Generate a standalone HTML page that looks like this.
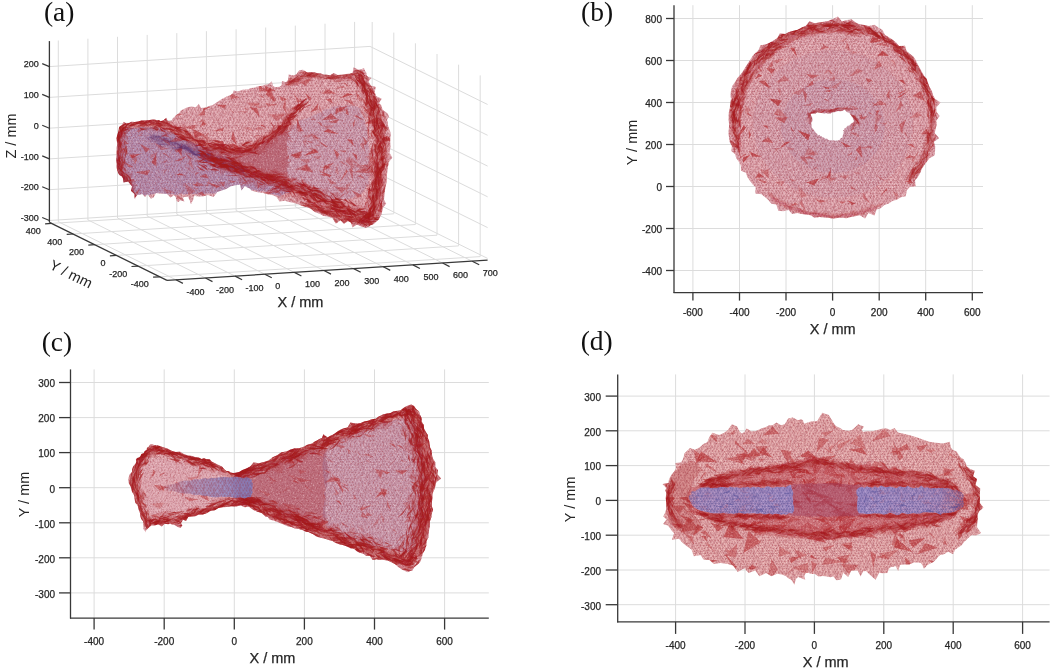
<!DOCTYPE html>
<html><head><meta charset="utf-8"><style>
html,body{margin:0;padding:0;background:#fff;width:1051px;height:670px;overflow:hidden}
svg{display:block}
</style></head><body>
<svg width="1051" height="670" viewBox="0 0 1051 670" font-family="Liberation Sans, Arial, sans-serif">
<defs>
<pattern id="mesh" patternUnits="userSpaceOnUse" width="36" height="31.32"><path d="M-1.3,-2.6L2.0,-3.2M-1.3,-2.6L-3.1,-0.3M-1.3,-2.6L0.2,0.4M2.0,-3.2L4.2,-2.5M2.0,-3.2L0.2,0.4M2.0,-3.2L3.2,-0.6M4.2,-2.5L7.0,-2.2M4.2,-2.5L3.2,-0.6M4.2,-2.5L5.2,0.3M7.0,-2.2L9.8,-3.1M7.0,-2.2L5.2,0.3M7.0,-2.2L9.7,0.7M9.8,-3.1L12.8,-2.7M9.8,-3.1L9.7,0.7M9.8,-3.1L12.3,0.7M12.8,-2.7L17.0,-2.1M12.8,-2.7L12.3,0.7M12.8,-2.7L14.4,0.5M17.0,-2.1L19.8,-2.2M17.0,-2.1L14.4,0.5M17.0,-2.1L17.8,0.4M19.8,-2.2L22.8,-2.7M19.8,-2.2L17.8,0.4M19.8,-2.2L20.7,0.2M22.8,-2.7L25.7,-2.5M22.8,-2.7L20.7,0.2M22.8,-2.7L24.2,0.4M25.7,-2.5L28.7,-2.5M25.7,-2.5L24.2,0.4M25.7,-2.5L26.6,0.6M28.7,-2.5L32.3,-2.6M28.7,-2.5L26.6,0.6M28.7,-2.5L30.8,0.7M32.3,-2.6L34.7,-2.6M32.3,-2.6L30.8,0.7M32.3,-2.6L32.9,-0.3M34.7,-2.6L38.0,-3.2M34.7,-2.6L32.9,-0.3M34.7,-2.6L36.2,0.4M38.0,-3.2L40.2,-2.5M38.0,-3.2L36.2,0.4M38.0,-3.2L39.2,-0.6M-3.1,-0.3L0.2,0.4M-3.1,-0.3L-0.7,2.6M-3.1,-0.3L-4.3,2.4M0.2,0.4L3.2,-0.6M0.2,0.4L2.0,3.3M0.2,0.4L-0.7,2.6M3.2,-0.6L5.2,0.3M3.2,-0.6L3.7,3.2M3.2,-0.6L2.0,3.3M5.2,0.3L9.7,0.7M5.2,0.3L7.2,2.3M5.2,0.3L3.7,3.2M9.7,0.7L12.3,0.7M9.7,0.7L10.2,2.4M9.7,0.7L7.2,2.3M12.3,0.7L14.4,0.5M12.3,0.7L12.9,1.9M12.3,0.7L10.2,2.4M14.4,0.5L17.8,0.4M14.4,0.5L16.2,2.5M14.4,0.5L12.9,1.9M17.8,0.4L20.7,0.2M17.8,0.4L20.0,2.9M17.8,0.4L16.2,2.5M20.7,0.2L24.2,0.4M20.7,0.2L22.9,3.1M20.7,0.2L20.0,2.9M24.2,0.4L26.6,0.6M24.2,0.4L25.7,2.9M24.2,0.4L22.9,3.1M26.6,0.6L30.8,0.7M26.6,0.6L27.7,2.5M26.6,0.6L25.7,2.9M30.8,0.7L32.9,-0.3M30.8,0.7L31.7,2.4M30.8,0.7L27.7,2.5M32.9,-0.3L36.2,0.4M32.9,-0.3L35.3,2.6M32.9,-0.3L31.7,2.4M36.2,0.4L39.2,-0.6M36.2,0.4L38.0,3.3M36.2,0.4L35.3,2.6M-0.7,2.6L2.0,3.3M-0.7,2.6L-3.4,5.2M-0.7,2.6L0.4,5.9M2.0,3.3L3.7,3.2M2.0,3.3L0.4,5.9M2.0,3.3L2.5,4.8M3.7,3.2L7.2,2.3M3.7,3.2L2.5,4.8M3.7,3.2L6.5,5.2M7.2,2.3L10.2,2.4M7.2,2.3L6.5,5.2M7.2,2.3L9.0,5.6M10.2,2.4L12.9,1.9M10.2,2.4L9.0,5.6M10.2,2.4L12.8,5.3M12.9,1.9L16.2,2.5M12.9,1.9L12.8,5.3M12.9,1.9L15.8,5.7M16.2,2.5L20.0,2.9M16.2,2.5L15.8,5.7M16.2,2.5L18.3,5.6M20.0,2.9L22.9,3.1M20.0,2.9L18.3,5.6M20.0,2.9L20.7,5.7M22.9,3.1L25.7,2.9M22.9,3.1L20.7,5.7M22.9,3.1L23.2,4.7M25.7,2.9L27.7,2.5M25.7,2.9L23.2,4.7M25.7,2.9L26.6,5.1M27.7,2.5L31.7,2.4M27.7,2.5L26.6,5.1M27.7,2.5L30.7,4.5M31.7,2.4L35.3,2.6M31.7,2.4L30.7,4.5M31.7,2.4L32.6,5.2M35.3,2.6L38.0,3.3M35.3,2.6L32.6,5.2M35.3,2.6L36.4,5.9M38.0,3.3L39.7,3.2M38.0,3.3L36.4,5.9M38.0,3.3L38.5,4.8M-3.4,5.2L0.4,5.9M-3.4,5.2L-2.1,8.0M-3.4,5.2L-5.2,7.9M0.4,5.9L2.5,4.8M0.4,5.9L0.7,7.8M0.4,5.9L-2.1,8.0M2.5,4.8L6.5,5.2M2.5,4.8L5.3,8.4M2.5,4.8L0.7,7.8M6.5,5.2L9.0,5.6M6.5,5.2L7.2,7.8M6.5,5.2L5.3,8.4M9.0,5.6L12.8,5.3M9.0,5.6L9.8,8.2M9.0,5.6L7.2,7.8M12.8,5.3L15.8,5.7M12.8,5.3L13.3,7.4M12.8,5.3L9.8,8.2M15.8,5.7L18.3,5.6M15.8,5.7L17.3,7.8M15.8,5.7L13.3,7.4M18.3,5.6L20.7,5.7M18.3,5.6L19.3,8.1M18.3,5.6L17.3,7.8M20.7,5.7L23.2,4.7M20.7,5.7L23.1,8.1M20.7,5.7L19.3,8.1M23.2,4.7L26.6,5.1M23.2,4.7L25.4,8.1M23.2,4.7L23.1,8.1M26.6,5.1L30.7,4.5M26.6,5.1L27.8,8.3M26.6,5.1L25.4,8.1M30.7,4.5L32.6,5.2M30.7,4.5L30.8,7.9M30.7,4.5L27.8,8.3M32.6,5.2L36.4,5.9M32.6,5.2L33.9,8.0M32.6,5.2L30.8,7.9M36.4,5.9L38.5,4.8M36.4,5.9L36.7,7.8M36.4,5.9L33.9,8.0M-2.1,8.0L0.7,7.8M-2.1,8.0L-3.1,10.1M-2.1,8.0L0.8,10.7M0.7,7.8L5.3,8.4M0.7,7.8L0.8,10.7M0.7,7.8L2.6,11.1M5.3,8.4L7.2,7.8M5.3,8.4L2.6,11.1M5.3,8.4L6.3,9.8M7.2,7.8L9.8,8.2M7.2,7.8L6.3,9.8M7.2,7.8L9.5,11.0M9.8,8.2L13.3,7.4M9.8,8.2L9.5,11.0M9.8,8.2L12.2,10.9M13.3,7.4L17.3,7.8M13.3,7.4L12.2,10.9M13.3,7.4L15.0,10.8M17.3,7.8L19.3,8.1M17.3,7.8L15.0,10.8M17.3,7.8L17.6,10.4M19.3,8.1L23.1,8.1M19.3,8.1L17.6,10.4M19.3,8.1L21.8,11.1M23.1,8.1L25.4,8.1M23.1,8.1L21.8,11.1M23.1,8.1L23.5,10.7M25.4,8.1L27.8,8.3M25.4,8.1L23.5,10.7M25.4,8.1L26.8,9.7M27.8,8.3L30.8,7.9M27.8,8.3L26.8,9.7M27.8,8.3L30.2,9.9M30.8,7.9L33.9,8.0M30.8,7.9L30.2,9.9M30.8,7.9L32.9,10.1M33.9,8.0L36.7,7.8M33.9,8.0L32.9,10.1M33.9,8.0L36.8,10.7M36.7,7.8L41.3,8.4M36.7,7.8L36.8,10.7M36.7,7.8L38.6,11.1M-3.1,10.1L0.8,10.7M-3.1,10.1L-1.0,13.5M-3.1,10.1L-4.3,13.6M0.8,10.7L2.6,11.1M0.8,10.7L2.2,12.5M0.8,10.7L-1.0,13.5M2.6,11.1L6.3,9.8M2.6,11.1L4.6,13.3M2.6,11.1L2.2,12.5M6.3,9.8L9.5,11.0M6.3,9.8L8.3,12.3M6.3,9.8L4.6,13.3M9.5,11.0L12.2,10.9M9.5,11.0L9.7,13.7M9.5,11.0L8.3,12.3M12.2,10.9L15.0,10.8M12.2,10.9L13.4,12.9M12.2,10.9L9.7,13.7M15.0,10.8L17.6,10.4M15.0,10.8L16.5,12.7M15.0,10.8L13.4,12.9M17.6,10.4L21.8,11.1M17.6,10.4L20.0,13.3M17.6,10.4L16.5,12.7M21.8,11.1L23.5,10.7M21.8,11.1L22.5,13.1M21.8,11.1L20.0,13.3M23.5,10.7L26.8,9.7M23.5,10.7L25.7,12.4M23.5,10.7L22.5,13.1M26.8,9.7L30.2,9.9M26.8,9.7L28.7,12.4M26.8,9.7L25.7,12.4M30.2,9.9L32.9,10.1M30.2,9.9L31.7,13.6M30.2,9.9L28.7,12.4M32.9,10.1L36.8,10.7M32.9,10.1L35.0,13.5M32.9,10.1L31.7,13.6M36.8,10.7L38.6,11.1M36.8,10.7L38.2,12.5M36.8,10.7L35.0,13.5M-1.0,13.5L2.2,12.5M-1.0,13.5L-3.8,15.7M-1.0,13.5L-0.1,15.3M2.2,12.5L4.6,13.3M2.2,12.5L-0.1,15.3M2.2,12.5L2.5,16.3M4.6,13.3L8.3,12.3M4.6,13.3L2.5,16.3M4.6,13.3L6.4,16.2M8.3,12.3L9.7,13.7M8.3,12.3L6.4,16.2M8.3,12.3L8.3,15.4M9.7,13.7L13.4,12.9M9.7,13.7L8.3,15.4M9.7,13.7L11.2,16.3M13.4,12.9L16.5,12.7M13.4,12.9L11.2,16.3M13.4,12.9L14.8,15.1M16.5,12.7L20.0,13.3M16.5,12.7L14.8,15.1M16.5,12.7L17.6,16.3M20.0,13.3L22.5,13.1M20.0,13.3L17.6,16.3M20.0,13.3L20.4,16.2M22.5,13.1L25.7,12.4M22.5,13.1L20.4,16.2M22.5,13.1L24.0,15.2M25.7,12.4L28.7,12.4M25.7,12.4L24.0,15.2M25.7,12.4L27.1,15.4M28.7,12.4L31.7,13.6M28.7,12.4L27.1,15.4M28.7,12.4L29.8,15.6M31.7,13.6L35.0,13.5M31.7,13.6L29.8,15.6M31.7,13.6L32.2,15.7M35.0,13.5L38.2,12.5M35.0,13.5L32.2,15.7M35.0,13.5L35.9,15.3M38.2,12.5L40.6,13.3M38.2,12.5L35.9,15.3M38.2,12.5L38.5,16.3M-3.8,15.7L-0.1,15.3M-3.8,15.7L-1.9,18.9M-3.8,15.7L-5.0,18.0M-0.1,15.3L2.5,16.3M-0.1,15.3L1.6,18.4M-0.1,15.3L-1.9,18.9M2.5,16.3L6.4,16.2M2.5,16.3L4.8,19.0M2.5,16.3L1.6,18.4M6.4,16.2L8.3,15.4M6.4,16.2L6.7,18.7M6.4,16.2L4.8,19.0M8.3,15.4L11.2,16.3M8.3,15.4L10.7,18.9M8.3,15.4L6.7,18.7M11.2,16.3L14.8,15.1M11.2,16.3L12.7,18.3M11.2,16.3L10.7,18.9M14.8,15.1L17.6,16.3M14.8,15.1L16.3,19.0M14.8,15.1L12.7,18.3M17.6,16.3L20.4,16.2M17.6,16.3L19.8,18.4M17.6,16.3L16.3,19.0M20.4,16.2L24.0,15.2M20.4,16.2L23.2,18.2M20.4,16.2L19.8,18.4M24.0,15.2L27.1,15.4M24.0,15.2L24.7,17.7M24.0,15.2L23.2,18.2M27.1,15.4L29.8,15.6M27.1,15.4L28.6,19.0M27.1,15.4L24.7,17.7M29.8,15.6L32.2,15.7M29.8,15.6L31.0,18.0M29.8,15.6L28.6,19.0M32.2,15.7L35.9,15.3M32.2,15.7L34.1,18.9M32.2,15.7L31.0,18.0M35.9,15.3L38.5,16.3M35.9,15.3L37.6,18.4M35.9,15.3L34.1,18.9M-1.9,18.9L1.6,18.4M-1.9,18.9L-2.5,20.5M-1.9,18.9L-0.8,20.5M1.6,18.4L4.8,19.0M1.6,18.4L-0.8,20.5M1.6,18.4L3.7,20.6M4.8,19.0L6.7,18.7M4.8,19.0L3.7,20.6M4.8,19.0L5.8,21.0M6.7,18.7L10.7,18.9M6.7,18.7L5.8,21.0M6.7,18.7L8.7,21.5M10.7,18.9L12.7,18.3M10.7,18.9L8.7,21.5M10.7,18.9L12.6,20.3M12.7,18.3L16.3,19.0M12.7,18.3L12.6,20.3M12.7,18.3L15.8,21.1M16.3,19.0L19.8,18.4M16.3,19.0L15.8,21.1M16.3,19.0L17.2,21.0M19.8,18.4L23.2,18.2M19.8,18.4L17.2,21.0M19.8,18.4L21.3,21.2M23.2,18.2L24.7,17.7M23.2,18.2L21.3,21.2M23.2,18.2L23.7,20.4M24.7,17.7L28.6,19.0M24.7,17.7L23.7,20.4M24.7,17.7L27.5,20.8M28.6,19.0L31.0,18.0M28.6,19.0L27.5,20.8M28.6,19.0L30.8,20.7M31.0,18.0L34.1,18.9M31.0,18.0L30.8,20.7M31.0,18.0L33.5,20.5M34.1,18.9L37.6,18.4M34.1,18.9L33.5,20.5M34.1,18.9L35.2,20.5M37.6,18.4L40.8,19.0M37.6,18.4L35.2,20.5M37.6,18.4L39.7,20.6M-2.5,20.5L-0.8,20.5M-2.5,20.5L-1.9,23.0M-2.5,20.5L-3.7,24.1M-0.8,20.5L3.7,20.6M-0.8,20.5L1.1,24.1M-0.8,20.5L-1.9,23.0M3.7,20.6L5.8,21.0M3.7,20.6L4.3,23.0M3.7,20.6L1.1,24.1M5.8,21.0L8.7,21.5M5.8,21.0L6.7,22.8M5.8,21.0L4.3,23.0M8.7,21.5L12.6,20.3M8.7,21.5L10.6,23.2M8.7,21.5L6.7,22.8M12.6,20.3L15.8,21.1M12.6,20.3L13.9,24.2M12.6,20.3L10.6,23.2M15.8,21.1L17.2,21.0M15.8,21.1L16.5,23.2M15.8,21.1L13.9,24.2M17.2,21.0L21.3,21.2M17.2,21.0L19.1,23.7M17.2,21.0L16.5,23.2M21.3,21.2L23.7,20.4M21.3,21.2L22.9,23.0M21.3,21.2L19.1,23.7M23.7,20.4L27.5,20.8M23.7,20.4L25.0,22.8M23.7,20.4L22.9,23.0M27.5,20.8L30.8,20.7M27.5,20.8L29.0,23.7M27.5,20.8L25.0,22.8M30.8,20.7L33.5,20.5M30.8,20.7L32.3,24.1M30.8,20.7L29.0,23.7M33.5,20.5L35.2,20.5M33.5,20.5L34.1,23.0M33.5,20.5L32.3,24.1M35.2,20.5L39.7,20.6M35.2,20.5L37.1,24.1M35.2,20.5L34.1,23.0M-1.9,23.0L1.1,24.1M-1.9,23.0L-2.2,25.8M-1.9,23.0L0.5,25.6M1.1,24.1L4.3,23.0M1.1,24.1L0.5,25.6M1.1,24.1L2.4,25.4M4.3,23.0L6.7,22.8M4.3,23.0L2.4,25.4M4.3,23.0L5.5,26.8M6.7,22.8L10.6,23.2M6.7,22.8L5.5,26.8M6.7,22.8L8.7,25.6M10.6,23.2L13.9,24.2M10.6,23.2L8.7,25.6M10.6,23.2L12.2,26.5M13.9,24.2L16.5,23.2M13.9,24.2L12.2,26.5M13.9,24.2L14.3,25.8M16.5,23.2L19.1,23.7M16.5,23.2L14.3,25.8M16.5,23.2L17.9,26.6M19.1,23.7L22.9,23.0M19.1,23.7L17.9,26.6M19.1,23.7L21.5,26.2M22.9,23.0L25.0,22.8M22.9,23.0L21.5,26.2M22.9,23.0L23.9,25.9M25.0,22.8L29.0,23.7M25.0,22.8L23.9,25.9M25.0,22.8L26.8,25.6M29.0,23.7L32.3,24.1M29.0,23.7L26.8,25.6M29.0,23.7L30.2,25.7M32.3,24.1L34.1,23.0M32.3,24.1L30.2,25.7M32.3,24.1L33.8,25.8M34.1,23.0L37.1,24.1M34.1,23.0L33.8,25.8M34.1,23.0L36.5,25.6M37.1,24.1L40.3,23.0M37.1,24.1L36.5,25.6M37.1,24.1L38.4,25.4M-2.2,25.8L0.5,25.6M-2.2,25.8L-1.3,28.7M-2.2,25.8L-3.7,28.7M0.5,25.6L2.4,25.4M0.5,25.6L2.0,28.2M0.5,25.6L-1.3,28.7M2.4,25.4L5.5,26.8M2.4,25.4L4.2,28.9M2.4,25.4L2.0,28.2M5.5,26.8L8.7,25.6M5.5,26.8L7.0,29.1M5.5,26.8L4.2,28.9M8.7,25.6L12.2,26.5M8.7,25.6L9.8,28.2M8.7,25.6L7.0,29.1M12.2,26.5L14.3,25.8M12.2,26.5L12.8,28.6M12.2,26.5L9.8,28.2M14.3,25.8L17.9,26.6M14.3,25.8L17.0,29.3M14.3,25.8L12.8,28.6M17.9,26.6L21.5,26.2M17.9,26.6L19.8,29.2M17.9,26.6L17.0,29.3M21.5,26.2L23.9,25.9M21.5,26.2L22.8,28.6M21.5,26.2L19.8,29.2M23.9,25.9L26.8,25.6M23.9,25.9L25.7,28.8M23.9,25.9L22.8,28.6M26.8,25.6L30.2,25.7M26.8,25.6L28.7,28.8M26.8,25.6L25.7,28.8M30.2,25.7L33.8,25.8M30.2,25.7L32.3,28.7M30.2,25.7L28.7,28.8M33.8,25.8L36.5,25.6M33.8,25.8L34.7,28.7M33.8,25.8L32.3,28.7M36.5,25.6L38.4,25.4M36.5,25.6L38.0,28.2M36.5,25.6L34.7,28.7M-1.3,28.7L2.0,28.2M-1.3,28.7L-3.1,31.0M-1.3,28.7L0.2,31.7M2.0,28.2L4.2,28.9M2.0,28.2L0.2,31.7M2.0,28.2L3.2,30.8M4.2,28.9L7.0,29.1M4.2,28.9L3.2,30.8M4.2,28.9L5.2,31.6M7.0,29.1L9.8,28.2M7.0,29.1L5.2,31.6M7.0,29.1L9.7,32.0M9.8,28.2L12.8,28.6M9.8,28.2L9.7,32.0M9.8,28.2L12.3,32.1M12.8,28.6L17.0,29.3M12.8,28.6L12.3,32.1M12.8,28.6L14.4,31.8M17.0,29.3L19.8,29.2M17.0,29.3L14.4,31.8M17.0,29.3L17.8,31.7M19.8,29.2L22.8,28.6M19.8,29.2L17.8,31.7M19.8,29.2L20.7,31.5M22.8,28.6L25.7,28.8M22.8,28.6L20.7,31.5M22.8,28.6L24.2,31.7M25.7,28.8L28.7,28.8M25.7,28.8L24.2,31.7M25.7,28.8L26.6,31.9M28.7,28.8L32.3,28.7M28.7,28.8L26.6,31.9M28.7,28.8L30.8,32.0M32.3,28.7L34.7,28.7M32.3,28.7L30.8,32.0M32.3,28.7L32.9,31.0M34.7,28.7L38.0,28.2M34.7,28.7L32.9,31.0M34.7,28.7L36.2,31.7M38.0,28.2L40.2,28.9M38.0,28.2L36.2,31.7M38.0,28.2L39.2,30.8M-3.1,31.0L0.2,31.7M-3.1,31.0L-0.7,33.9M-3.1,31.0L-4.3,33.7M0.2,31.7L3.2,30.8M0.2,31.7L2.0,34.6M0.2,31.7L-0.7,33.9M3.2,30.8L5.2,31.6M3.2,30.8L3.7,34.5M3.2,30.8L2.0,34.6M5.2,31.6L9.7,32.0M5.2,31.6L7.2,33.6M5.2,31.6L3.7,34.5M9.7,32.0L12.3,32.1M9.7,32.0L10.2,33.7M9.7,32.0L7.2,33.6M12.3,32.1L14.4,31.8M12.3,32.1L12.9,33.3M12.3,32.1L10.2,33.7M14.4,31.8L17.8,31.7M14.4,31.8L16.2,33.9M14.4,31.8L12.9,33.3M17.8,31.7L20.7,31.5M17.8,31.7L20.0,34.2M17.8,31.7L16.2,33.9M20.7,31.5L24.2,31.7M20.7,31.5L22.9,34.4M20.7,31.5L20.0,34.2M24.2,31.7L26.6,31.9M24.2,31.7L25.7,34.3M24.2,31.7L22.9,34.4M26.6,31.9L30.8,32.0M26.6,31.9L27.7,33.8M26.6,31.9L25.7,34.3M30.8,32.0L32.9,31.0M30.8,32.0L31.7,33.7M30.8,32.0L27.7,33.8M32.9,31.0L36.2,31.7M32.9,31.0L35.3,33.9M32.9,31.0L31.7,33.7M36.2,31.7L39.2,30.8M36.2,31.7L38.0,34.6M36.2,31.7L35.3,33.9" stroke="rgb(150,50,70)" stroke-width="0.55" stroke-opacity="0.42" fill="none"/></pattern>
<pattern id="meshb" patternUnits="userSpaceOnUse" width="36" height="31.32"><path d="M-1.3,-2.6L2.0,-3.2M-1.3,-2.6L-3.1,-0.3M-1.3,-2.6L0.2,0.4M2.0,-3.2L4.2,-2.5M2.0,-3.2L0.2,0.4M2.0,-3.2L3.2,-0.6M4.2,-2.5L7.0,-2.2M4.2,-2.5L3.2,-0.6M4.2,-2.5L5.2,0.3M7.0,-2.2L9.8,-3.1M7.0,-2.2L5.2,0.3M7.0,-2.2L9.7,0.7M9.8,-3.1L12.8,-2.7M9.8,-3.1L9.7,0.7M9.8,-3.1L12.3,0.7M12.8,-2.7L17.0,-2.1M12.8,-2.7L12.3,0.7M12.8,-2.7L14.4,0.5M17.0,-2.1L19.8,-2.2M17.0,-2.1L14.4,0.5M17.0,-2.1L17.8,0.4M19.8,-2.2L22.8,-2.7M19.8,-2.2L17.8,0.4M19.8,-2.2L20.7,0.2M22.8,-2.7L25.7,-2.5M22.8,-2.7L20.7,0.2M22.8,-2.7L24.2,0.4M25.7,-2.5L28.7,-2.5M25.7,-2.5L24.2,0.4M25.7,-2.5L26.6,0.6M28.7,-2.5L32.3,-2.6M28.7,-2.5L26.6,0.6M28.7,-2.5L30.8,0.7M32.3,-2.6L34.7,-2.6M32.3,-2.6L30.8,0.7M32.3,-2.6L32.9,-0.3M34.7,-2.6L38.0,-3.2M34.7,-2.6L32.9,-0.3M34.7,-2.6L36.2,0.4M38.0,-3.2L40.2,-2.5M38.0,-3.2L36.2,0.4M38.0,-3.2L39.2,-0.6M-3.1,-0.3L0.2,0.4M-3.1,-0.3L-0.7,2.6M-3.1,-0.3L-4.3,2.4M0.2,0.4L3.2,-0.6M0.2,0.4L2.0,3.3M0.2,0.4L-0.7,2.6M3.2,-0.6L5.2,0.3M3.2,-0.6L3.7,3.2M3.2,-0.6L2.0,3.3M5.2,0.3L9.7,0.7M5.2,0.3L7.2,2.3M5.2,0.3L3.7,3.2M9.7,0.7L12.3,0.7M9.7,0.7L10.2,2.4M9.7,0.7L7.2,2.3M12.3,0.7L14.4,0.5M12.3,0.7L12.9,1.9M12.3,0.7L10.2,2.4M14.4,0.5L17.8,0.4M14.4,0.5L16.2,2.5M14.4,0.5L12.9,1.9M17.8,0.4L20.7,0.2M17.8,0.4L20.0,2.9M17.8,0.4L16.2,2.5M20.7,0.2L24.2,0.4M20.7,0.2L22.9,3.1M20.7,0.2L20.0,2.9M24.2,0.4L26.6,0.6M24.2,0.4L25.7,2.9M24.2,0.4L22.9,3.1M26.6,0.6L30.8,0.7M26.6,0.6L27.7,2.5M26.6,0.6L25.7,2.9M30.8,0.7L32.9,-0.3M30.8,0.7L31.7,2.4M30.8,0.7L27.7,2.5M32.9,-0.3L36.2,0.4M32.9,-0.3L35.3,2.6M32.9,-0.3L31.7,2.4M36.2,0.4L39.2,-0.6M36.2,0.4L38.0,3.3M36.2,0.4L35.3,2.6M-0.7,2.6L2.0,3.3M-0.7,2.6L-3.4,5.2M-0.7,2.6L0.4,5.9M2.0,3.3L3.7,3.2M2.0,3.3L0.4,5.9M2.0,3.3L2.5,4.8M3.7,3.2L7.2,2.3M3.7,3.2L2.5,4.8M3.7,3.2L6.5,5.2M7.2,2.3L10.2,2.4M7.2,2.3L6.5,5.2M7.2,2.3L9.0,5.6M10.2,2.4L12.9,1.9M10.2,2.4L9.0,5.6M10.2,2.4L12.8,5.3M12.9,1.9L16.2,2.5M12.9,1.9L12.8,5.3M12.9,1.9L15.8,5.7M16.2,2.5L20.0,2.9M16.2,2.5L15.8,5.7M16.2,2.5L18.3,5.6M20.0,2.9L22.9,3.1M20.0,2.9L18.3,5.6M20.0,2.9L20.7,5.7M22.9,3.1L25.7,2.9M22.9,3.1L20.7,5.7M22.9,3.1L23.2,4.7M25.7,2.9L27.7,2.5M25.7,2.9L23.2,4.7M25.7,2.9L26.6,5.1M27.7,2.5L31.7,2.4M27.7,2.5L26.6,5.1M27.7,2.5L30.7,4.5M31.7,2.4L35.3,2.6M31.7,2.4L30.7,4.5M31.7,2.4L32.6,5.2M35.3,2.6L38.0,3.3M35.3,2.6L32.6,5.2M35.3,2.6L36.4,5.9M38.0,3.3L39.7,3.2M38.0,3.3L36.4,5.9M38.0,3.3L38.5,4.8M-3.4,5.2L0.4,5.9M-3.4,5.2L-2.1,8.0M-3.4,5.2L-5.2,7.9M0.4,5.9L2.5,4.8M0.4,5.9L0.7,7.8M0.4,5.9L-2.1,8.0M2.5,4.8L6.5,5.2M2.5,4.8L5.3,8.4M2.5,4.8L0.7,7.8M6.5,5.2L9.0,5.6M6.5,5.2L7.2,7.8M6.5,5.2L5.3,8.4M9.0,5.6L12.8,5.3M9.0,5.6L9.8,8.2M9.0,5.6L7.2,7.8M12.8,5.3L15.8,5.7M12.8,5.3L13.3,7.4M12.8,5.3L9.8,8.2M15.8,5.7L18.3,5.6M15.8,5.7L17.3,7.8M15.8,5.7L13.3,7.4M18.3,5.6L20.7,5.7M18.3,5.6L19.3,8.1M18.3,5.6L17.3,7.8M20.7,5.7L23.2,4.7M20.7,5.7L23.1,8.1M20.7,5.7L19.3,8.1M23.2,4.7L26.6,5.1M23.2,4.7L25.4,8.1M23.2,4.7L23.1,8.1M26.6,5.1L30.7,4.5M26.6,5.1L27.8,8.3M26.6,5.1L25.4,8.1M30.7,4.5L32.6,5.2M30.7,4.5L30.8,7.9M30.7,4.5L27.8,8.3M32.6,5.2L36.4,5.9M32.6,5.2L33.9,8.0M32.6,5.2L30.8,7.9M36.4,5.9L38.5,4.8M36.4,5.9L36.7,7.8M36.4,5.9L33.9,8.0M-2.1,8.0L0.7,7.8M-2.1,8.0L-3.1,10.1M-2.1,8.0L0.8,10.7M0.7,7.8L5.3,8.4M0.7,7.8L0.8,10.7M0.7,7.8L2.6,11.1M5.3,8.4L7.2,7.8M5.3,8.4L2.6,11.1M5.3,8.4L6.3,9.8M7.2,7.8L9.8,8.2M7.2,7.8L6.3,9.8M7.2,7.8L9.5,11.0M9.8,8.2L13.3,7.4M9.8,8.2L9.5,11.0M9.8,8.2L12.2,10.9M13.3,7.4L17.3,7.8M13.3,7.4L12.2,10.9M13.3,7.4L15.0,10.8M17.3,7.8L19.3,8.1M17.3,7.8L15.0,10.8M17.3,7.8L17.6,10.4M19.3,8.1L23.1,8.1M19.3,8.1L17.6,10.4M19.3,8.1L21.8,11.1M23.1,8.1L25.4,8.1M23.1,8.1L21.8,11.1M23.1,8.1L23.5,10.7M25.4,8.1L27.8,8.3M25.4,8.1L23.5,10.7M25.4,8.1L26.8,9.7M27.8,8.3L30.8,7.9M27.8,8.3L26.8,9.7M27.8,8.3L30.2,9.9M30.8,7.9L33.9,8.0M30.8,7.9L30.2,9.9M30.8,7.9L32.9,10.1M33.9,8.0L36.7,7.8M33.9,8.0L32.9,10.1M33.9,8.0L36.8,10.7M36.7,7.8L41.3,8.4M36.7,7.8L36.8,10.7M36.7,7.8L38.6,11.1M-3.1,10.1L0.8,10.7M-3.1,10.1L-1.0,13.5M-3.1,10.1L-4.3,13.6M0.8,10.7L2.6,11.1M0.8,10.7L2.2,12.5M0.8,10.7L-1.0,13.5M2.6,11.1L6.3,9.8M2.6,11.1L4.6,13.3M2.6,11.1L2.2,12.5M6.3,9.8L9.5,11.0M6.3,9.8L8.3,12.3M6.3,9.8L4.6,13.3M9.5,11.0L12.2,10.9M9.5,11.0L9.7,13.7M9.5,11.0L8.3,12.3M12.2,10.9L15.0,10.8M12.2,10.9L13.4,12.9M12.2,10.9L9.7,13.7M15.0,10.8L17.6,10.4M15.0,10.8L16.5,12.7M15.0,10.8L13.4,12.9M17.6,10.4L21.8,11.1M17.6,10.4L20.0,13.3M17.6,10.4L16.5,12.7M21.8,11.1L23.5,10.7M21.8,11.1L22.5,13.1M21.8,11.1L20.0,13.3M23.5,10.7L26.8,9.7M23.5,10.7L25.7,12.4M23.5,10.7L22.5,13.1M26.8,9.7L30.2,9.9M26.8,9.7L28.7,12.4M26.8,9.7L25.7,12.4M30.2,9.9L32.9,10.1M30.2,9.9L31.7,13.6M30.2,9.9L28.7,12.4M32.9,10.1L36.8,10.7M32.9,10.1L35.0,13.5M32.9,10.1L31.7,13.6M36.8,10.7L38.6,11.1M36.8,10.7L38.2,12.5M36.8,10.7L35.0,13.5M-1.0,13.5L2.2,12.5M-1.0,13.5L-3.8,15.7M-1.0,13.5L-0.1,15.3M2.2,12.5L4.6,13.3M2.2,12.5L-0.1,15.3M2.2,12.5L2.5,16.3M4.6,13.3L8.3,12.3M4.6,13.3L2.5,16.3M4.6,13.3L6.4,16.2M8.3,12.3L9.7,13.7M8.3,12.3L6.4,16.2M8.3,12.3L8.3,15.4M9.7,13.7L13.4,12.9M9.7,13.7L8.3,15.4M9.7,13.7L11.2,16.3M13.4,12.9L16.5,12.7M13.4,12.9L11.2,16.3M13.4,12.9L14.8,15.1M16.5,12.7L20.0,13.3M16.5,12.7L14.8,15.1M16.5,12.7L17.6,16.3M20.0,13.3L22.5,13.1M20.0,13.3L17.6,16.3M20.0,13.3L20.4,16.2M22.5,13.1L25.7,12.4M22.5,13.1L20.4,16.2M22.5,13.1L24.0,15.2M25.7,12.4L28.7,12.4M25.7,12.4L24.0,15.2M25.7,12.4L27.1,15.4M28.7,12.4L31.7,13.6M28.7,12.4L27.1,15.4M28.7,12.4L29.8,15.6M31.7,13.6L35.0,13.5M31.7,13.6L29.8,15.6M31.7,13.6L32.2,15.7M35.0,13.5L38.2,12.5M35.0,13.5L32.2,15.7M35.0,13.5L35.9,15.3M38.2,12.5L40.6,13.3M38.2,12.5L35.9,15.3M38.2,12.5L38.5,16.3M-3.8,15.7L-0.1,15.3M-3.8,15.7L-1.9,18.9M-3.8,15.7L-5.0,18.0M-0.1,15.3L2.5,16.3M-0.1,15.3L1.6,18.4M-0.1,15.3L-1.9,18.9M2.5,16.3L6.4,16.2M2.5,16.3L4.8,19.0M2.5,16.3L1.6,18.4M6.4,16.2L8.3,15.4M6.4,16.2L6.7,18.7M6.4,16.2L4.8,19.0M8.3,15.4L11.2,16.3M8.3,15.4L10.7,18.9M8.3,15.4L6.7,18.7M11.2,16.3L14.8,15.1M11.2,16.3L12.7,18.3M11.2,16.3L10.7,18.9M14.8,15.1L17.6,16.3M14.8,15.1L16.3,19.0M14.8,15.1L12.7,18.3M17.6,16.3L20.4,16.2M17.6,16.3L19.8,18.4M17.6,16.3L16.3,19.0M20.4,16.2L24.0,15.2M20.4,16.2L23.2,18.2M20.4,16.2L19.8,18.4M24.0,15.2L27.1,15.4M24.0,15.2L24.7,17.7M24.0,15.2L23.2,18.2M27.1,15.4L29.8,15.6M27.1,15.4L28.6,19.0M27.1,15.4L24.7,17.7M29.8,15.6L32.2,15.7M29.8,15.6L31.0,18.0M29.8,15.6L28.6,19.0M32.2,15.7L35.9,15.3M32.2,15.7L34.1,18.9M32.2,15.7L31.0,18.0M35.9,15.3L38.5,16.3M35.9,15.3L37.6,18.4M35.9,15.3L34.1,18.9M-1.9,18.9L1.6,18.4M-1.9,18.9L-2.5,20.5M-1.9,18.9L-0.8,20.5M1.6,18.4L4.8,19.0M1.6,18.4L-0.8,20.5M1.6,18.4L3.7,20.6M4.8,19.0L6.7,18.7M4.8,19.0L3.7,20.6M4.8,19.0L5.8,21.0M6.7,18.7L10.7,18.9M6.7,18.7L5.8,21.0M6.7,18.7L8.7,21.5M10.7,18.9L12.7,18.3M10.7,18.9L8.7,21.5M10.7,18.9L12.6,20.3M12.7,18.3L16.3,19.0M12.7,18.3L12.6,20.3M12.7,18.3L15.8,21.1M16.3,19.0L19.8,18.4M16.3,19.0L15.8,21.1M16.3,19.0L17.2,21.0M19.8,18.4L23.2,18.2M19.8,18.4L17.2,21.0M19.8,18.4L21.3,21.2M23.2,18.2L24.7,17.7M23.2,18.2L21.3,21.2M23.2,18.2L23.7,20.4M24.7,17.7L28.6,19.0M24.7,17.7L23.7,20.4M24.7,17.7L27.5,20.8M28.6,19.0L31.0,18.0M28.6,19.0L27.5,20.8M28.6,19.0L30.8,20.7M31.0,18.0L34.1,18.9M31.0,18.0L30.8,20.7M31.0,18.0L33.5,20.5M34.1,18.9L37.6,18.4M34.1,18.9L33.5,20.5M34.1,18.9L35.2,20.5M37.6,18.4L40.8,19.0M37.6,18.4L35.2,20.5M37.6,18.4L39.7,20.6M-2.5,20.5L-0.8,20.5M-2.5,20.5L-1.9,23.0M-2.5,20.5L-3.7,24.1M-0.8,20.5L3.7,20.6M-0.8,20.5L1.1,24.1M-0.8,20.5L-1.9,23.0M3.7,20.6L5.8,21.0M3.7,20.6L4.3,23.0M3.7,20.6L1.1,24.1M5.8,21.0L8.7,21.5M5.8,21.0L6.7,22.8M5.8,21.0L4.3,23.0M8.7,21.5L12.6,20.3M8.7,21.5L10.6,23.2M8.7,21.5L6.7,22.8M12.6,20.3L15.8,21.1M12.6,20.3L13.9,24.2M12.6,20.3L10.6,23.2M15.8,21.1L17.2,21.0M15.8,21.1L16.5,23.2M15.8,21.1L13.9,24.2M17.2,21.0L21.3,21.2M17.2,21.0L19.1,23.7M17.2,21.0L16.5,23.2M21.3,21.2L23.7,20.4M21.3,21.2L22.9,23.0M21.3,21.2L19.1,23.7M23.7,20.4L27.5,20.8M23.7,20.4L25.0,22.8M23.7,20.4L22.9,23.0M27.5,20.8L30.8,20.7M27.5,20.8L29.0,23.7M27.5,20.8L25.0,22.8M30.8,20.7L33.5,20.5M30.8,20.7L32.3,24.1M30.8,20.7L29.0,23.7M33.5,20.5L35.2,20.5M33.5,20.5L34.1,23.0M33.5,20.5L32.3,24.1M35.2,20.5L39.7,20.6M35.2,20.5L37.1,24.1M35.2,20.5L34.1,23.0M-1.9,23.0L1.1,24.1M-1.9,23.0L-2.2,25.8M-1.9,23.0L0.5,25.6M1.1,24.1L4.3,23.0M1.1,24.1L0.5,25.6M1.1,24.1L2.4,25.4M4.3,23.0L6.7,22.8M4.3,23.0L2.4,25.4M4.3,23.0L5.5,26.8M6.7,22.8L10.6,23.2M6.7,22.8L5.5,26.8M6.7,22.8L8.7,25.6M10.6,23.2L13.9,24.2M10.6,23.2L8.7,25.6M10.6,23.2L12.2,26.5M13.9,24.2L16.5,23.2M13.9,24.2L12.2,26.5M13.9,24.2L14.3,25.8M16.5,23.2L19.1,23.7M16.5,23.2L14.3,25.8M16.5,23.2L17.9,26.6M19.1,23.7L22.9,23.0M19.1,23.7L17.9,26.6M19.1,23.7L21.5,26.2M22.9,23.0L25.0,22.8M22.9,23.0L21.5,26.2M22.9,23.0L23.9,25.9M25.0,22.8L29.0,23.7M25.0,22.8L23.9,25.9M25.0,22.8L26.8,25.6M29.0,23.7L32.3,24.1M29.0,23.7L26.8,25.6M29.0,23.7L30.2,25.7M32.3,24.1L34.1,23.0M32.3,24.1L30.2,25.7M32.3,24.1L33.8,25.8M34.1,23.0L37.1,24.1M34.1,23.0L33.8,25.8M34.1,23.0L36.5,25.6M37.1,24.1L40.3,23.0M37.1,24.1L36.5,25.6M37.1,24.1L38.4,25.4M-2.2,25.8L0.5,25.6M-2.2,25.8L-1.3,28.7M-2.2,25.8L-3.7,28.7M0.5,25.6L2.4,25.4M0.5,25.6L2.0,28.2M0.5,25.6L-1.3,28.7M2.4,25.4L5.5,26.8M2.4,25.4L4.2,28.9M2.4,25.4L2.0,28.2M5.5,26.8L8.7,25.6M5.5,26.8L7.0,29.1M5.5,26.8L4.2,28.9M8.7,25.6L12.2,26.5M8.7,25.6L9.8,28.2M8.7,25.6L7.0,29.1M12.2,26.5L14.3,25.8M12.2,26.5L12.8,28.6M12.2,26.5L9.8,28.2M14.3,25.8L17.9,26.6M14.3,25.8L17.0,29.3M14.3,25.8L12.8,28.6M17.9,26.6L21.5,26.2M17.9,26.6L19.8,29.2M17.9,26.6L17.0,29.3M21.5,26.2L23.9,25.9M21.5,26.2L22.8,28.6M21.5,26.2L19.8,29.2M23.9,25.9L26.8,25.6M23.9,25.9L25.7,28.8M23.9,25.9L22.8,28.6M26.8,25.6L30.2,25.7M26.8,25.6L28.7,28.8M26.8,25.6L25.7,28.8M30.2,25.7L33.8,25.8M30.2,25.7L32.3,28.7M30.2,25.7L28.7,28.8M33.8,25.8L36.5,25.6M33.8,25.8L34.7,28.7M33.8,25.8L32.3,28.7M36.5,25.6L38.4,25.4M36.5,25.6L38.0,28.2M36.5,25.6L34.7,28.7M-1.3,28.7L2.0,28.2M-1.3,28.7L-3.1,31.0M-1.3,28.7L0.2,31.7M2.0,28.2L4.2,28.9M2.0,28.2L0.2,31.7M2.0,28.2L3.2,30.8M4.2,28.9L7.0,29.1M4.2,28.9L3.2,30.8M4.2,28.9L5.2,31.6M7.0,29.1L9.8,28.2M7.0,29.1L5.2,31.6M7.0,29.1L9.7,32.0M9.8,28.2L12.8,28.6M9.8,28.2L9.7,32.0M9.8,28.2L12.3,32.1M12.8,28.6L17.0,29.3M12.8,28.6L12.3,32.1M12.8,28.6L14.4,31.8M17.0,29.3L19.8,29.2M17.0,29.3L14.4,31.8M17.0,29.3L17.8,31.7M19.8,29.2L22.8,28.6M19.8,29.2L17.8,31.7M19.8,29.2L20.7,31.5M22.8,28.6L25.7,28.8M22.8,28.6L20.7,31.5M22.8,28.6L24.2,31.7M25.7,28.8L28.7,28.8M25.7,28.8L24.2,31.7M25.7,28.8L26.6,31.9M28.7,28.8L32.3,28.7M28.7,28.8L26.6,31.9M28.7,28.8L30.8,32.0M32.3,28.7L34.7,28.7M32.3,28.7L30.8,32.0M32.3,28.7L32.9,31.0M34.7,28.7L38.0,28.2M34.7,28.7L32.9,31.0M34.7,28.7L36.2,31.7M38.0,28.2L40.2,28.9M38.0,28.2L36.2,31.7M38.0,28.2L39.2,30.8M-3.1,31.0L0.2,31.7M-3.1,31.0L-0.7,33.9M-3.1,31.0L-4.3,33.7M0.2,31.7L3.2,30.8M0.2,31.7L2.0,34.6M0.2,31.7L-0.7,33.9M3.2,30.8L5.2,31.6M3.2,30.8L3.7,34.5M3.2,30.8L2.0,34.6M5.2,31.6L9.7,32.0M5.2,31.6L7.2,33.6M5.2,31.6L3.7,34.5M9.7,32.0L12.3,32.1M9.7,32.0L10.2,33.7M9.7,32.0L7.2,33.6M12.3,32.1L14.4,31.8M12.3,32.1L12.9,33.3M12.3,32.1L10.2,33.7M14.4,31.8L17.8,31.7M14.4,31.8L16.2,33.9M14.4,31.8L12.9,33.3M17.8,31.7L20.7,31.5M17.8,31.7L20.0,34.2M17.8,31.7L16.2,33.9M20.7,31.5L24.2,31.7M20.7,31.5L22.9,34.4M20.7,31.5L20.0,34.2M24.2,31.7L26.6,31.9M24.2,31.7L25.7,34.3M24.2,31.7L22.9,34.4M26.6,31.9L30.8,32.0M26.6,31.9L27.7,33.8M26.6,31.9L25.7,34.3M30.8,32.0L32.9,31.0M30.8,32.0L31.7,33.7M30.8,32.0L27.7,33.8M32.9,31.0L36.2,31.7M32.9,31.0L35.3,33.9M32.9,31.0L31.7,33.7M36.2,31.7L39.2,30.8M36.2,31.7L38.0,34.6M36.2,31.7L35.3,33.9" stroke="rgb(75,70,140)" stroke-width="0.55" stroke-opacity="0.6" fill="none"/></pattern>
<filter id="soft" x="-5%" y="-5%" width="110%" height="110%"><feGaussianBlur stdDeviation="0.55"/></filter>
<filter id="tex" x="0" y="0" width="1" height="1" filterUnits="objectBoundingBox" color-interpolation-filters="sRGB">
<feTurbulence type="fractalNoise" baseFrequency="0.6" numOctaves="2" seed="4" result="n0"/>
<feGaussianBlur in="n0" stdDeviation="0.3" result="n"/>
<feColorMatrix in="n" type="matrix" values="0 0 0 0 0.62  0 0 0 0 0.18  0 0 0 0 0.22  0 0 0 1.2 -0.62" result="d"/>
<feColorMatrix in="n" type="matrix" values="0 0 0 0 1  0 0 0 0 0.9  0 0 0 0 0.9  1.2 0 0 0 -0.62" result="l"/>
<feComposite in="d" in2="SourceGraphic" operator="in" result="dm"/>
<feComposite in="l" in2="SourceGraphic" operator="in" result="lm"/>
<feMerge><feMergeNode in="SourceGraphic"/><feMergeNode in="lm"/><feMergeNode in="dm"/></feMerge>
</filter>
</defs>
<rect width="1051" height="670" fill="#ffffff"/>
<line x1="58.3" y1="221.7" x2="58.3" y2="40.5" stroke="#dcdcdc" stroke-width="1.0"/>
<line x1="87.9" y1="219.9" x2="87.9" y2="38.7" stroke="#dcdcdc" stroke-width="1.0"/>
<line x1="117.5" y1="218.0" x2="117.5" y2="36.8" stroke="#dcdcdc" stroke-width="1.0"/>
<line x1="147.2" y1="216.1" x2="147.2" y2="34.9" stroke="#dcdcdc" stroke-width="1.0"/>
<line x1="176.8" y1="214.3" x2="176.8" y2="33.1" stroke="#dcdcdc" stroke-width="1.0"/>
<line x1="206.4" y1="212.4" x2="206.4" y2="31.2" stroke="#dcdcdc" stroke-width="1.0"/>
<line x1="236.1" y1="210.5" x2="236.1" y2="29.3" stroke="#dcdcdc" stroke-width="1.0"/>
<line x1="265.7" y1="208.7" x2="265.7" y2="27.5" stroke="#dcdcdc" stroke-width="1.0"/>
<line x1="295.3" y1="206.8" x2="295.3" y2="25.6" stroke="#dcdcdc" stroke-width="1.0"/>
<line x1="325.0" y1="204.9" x2="325.0" y2="23.7" stroke="#dcdcdc" stroke-width="1.0"/>
<line x1="354.6" y1="203.1" x2="354.6" y2="21.9" stroke="#dcdcdc" stroke-width="1.0"/>
<line x1="49.4" y1="220.5" x2="370.0" y2="200.3" stroke="#dcdcdc" stroke-width="1.0"/>
<line x1="49.4" y1="189.7" x2="370.0" y2="169.5" stroke="#dcdcdc" stroke-width="1.0"/>
<line x1="49.4" y1="158.9" x2="370.0" y2="138.7" stroke="#dcdcdc" stroke-width="1.0"/>
<line x1="49.4" y1="128.2" x2="370.0" y2="108.0" stroke="#dcdcdc" stroke-width="1.0"/>
<line x1="49.4" y1="97.4" x2="370.0" y2="77.2" stroke="#dcdcdc" stroke-width="1.0"/>
<line x1="49.4" y1="66.6" x2="370.0" y2="46.4" stroke="#dcdcdc" stroke-width="1.0"/>
<line x1="372.2" y1="203.2" x2="372.2" y2="22.0" stroke="#dcdcdc" stroke-width="1.0"/>
<line x1="393.8" y1="213.8" x2="393.8" y2="32.6" stroke="#dcdcdc" stroke-width="1.0"/>
<line x1="415.4" y1="224.5" x2="415.4" y2="43.3" stroke="#dcdcdc" stroke-width="1.0"/>
<line x1="437.0" y1="235.2" x2="437.0" y2="54.0" stroke="#dcdcdc" stroke-width="1.0"/>
<line x1="458.6" y1="245.9" x2="458.6" y2="64.7" stroke="#dcdcdc" stroke-width="1.0"/>
<line x1="480.2" y1="256.6" x2="480.2" y2="75.4" stroke="#dcdcdc" stroke-width="1.0"/>
<line x1="370.0" y1="200.3" x2="487.6" y2="258.4" stroke="#dcdcdc" stroke-width="1.0"/>
<line x1="370.0" y1="169.5" x2="487.6" y2="227.6" stroke="#dcdcdc" stroke-width="1.0"/>
<line x1="370.0" y1="138.7" x2="487.6" y2="196.8" stroke="#dcdcdc" stroke-width="1.0"/>
<line x1="370.0" y1="108.0" x2="487.6" y2="166.1" stroke="#dcdcdc" stroke-width="1.0"/>
<line x1="370.0" y1="77.2" x2="487.6" y2="135.3" stroke="#dcdcdc" stroke-width="1.0"/>
<line x1="370.0" y1="46.4" x2="487.6" y2="104.5" stroke="#dcdcdc" stroke-width="1.0"/>
<line x1="58.3" y1="221.7" x2="175.9" y2="279.8" stroke="#dcdcdc" stroke-width="1.0"/>
<line x1="87.9" y1="219.9" x2="205.5" y2="278.0" stroke="#dcdcdc" stroke-width="1.0"/>
<line x1="117.5" y1="218.0" x2="235.1" y2="276.1" stroke="#dcdcdc" stroke-width="1.0"/>
<line x1="147.2" y1="216.1" x2="264.8" y2="274.2" stroke="#dcdcdc" stroke-width="1.0"/>
<line x1="176.8" y1="214.3" x2="294.4" y2="272.4" stroke="#dcdcdc" stroke-width="1.0"/>
<line x1="206.4" y1="212.4" x2="324.0" y2="270.5" stroke="#dcdcdc" stroke-width="1.0"/>
<line x1="236.1" y1="210.5" x2="353.7" y2="268.6" stroke="#dcdcdc" stroke-width="1.0"/>
<line x1="265.7" y1="208.7" x2="383.3" y2="266.8" stroke="#dcdcdc" stroke-width="1.0"/>
<line x1="295.3" y1="206.8" x2="412.9" y2="264.9" stroke="#dcdcdc" stroke-width="1.0"/>
<line x1="325.0" y1="204.9" x2="442.6" y2="263.0" stroke="#dcdcdc" stroke-width="1.0"/>
<line x1="354.6" y1="203.1" x2="472.2" y2="261.2" stroke="#dcdcdc" stroke-width="1.0"/>
<line x1="51.6" y1="223.4" x2="372.2" y2="203.2" stroke="#dcdcdc" stroke-width="1.0"/>
<line x1="73.2" y1="234.0" x2="393.8" y2="213.8" stroke="#dcdcdc" stroke-width="1.0"/>
<line x1="94.8" y1="244.7" x2="415.4" y2="224.5" stroke="#dcdcdc" stroke-width="1.0"/>
<line x1="116.4" y1="255.4" x2="437.0" y2="235.2" stroke="#dcdcdc" stroke-width="1.0"/>
<line x1="138.0" y1="266.1" x2="458.6" y2="245.9" stroke="#dcdcdc" stroke-width="1.0"/>
<line x1="159.6" y1="276.8" x2="480.2" y2="256.6" stroke="#dcdcdc" stroke-width="1.0"/>
<line x1="692.9" y1="5.2" x2="692.9" y2="292.6" stroke="#dcdcdc" stroke-width="1.0"/>
<line x1="739.5" y1="5.2" x2="739.5" y2="292.6" stroke="#dcdcdc" stroke-width="1.0"/>
<line x1="786.0" y1="5.2" x2="786.0" y2="292.6" stroke="#dcdcdc" stroke-width="1.0"/>
<line x1="832.6" y1="5.2" x2="832.6" y2="292.6" stroke="#dcdcdc" stroke-width="1.0"/>
<line x1="879.2" y1="5.2" x2="879.2" y2="292.6" stroke="#dcdcdc" stroke-width="1.0"/>
<line x1="925.7" y1="5.2" x2="925.7" y2="292.6" stroke="#dcdcdc" stroke-width="1.0"/>
<line x1="972.3" y1="5.2" x2="972.3" y2="292.6" stroke="#dcdcdc" stroke-width="1.0"/>
<line x1="674.0" y1="18.5" x2="983.0" y2="18.5" stroke="#dcdcdc" stroke-width="1.0"/>
<line x1="674.0" y1="60.5" x2="983.0" y2="60.5" stroke="#dcdcdc" stroke-width="1.0"/>
<line x1="674.0" y1="102.5" x2="983.0" y2="102.5" stroke="#dcdcdc" stroke-width="1.0"/>
<line x1="674.0" y1="144.5" x2="983.0" y2="144.5" stroke="#dcdcdc" stroke-width="1.0"/>
<line x1="674.0" y1="186.5" x2="983.0" y2="186.5" stroke="#dcdcdc" stroke-width="1.0"/>
<line x1="674.0" y1="228.5" x2="983.0" y2="228.5" stroke="#dcdcdc" stroke-width="1.0"/>
<line x1="674.0" y1="270.5" x2="983.0" y2="270.5" stroke="#dcdcdc" stroke-width="1.0"/>
<line x1="94.1" y1="369.4" x2="94.1" y2="618.1" stroke="#dcdcdc" stroke-width="1.0"/>
<line x1="164.2" y1="369.4" x2="164.2" y2="618.1" stroke="#dcdcdc" stroke-width="1.0"/>
<line x1="234.3" y1="369.4" x2="234.3" y2="618.1" stroke="#dcdcdc" stroke-width="1.0"/>
<line x1="304.4" y1="369.4" x2="304.4" y2="618.1" stroke="#dcdcdc" stroke-width="1.0"/>
<line x1="374.5" y1="369.4" x2="374.5" y2="618.1" stroke="#dcdcdc" stroke-width="1.0"/>
<line x1="444.6" y1="369.4" x2="444.6" y2="618.1" stroke="#dcdcdc" stroke-width="1.0"/>
<line x1="70.5" y1="382.5" x2="488.8" y2="382.5" stroke="#dcdcdc" stroke-width="1.0"/>
<line x1="70.5" y1="417.6" x2="488.8" y2="417.6" stroke="#dcdcdc" stroke-width="1.0"/>
<line x1="70.5" y1="452.6" x2="488.8" y2="452.6" stroke="#dcdcdc" stroke-width="1.0"/>
<line x1="70.5" y1="487.7" x2="488.8" y2="487.7" stroke="#dcdcdc" stroke-width="1.0"/>
<line x1="70.5" y1="522.8" x2="488.8" y2="522.8" stroke="#dcdcdc" stroke-width="1.0"/>
<line x1="70.5" y1="557.8" x2="488.8" y2="557.8" stroke="#dcdcdc" stroke-width="1.0"/>
<line x1="70.5" y1="592.9" x2="488.8" y2="592.9" stroke="#dcdcdc" stroke-width="1.0"/>
<line x1="675.6" y1="374.4" x2="675.6" y2="621.9" stroke="#dcdcdc" stroke-width="1.0"/>
<line x1="745.0" y1="374.4" x2="745.0" y2="621.9" stroke="#dcdcdc" stroke-width="1.0"/>
<line x1="814.4" y1="374.4" x2="814.4" y2="621.9" stroke="#dcdcdc" stroke-width="1.0"/>
<line x1="883.8" y1="374.4" x2="883.8" y2="621.9" stroke="#dcdcdc" stroke-width="1.0"/>
<line x1="953.2" y1="374.4" x2="953.2" y2="621.9" stroke="#dcdcdc" stroke-width="1.0"/>
<line x1="1022.6" y1="374.4" x2="1022.6" y2="621.9" stroke="#dcdcdc" stroke-width="1.0"/>
<line x1="617.7" y1="396.1" x2="1049.6" y2="396.1" stroke="#dcdcdc" stroke-width="1.0"/>
<line x1="617.7" y1="430.8" x2="1049.6" y2="430.8" stroke="#dcdcdc" stroke-width="1.0"/>
<line x1="617.7" y1="465.6" x2="1049.6" y2="465.6" stroke="#dcdcdc" stroke-width="1.0"/>
<line x1="617.7" y1="500.4" x2="1049.6" y2="500.4" stroke="#dcdcdc" stroke-width="1.0"/>
<line x1="617.7" y1="535.2" x2="1049.6" y2="535.2" stroke="#dcdcdc" stroke-width="1.0"/>
<line x1="617.7" y1="570.0" x2="1049.6" y2="570.0" stroke="#dcdcdc" stroke-width="1.0"/>
<line x1="617.7" y1="604.7" x2="1049.6" y2="604.7" stroke="#dcdcdc" stroke-width="1.0"/>
<defs><clipPath id="ca"><polygon points="116.6,156.6 116.4,153.5 116.8,150.6 116.7,147.8 117.1,145 117,142 116.5,138.6 117.1,135.5 117.9,132.9 118.4,130.9 118.8,129.2 119,127.6 119.8,126.3 121.3,125.6 122.4,124.3 123.5,121.8 126.5,123.6 129,123.1 131.5,121.7 134.8,122.1 137.9,121.4 141.5,120.6 145.5,120.5 149.4,119.9 152.6,119.4 155,119.4 156.8,120.5 158.9,119.9 160.6,121.2 163.2,120.6 166.2,117.7 167.9,121.2 169.8,120.9 171.6,120.4 172.6,118.5 174.4,117.1 176.1,115 178.7,113.5 180.6,110.7 183.8,109.1 186.9,107.4 191.1,106.5 196,107.3 198.8,103.7 201,108.1 205.5,107.6 209.1,106 212.8,105.1 215.8,103 219,100.7 222.7,98.6 226.7,96.4 230.8,94.9 233.3,92.6 233.8,90.2 235.9,91.2 237,91.3 238.3,91.5 240.2,90.5 242.6,89.7 245.3,89.4 248.2,89.2 251,87.9 254.2,87.7 257.2,86.5 260.1,86.1 262.8,85.7 265.3,84.5 267.7,84.6 269.4,83.5 270.3,82.4 271.6,81.4 271.5,80.5 271.4,79.9 271.6,81.2 272.4,83.2 272.9,85.7 274.7,86.9 276.8,87 279.2,86.8 281.5,85.4 282,81 286.2,82.2 288.2,79.5 288.6,74.5 293.4,75.5 296.5,74.2 299.3,70.3 303,69.7 306.8,72.3 310.2,72.1 313.7,72.2 317,73.1 320.4,73.2 323.6,74.5 326.9,74.8 330.2,75.2 333.7,72.9 337.6,75.1 341.9,74.7 346,74.1 349.7,73.8 352.7,72.7 353.6,67.2 357.8,69.4 360.5,69.5 364,68.1 365.2,71.3 366.6,73.2 366.8,75.7 368.4,77 371.5,77.9 368.6,80.9 369.3,83.3 371.2,85.7 375.7,87.1 374.8,91.9 375.9,96 381.7,98.7 379,102.9 381,105 381.9,107.6 382.9,110.1 387.5,113.2 389.1,116.4 387,120.1 387.9,122.5 388.1,125.4 389,128.4 390.2,131.4 390.7,134.9 390.3,138.6 390.2,142.9 390.6,147.6 389.5,152.5 392.3,157.7 388.9,162 387.9,166.7 387.3,171.4 386.9,176.1 386.8,181 385.8,185.9 384.9,190.6 384.4,195.1 384,199.4 386.2,203.7 383.1,207.5 382.2,211 381.5,214.4 380,217.1 378.5,219.7 376.3,221.5 374.3,223.8 371.4,225.1 368.7,226.5 365.9,227.7 363,226.8 359.9,225.9 356.9,224.5 352.5,227.4 350.9,222.6 347.9,220.9 343.8,224.1 340.6,220.3 335.8,223.8 332.4,217.9 328.1,216.5 323.5,216 319.4,213.8 314.8,212.1 310.9,208.8 306.5,207.1 302.1,205.9 298,204 293.7,203 289.3,202 284.8,200.8 279.5,201.4 276.4,196.8 272.2,194.9 267.6,194.2 263.1,192.9 258.8,192.4 255.1,191.5 251.9,190.7 249.7,188.6 247.2,187.6 244.9,185.9 241.4,190.4 240,184.6 237.3,185 234.1,185.4 230.2,186.6 226.2,188.9 221.6,190.4 217.2,192.1 213.5,197.1 208,195 203.6,196.2 200.1,196.6 197.8,196.4 196.7,195.3 196.4,196.8 194.9,194.9 193.8,197 193.2,200.1 191.6,202.5 191.2,203.9 190.3,203.1 189.9,200.5 188.5,198.1 188.1,196.6 187.2,196.7 185.8,196.7 184.2,197.1 182.9,197.9 184.4,201.4 179.9,200.2 178.8,202.1 177.3,201.7 176.7,201 176.1,199 175.6,196.8 173.9,195.3 170.5,197.4 167.1,193.9 162.9,193.6 159.2,193.4 156,193 153.5,197.6 150.9,198.8 147.7,194.2 145,196.9 142.2,194.1 139.8,194.7 137.6,194.8 136.2,196.3 135.1,198.2 135.4,200.1 135.3,199.5 134.2,197.8 134.5,194.1 130.9,190.7 132.1,186.6 130.2,184 128.1,181.6 123.5,182.4 123.1,178.7 122,176.5 119.7,175.3 118.2,173.4 117.3,170.8 116.6,167.6 116.7,163.8 116.2,160.1" fill="#000" fill-opacity="1.0" /></clipPath></defs>
<g clip-path="url(#ca)"><g filter="url(#tex)">
<rect x="105" y="60" width="295" height="175" fill="rgb(238,192,198)"/>
<rect x="105" y="60" width="295" height="175" fill="url(#mesh)"/>
<polygon points="121.8,129.7 125.4,128.1 129.3,127.7 132.7,127.9 136.1,128 139.3,127.2 142.9,126.9 146.5,127.6 150.1,127.2 153.4,127.2 156.8,127.2 160,128.2 164.5,128.5 168.2,131.4 171.7,130.9 173.9,133.4 176.3,135.1 180.3,137.1 185,137.6 187.9,141.1 192.1,141.8 195.2,143.7 199,144 202,145.4 205,146.8 207.8,148.6 211.1,149.3 214.9,149.9 217.9,152.2 221.6,154.2 225.6,155.6 228,157.5 231,158.2 233.3,160.3 235.7,162.4 238.3,164.4 241.2,165.6 244.5,166.4 246.9,168.9 249.8,170.4 253.3,172 257.4,172.1 260.7,173.9 263.7,175.1 266.5,176.8 269.9,176.7 272.9,177.8 276.1,180.1 279.6,181.6 283.6,182 286.4,184.8 289.8,186.2 291.7,189.1 289.8,192.4 284.9,193.5 280.1,196 274.2,194.4 270.6,193.5 267,192.3 262.9,191.1 258.5,191.7 254.4,189.8 250,190.8 247,190.9 244,191 240.9,190.4 237.6,190 234.6,192.2 231.3,191.7 227.8,191.9 224.5,193.3 221,193.9 217.3,193.4 213.6,193.4 210,193.4 206.9,193.6 203.8,194 200.7,195.1 197.6,193.9 194.2,194.1 190.8,193.7 187.5,194 184.1,194.6 180.8,193.3 177.5,195 174.2,194.6 171,193.7 167.3,194.7 163.7,195 160,193.1 155.8,193.4 151.7,194.3 148.6,195.3 145.2,195.2 140,195.6 134.8,195.4 129.8,192.1 128.9,188.5 125.3,187.2 124.4,183.7 121.9,181.2 121.2,178 119.5,175.2 118.4,172.2 117.8,169.1 116.8,165.9 116.6,162.6 116.3,159.3 116.6,156 117.5,153 117.5,150 117.3,144.2 117.4,138.6 117.9,133.4" fill="rgb(110,105,180)" fill-opacity="0.38" />
<polygon points="290.5,128.4 291.9,125.4 295.1,124.4 297.5,121.4 300.9,119.9 304.8,119 308.4,117.5 311.9,116.3 315.1,114.3 318.6,113.2 321.9,111.6 325,109.2 328.9,109.1 332,107 335.6,106.6 338.7,105.6 342,106.3 347.8,105.3 353.2,105.4 358.1,107.3 360.7,109.1 361.6,112.2 362.4,115.2 364.2,117.8 364.7,120.9 365.3,123.9 366.2,126.8 367.9,129.6 367.1,132.9 367.6,136.1 367.4,139.4 369,142.4 368.4,145.8 369.4,149.5 369.7,153.2 369.5,157 370.1,160.2 369.3,163.4 370.4,166.6 369.3,169.6 369.6,172.7 370.5,175.8 368.2,179.5 369.2,183.9 366.7,186.8 364.3,189.4 362.2,192.3 359.8,195.2 355.4,195.6 352.1,198.2 347.8,199.2 343.5,199.4 339.3,200.4 335,199.4 330.5,200.1 326.1,199.4 322.9,198.3 319.7,197.6 316.4,197.1 313.4,196 310.2,195.8 307,195.4 303.4,194 299.9,192.4 295.3,190 292,188.8 290,186.7 287.2,183.3 288.1,179.5 287.4,176.1 286.4,171.8 285.8,167.3 287,164.2 285.7,161.1 286.2,158 287.5,154 287.2,150 286.2,146.8 286.9,143.5 285.9,137.8 288.2,132.9" fill="rgb(132,130,190)" fill-opacity="0.2" />
<path d="M174,163.6 171.6,165.9 168.6,168.2ZM312.7,77.2 305.9,86.1 300.1,82.6ZM144.9,128.1 139.2,132.1 135.8,131.3ZM197.3,124.8 193.6,129.9 183.2,126.9ZM183.6,148.3 176.8,152.8 174.2,149.6ZM362.8,195.4 357.8,197.9 351.5,190ZM298.8,124.9 301.8,130.1 300.6,132.1ZM231.3,148.5 236.5,146 240.8,150.1ZM271.9,92.4 260.8,91.1 259.2,85.7ZM360.8,165.7 365.6,164.4 369.5,166.7ZM357.4,176.3 360.8,174.9 365.4,179.2ZM383,137.7 387.7,135.9 395.7,142.8ZM366.9,172.4 371.7,169.3 373.6,172.5ZM286.3,133.6 282.6,129.9 291,119ZM322.9,92.1 327.4,89.2 329.7,90.3ZM278.1,163.1 288.6,155 289.4,158.4ZM296,178.9 291.7,182.2 280.5,177.2ZM286.9,114 282.6,107.2 285.1,98.3ZM354.7,172 364.7,167.4 369.3,173.4ZM252.3,146.7 245.9,147.7 240,143.4ZM239.5,97.5 230.4,99.2 229.7,92.5ZM251.5,160.8 254.6,158 262.8,164.5ZM302.2,154.6 299.5,158.5 291.7,154.2ZM257.4,180.2 259.6,186.1 257.8,189.8ZM161.7,152.7 164.5,152.9 172.8,159.4ZM348.6,189.7 348.3,192.3 344.8,196.8ZM242.8,107.4 246.8,108.2 248.3,110.5ZM125.4,181.1 133,179.1 136.1,181.8ZM295.2,101.2 298.8,99.5 305,102.9ZM193.5,159.7 188.1,157.9 185.4,152.7ZM204.4,109.6 205.2,115.3 197.6,115.8Z" fill="rgb(182,42,44)" fill-opacity="0.50"/>
<path d="M344.4,99.9 351.2,100 355.3,106.5ZM158.1,139.2 163.1,134.7 170.1,132.7ZM217.9,182.3 224.9,181.8 224.4,186.2ZM314.2,142 310,143 305.8,140.4ZM310.5,133.8 315.6,134.9 319,140.4ZM226.5,123.2 225,124.8 219.5,130.5ZM198,122.2 202.6,119.4 206.5,121.3ZM299.2,72.1 306.7,70.7 312,77.9ZM167.6,160.3 165.2,162.7 161.3,162.3ZM336,88.6 341.7,86 345.5,87.5ZM255.1,163 256.7,153.8 261.5,152.6ZM346.9,187.9 341.6,192.9 333.7,185.9ZM337,183.6 330.8,184.3 327.2,178ZM185.2,200.1 177.6,198.8 176.2,195ZM273.9,191.4 266.9,195.4 263.5,192.8ZM174.3,117 177.5,113.5 183.8,114.1ZM321.1,167.4 327.5,165.5 332.5,169.6ZM278.8,104.5 268.2,106.5 265,103.1ZM303.6,131 297.9,131.8 297.7,122.4ZM340,161.9 341.3,160.9 350,167.4ZM363.4,110.8 372.3,106.8 376.2,120.3ZM264.7,98.3 260.8,97.3 258.3,93.2ZM353.3,181.4 349.1,170.3 352.3,165.7ZM375.7,179.4 378,189 374.2,194.9Z" fill="rgb(182,42,44)" fill-opacity="0.45"/>
<path d="M280.2,136.7 289.4,137.9 294.1,142.9ZM370.2,158.4 371,169 363.4,172ZM289.7,112.7 293,114.5 296.4,117.7ZM253,147.3 249.8,150.9 243.9,152.5ZM281.1,152.5 276.8,156.5 266.9,154.5ZM283,163.4 285.8,165.2 280.3,170.9ZM377,165.9 367.7,153.8 369.6,152.3ZM257.4,108.6 260.5,105.6 266.9,106.3ZM271.5,147.4 280.1,144.5 286.8,149.6ZM325.3,75.2 329.1,78.8 329.8,80.2ZM113,152.7 121.7,149.4 127.4,153.3ZM378.4,108 372.2,102.4 371.8,96.3ZM306.1,147.5 302.5,141.8 306.7,136.3Z" fill="rgb(182,42,44)" fill-opacity="0.25"/>
<path d="M277,153.6 270.9,147.6 267.7,141.6ZM164.1,173.9 164.3,170 167.6,168.8ZM350.8,161.5 351.7,157.9 361.7,166.3ZM360,91.7 356.3,93.1 354,90.2ZM321.5,155.6 318.9,159.5 312.3,156.7ZM270.8,182.4 272.2,174.4 275.8,174.2ZM369.4,122.1 358.9,110.8 361.4,110.1ZM223.3,112.4 225.9,114 229.1,117.2ZM313.5,133.3 309,138.1 302.3,136ZM325.1,212.3 328.4,209 335.6,206.8ZM183.9,166.6 187,167.3 196.9,175.7ZM206,136.2 204.6,138.1 192.8,128.9ZM209.6,178.6 208.9,185.1 205.1,187.5ZM288.2,198.6 293.8,200.1 297.6,204.1ZM340.8,201.9 344,204.4 339.6,208.4ZM129.7,154.4 137.4,157.4 135,164.3ZM255.8,168.9 252.7,169.8 247.7,166.6ZM290.4,161.9 286.1,166 275,160.5ZM272,173.8 273.8,171.8 280.6,174.2ZM334.5,124.8 327.3,129 322.9,126.2ZM367.3,166.1 363.5,171 352.1,164.1ZM358.7,80.1 349.4,79.5 346.1,74.2ZM252.4,102.6 259.4,102.9 258.8,108.8ZM316.9,207.1 314.9,203.6 327.3,215.4ZM208.6,144.2 204.2,136 207.6,133.1ZM358.2,107.6 360.1,105.9 365.5,107ZM308.1,148.2 311.8,147.4 321.4,155.2ZM175.4,192.5 167.2,193.7 161.5,187.4ZM247.8,111.4 244.7,113.1 239,111.1ZM345.4,193.9 345.9,185.3 351.5,181.6Z" fill="rgb(182,42,44)" fill-opacity="0.30"/>
<path d="M191.5,153.4 189.7,154.4 185.3,152ZM321,138.2 314.5,139.9 311,135.1ZM254.9,129.4 258.6,126.4 265.3,130.3ZM381.7,114.3 381.3,119.9 377.5,123.3ZM158.7,151.3 151.2,158.2 150.3,155.2ZM201.6,152.6 208.2,154.8 209.5,160.5ZM327,90.6 322.8,93.9 320.6,92.9ZM347.7,110 340.2,112.6 337.7,105.7ZM223.8,187.3 218.3,185 213.5,180.3ZM243.5,128.2 249.2,127.1 253.6,131.1ZM338.8,175.1 335.2,172 337.1,164.5ZM367,101.2 359,101.3 357,94.5ZM320.7,144.5 319.2,146.3 313.6,145.1ZM289.3,149.1 283.5,150.4 279.9,147.7ZM341.1,179.2 338.3,176.4 335.5,172.8ZM349,169.5 350.3,169.1 358,174.9ZM365.5,155.7 375.5,157.6 373.3,165.2ZM217.5,150.5 222.9,152.6 224.3,161.9ZM246.8,131.8 246.2,131.9 241.6,127.4ZM323.7,116.3 318.6,108.4 319.6,105.2ZM259.4,104.8 250.5,106.8 247.1,101.8ZM355.1,169.2 345.2,161.6 349.8,156.3ZM193.9,169.8 188.2,163.9 190.4,157.6ZM283,80.6 291.1,77.8 297.8,83.1ZM293.7,170 305.5,164.4 309.7,169.5ZM311.2,159.2 306.4,163.8 299.7,159.2ZM252.8,137.7 257.1,134.8 259,135.2ZM190.8,154.2 193.1,150.2 198.7,144.4ZM172.6,145.2 171.7,143.4 179.1,150.4Z" fill="rgb(182,42,44)" fill-opacity="0.35"/>
<path d="M365.1,152.3 359.9,144.4 363.4,141.7ZM249.4,157.6 257.2,149.5 264.1,154.4ZM264.8,193.1 273,187 280.3,192.6ZM128.6,130 120.8,131.7 114.3,125.3ZM194,186.4 196.6,181.8 205.1,185.6ZM249.2,179.6 244.8,183.8 237.6,186ZM284.5,114.4 277.2,121.5 268.9,114.2ZM216.6,183.6 213,187 210.8,188.2ZM167.9,148.9 161.2,150 153.8,142.6ZM195.7,191.2 188.9,195.3 183.8,182.6ZM283.9,198.2 278.7,193.3 279.5,191.5ZM306.3,186.4 302.2,182.4 300.5,175ZM275.3,177.8 283.5,178.5 289.8,184.1ZM234.7,150.6 229.2,152.1 223.6,145.4ZM322.8,126.6 329.7,133.5 329.1,133.1ZM199.7,189.3 195.7,189.5 192.7,187ZM246.7,167.8 250.6,165.6 257,167.4ZM276.5,123.2 281.1,128.3 281.9,136.6ZM271.3,177.8 268.9,184.8 257.4,176.3ZM293.2,93.1 298.6,99.1 298.8,104.4ZM195,175.8 195.3,172.6 199.9,172.2ZM382.7,140.2 377.7,136.3 378.9,133.7ZM341.5,211.1 338.5,213 334.1,209.9ZM154.1,136.5 147.3,128.8 148,128.7ZM376.2,159.1 381.5,158.1 384.7,160.9ZM257.7,150.8 255.3,153.5 246.2,151.1ZM272.4,94.3 276.4,100.1 272.7,103.3ZM310,120 313.5,117.8 316.1,120.1Z" fill="rgb(182,42,44)" fill-opacity="0.40"/>
<path d="M128.9,143.9 126.1,143.7 123.5,139.3ZM288.2,98.9 281.5,101.1 279.6,96.2ZM323.1,111.5 320.9,113.8 313.8,120.9ZM382.6,152.2 383.7,152.1 388.7,157.2ZM260.6,93.3 258.5,88.1 262.1,81.8ZM186.3,155.8 181.4,160.5 174.4,161.2ZM306.5,187.9 302.6,187.7 299.5,182.6ZM355.7,93 359.3,95.1 357.8,99.2ZM236.4,181.5 231.9,182.7 228.6,180.2ZM150.2,169.9 147.4,175.2 134.9,172.3ZM339.6,118.9 336.3,123.2 327.2,121.9ZM285.4,146 287.8,146.4 291,149ZM268.3,158.4 263,152.4 265.5,146.4ZM369.2,140 365.3,144.3 362.1,145ZM224.2,127.4 222.5,131.1 212.2,131.2ZM346.9,150.8 344.6,152.5 339.4,150.4ZM226.4,158.9 220.9,159.3 219.5,156.7ZM300.8,170 306.6,163.9 313.4,172.5ZM261.8,138.5 250.4,149.3 250.1,148.9ZM322.5,172.2 324.4,165.4 334.5,162.4ZM269.2,177.6 278.3,186.7 279.5,188.6ZM134,167.2 128.3,167 124.5,161.8ZM150.2,149.1 146,152.5 140.5,144.3ZM300.9,185.1 305.6,183 316.1,190.1ZM199.6,176.3 206.1,173.8 209.1,178.7ZM362.7,136.5 367.5,141.4 365.4,145.6ZM316.9,121.7 321.3,123.1 323.1,127.3ZM303.3,102.2 300,100.5 299.4,97.6ZM381.7,164.2 387.6,162.9 390.9,166.8ZM239.9,93.4 239.8,93.7 235.5,98.1Z" fill="rgb(182,42,44)" fill-opacity="0.55"/>
<path d="M331.3,175.3 329.6,177.4 317.7,170.1ZM181.5,156.8 177.3,150.1 182.4,144ZM274.9,141.2 276.8,142.1 269,151ZM220.4,186.3 216.5,188 206,181.7ZM333.5,148.8 339.6,153.9 337,158.4ZM202.9,110.9 203.7,108 210.8,106.5ZM276.4,90.8 265.8,90.9 264.7,85.8ZM324.4,80.9 322,79 314.3,71.5ZM333.5,208.2 340.1,215.6 339.1,217.1ZM186.8,164.1 192,169.5 195.2,173.2ZM226.7,105 224.1,108.6 216.4,104.7ZM325.6,99.5 330.9,98.5 333,103.4ZM245.9,166.6 248.8,168.5 254.7,174.2ZM225.9,189.3 221.8,184.5 221.8,183.3ZM376,188.7 372.6,192.4 366.5,188.7ZM335.1,114.8 336.1,108.6 348.1,105.8ZM304.6,92.6 310.8,97.7 310.4,101.6ZM337.6,220 348.3,218 353,223.9ZM231.8,166.9 237.7,162.7 241.6,165.2ZM249.5,107.1 256.9,108 259.7,116.5ZM364.1,123.4 374.6,118.1 379.6,123.7ZM135.7,158.4 136.7,160.4 134.8,164.7ZM381.4,139.9 386.6,135.9 393.6,141.5ZM156.5,166.3 151.4,162.6 156.1,153.2ZM237,145 231.3,139.1 232.9,130.9ZM260.4,125.6 262.4,124.4 266.7,128.2ZM204.8,134.7 195,137.6 193.1,129.3ZM352.8,214.2 347.6,210.2 348.4,203.7ZM352,152.5 356.7,155.1 357.6,161.2ZM273.1,147.7 265.9,148.5 265.4,143.3Z" fill="rgb(182,42,44)" fill-opacity="0.65"/>
<path d="M167.7,142.5 175.6,137.5 183.2,140.8ZM275,193.8 279.8,189.3 282.1,189.5ZM376.4,130.7 377.8,125.3 385.4,124.2ZM121.2,148.8 123.6,148.1 129,153.8ZM372.6,113.4 374.7,105.4 380.2,103.6ZM322.7,93.6 329,89.8 336.4,93.8ZM374.9,209.4 380.1,209.6 386.1,214.3ZM348.9,115.2 345.5,113.8 346.8,107ZM353.8,127.5 352.5,123.8 355.6,118.7ZM302.5,151.1 297.4,158.9 290.2,155ZM328,146.7 325.1,146.7 315.3,138.9ZM179.9,197.9 176.1,201.4 174.9,201.8ZM191.3,183.7 196.3,184.1 198.9,186.6ZM318.2,103.6 317.5,109.4 310.2,112.4ZM159.2,138.1 168,139.9 170.7,145.9ZM197.5,193.7 201.9,191.5 205.8,196ZM223.2,162.3 219.6,161.2 215.3,157.5ZM297.3,118.1 299.6,124.9 296.4,130.5ZM322.1,119.9 331.1,113.5 337.3,118.9ZM354.3,116.3 355.8,114.6 364.1,120.4ZM274.9,101.7 265.6,94.2 270.3,87ZM161.8,135.9 166.2,134.3 169,136.9ZM140,136.2 138.9,136.1 143.3,130.5ZM365.9,99.3 369.8,102.1 365.3,106.9ZM285.2,134.5 287.9,133.5 290.7,138.1ZM336.7,199.7 344,193.5 344.4,194.6ZM346.5,169.6 347.9,171.5 339,183.5ZM137.1,194.7 135,193.2 140.3,188Z" fill="rgb(182,42,44)" fill-opacity="0.60"/>
<path d="M328.2,174.7 324.5,176.3 320.2,173.9ZM339.9,98.5 347.1,93 353.4,94.2ZM211.2,139.7 222.9,141.2 224.7,145.6ZM200.2,127.1 203,121.5 206.8,124ZM176.1,175.1 179.5,173.2 186.1,175.6ZM342.7,82.2 345.6,83.4 351.2,89.2ZM303.2,156 315,148.4 318.4,152.3ZM347,139.2 351.9,139.4 354.2,146.3ZM233.5,112.3 233.9,113.3 227.1,106.8ZM323.4,131.8 327.9,128.7 338.8,134.2ZM140.5,154 132.1,158.4 129,154.7ZM372,205.8 372.1,207.9 367.7,211.9ZM310.6,204.7 314.3,202.6 321.8,208.9ZM274.1,127.4 270.9,123.7 270,120.1ZM227.8,145 233.2,143.2 242.6,149.2ZM223,149.9 221.4,153.3 216.5,149.9ZM331,159.3 329.5,158.1 325.1,153.8Z" fill="rgb(182,42,44)" fill-opacity="0.70"/>
<polygon points="205,147 210.8,146.4 213.9,148.5 217.2,149.1 220.5,149 224.2,149.1 227.6,151.1 231.2,151.6 235.6,152.3 240,152.4 245.8,150.6 250.7,150.4 254.4,148.4 257.7,146.4 261,145.5 262.3,142.8 263.8,140.6 266.1,139.1 268.7,138.2 270.6,135.9 273.1,134.6 276.1,134.1 279.3,132.3 282,129.2 283.8,125.9 286.7,126.5 287.5,130.3 288.1,135.9 287.7,139.3 286.5,142.7 287,146.4 286.7,150 287.6,154.4 287.4,158.8 287.9,162.3 288.1,165.7 286.9,169.2 287.4,172.4 287.5,175.5 287.4,178.7 286.9,181.8 286.6,184.8 285.2,186.5 282.3,186.4 279.9,182.5 275.4,180.1 272.3,179.2 269.2,179 265.8,177.5 262.2,176.3 258.1,176 254.7,173.6 250.8,173 247,172.1 243.1,171.3 239.5,169.5 235.8,167.7 231.6,167.3 227.7,166.6 224.2,164.6 221.4,162.8 217.7,162.5 215.7,159.4 212,158.8 210.5,155.3 207.4,153.7 205.2,149.2" fill="rgb(180,96,112)" fill-opacity="0.8" />
</g>
<g filter="url(#soft)">
<polygon points="149.7,138.3 152,140.5 155.6,142.3 159,146.7 162.8,148.3 167.5,146.1 170.7,148.8 173.5,152.5 178.4,150.4 181.3,153.7 185.9,153 188.1,158.1 193.4,156 196.8,158.3 200.3,160 203.3,163.3 208.8,161.1 212.1,165.3 216.4,167.9 221.2,169.2 226.9,168 230.6,172.7 236.2,172.5 241.2,172.1 244.4,172.7 245.3,170.1 243,167 239.2,164.1 235.1,160 229.9,159.8 226,156.8 220.9,156.3 215.7,156.2 212.4,151.9 208.7,149.8 205,148.2 200.3,149.4 196.5,148.3 192.8,146.6 190.9,140.6 186.7,139.9 182.5,139.2 177.9,139.9 174.9,136.1 170,138.3 167.5,132.6 162.3,134.8 157.6,134.7 153.8,133.5 150.3,135.8" fill="rgb(80,40,105)" fill-opacity="0.1125" />
<polygon points="149.8,137.6 152.3,139.1 155.9,141.2 160.1,142.9 164.2,143.8 167.7,145.6 171.6,146.1 175.7,146.1 178.9,148.9 183.1,149.1 186.4,151.7 190.3,152.8 193.7,155.2 197.5,156.4 201,158.2 205.2,158.6 208.6,161.5 213.6,161.5 218.2,163.3 222.6,165.8 226.9,167.9 232,168.7 236.7,171.1 241.4,171.7 244.9,171.4 245.2,170.4 242.4,168.6 238.5,165.8 234.1,162.9 228.7,163 224,162 220,158.7 215,158 211.2,155 206.6,155.1 202.9,153.5 200.1,149.8 196.2,149 192.5,147.4 188.2,147.3 184.8,144.7 181.1,143.1 177.5,141.2 173.5,140.5 170,138.3 165.7,138.5 161.8,136.4 157.3,135.8 153.1,136.3 150.2,136.3" fill="rgb(80,40,105)" fill-opacity="0.17639999999999997" />
<path d="M202.5,152.2 211.9,154.2 215.6,156.9ZM244.7,169.9 241.9,171 235.3,167.1ZM170.5,148.5 178,147.9 181.4,150.3ZM181,148.1 186.2,146.9 191.7,150.2ZM152.8,140.6 147.8,139.6 146.1,137.6ZM245.8,166 241.7,167.4 236.6,164.4ZM210.3,154.2 206.6,155.4 198.7,150.1ZM241,168.8 235,169.7 232.2,167.4ZM184.1,147.9 188.2,149.5 190,152.2ZM169.5,147.9 175.3,146.7 183.6,147.7ZM146.9,134.5 154.5,134.7 156.7,136.6ZM193.7,149.1 184.8,146.9 181.2,143.6ZM245.6,172 241.7,172 240.3,168.8ZM200.3,154.5 197.5,155.8 193.6,153.8ZM191.3,141.6 197.7,146.4 200.2,153.3Z" fill="rgb(80,40,105)" fill-opacity="0.35"/>
<path d="M212.4,159.8 215.6,160.6 216.8,164.9ZM199.6,158.1 203.7,159.1 210.8,164.6ZM165.4,140.8 170.2,141 177.3,144.7ZM169.1,144.8 160,145.1 154.9,142.7ZM145.6,136.8 151.4,137.2 156.5,140.2ZM198.1,155.2 194.8,155.8 187.6,148.6ZM171,142.4 175.7,142.3 182,145.5ZM201.5,155.5 207.8,157.4 209.8,159.1ZM231.9,170.9 227.6,170.3 222.6,163.3ZM161.6,137.4 157.3,138.3 146.9,136.3ZM149.7,137.3 158.6,135.4 161.5,136.9ZM220.6,165.1 222.9,163.4 227.8,164.6ZM225.8,166.8 218.2,164.7 213.4,159.3ZM219.2,156.7 216.4,158.2 208.4,158.9ZM186.9,143.9 181.3,148 177.5,147.9ZM175.7,143 181.2,145.5 183.9,150.1ZM205.4,160.8 209.2,161.1 213.8,163.6ZM214.7,161 222.1,163.5 228.2,169.3ZM214.1,158.3 208.6,158.8 202.6,154.5ZM212.3,153 207.6,155.6 199.8,154.4ZM223,164.5 231.6,167.3 237.2,171.5Z" fill="rgb(80,40,105)" fill-opacity="0.40"/>
<path d="M245,171.6 238.7,172.8 230.4,171.9ZM236.4,171.8 244.7,168.3 249.1,170.1ZM169.3,139.9 163.7,138.8 162.6,135.6ZM195.4,152.7 185.2,149.7 183.4,146.6ZM209.7,160.8 206,161.4 199.8,158.6ZM191.6,154.7 198.7,154.3 201.3,156.2ZM191.6,148.9 185.1,147.6 179.1,143.4ZM184.4,144.5 188.6,144.6 192.7,148.3ZM193.2,152.7 184.1,149.5 181.3,146.4ZM248.8,176.7 243.3,174.8 238.1,167.6ZM225.6,161.8 231.9,160.7 239,162.4ZM206.8,156.4 212,156.2 215.7,159.6ZM237.7,166.9 232.9,167.1 228.5,164.4Z" fill="rgb(80,40,105)" fill-opacity="0.30"/>
<path d="M195.2,149.7 204.6,155.5 206.6,160.3ZM196.6,154.7 192.6,154.7 187.5,147.9ZM195.7,153.4 200,153 207.7,159.5ZM187.5,152 191.4,151.6 194.8,154.9Z" fill="rgb(80,40,105)" fill-opacity="0.45"/>
<path d="M202.9,149.6 196.7,153.8 193.5,152.7ZM229.2,165.1 237.3,166.5 242.4,169.8ZM239,166.4 242.1,167.2 251.3,174.7ZM248.3,171 244.8,170.6 238.8,166.3ZM154.3,138.8 163,139.7 169.4,141.9ZM212.8,160.7 219,160.9 222.1,162.8ZM176.8,144.8 172.8,145.4 165.8,140.8ZM159.5,138.2 165.6,138.7 169,141.4ZM189.5,148.4 179.9,149.1 178,146.3ZM197,151.5 193.6,152.5 186.5,146.8ZM205.6,155.1 209.8,155.1 213.2,158.1ZM186.6,148.8 182.3,148.2 173.9,141.8ZM155.7,140.5 159.1,142.8 161.7,147.1ZM195,153.1 199.9,154.3 203.8,157.3Z" fill="rgb(80,40,105)" fill-opacity="0.25"/>
<path d="M238.3,165.7 246,167.5 247.1,169.9ZM195.7,152.4 192.3,151.9 185.8,145.7ZM159.9,142.5 151.9,141.9 146.4,140ZM212.6,156.2 222.2,159.1 224.1,162.9ZM165.3,139.8 160.8,141.9 154.2,139.6ZM191.4,149.6 183.7,147.9 178.5,144.7ZM219.5,163.5 222.8,162.8 226.3,166.1Z" fill="rgb(80,40,105)" fill-opacity="0.20"/>
<polygon points="119.4,140.1 120.7,138.1 120,135.2 121.6,132.8 125.4,133.4 125.8,129.5 129.8,128.3 134.2,127.5 139,130.1 143.5,128.1 145.9,131.5 148.9,128.9 151.7,129.8 154.2,131.8 159.3,131.8 163.3,131.4 165.1,135.5 169.1,134.9 174.2,133.5 176.1,139.2 180.7,140.3 185.6,141.4 187.8,146.8 191.4,148.7 194.6,151.1 199.1,150.4 202.6,152.9 207.4,149.4 210,154.1 213,155.3 217.1,151.7 222.1,152.1 227.3,156.4 230.3,157.3 234.3,154 240.1,157.2 245.7,156.2 250.4,154 254.8,152.6 259.9,153 264.7,151.9 265.1,146.1 266,142.6 271.4,146.2 272.5,144.5 273.1,139.9 278.1,143.2 277.9,136 280.8,134.8 286.3,136.5 284.8,130.4 288.9,130.1 293.6,129.4 295,126.8 292.1,122.7 292.4,120.4 297.7,121.6 296.2,117.3 298.5,116.2 297.5,111.7 301.1,112.2 302.5,108.9 304.9,107.6 305.8,105.3 304.4,103 302.1,103.1 300.1,105.1 295.6,104.3 293.4,107 290,107.9 287,109.4 287.6,113.6 281.3,112.5 279.5,115.1 281.4,119.2 282.2,122 278.2,121.2 276.9,122.5 277.5,126.4 272.8,124.3 273.4,128.9 269.8,126.7 269.2,131.2 266.2,131.9 263.7,134.6 259.3,134.9 255.5,135.6 255.9,140.1 253.9,142.3 248.8,139.3 246.5,142.8 242.9,142.2 239.9,144.9 235.4,144.6 232.5,146.4 229.7,145.6 223.8,144.6 219,141.3 215,139.3 211.7,140 209.7,136.9 206.9,138.8 205.5,134.9 200.9,137.9 197.5,136.9 195.8,131.9 191.2,131.6 186.2,131 184.6,123.8 177.9,126.3 174.7,123.5 171.2,121.3 167.5,118.3 163.1,114.5 156.9,115.5 153.2,118.3 150.2,116.3 147.1,114.2 143.5,112.3 137.1,114.4 130.8,115.1 126.5,120.5 121.8,122.8 117.3,125.3 115.2,130 115.3,134.4 115.7,137.7 116.4,139.8" fill="rgb(165,22,24)" fill-opacity="0.1575" />
<polygon points="118.5,140.1 119.7,138.1 119.5,135.1 120.8,132.4 122.7,130.7 125.1,128.5 129.5,127.7 133.8,125.8 138.2,123.8 143.5,124.1 146.3,125.3 149.5,123.8 152.2,126 155,127.1 160.2,127.5 163.9,129.5 167.9,129 170.9,131.3 174.5,133 177.8,136 181.8,138.6 186.2,140.3 189.8,143.1 193.4,144.9 197.9,144 201.1,145.6 204.5,146.7 207.6,147.9 210.7,147.7 213.6,150.4 217.6,148.9 222.4,150.8 228.3,151.7 231.1,153.6 234.2,155.2 240,153.5 245,152.7 249.7,152 253.7,150.3 257.7,149.1 259.9,145.5 262.9,143.7 264.7,141.1 266.9,139.3 270.5,140.5 272,137.5 274.7,136.4 277.8,135.9 279.8,133.5 283.1,132.8 283.7,129.4 286.2,127.9 287.7,125.5 289.2,123.6 289.8,121.3 292,120.1 292.8,117.7 293.6,115 295.8,113.5 297.4,111.6 298.9,109 301.4,107.2 304,106.2 305.2,104.3 304.7,103.6 302.9,104.3 300.5,105.8 297.6,107.1 294.8,108.6 293.1,111 290.7,112.6 287.7,113.7 286.2,116 284,117.8 283.1,120.1 282.1,121.9 282.1,124.4 280.7,126.3 278.6,127.7 276.9,129.7 274.5,130.7 271.6,130.3 269.5,131.7 267.8,135.1 264.2,135.3 261.4,137.2 259.6,140 256.5,140.9 254.7,143.7 251.6,145.5 247.9,146.9 243.9,147.2 239.9,147.3 234.9,148.9 232.2,147.9 229.4,146.8 223.5,145.8 218.4,144.6 214.7,142.1 211.3,142.8 208.6,142.9 206.3,140.7 203.3,140.3 200.1,139.5 197.5,136.8 193.5,136.3 190,133.8 186.2,130.9 180.9,130.4 177.1,127.8 173.7,125.4 169.8,124.6 166,123 162,119.5 156.1,120.4 153.1,119 149.9,119.7 146.7,120.2 143.5,119.6 137.6,118.3 131.9,119.1 126.9,121.5 123.2,125.2 120.1,128.1 117.9,131.2 117.3,134.8 117.1,137.8 117.5,139.9" fill="rgb(165,22,24)" fill-opacity="0.315" />
<path d="M153.7,118 150,121.4 141.6,125.3ZM193.3,146.2 200.1,143.7 206,145.5ZM124,122.9 127.7,119.5 138.1,118.2ZM226.2,144.7 222.9,146.8 217.2,144.2ZM131.8,126.3 136.1,123.3 141,122.5ZM227.2,152.9 222.2,153 219.5,150.8ZM235,148.4 241.2,147.2 246.7,148.6ZM184.4,135.6 175.1,135.1 173.5,132.4ZM253.1,149.5 249.4,151.4 245.1,151.1ZM205.3,144.1 209.6,143 214.1,144.3ZM274.4,134.3 273.7,136.7 268.7,138.5ZM215.3,147.6 210.1,147.1 206.7,143.5ZM221.5,147.8 225.9,146.8 229.1,149.8ZM232.2,149.1 241.9,147.6 247.7,148.6ZM227.6,150.2 233.1,149.1 235.9,150ZM248.5,154.9 253.6,151.8 260.8,149.6ZM128.4,126.4 132.2,123.7 138.8,124.1ZM290,111.6 297.5,105.5 302.6,104.4ZM147.5,128.9 141.7,130.4 139.4,127.8ZM218.3,146.6 225.4,149 227.2,151.8ZM119.1,126.5 122.5,131.2 122.4,140ZM255.5,143.7 251.8,146 245.2,146.2ZM154.4,121.5 156.8,120.5 166.3,121.7ZM230.7,153.1 221.4,149.3 217.3,145.2ZM243.8,151.8 254.9,151.5 259.1,154.5ZM128.6,122.9 125.4,129.2 120,131.3ZM260.4,144.8 263.5,137.4 267.3,135.3ZM265.9,140.4 262.9,144.1 259.5,143.4ZM167,118.5 162.8,121.3 152.3,120ZM139.9,124 146.6,120.9 149,122.7ZM295.1,110.7 297.6,104.8 300.4,104.1ZM194.9,140.1 200.5,139.7 206,142.5ZM298.4,106.4 302.5,100.4 308.9,97.2Z" fill="rgb(165,22,24)" fill-opacity="0.75"/>
<path d="M136.4,122.6 141.2,121.3 146.2,121.9ZM274.4,131.6 268.5,136.4 261.8,139.8ZM145,120.6 136.4,122.8 133.2,121.5ZM297,114.3 294.1,117.6 289.2,118.3ZM191.5,141.6 182.2,139.6 177.7,135ZM122.5,131.5 125.5,128.8 133.9,128.1ZM197.8,148.1 203.2,147.3 207.4,148.5ZM200.7,139.7 204.2,140.8 206,146.2ZM242.9,150.3 236.8,152.4 232.9,150.8ZM260.6,141.9 260.2,144.8 254.3,146.1ZM119.4,136.1 116.2,127.1 117.6,123.8ZM114.1,128.7 117.2,125.2 122.5,123.9ZM116.6,137 117.5,132.9 120.1,130.5ZM305.1,104.3 302.8,109.3 301,110.3ZM284.5,128.9 285,125.9 292.1,123ZM132.7,123.7 134.6,121.9 141.8,123.1ZM125.8,125.7 128.6,122.9 132.4,122.5ZM196.9,143.3 200.5,143.5 208.2,147ZM274.8,131.6 278.1,126.7 283.3,124.9ZM251.5,148.2 245.6,151.3 241.7,150.9ZM119.6,129.1 122.5,126.7 130.3,127ZM208.3,145.8 216.3,143.3 223,144.3ZM183.4,127 177.8,129.1 174.3,126.9Z" fill="rgb(165,22,24)" fill-opacity="0.70"/>
<path d="M167.3,126.8 158.7,123.7 156.9,121.7ZM139.8,123.3 135.7,121.9 131.6,118.6ZM184,133.9 189.9,133.4 191.8,136.3ZM185.7,139.5 188.6,142.2 189.7,145.1ZM304.5,99.1 299,106.7 294.6,109.6ZM125.1,125.9 120.9,133.8 118.4,135.7ZM285.1,124.1 288.7,117.5 292.3,117.1ZM122.7,128.4 121.4,134.7 117.5,137.7ZM133.1,122.8 139.5,122.5 147.6,126.2ZM301.2,105.7 296.2,113.1 291.2,114.9ZM237.8,152.4 230.5,149.5 226.4,143.8ZM151.5,122.6 159.9,120.8 164.7,121.3ZM113.4,141.4 113.2,136.7 115.6,133.8ZM297.4,113.3 296,116 291.8,118.4ZM273.6,137.9 268.4,142 266.2,140.5ZM271.1,133.2 274.2,130.2 276.6,130.7ZM188.2,139.8 183.2,137.5 182.4,134.5ZM277.2,131.7 278.1,127.4 284.1,124.5ZM287.5,119.8 289.2,121.9 285.1,126.7ZM218,144.3 214.4,146.5 210.5,146.2ZM130.5,119.7 124.2,125.3 119.3,126.6ZM205.3,142.9 199.1,142.4 191.5,137.7ZM246.7,151 242.3,153.6 235.8,152.5ZM307.5,95.5 302.3,104.8 299.3,107.3ZM224.3,147.6 232.5,148 237.6,150.3ZM256.4,146.3 260.9,141.9 268.1,139.7ZM138.1,126.3 140.5,125.1 147.2,127.2ZM157.2,118.6 160.3,116.7 167.1,119.2ZM154.8,126.4 150.2,125.6 142.1,121.3ZM296.5,115.6 292.9,120.3 289.3,120.1ZM254.3,151 254,147.3 257,145.5ZM114.1,136 114.8,140.6 113.1,143.1ZM115.5,138.7 114.4,132.3 117.5,128ZM144.4,121.8 150.1,121.2 152.8,123.3ZM127.8,120.9 133,117.6 136.3,118.2ZM123.7,125.9 122.2,136.7 119.2,139.5ZM302.4,108.7 308.6,104.7 311.1,104.9Z" fill="rgb(165,22,24)" fill-opacity="0.55"/>
<path d="M298.9,101.9 299.6,104.5 294.5,110ZM129,127.9 124.8,131.9 122.4,130.8ZM185.2,137.5 191,137.1 198.3,141.5ZM252.1,144.1 255.7,142.5 264.4,142.4ZM146.5,124.2 142.3,124.4 138.4,121.3ZM212.9,142.1 217.7,140.1 219.2,142.3ZM292.1,111.2 300,106.3 304.9,105.6ZM124.9,121.2 131.6,119.3 137.3,119.9ZM297.4,114.1 289.1,119.1 282.7,120.2ZM292.4,129.7 288.7,132.3 280.1,134.1ZM254.4,150.1 255.4,146 259.2,144.6ZM206.2,144.4 212.2,142 218.5,141.3ZM151.8,122.6 159.4,122.5 161.5,124.9ZM253.3,148.6 243,153.1 238.1,152.4ZM288.6,124.2 289.1,118 292.5,114ZM163.8,123.4 159.7,125.7 154.1,123.3ZM141,126.5 137.5,126.9 126.3,124.3ZM225.8,145.6 217.5,149.5 212.3,148.5ZM284.1,126.1 283.6,121.7 287.5,114.5ZM286.9,128 279.9,133.2 272.7,134.3ZM185,137.4 178.1,137.7 175.4,135.6ZM134.5,122.3 138.8,118.8 145.8,119.1ZM131.9,119.9 129.6,122.3 124,121.7ZM269.4,136.9 268.1,143.8 262.3,150.5ZM148.6,121.2 151.8,120.8 154.9,122.5ZM279.2,129.1 280.4,126.3 287.4,125.2ZM225.7,149 219.3,148.4 214.9,143.3ZM170.6,123.2 166.9,123.8 156.6,122.3Z" fill="rgb(165,22,24)" fill-opacity="0.45"/>
<path d="M227.7,150.7 224.4,150.6 221,144.4ZM271.5,134 273.2,126.3 275.7,124.5ZM135.9,126.1 144,124.7 149.3,125.8ZM134.2,124 129.7,128 127.6,128.2ZM236.6,151.3 232.4,151.5 230.8,149.9ZM189.4,142.8 185.8,140.1 178.7,131.1ZM121.3,135 119.2,140.3 111.3,144.7ZM274.8,135 276.1,131.8 284.2,126.6ZM163.4,125.5 160.3,126.9 155.9,124.9ZM296.7,111.8 292.8,116.8 286.6,118.4ZM148.8,124.9 153.7,123.2 164.2,124.1ZM192.7,139 184.1,137.6 181.1,134.6ZM293,112.7 289.6,116.4 287.6,115.3ZM127.1,124.7 124.3,128.2 119.3,130.7ZM183.5,133.5 178.6,131.8 175.8,127.2ZM193,140.9 196.5,140.2 204.9,142.9ZM215.5,149.8 212.6,150.8 207.7,150.2ZM248.6,147.7 244.1,151.1 235.8,153ZM186.2,137.7 181.3,136.9 180.3,134.2ZM300.2,105.6 301.1,110.6 298.5,113.7ZM128.8,126.4 131.6,122.9 134.6,124.4ZM138.7,121.2 145.5,119 150.5,120.7ZM198,135.9 205.6,141.6 208,145.9ZM222.3,151.3 224.5,147.5 231.8,141.6Z" fill="rgb(165,22,24)" fill-opacity="0.50"/>
<path d="M205.8,149.7 211.2,147.1 220,146.2ZM169.2,127 163,123.5 162.1,121.3ZM161.8,125.3 164.3,123.3 171.1,126.3ZM115.4,141.4 114.2,137.8 115.2,132ZM168.4,124.1 171.6,124.7 172.4,128.7ZM172.5,126.6 169.8,127.2 165.7,125.8ZM172.3,116 165.5,120.2 163,119.9ZM282.5,135.5 283.6,125.8 287.4,121.8ZM190.5,138.2 187.8,137.2 183.8,129.8ZM243.8,149.4 253.4,143.9 258,143.4ZM162.8,125.3 159.2,125.9 154.5,124.2ZM170.4,123.3 166.3,124.2 157.4,120.5ZM218.2,145.1 223.8,148.9 229,156ZM219.3,145.7 215.8,146.3 209.3,144ZM264.1,139.2 257.1,148.5 253.6,148.9ZM234.5,153.2 228.8,154.5 224,152ZM274.4,134.4 272.1,136.6 267.6,135.9ZM147.1,123.8 140.6,125.4 137.9,123.2ZM172.5,127.4 180.6,128.9 184.2,133.4Z" fill="rgb(165,22,24)" fill-opacity="0.35"/>
<path d="M181.2,134.7 174.7,134.8 166,130.4ZM224.7,150.7 221.4,150.4 216.9,146.4ZM144.8,116.9 150.8,119.5 154.7,124.9ZM249.5,153.8 243.8,155.3 241.1,154.6ZM260.6,137.1 258.7,140.7 252.9,143ZM305.7,105.1 302.6,110.2 298.9,112.2ZM291.3,113.1 290.5,117.4 281.7,125.5ZM252.2,143.7 256.8,142.7 258.1,145.2ZM200.9,144.2 202.7,142.7 207.1,144.7ZM141,118.4 147.3,119.4 154.2,124.4ZM131.5,122.1 136,118.6 137.6,118.6ZM181.6,127.4 185.6,127.8 192.3,136.6ZM154.9,123.1 157.6,122 164.5,126.9ZM277.8,131.4 277.2,134.3 271.4,135.2ZM253,148.4 246.4,150.6 242.2,150.2ZM133.6,127.3 126,134.1 121.2,134.1ZM189.7,141.2 193.8,139.2 198.4,140ZM278.4,124.2 277.8,126.9 272.3,131ZM230.3,146.1 226.4,146 224.4,144.6ZM233.3,154.4 235.5,152.9 244,154.5ZM133.1,119.4 141.3,119.6 145.1,122.9ZM162.1,129.7 164.5,128.5 170.8,129Z" fill="rgb(165,22,24)" fill-opacity="0.40"/>
<path d="M172.9,125.4 167.8,125.2 166.8,123.3ZM152.5,123.8 158,125.5 166.2,130.3ZM278.2,128.2 276.7,131.4 269.8,136.2ZM286,114.4 291.5,122.9 290.1,126.1ZM162.4,123 158.5,124.2 155.6,122.5ZM239.3,155 245.3,150.3 248,150.1ZM238.5,152 230.2,152.9 226.4,151.3ZM288.8,116.7 291.4,113 297.1,112.3ZM229.2,149.1 235,149.1 244.4,153.1ZM309.5,100.6 306.9,104.6 300.1,106.9ZM131.3,119.1 135.1,117.8 141.4,118.7ZM149.5,121.3 154.7,119.5 158.3,120.6ZM236.2,150.6 233.4,151.1 225.6,147.7ZM255.1,152.3 247.8,150.8 243.1,148.3ZM303.2,102.1 299.6,105.9 293.5,106.8ZM265.2,140.1 272.6,137.2 276.9,137.3ZM195,139.7 199.5,142 199.8,144.9ZM270.5,141 268.9,142.8 262,142.2ZM222.2,149 218.5,148.5 211.2,144.7ZM270.9,133.5 278.3,129.1 281.7,128.7ZM204.5,148.2 198.7,145.5 198.3,141.7ZM186.1,139.9 183,139.9 178.7,135.1ZM297,105.5 295.1,108.2 290.4,109.2ZM133,120.9 127.3,125.6 124.3,124.6ZM281.8,126.7 278.5,131.4 270.2,134.7ZM228.5,145.9 223,147 214.6,144.3ZM183.7,130.3 179.9,130.2 173.5,124.8ZM167.6,128.5 173.8,130.3 175.2,131.9ZM227.8,143.9 223.5,145.2 215.8,144.1ZM208.2,146.7 206.6,148.8 200.3,148.3ZM146.1,116.4 144.3,119 138.4,119.7ZM181.3,128.1 175.2,128.9 167.4,124.8ZM188.7,136.1 192.9,136.8 193.8,140.1ZM241.8,145.3 250.5,148 252.9,151.3ZM277.2,133.4 275.8,136.9 269.6,140.9ZM288.9,125.4 282.2,134 277.4,136.2ZM209.5,149.4 219.3,147.2 223.2,149.5Z" fill="rgb(165,22,24)" fill-opacity="0.65"/>
<path d="M182.3,131.9 176.1,129.7 175.2,127.4ZM289.9,119.9 286.7,123.2 281.1,125.6ZM256.2,144.6 253.4,146.8 249.8,146.7ZM246.1,153.6 247.2,150.5 252.2,147.1ZM209.9,151.1 206,150.9 202.4,147.2ZM169.3,121.7 166.9,121.5 162,117.3ZM223.6,145.7 215.4,149.4 212.4,148ZM139,121.7 146.3,123.5 149.7,127.3ZM232.5,152.3 226.8,151.9 224.6,148.8ZM225.1,147.5 215.5,147.8 212.9,146.7ZM232.8,147 229.8,147.2 224.3,143.9ZM213.2,150.9 207.2,150.2 199.6,145.1ZM135.3,119.9 138.9,119.7 147.3,122.2ZM244.5,150.1 239.5,151.1 229.6,145.5ZM280.2,130.8 285,127.9 287.2,127.8ZM171.8,128.7 177.3,130.3 181.2,134.2ZM197.9,142.6 201.4,143.5 204,149.4ZM275.2,133.6 284,126.2 288.5,125.2ZM152.3,127.5 155.4,125.8 159.2,129.1ZM220.1,145.7 217.6,146 211.5,141.7ZM167.3,129.8 164.4,129.8 157.5,125ZM226,150.2 221.6,153.7 218.4,153.1ZM299.9,107.7 297.9,110.5 294.1,110.1ZM183,129.2 188.7,132.7 191.9,137.9ZM255.4,146.3 251.8,149.3 249.3,148.1ZM159,119.3 149.9,125.2 146.3,125.7ZM242.1,154.1 249.6,149.2 252.3,149.4ZM156.3,121.3 166.6,121.2 170.9,124.5ZM116.6,139.7 118.4,128.4 120,125.6ZM283,126.9 281.5,124.7 283.9,118.7Z" fill="rgb(165,22,24)" fill-opacity="0.60"/>
<path d="M251.3,148.9 248.6,149.8 243.8,149.1ZM231.3,150.4 238.8,150.2 244.5,151.6ZM188.4,131.4 185.8,132.7 181.9,129.3ZM176.1,132.8 171.5,132.1 169.7,130.5ZM118.8,141.7 117.1,137.3 118.9,130.3ZM190.5,141.2 181.3,139.8 175.6,136.1ZM277,130.2 278.5,125.7 282.6,124.2ZM116.3,131.3 120,126 128.9,122.3ZM252.4,150.1 253.7,145.9 259.7,137.7ZM162.8,128.4 170.7,128.2 175,130.9ZM296.8,110.3 301.1,105 305,102.5ZM304.8,104.2 300,109.4 295.7,110.4ZM167.3,133.2 160.7,130.4 159.8,127.8ZM239.9,147.2 245.8,141.9 252.5,141.2ZM159.1,129 157,130.7 150.5,127.6Z" fill="rgb(165,22,24)" fill-opacity="0.80"/>
<polygon points="199.2,158.3 201.7,161 205.7,162.8 211,163.9 212.2,169.9 214.3,172.8 219.2,169 220.5,175.7 225.9,172.2 229.4,174 233.6,174.4 237.3,175.9 239.1,183 243.3,183.2 246.5,185.4 251.1,183 254.5,184.3 257,187.8 260.7,188 263.8,190 269.6,184.7 273.1,186.5 275.3,193.5 280.3,192.4 284.4,190.5 285,198.1 289,196.4 292.5,196 295.1,198.4 297,202.1 301.3,199.5 304.8,199 306,203.8 311.6,201.3 314.8,204.9 319.3,204.9 322,209.2 324.5,213.5 329.4,212.5 332.6,214.7 336.3,215.7 338.6,219.4 343.5,216.7 346.2,218.5 348.6,221.4 356.3,218.4 360.6,224.3 367.1,222.2 372.3,222.6 376.9,220.3 379.8,220.7 380.3,216.8 377.6,214.4 373.4,215 369.4,210.8 364.4,211.2 361.3,204.8 355.4,204.4 352.6,203 351.5,197.4 346.2,201.2 342.2,201.9 340.4,196.6 338.3,192.2 333.8,192.5 327.8,196.1 327.2,186.9 320.2,192.2 317.5,187.3 313,186.6 310.8,183.6 307,184.7 305.6,179.9 302.2,179.6 298.1,181.2 296.3,176.7 291,181.8 289.3,177.1 287.6,172.1 282.7,172.6 278.4,171.2 275.1,168.2 269.7,171.8 265.9,171.8 263.3,167.7 259.5,168.1 255.5,169.2 253.4,163.8 250.3,162.2 246,162.8 241.6,163.7 239.3,157.7 236,155.1 230.6,158.5 227.5,155.7 223.3,157.2 221.5,151.6 217.4,154.5 213.7,155.9 208.6,154.1 204.5,152.3 201,153" fill="rgb(165,22,24)" fill-opacity="0.1575" />
<polygon points="199.5,157.5 202.4,158.7 206.8,159.7 211.7,161.8 214.5,163.1 216.7,165.8 219.7,167.7 222.4,170.2 226.3,170.9 230,172.1 233.5,174.5 238.4,172.9 242.3,173.8 245,178.1 249.5,176 253.1,176.8 255.4,181.3 259.9,178.5 263.1,180.4 266.4,182 269.2,185.9 273.5,185.2 277.4,187.5 281.6,188.8 284.2,191 287.2,192.1 290.6,191.9 294.1,191.8 297,193.4 299,196.9 302.7,195.7 305.6,196.7 307.6,200 312.6,199 315.9,202.3 320.7,201.7 324.8,203 327.2,207.4 330.4,210.2 335.6,207.8 338.6,210.2 341.6,212.2 344.6,213.9 348.5,213 350.4,216.9 357.2,216.1 362,219.3 367.6,219.5 372.7,219.9 376.8,220.9 379.8,220.6 380.1,218.1 377.3,216.8 373.1,217 368.9,213.3 363.9,212.9 359.8,208.9 354,208 350.3,208.7 347.7,206.4 344.6,204.9 342.5,201 338.1,202 334.4,201.1 330.5,200 326.7,198.5 323.9,194.4 319.9,193 316.6,189.5 311.1,191.4 309.5,186.8 305.1,189.6 303.2,186 299.3,187.2 297.7,182.2 294,183 291.5,180.5 287.5,181.9 285.1,179.1 280.8,178 277.1,174.9 273.4,173.5 269.4,172.9 265.3,173.6 262.1,171.7 258.3,171.9 254.7,171.7 252.4,167 247.8,169.6 245.1,165.3 240.7,166.1 236.7,165.3 234,160.7 229.9,160.6 226.2,159.3 222.5,159.5 218.8,159.8 215.7,159.4 212.8,158.5 207.8,156.6 203.4,155.6 200.4,154.9" fill="rgb(165,22,24)" fill-opacity="0.3276" />
<path d="M331.8,207.4 321.2,206.4 317.2,204.6ZM332.8,205.6 340.4,211 341.7,215.7ZM225.5,168.1 227.6,166.5 232.1,169.7ZM329.8,193.3 333.7,193.8 339.5,197.8ZM260.9,168.4 253.7,169 251.1,167ZM383.4,214.8 373.8,216.1 367.5,215.6ZM250.3,173 247,173.1 240.6,166.1ZM234.8,162.4 238.7,162.9 239.3,166.5ZM315.4,193.2 318.6,194.2 320.2,196.9ZM323.6,203.2 315.7,200.1 314.1,198.1ZM291.3,186.2 287.2,188.1 284.7,187.4ZM235.2,170.1 229.8,170.6 220.5,166.2ZM358.4,211.7 363.1,214 367.6,220.3ZM302.5,186.8 308.7,188 316.3,192.8ZM293.8,192.1 284.7,188 280.9,185ZM229.8,160 238.1,167.2 239.3,170.6ZM244,170.4 240.3,171.2 232.9,168.9ZM266.2,168.4 276.8,171.9 280.5,175.3ZM316.5,196.3 324.6,199.8 326.2,204.2ZM274.9,184 267.1,183.8 264.4,181.6ZM311.7,196.3 318.1,191.7 325.4,190.1ZM328.5,205.2 334.1,204.4 340.3,207.8ZM337.5,209.3 334,206.7 331.6,203ZM313.7,195.7 308.7,196.3 302.9,195.2ZM300.5,186.5 297,186.4 294.8,184.3ZM210.3,160.5 214.7,157.1 221.2,158.2ZM340.1,207.6 335.7,206.8 328.4,200.5ZM349.4,208.7 347.2,211.2 340.9,210.5ZM290.9,186.2 287.8,187.5 281.7,184.5ZM270.1,181.6 273.6,181.6 276.5,183.6ZM215.8,155.3 211.3,157.7 209.3,156.5ZM255,178.4 250.1,177 248.9,175.4ZM276.6,188.1 278.9,187.6 286.2,190.7ZM355.3,216.6 361,218.1 368.2,224ZM239,174.1 242.6,173 252.1,178.8ZM363.6,221.1 369.1,219.4 373.6,222ZM279.3,178.9 275,179.1 266.2,175.3ZM312.7,201.5 307.2,200.5 305,197.6ZM297.5,197 301.4,197 308.2,199.5ZM290.3,184 284.3,179.9 281.6,175.9ZM300.3,181.6 294,180.1 290.6,176.3ZM311.9,202.6 307.6,200.1 301.2,191.8ZM217.5,154.2 210.2,154.8 204.9,152.1ZM297.2,192 303.8,192.1 312.4,194.4ZM248.4,173.3 254.1,175.6 255.8,179.6ZM328.1,206.5 335.8,207.5 336.7,210.3Z" fill="rgb(165,22,24)" fill-opacity="0.40"/>
<path d="M250.6,166.8 245.9,168.1 235.7,164.9ZM339.2,210.2 336.4,210.5 332.5,206.8ZM311.1,202.5 307.9,202 305.8,198.5ZM263.2,176.2 269.2,178.9 269.3,182ZM345.7,212.1 340,211.7 338.8,209.1ZM249.4,164.9 255.9,168.6 261.2,174.8ZM252.2,171.2 258.3,170.1 263.4,172.5ZM384.7,222.6 375.2,219.8 372.3,216.2ZM314.5,190.7 312,191.9 307,188ZM228.9,168.3 221.1,166.5 214.6,162ZM312.7,193.1 316.3,193.2 318.2,197ZM268.4,178.5 265.6,178.9 261.4,174.4ZM203.9,158.8 198.3,157.6 197.4,155.9ZM196.6,149.4 206,153.1 207.5,156.7ZM319.9,189.7 316.3,191.2 307.8,191ZM280.4,183.4 286.8,183.7 291.7,188.6ZM212,160.6 208.5,160.8 205.9,159.3ZM349.8,209 354.7,210.9 355.8,212.9ZM342.7,215.6 348.6,216 355.6,218.4ZM305.5,198.9 308.1,199.3 315.2,204.3ZM196.8,153.4 201.4,153.1 208.8,155.1ZM310.1,188.6 304.2,186.3 302.6,184.4ZM345.3,203.6 335.8,199.6 333.8,196.3ZM278.4,181.6 276.5,182.5 271.9,179.4ZM239.4,169.9 236.5,171.1 230,166ZM322.8,200.7 315.9,197.6 313.9,192.6ZM210.7,161.2 215.3,159.7 224.1,160.1ZM209.9,165.7 215,166.1 222.3,169.2ZM353.9,212.4 359.1,208.6 366.6,208.4ZM330.4,204.3 325.3,201.8 322.5,198.9ZM338.8,206.8 332.4,202.7 329.7,196.1ZM215.4,161.5 213.6,162.4 208.6,160.5ZM342.5,208.7 333.8,207.1 329,203.2ZM235.1,165.3 245.4,166.5 250.6,168.4ZM290.7,179.7 287.9,181.4 278.3,181.9ZM288,186.8 291.4,185.3 294.6,187.4ZM223.2,164.5 226.9,163.5 229.5,166.9ZM209.8,163.5 215.5,164.5 215.5,167.2ZM297.2,185.3 290.6,188.1 285.7,188ZM319.3,197.2 313.5,196.1 311.3,193.5ZM339.5,204.3 335.6,204.2 329.9,201.8ZM275.8,181.3 269.8,180.6 267.8,178.5Z" fill="rgb(165,22,24)" fill-opacity="0.80"/>
<path d="M370,227.1 366.6,226.5 362.9,223.2ZM269.7,177.3 273.5,176.4 284.3,180.1ZM357.9,211.6 367.3,212.7 369.3,216ZM278.8,182.1 272.2,178.6 268.6,173.3ZM298.7,188.7 290.6,190 285.6,187.1ZM330,209.3 334.2,208.4 342.8,210.6ZM271.8,180.5 278.2,181.1 282.3,183.1ZM233.5,163.5 239.9,161.2 245.5,163.5ZM346.4,201.7 352,202.2 357.6,207.3ZM284.7,185.9 289.8,186.1 291.5,187.3ZM365.8,219.4 371.7,215 375.5,214.2ZM312.6,186.8 318,187.9 318.7,191.1ZM227.4,167 221.6,166.5 214.6,160.8ZM293.4,192.2 283.8,191.7 279.7,189.3ZM302.1,189.5 294.6,188.3 291.8,185.1ZM252.3,174.5 247.5,174.6 242.8,172.9ZM322.7,198.5 328.6,199.3 329.9,200.6ZM281.2,184 288,186.2 290.5,188.9ZM259,177.6 267.7,182.8 269.6,185.9ZM341.2,213.4 348.7,211.6 355,214.4ZM267.9,174.6 275.2,176 278.1,178.3ZM271.6,176.5 279.9,173.2 284.6,174.7ZM356.3,214.7 352.4,214.9 346.3,208.8ZM230.5,170.6 235.8,170.3 244.3,174.7ZM355.1,209.4 360.4,210.7 368.6,215.7ZM233.7,158.4 240.3,155.5 243,156.7ZM327.6,212.1 336.9,210.6 343,212.7ZM255.1,167 250,168.4 249.1,165.8ZM205.7,159.2 213.8,158.3 221,161ZM216,162.2 211.1,160.9 204.5,156.6ZM313.5,189.9 309.1,193.1 302.2,192.4ZM204.7,152 212.5,153.9 216.9,156.8Z" fill="rgb(165,22,24)" fill-opacity="0.45"/>
<path d="M219.6,164.4 224.5,163.7 232.6,168.5ZM341.5,211.9 338.2,211.8 336.2,207.6ZM278.7,174.2 274,175.6 266.2,174.5ZM349.4,213.2 346.8,212.8 342.1,209.4ZM232.6,171 239.4,167.4 244.5,167.6ZM353.7,215.5 355.2,214.7 360.9,216.1ZM216,162.2 212.7,160.2 209.8,154.3ZM309.1,194.2 305.7,195.9 298.6,191.7ZM334.1,210.5 337.3,212.2 338.4,215.4ZM206.3,171.6 200.6,170 196.6,165.6ZM214.9,166 222.1,165.2 227.3,168.3ZM340.6,210.6 344.2,209.8 349.6,214.9ZM362.6,220.9 370,220.6 371.6,223ZM203.7,159.8 200.4,161.9 193.3,161ZM305.4,189.8 311.5,191.7 317,197.9ZM208.9,147.7 203.9,150 197.9,150.2ZM346.7,210.9 351.2,211 355.2,214.4ZM235.9,168.1 245,171.1 249.3,173.9ZM348.9,210.5 355.4,213.8 356.5,218.4ZM232.4,170.7 235.2,168.9 241.8,170ZM206.9,160.5 215.9,157.2 220,159ZM230.4,171.4 236.5,170.2 242.5,173ZM340.6,204.6 343.2,204 349.6,209ZM343.2,202.6 338.8,203.1 328.2,198.7ZM252.8,174.3 248.4,172.9 242.1,166.9ZM317.6,189.6 309.4,190 306.3,188.8ZM321.7,193.7 327.2,194.7 331.7,198.2ZM346.1,206.1 349.4,206.5 354.9,210ZM248.3,170.7 239.4,172.9 234.7,170.7ZM275.9,183.7 281.1,183.6 287.4,187.2ZM340.8,208.1 334.1,207.2 332.6,204.9ZM278,182 287.1,181.8 289.4,184.3Z" fill="rgb(165,22,24)" fill-opacity="0.65"/>
<path d="M235.4,160.7 242.3,164.8 245.9,172ZM277.4,177.7 274.9,180.5 268.3,182.8ZM361.4,217.4 368.5,217.4 371.9,219.9ZM197.1,163.2 205.1,166.3 209,171.5ZM230.2,162.5 234.6,161.8 238,164.6ZM201.9,163.8 206.3,165.2 207.6,167.4ZM231.3,166 227.6,167.1 221.6,165.1ZM273.7,176.8 269.2,177.4 265.8,174.1ZM230.6,160.8 221.3,160 219.6,157.4ZM312.9,192.9 321.1,195.1 324.1,199.5ZM249.7,173.6 254.5,171.5 264.7,173.8ZM314.9,197.2 320.4,198.1 324.1,201.3ZM258.9,179.7 264.6,178.6 266.2,181.4ZM275,183.5 279.2,180.6 286.9,178.4ZM295.4,191.4 300.7,190.8 305.6,194.8ZM307.7,191.4 314.7,196.6 317.3,201.5ZM352.1,210.6 344,211.9 337.5,210.4ZM306.6,199.7 304.3,200.4 301.6,195.9ZM343.3,200 345.4,198.5 348.9,202.7ZM372.5,216.4 368.5,217.7 364.3,215.1ZM307.6,186.2 300.2,185.8 295.8,181.6ZM354.8,218.3 351.3,218.3 346.4,214.7ZM197.9,149 203.2,151.7 208.2,157.9ZM225.9,157.3 229.6,157.1 237.4,163.9ZM211.5,161.6 206.7,163.1 195.8,162.5ZM332.9,205.4 337.3,205.2 342.3,208.9ZM226.5,160.4 235.9,162.3 238.1,164.2ZM270.8,175.3 261.1,176 258,174ZM243,177.2 250.1,175 254.1,177.4ZM250.6,170.9 244.5,171.3 240.5,167.7ZM260.3,170.3 257.2,172.3 251.7,171.6ZM258.9,174.3 266.3,173.8 269.8,175.3ZM319.4,202.3 313.1,200.3 308.7,194.4ZM281.5,187.6 277.3,183.2 274.5,177.4ZM258.5,172.9 265.7,174 271.6,179.2ZM299.3,187.3 305,189.6 308.2,193.3ZM311.3,190.2 303,184.2 301.9,181.6ZM208.5,169.9 214.3,168.3 219.8,170.8ZM231.8,171.3 227.9,169.7 221.9,164.1ZM337.9,205.2 342.8,207.2 344.1,209.8ZM259.6,175.2 256.5,176.8 247.1,176.7ZM321.2,199.3 323.9,198.1 330,202.9ZM366.1,223 373.8,220.8 380.7,221.9ZM222.1,163.9 214.2,163.2 211.7,160.3ZM374.5,214.6 367.5,217.9 364.6,217.4ZM227.5,166.1 232.8,166.6 241.5,171ZM230.1,161.8 225.3,161.7 221.4,159.5ZM223,160.2 212.8,159.8 208.8,157.3Z" fill="rgb(165,22,24)" fill-opacity="0.70"/>
<path d="M331.2,208.5 326.1,207.9 325.5,205.9ZM228.4,159.6 235.9,156.7 238.2,158.9ZM386.6,216.3 381.2,219 374,217.2ZM245,173.4 241.4,173.5 234.6,171ZM300.6,183.3 306.2,186 311.3,191.7ZM346.3,206.2 343.3,206.9 340,204.7ZM361.4,213.9 363.5,213.9 366.9,217.6ZM253.7,170 250.5,169.9 240.8,165.7ZM270.2,176.5 272.4,175.2 277.7,177.8Z" fill="rgb(165,22,24)" fill-opacity="0.35"/>
<path d="M327.3,189.5 332.2,193 338.1,200.6ZM344.1,208.4 335.7,204.5 331.4,199.7ZM284.1,179 288.2,178.5 290.1,181.1ZM224.1,168.8 230.1,170.3 234.3,173.5ZM284,185.5 290.3,192.1 293,197.7ZM276.1,179.7 270.3,178.2 265.5,172ZM355,212.7 361.8,212.5 368,214.3ZM198.5,151.1 206.6,151.8 212.6,154.3ZM236.3,166.7 233,168.1 225.8,164.9ZM245.8,168 242.1,169.1 236.9,167.5ZM264.9,178.5 270,175.7 272.8,177.7ZM287.3,189.5 280.6,188.8 278.7,186.7ZM257.3,168.1 251.1,168.7 243.8,167.3ZM272.9,175.3 261.8,178.5 257.2,176.7ZM275.4,180.3 273.2,182.2 268.5,178.7ZM246.8,181.1 250.4,180.6 254.1,182.1ZM303.8,189.1 309.5,186.5 311.8,187.6ZM307.6,195.3 300.6,193.4 298.5,189.1ZM264.6,174 257.3,175.3 249.6,174.5ZM197.7,150.4 207.5,150.8 209.7,152.5ZM307.9,195.8 299.9,190.8 298.2,188.4ZM199.5,153.8 207,155.9 213.4,160.4ZM322.2,202.7 318.7,203.6 314.3,201.5ZM244.5,166.8 239.7,166.2 229.6,161.7ZM359.6,216.7 363.8,216.1 368,217.7ZM260,177.4 255.9,175.9 253.4,173.1ZM281.1,187.4 287.2,188.7 290.8,191.2ZM216.2,168.1 223.4,165.1 228.2,166.8ZM213.3,163 219.3,163.5 223,167ZM317.3,190.8 322.3,192.4 329.4,200.7ZM264.4,176.4 261.4,177.1 257.1,175.3ZM280.8,181.6 285.9,182.7 291.9,188.8ZM243.4,170.7 250.7,171.2 257,173.7ZM246.3,168.1 249.3,169.1 252.6,174.2ZM236.8,166 231.2,167.7 227.4,166.3ZM337.9,203.9 334.9,204.1 332.2,200.5ZM229.2,159.7 237.3,162.2 241.1,167.6ZM318,190.3 315.4,190.9 310.2,189.3ZM224.6,176 235.9,174.8 239.1,176.3Z" fill="rgb(165,22,24)" fill-opacity="0.50"/>
<path d="M251.2,174.3 261.4,176.8 263.7,178.5ZM206.3,159.9 200.4,155.7 200.3,152.1ZM219.7,160.1 217,160.6 214,158.2ZM305.8,186.8 298.5,186.6 291.8,184.3ZM357.2,206.3 353.5,205.8 348.3,199.3ZM350.4,216 341.5,212.5 339.7,209.7ZM338.9,212.5 331.1,208.9 330.2,205.1ZM255.2,174.3 248.8,171.5 244.1,166.8ZM257.4,174.9 254.1,175.3 250.3,173.8ZM268.8,178.2 272.5,175.8 276.5,176.8ZM224.9,157.2 233.7,158.1 237,161.2ZM209.2,159.7 212.8,158.2 217.8,159.7ZM224.7,164.7 222.2,165.6 215.3,162ZM207.1,163.9 209.9,162.6 216.1,166.7ZM220.9,152.9 226.5,154.2 234.1,158.3ZM318.5,194.1 325.1,201 327,205.3ZM301.5,192.7 291.6,189.8 288.6,185.8ZM291,189.8 294.9,194 295.8,197.5ZM200.7,160.4 204.1,157.6 215.4,157.8ZM343.7,214.6 350.8,213.1 358.7,215.2ZM230.5,159.7 236,160.9 240.5,165.2ZM308.1,197.9 299.4,194.5 298.4,191.2ZM305.7,186.5 302.8,185.7 299.6,182.2ZM285.1,187.4 286.9,187 292.1,188.9ZM215.4,159.9 211.5,160.7 208.2,156.7ZM276.2,176.4 272.5,177.7 265.9,173.8ZM217.5,158.6 209.2,157.5 203.1,152.9ZM202,154 205.9,153.8 216,158.7ZM332.2,199.9 337.4,198.1 344.5,200ZM361.2,217.5 365.3,215.2 370.8,216.4ZM261.5,176.7 254.4,172.4 253.3,169.8ZM309.2,188.4 314.9,187.6 324.5,189.4ZM253.9,178.6 262.2,181 268,185.9ZM230.1,161.2 222.1,161.4 214.7,158.3ZM235.8,164.3 241,163 242.6,164.5ZM258.6,181.1 251.3,176.9 247.4,173Z" fill="rgb(165,22,24)" fill-opacity="0.60"/>
<path d="M217.2,157.7 212.8,158.1 209.9,155ZM298.7,185.8 291.4,185.7 287.7,184.3ZM287.9,188.3 293.6,190.3 294.1,193.6ZM310.9,194 315,192.6 317.8,195.8ZM252.3,173.5 245.6,171.9 242.3,168.7ZM340.8,204 334.4,206.3 332.5,204.1ZM305.7,194.3 298.3,191.3 296.4,189ZM264.6,184.7 260.6,185.5 256.6,182.1ZM346,209.8 354.2,211.4 358.8,214ZM275.7,180.5 270.8,179.7 262.9,173.2ZM217.7,162.8 215.5,164.9 208.2,166.2ZM263.5,175.3 257.8,177.5 253.8,176.2ZM375.1,214.3 370.7,215.2 367.2,213.6ZM248.2,183.4 243.7,180.1 239.3,172.8ZM230.4,164.4 235.3,164.6 242.6,167.5ZM226.6,163.7 235,161.3 239.5,163.4ZM246.5,173.3 249.3,174.2 253.7,178.8ZM245.6,176.2 236.5,173.5 235.7,170.4ZM227.7,161.5 221.9,160.1 219.6,157.9ZM278.3,184.9 285.4,182 288.4,183.2ZM197.4,153.4 202.4,153.3 203.7,155.1ZM382.5,220.5 373.5,219.4 371.5,218.1ZM217.3,164.9 215,166.9 208.9,163.3ZM257.6,178.2 266.1,177.1 269,178.3ZM298,186.4 302,185.7 306.6,190.4ZM329.7,198.8 334.8,199.5 337.4,202.5ZM295.6,189.3 293.5,189.2 289.5,184.2ZM206.4,162.2 203.8,163.3 196.7,160.4ZM318.2,191.8 312.7,187.7 313.6,184.9ZM218.4,161.2 211.1,155.7 210.8,151.6ZM369,217.4 374.8,218.9 376.6,220.8ZM283.8,181.5 289.5,182.9 294.5,185.8ZM319.8,202.4 310.1,203.1 305.3,201.5Z" fill="rgb(165,22,24)" fill-opacity="0.55"/>
<path d="M327.3,200.8 335.4,201 342.7,203.8ZM275.1,180.3 269.7,180.5 268.9,178.5ZM327.9,212.3 321.7,211.7 315.4,207.8ZM337.8,208.5 343.6,205.4 346.5,207.2ZM345,206.8 349.4,209.4 352.7,217.5ZM347.8,209.3 350.9,209.1 359.5,214.6ZM230,163.8 233.4,163.2 238.7,168.2ZM310.7,189.4 320.1,190.4 325.1,194.6ZM227.5,167.1 221.8,168.2 217.5,165.9ZM285.3,191.3 290.1,190.9 291.7,191.9ZM209.1,160.9 212.4,159.6 216.7,161.8ZM273.2,186.9 276.8,185.5 281.9,187.3ZM259.1,175.8 251,175.4 248.9,172ZM282.6,183.2 278.2,188.2 270.4,190.4ZM221.9,164.2 226.4,164 230.8,167.3ZM299.2,191.5 306.5,192.1 308.2,195.2ZM274.2,180 277.5,179 287.4,182.6ZM355.1,211.3 365.3,210.9 368.8,213.3ZM330.1,204.6 326.6,204.1 320.3,199.5ZM237,169.1 232,167.5 229,164.2ZM275,178 278.3,175.7 289.1,177.4ZM214.5,161.5 218.7,159.6 229.4,160.6ZM224.8,161.4 217,162.4 214.5,160.1ZM277.5,180 272.5,180.7 264.4,177.7ZM315.4,199.1 309.7,196.3 309.5,194.1ZM224.4,165.4 228.6,166.6 229.4,169.7ZM197.7,150 202.5,151.2 207.1,154.2ZM341.6,202.9 335.4,203.5 329.3,199.7ZM259.6,178.5 255.4,177.2 255.4,173.8ZM268.9,181.7 261.9,179.6 259.2,176.8ZM315.1,202.2 320.9,199.8 330.9,201.3ZM269.1,182.2 275.4,181.9 277.3,183.3ZM286.5,183.7 291.6,185.2 294.7,188.2ZM336.2,199.9 342.4,202.5 345.2,205.5Z" fill="rgb(165,22,24)" fill-opacity="0.75"/>
<path d="M225.3,161.3 220.6,164.3 218,162.6ZM356.2,214.6 358.1,213.4 363.7,215.2ZM305.4,191.7 301.2,193.6 291.8,192.4ZM219.2,163.9 222.9,163.7 229.5,165.6ZM327.1,200.7 334.1,202 335.7,205.1Z" fill="rgb(165,22,24)" fill-opacity="0.85"/>
<polygon points="116.7,131.7 115.3,134.8 112.6,139.2 110.9,144.5 111.2,149.9 112.8,154.8 108.8,160.2 113.8,164.5 109.8,170.3 115.4,173.5 112.5,179.4 118.8,180.9 116.5,186.6 121.8,188.7 124.4,192.5 129.2,194.2 131.1,196.2 135,193.7 134.3,190.9 136.9,184.6 133.7,181.7 129.4,179.6 132.5,174 128.8,172.1 126.8,169.4 124.7,166.6 123.5,162.9 124.5,158.5 125.7,154.1 127.7,150.2 127.3,145.9 126.4,141 124.8,136.1 121.4,132.3" fill="rgb(165,22,24)" fill-opacity="0.1575" />
<polygon points="118.1,131.9 115,134.7 113.8,139.3 111.8,144.6 114.4,150 114.6,154.7 114.8,159.5 113.5,164.6 116.4,168.7 115,173.7 116.4,177.6 118.3,181.2 119.9,184.7 121.9,188.7 124.4,192.5 130.4,193.4 132.3,195.5 133.8,194.5 133.6,191.3 133.8,186.6 131,183.3 130.3,179.1 125.9,177.4 124.4,174.1 122.3,171 122.8,167 120.7,163.3 121.2,158.9 119.7,154.5 123,150.1 122.1,145.5 122.7,140.5 121.4,135.6 119.7,132.1" fill="rgb(165,22,24)" fill-opacity="0.273" />
<path d="M113.9,156.9 115.7,161.9 115.4,164.7ZM124.9,175.2 127.9,177.1 127.6,181.9ZM118.1,136.6 121.5,144.1 120.2,149.8ZM116.3,127.3 117.4,129.3 114.8,135.8ZM128.3,181.5 131,186.6 130.5,192.1ZM119.1,165.6 117.2,163.5 117.1,157.4ZM125.2,200.2 120.8,193.1 121.1,189.7ZM128.1,196.7 122.3,192.4 121,188.2ZM124.1,126.6 122.4,130.6 114.3,137.5ZM113.3,156.6 114.3,146.6 117.4,143.3ZM132.1,194.3 129.7,189.1 129.7,185.7Z" fill="rgb(165,22,24)" fill-opacity="0.65"/>
<path d="M129.8,186.8 125.2,181.4 123.3,172.7ZM115.1,127.5 117.4,129.6 118.3,138.1ZM122.8,177.1 121.4,173.3 122.6,167.2ZM138.5,197.4 134.5,196.8 127.3,186.1ZM116.3,137.8 118.3,140.6 120,148.4ZM126.6,177.5 119.2,169.9 118.5,164.4ZM112.1,156.1 117,160 117.7,162.9ZM117.2,142.1 119.5,135.2 121.6,133.3ZM111.7,162.9 116.7,170.8 117,175.5ZM116,140.3 120.7,150.9 121,154.9ZM109.9,162.2 115.8,167.2 116,171.9ZM134.1,189.4 126.7,183.5 125.1,178.9ZM125.4,181.4 130.7,182.8 132.9,187.3ZM112.6,128.9 115.5,130.5 119.2,140.8ZM125.2,178.3 122.5,178.2 120.5,173.9ZM118,155.9 116.7,152 118.8,148.6ZM126.8,180.4 129.5,185.3 128.5,187.7ZM128.3,194 123.6,188.7 122.9,184.3ZM120.8,168.7 118,163.1 118.9,156.1Z" fill="rgb(165,22,24)" fill-opacity="0.45"/>
<path d="M118.7,152.7 118.5,147.6 119.7,145ZM119.2,141.8 119.1,137.5 121.8,134ZM118.8,133.1 120.7,141.2 118.1,148.9ZM131.4,191.9 127.5,190 127,187.1ZM111.8,157.3 116.1,161.6 116.5,164.4ZM125.6,166.2 123.4,162.4 125.1,157ZM122.5,178.4 128.9,186.5 129.4,191.7ZM126.1,183.8 122.9,182.1 123.2,177.8ZM133.8,194.2 130.7,189.4 129,179.4ZM131.4,190.7 128.7,189.7 128.7,184.6ZM118.7,162 116.6,160.4 116,156.5ZM113.3,147.9 116.2,156.3 114.2,161.7ZM117.6,138.8 118.4,141 114.3,146.8ZM126.2,145.9 127.4,151.7 124.3,160.6ZM131.8,184.6 129.7,178.6 129.9,173.1ZM120,162.9 118,160.3 120.3,155.1Z" fill="rgb(165,22,24)" fill-opacity="0.60"/>
<path d="M116.3,134.7 112.8,143.9 109.4,146ZM129.7,192.4 126.6,190.7 121.7,183.2ZM120.3,162.9 122.3,166.5 122.2,171.9ZM120.3,172.7 124.1,178 123.5,180.4ZM131.8,189.3 136.6,195.1 136.4,199.2ZM118.6,132 118,137.6 112.5,142.3ZM120.6,148.3 119.3,145.4 123.3,138.7ZM114,144.1 112.6,138.5 115.5,130ZM116.4,142.8 112.5,135.8 111.4,131.1ZM127.5,175.9 121,171.4 117.8,165.9ZM122.4,126.3 125.1,135 124.2,138.9ZM119.5,184.7 115.8,175.2 115.4,169.7ZM119.9,152.1 121.5,157.5 118.2,163.8ZM122.7,166.1 125.9,169.1 125.3,172.4ZM124.9,158 123.6,167.2 118.8,172.4Z" fill="rgb(165,22,24)" fill-opacity="0.50"/>
<path d="M121.8,128.6 127.8,136.5 127.4,141.4ZM119,138 119.7,130.5 122.8,126.6ZM126.9,197.8 122.8,192 123.1,189.8ZM113.4,157.3 111.4,154.4 110.7,142.6ZM129.1,177.1 124.7,174.8 119.8,168.4ZM110.4,153.2 109.7,147.6 112,143.7ZM132.9,184.9 125.4,178.3 124.8,174.9Z" fill="rgb(165,22,24)" fill-opacity="0.30"/>
<path d="M122.2,156 121.1,149.5 122.4,142.1ZM122,172.6 123.5,175 121.8,180.5ZM122.2,128.8 123,133.7 121.7,136ZM116.9,147.6 118.1,154.7 117.7,161.5ZM121.2,154.2 123.4,161.9 121.3,167.8ZM124.3,177.5 132,183.5 134.1,186.6ZM115.7,137.4 115.5,141.6 112.7,145.7ZM113.2,158.2 115.9,162.6 118,172.6Z" fill="rgb(165,22,24)" fill-opacity="0.35"/>
<path d="M120.6,164.6 118,159.4 118.2,148.9ZM125.4,180.5 128.2,181.2 131.3,184.5ZM117.2,170.7 118.1,166.2 123.2,156.1ZM117.2,152.2 114.7,149.4 115.7,145.3Z" fill="rgb(165,22,24)" fill-opacity="0.70"/>
<path d="M115.7,167.8 119,172.1 122,179.6ZM133.5,196.1 128.7,191.8 125.7,182.3ZM114,138.4 116,143.6 115.2,153.9ZM114.1,157.8 115.6,159.5 116.2,166ZM120.5,172.6 124.5,175.5 125.8,182.1ZM116.2,160.9 119.2,168.3 117.8,171.5ZM125.8,144.7 126.4,148 122,157.2ZM124.1,139.5 125.3,143.4 123.7,145.9ZM120.7,170.7 117.1,165.4 116.2,161.1ZM124.2,170.3 117.2,164.3 116.8,160.7ZM120.2,168.3 119.3,164.8 121.1,160.4ZM113.4,136.4 112.9,131.8 115.9,128.5ZM105.7,139.8 109.7,144.8 110.9,151.9ZM125.5,173.2 129.2,175.8 132.3,184ZM114.9,140.6 113.1,137.2 112.7,130.9Z" fill="rgb(165,22,24)" fill-opacity="0.55"/>
<path d="M126.1,180.3 122,178.5 116.8,170.6ZM122.6,155.8 123.4,164.2 121.2,170.4ZM116.8,163.2 113.2,159.1 112,153.4ZM122.8,179.4 119.1,171 121.1,168.2ZM122.1,150.2 123.7,158.2 121.1,165.3ZM129.9,178.1 126.6,175.9 125.2,172.2ZM121,182.9 118.6,181.4 120,174.4ZM122.6,152.5 123.7,160.1 120.9,167.2ZM122.7,187 127.4,189.3 128.3,191.4Z" fill="rgb(165,22,24)" fill-opacity="0.40"/>
<polygon points="288.7,85.3 290.9,84.3 294.4,83.7 298.8,84.5 301.6,82.4 304.5,80.7 308.1,81 311.2,78.1 315,78.2 319.3,80 324.4,79.7 329.8,79.3 334.9,82.7 339.9,79.7 344.7,80.5 349.1,80.9 352.8,81.6 355.7,79.3 358.4,77.9 360.6,76.8 362.1,75.4 361.9,72.7 360.2,72.5 357.7,70.6 354.8,70.7 351.4,69.9 347.9,72.9 343.2,69.8 339.1,70.3 335.1,71.5 330.4,73.5 325.3,72.5 320,72.3 315,72.3 310.2,70.3 305.9,70.8 302,72 297.7,71.7 293.9,73.7 290.7,76.7 289,80.9 287.7,83.4" fill="rgb(165,22,24)" fill-opacity="0.1575" />
<polygon points="288.3,84.5 290.6,83.7 293.5,82.1 297.9,82.4 301,80.8 303.7,78 307.4,78.1 311.1,77.5 315,77.6 319.5,77.4 324.7,77.4 329.8,79.3 335,79.7 339.7,78 344.5,79.1 348.7,77.9 352.2,76.7 355.4,75.9 358.2,75.8 360.5,75.9 362.1,74.7 361.9,73.5 360.3,73.3 357.9,73.1 355,72.5 351.6,71.9 347.9,72.7 343.9,74.3 339.5,74.8 335,75.3 330.3,74.9 325.1,74.5 320,72.7 315,73.8 310.5,72.4 306.3,72.8 303.1,75.8 298.9,74.9 295.6,77.5 292.2,79.5 289.5,81.8 287.8,83.7" fill="rgb(165,22,24)" fill-opacity="0.21" />
<path d="M319.2,76.7 314,77 308.9,75.7ZM330,77 328.4,78.3 323.9,76.2ZM306.1,74.2 307.9,73.4 312.6,74.7ZM302.3,75.1 299,79 294.6,79.7ZM298,82.8 290.7,85.8 283.3,84.9ZM322.6,73.6 329.3,73 336.1,75.1ZM334.5,76.6 340.1,73.8 346.8,74.7ZM351.5,71.4 360.4,71.2 366.6,74.2ZM363,78.6 360,80.5 356.2,78.1ZM345.6,81.4 340.9,80.2 334,75.8ZM297.4,79.4 300.4,76.7 304.7,75.3ZM286.4,86.3 294.3,83.9 301.3,83.7ZM337.9,79.8 345.6,75.4 352.8,74.5ZM295.3,79 289,82.5 283.2,83.7ZM345.9,76.1 355.3,73.1 360.3,73.9ZM303.1,78.8 297.7,78.4 296.3,75.6ZM320.5,74.2 308.2,74.8 305.1,72.5Z" fill="rgb(165,22,24)" fill-opacity="0.35"/>
<path d="M313.2,75.1 316.3,73.1 323.9,74.8ZM337.8,71.5 329.6,71.3 323.8,67.4ZM286.6,82 288.9,80.7 293,82.6ZM354.1,75.2 361.8,74.4 367.1,77.8ZM331.1,74.3 333.2,74 336.7,76.8ZM315.7,72.8 312.5,75.7 307.8,74.3ZM346.4,75.5 342.7,76.6 334.6,73.6ZM319.1,74.7 315.8,75.9 313.4,72.9ZM303.7,78.3 307.8,73.4 310.2,73.2ZM293.8,80.3 296.9,78.4 307.2,78.5ZM325.4,78.6 330.4,76.9 337.1,76.8ZM308,73.2 311.5,71.9 315.6,75.4Z" fill="rgb(165,22,24)" fill-opacity="0.25"/>
<path d="M306.7,77 311,73.1 316.8,71ZM352,75.7 351.3,78.2 345.1,78.4ZM285,85.2 293.3,78.9 296.4,78.1ZM349,76.3 352,74.1 364.1,71.5ZM334,76.1 339.6,76.4 347.7,79.1ZM364.2,73.1 361.1,76.5 352.6,81.9ZM343.6,71.5 349,70.9 357.6,76.6ZM305.6,77 315.1,74.8 318.3,75.2ZM319.1,74.3 314.5,77 306.7,76ZM295.5,79.8 290.6,83.2 285.4,82.5Z" fill="rgb(165,22,24)" fill-opacity="0.40"/>
<path d="M300.8,77 308.8,74.7 311,76.3ZM366.5,69.4 363.1,71.1 353.7,72.7ZM336.2,76.4 346.6,71.7 351.4,71.4ZM333.7,79.6 329.3,78.5 326.3,75.9ZM342.4,79.8 339.9,82 334.9,81.5ZM308.2,71 303.7,76.6 299.7,77ZM306.8,77.7 311.1,76.4 319.4,76.3Z" fill="rgb(165,22,24)" fill-opacity="0.45"/>
<path d="M304.8,77.1 312.7,72.7 318.8,71.4ZM352.1,69.7 358.6,70.2 363.3,72.1Z" fill="rgb(165,22,24)" fill-opacity="0.55"/>
<path d="M340.4,77 336.7,78.4 329.6,74.4ZM353.8,71.3 356.5,69.5 364.1,71.7ZM323.4,78.8 331.1,76.3 339,78.5ZM295.2,81.5 288.3,85.6 285,84.2ZM301.3,79 297.5,82.1 289.6,81.4ZM334.6,73.6 337,72.1 342.1,74.1ZM299.6,74.7 293.1,81.8 287.4,83.8ZM336.6,78.2 331.9,79.2 323.3,78.1ZM291.1,84.7 295.5,79.4 301.3,78.6Z" fill="rgb(165,22,24)" fill-opacity="0.50"/>
<path d="M322.2,74.8 330,74.8 335.9,78.2ZM323.5,75.9 325.9,73.6 332.7,75.7ZM351.4,68.5 346.9,77.1 342.5,79.1ZM352.4,72.7 351,75 343.9,76ZM341.8,77.1 335.1,79.3 330.7,78.9ZM320.3,76.9 314.3,72.8 312.3,68.5ZM324.9,77.2 321,78.3 316.2,76.2ZM305,76.4 308.6,74.6 316.8,75.5ZM324.1,73.9 330.7,71.5 332.6,73.7Z" fill="rgb(165,22,24)" fill-opacity="0.30"/>
<polygon points="356.2,76.1 357.6,78.4 355.7,84 358.5,87.4 359.2,92.2 362.4,96.6 364.8,98.8 363.2,102.7 364.7,105.4 367.2,107.7 366.5,111.2 367.6,114.1 367.5,117.4 369.7,120.2 367.3,124.2 373.3,126.4 371.6,130.3 373.6,133.5 367.6,137.6 374.8,140.3 372.1,144 375.2,147.5 370.3,151.1 369,154.7 370.4,158.4 369.7,162.1 367,165.5 366.3,169 368.3,172.5 367,175.7 371.1,179.3 371.6,182.5 365,184.6 366.6,187.6 369.4,193.7 365.4,198.1 367.5,203.7 363.7,206.9 362.6,209.8 361.9,212.2 363,217.2 360.8,219.3 359.6,221.3 362.6,224.9 365.8,225.5 367.1,222 373.1,221.7 378.2,218.7 381,213.8 385.3,209.2 379.6,201.6 387.9,197.4 384.1,190.4 388.1,187.6 389.1,184.5 389,181.1 387.7,177.6 389.4,174.2 389.6,170.8 387.6,167 392.1,163.7 387.4,159.5 389.2,155.6 387.1,151.5 388.1,147.5 391.7,143.4 388.6,139.4 386.1,135.7 384.3,132.1 389.9,127.4 382.7,124.7 386,120.3 381.6,117.5 385.2,112.9 379.2,110.8 385,105.4 382.1,102.5 381.9,98.8 376.3,97.4 377.9,93.2 375,91 370.4,86.9 369.7,81.3 366.3,77.7 362.4,75.5 360.3,73.6" fill="rgb(165,22,24)" fill-opacity="0.1575" />
<polygon points="357.4,75.3 357.2,78.7 358.6,82.2 361.3,85.9 363.3,90.3 366,95 365.5,98.5 368,100.7 366.4,104.7 366.7,107.9 370.1,110.1 369.2,113.6 369.3,116.9 370.6,120 374.2,122.7 374.4,126.2 374.9,129.8 373.8,133.4 374.9,136.9 376,140.3 375.7,143.9 373.8,147.5 373.4,151.1 375.2,155 376.1,158.8 374.5,162.5 373.4,166 375.2,169.7 372.9,172.9 375.1,176.4 375.7,179.7 374.2,182.8 371.3,185.4 370.8,188.3 373,194.4 369.5,199.1 371,204.8 369.3,209.1 367.4,212.5 364.7,214.5 364.2,218.7 361.9,220.6 360,221.8 361.4,223.5 363.7,222.8 366.3,221 370.1,219.2 374.7,216.7 374.8,211.3 379.2,207.3 380,201.7 380.8,196 381.1,190 380,186.6 382.6,183.7 381,180.3 383.2,177.2 382.3,173.7 382.4,170.3 384.9,166.8 382.8,163 384.3,159.3 386.3,155.5 386.5,151.5 383.8,147.5 386.7,143.5 385.6,139.6 384.3,135.9 385.2,132 383.4,128.4 383.8,124.5 380,121.5 379.5,118 378,114.7 380.4,110.5 376.5,108.1 375.5,104.8 376.3,101 374.7,98 371.6,95.9 373.7,91.6 369.9,87.1 367.5,82.5 362.8,79.8 360.4,76.7 359.1,74.3" fill="rgb(165,22,24)" fill-opacity="0.315" />
<path d="M371.8,98.9 365.9,95.7 365.2,93.4ZM360.2,74.8 363.5,78.2 362.5,83.4ZM373.4,175.9 374.2,167.3 377.6,161.5ZM372.2,85 369.2,82 366.3,75ZM377.3,110.7 380.1,115.5 378.9,118.7ZM382.2,173.1 379.7,172.3 379.6,167.2ZM374.5,116.8 378.2,124.1 379,128.7ZM373.6,159.1 371.9,155.1 373.2,152.6ZM381.7,183.5 380.8,179 382.2,177.2ZM376.3,109.3 378,111.6 379.8,120.1ZM371,213.3 370.7,216.5 365.6,218.7ZM372.7,123.4 377.9,132.2 379,136.9ZM374.2,124.3 373.4,121.2 374.7,118ZM381.3,200 382.5,204 377.3,214.8ZM376.5,174.6 380.1,183.2 378.6,187.4ZM375.9,109.5 381.2,114.9 381.3,117.3ZM372.8,96.6 375.1,98.1 375.6,102.3ZM373.4,209.3 373.4,203.1 376.7,198.2ZM374.9,174 376.3,179.4 373.9,189.5ZM381.1,132.1 381.8,135 378.7,143.7ZM367.1,78.7 363.2,78.2 355.2,70.5ZM379.9,170.5 381.2,172.7 380.1,180.9ZM372.7,159.4 376.4,163.4 377.7,171.8ZM375.3,177.3 370.9,169.1 371.6,164.1ZM376,198.4 371.6,209.6 367.6,211.6ZM378.7,183.9 376.7,180.8 377.1,173.9ZM374.6,93.7 371.5,89 369.4,81.2ZM380.2,153 378.3,146.4 380.9,139.8ZM358.9,221.1 363.9,217.4 372.4,215.9ZM385.5,144.1 387.3,139.3 390.8,134.9Z" fill="rgb(165,22,24)" fill-opacity="0.50"/>
<path d="M381.4,126.1 382.7,129.9 379.6,132.6ZM381.3,126.7 379,124.1 378.6,119.5ZM376.9,135 376.4,124.4 377.8,120.6ZM368.9,97.8 374.7,103.3 375.7,109.5ZM376.6,192.4 373.2,182.6 373.5,179.4ZM373.9,195.4 373.9,189.3 377.9,180.8ZM372.9,217.8 372.5,214.5 374.9,211.3ZM379.8,117.8 384.9,124.1 384,127.6ZM374.7,200.8 374.4,195.9 378,189.3ZM370.2,197.5 372.4,201.1 373.5,208.2ZM384.4,128.9 380.2,122.5 380.4,114.2ZM359,82.1 364.1,85.1 365.8,91.2ZM368.6,105.4 365.2,100 365.6,96.8ZM379.6,178.8 380.9,180.5 380.6,185.8ZM374.9,100.4 377.2,103.1 376,111.7ZM381.2,134.1 380.3,125 381.8,122.2ZM365.6,221.4 367.2,218.9 372.3,218.9ZM384.8,128.2 380.9,125.2 380.3,121.3ZM386.6,155.8 386,162.7 381.1,170.3ZM376.9,189.7 377,194.1 373.9,202.3ZM374,191.1 373.5,188.6 376.9,180.8ZM376.7,123 377.9,127.8 374.3,133.2ZM379.2,192.1 378.6,188.2 380.5,185.2ZM371.4,113.7 371.1,109.3 372.6,107.6ZM377.6,96.2 371,93 368.4,87.6ZM373.3,194.9 375.1,203.5 372.5,209.3ZM374.6,132.2 373.5,125.1 376,121.9ZM377.2,106.2 380.9,108 382.7,112.4ZM371,97.9 365.3,93.9 364.2,90.8ZM382.3,178.5 383.8,184.6 381,188.8ZM373.5,181.7 377.5,186.9 378.6,196.6Z" fill="rgb(165,22,24)" fill-opacity="0.45"/>
<path d="M373.6,203.7 372.7,196.5 374.9,194.6ZM381.2,202.1 382.1,208.8 378.9,216.1ZM384.2,127.1 381.4,125.9 376.3,117ZM364.5,205.3 368.6,195.6 371.4,192.1ZM371.4,118.9 369.4,109.8 370.5,105.3ZM378.4,154.1 377.7,163 374.9,164.6ZM371.1,168.5 372.7,170.8 371.8,177ZM381.1,161.9 382.7,165.1 381.4,168.1ZM370.8,106.9 367.9,103.6 369.4,97.5ZM365.5,93.2 362,90.4 358.7,83.1ZM375.3,168.1 374.3,165 376.7,157ZM381.1,198.7 380.2,192.6 381.9,190.9ZM376.3,213.2 372.6,215 363.7,214.9ZM373.8,82.5 375.9,87.2 375.1,90.2ZM384.5,141.7 380,137.5 378.2,131.8ZM372.6,211.7 375.5,203.2 377.6,200.4ZM362.7,80.7 359.2,75.2 358.7,72.3ZM387.3,156 384.3,159.5 380.5,161.4ZM378.7,145.9 374.5,140.8 376,138.6ZM371.2,106.1 374,107.8 374.5,114.6ZM385,150.7 382.2,146.1 382.5,142ZM378,159.5 376.2,156.2 376.8,148.5ZM360,79.8 364.7,89 365.5,93.1ZM368.1,194.1 369.5,197.1 366.7,201.1ZM381.2,123.7 383.6,125.5 382.4,130.5ZM379.3,201.7 378,195.6 381.8,187.5ZM381.5,147.9 379.2,145.7 380.1,138.5ZM377.6,170.7 375.7,166.4 377.1,156.7ZM381.7,185.8 383.3,194.7 381.8,199.2ZM381.7,146.3 377.5,138.4 376,131.8ZM368.5,81.5 365.4,77.9 367,74.9ZM382.8,128.2 380.7,121.9 381.3,119.2Z" fill="rgb(165,22,24)" fill-opacity="0.40"/>
<path d="M378.7,146.7 381.4,146.1 383.4,150.5ZM369.1,231.2 372.9,226.4 379,223.3ZM371.9,122.2 375.6,129 376.8,136.4ZM373.3,202.2 371.7,198 372.6,195.6ZM374.5,207.2 373.7,213.4 371.1,213.9ZM376.8,177.7 378.9,168.9 382.7,167ZM364.1,94.7 361.4,91.6 362.9,83ZM383.2,130.1 381.6,127.7 382.1,123.8ZM372.9,219.4 372.1,209.8 375.1,205.1ZM366,215 366.1,218 364,220.7ZM361.6,80.9 363.6,82.8 363.7,86.7ZM359.9,219.8 362.8,217.2 369.5,215.3ZM377.8,152.4 378.2,145.4 382.8,138.3ZM379.9,132.1 377.2,122.3 377.6,118.8ZM386.9,136.9 386.4,140.9 383.8,142.4ZM369.6,220.8 368.9,223 363.5,228.9ZM383.5,195.2 381.9,203.6 379.4,206.3ZM375.3,179.5 377,184.7 375.5,188.3ZM355.8,79.8 358.4,80.4 361.4,84.7ZM364.4,86.7 359.9,81.4 357,75.3ZM383.5,117.6 382.4,115.2 383.6,109ZM380.8,155.8 382.9,158.4 382.5,163.5ZM368.4,217.1 364.6,220.7 358.9,221.9ZM373.2,190.9 374.3,197.3 372.1,199.8ZM369.6,108.3 371.7,108.4 374.6,112.9ZM376.8,133 377.7,140.6 376.9,145.6ZM363.6,87 368.3,91.7 367.9,96.1ZM375.2,186.1 377.7,191.8 376.9,194.5ZM364.2,92.9 368.4,98.5 368.1,101.4ZM372.8,158.1 370.4,150.9 372.8,143.1ZM376.7,130.6 372.3,125.5 372.1,120Z" fill="rgb(165,22,24)" fill-opacity="0.65"/>
<path d="M377.9,116.9 376.9,113.1 379.8,107.5ZM367.5,115.8 369.7,117.8 371.1,122.8ZM376.9,188.1 375.3,180.1 375.6,173.6ZM383.2,140.1 385.5,143.7 386.8,152.4ZM381.1,203.9 382.4,206.6 380.1,211.6ZM373.6,147.5 377.9,153.3 377.9,160.4ZM383.8,135.9 385.6,138.8 382.2,146.1ZM361.9,83.3 358.8,81.5 358.3,76.5ZM370.3,222.5 370.3,226.2 365,233.1ZM369,221.2 364.3,226.6 359.2,228.9ZM382.1,147.7 383.2,152.9 380.7,156.1ZM377.7,195.2 377.7,189.9 382.4,184.3ZM371.4,213 368.2,207.4 367.2,200.3ZM384.5,184.3 385,191.8 382.2,193.9ZM365.1,88.6 368.2,90 372.2,96.6ZM374.8,168.6 376.4,171.8 374.1,179.7ZM377.1,172.5 376.1,167.5 378.5,161.1ZM379.8,159.4 377,169.1 374,174.1ZM378,200.2 375.4,197.2 375.5,190.1ZM380.5,144.2 382.7,148.5 380.7,153ZM376,119.6 373.2,115.8 372.6,111.8ZM358.8,78.3 355.4,77.6 354.4,73.5ZM370.3,187.2 372.7,180.6 378.4,174.1ZM376,169.7 380.4,177.8 379.7,183.7ZM363.8,207.7 365.6,202.4 368.3,200.8ZM362.3,99.2 366,102.9 367.1,109.3ZM373.3,142.5 375,145.1 374,148.5ZM375.8,117.4 378.1,123.3 377.2,126.1ZM380,188.3 380.7,180.5 383.9,176.7ZM369.1,185.3 370.9,192.5 368.6,195.1ZM359.9,74.5 366.6,75.7 368.3,77.3ZM369.6,97 363.9,91.2 364.2,87.4ZM368.9,220.7 368.7,214.6 371.9,205.3ZM359.9,87.5 355.5,82.5 354.5,78.6ZM375.3,104.6 373.4,100.7 373.9,96.2ZM382.4,168.9 382,164.8 383.7,155ZM389.4,131 383,126.5 380.7,120Z" fill="rgb(165,22,24)" fill-opacity="0.60"/>
<path d="M381.9,164.7 383.1,169.6 380.3,175.6ZM383.4,153.4 382.6,159.1 379.6,161.5ZM372.2,87.1 368.6,87.1 362.8,81ZM372.6,140.1 370.6,133.7 371.7,131.1ZM372.8,187.3 371.7,184.3 375.9,180.2ZM377.1,123.4 374.8,122 372.1,116.8ZM369.5,99.8 372.4,104.4 374,110.3ZM348.5,76.9 354.2,80 358.5,84.9ZM362.3,79.3 363.9,79.6 366.3,83.9ZM372.7,188.1 371.9,184.9 372.9,177.1ZM381.7,120.5 386.4,128.5 385.3,133.1ZM384,144.5 382.6,150.3 377.3,157.1ZM376.4,117.5 380.6,118.6 381.9,122.8ZM374.2,206.2 372.2,201.9 374.8,196.7ZM368.7,112.6 363.3,108.5 363.7,105.4ZM378,151 377.6,145.6 378.9,144ZM376.2,171.5 379.1,178.4 378.7,184ZM377.9,178 378.8,183.8 377.7,188.4ZM378.4,121.9 375.6,119.2 376.8,114.9ZM379.8,162.8 381.6,151.1 384.1,147.7ZM377.8,124.2 379.9,126.9 378.8,131ZM369.5,208.2 370.7,211.5 365.5,219.4ZM357.6,73.3 359.9,75.2 361.3,84.3ZM377.5,177 379.9,181.4 379.5,189.5ZM361.5,82.7 365.5,86.2 367.2,94.1ZM386.7,146.8 386.2,151.2 382.9,152.8ZM372.4,115.8 369.5,115.5 367.5,109ZM374.2,95.7 374.5,105.1 371.5,111.2ZM381,182 378.9,177.5 381.6,169.7ZM373.3,95.3 374.8,105.7 374.1,108.6ZM382.2,128.1 383.7,136.9 383,140.9Z" fill="rgb(165,22,24)" fill-opacity="0.55"/>
<path d="M376.2,200.1 376,190.4 377.5,185.5ZM356.6,225.2 359.9,218.7 363.2,218.1ZM377.9,145.2 379.4,147.1 376.7,151.8ZM368.1,197.9 367.9,192.1 369.7,187.2ZM377.5,202 373.2,211.3 370,214.4ZM384.4,154.5 384.5,158.7 380.7,160.5ZM371.7,201.5 368.5,197.1 369.9,195.2ZM367.5,126.5 368.9,129.3 368.1,140.6ZM363.1,89.9 365.3,91.7 366.6,96.4ZM368.7,112.7 369.9,120.4 368.2,128.4ZM380.4,199.1 379.9,203.3 375.7,212.3ZM370.5,227.5 367,229.4 361.8,227.6ZM375.9,177.9 376.9,180.9 373.2,183.5ZM375.4,110.3 372.6,108.1 372.4,102.8ZM371.8,95.6 374.9,95.5 378.2,102.7ZM368.4,86.6 374,92.7 374.9,95.9ZM369.9,98.2 372.5,100.9 371.2,110.5ZM363.8,80 365.6,82.7 364.8,94.2ZM359.1,81.4 364,83.3 364.6,87.2ZM386.5,146.8 382.8,141.9 380.8,135.1ZM384.6,134.8 383.4,141.2 378.1,149.4ZM361.4,74.4 362,82.1 361,87ZM355.2,79.7 357.6,82.3 357.8,87.4ZM362.1,217.7 365.4,214.3 375.5,209ZM375.9,194.2 377.1,198.9 375.4,202.5ZM379.9,189.4 377.4,183.9 377.8,177.2ZM375.7,179.3 377,172.3 380.6,167.4ZM371.5,212.1 370.4,215 364.2,216.1ZM377.1,217.7 373.2,208.4 374,202.5ZM383.7,171.2 382.6,165.5 385.1,163.4ZM375,127.9 373.8,122.7 374.8,120.4Z" fill="rgb(165,22,24)" fill-opacity="0.70"/>
<path d="M375.5,155.5 375.7,158.6 371.9,169.3ZM380.9,163.2 380.8,159 383.4,154ZM375,135.7 372.2,133.3 373.5,129.3ZM376,125 379.1,131.9 379,134.7ZM359.4,82.1 356.8,80.7 354.4,75.6ZM360,72.5 364.1,78.7 364.9,87.4ZM377.5,134 379.2,141.1 377.5,144.4ZM381.7,126.7 381.5,132.2 378.6,136.4ZM377.1,165.6 379.2,172.8 378,178.7ZM376.5,113.4 378,120 375.9,128.1ZM371,207.2 369.8,215.4 366.4,219.3ZM359,71.2 363.3,72.3 365.4,76.8ZM374.4,102.6 375.4,106.1 372.3,117.8ZM371.2,204.9 371.3,215.4 367.8,220.3ZM376.7,178.9 379,172.3 384.7,168.2ZM374.2,201.7 373.6,206.6 369.9,211ZM371.5,201.8 371.3,203.7 368,207ZM377.2,128.2 376.1,124.9 376.4,113.1ZM383.8,162.8 381.2,158.4 381.7,156.6ZM381.6,177.9 379.2,171.6 380.1,164.7ZM374.7,131.5 374.5,126.5 375.6,124.7ZM372.5,193.5 374.1,196.8 370.8,205.8ZM382.8,161.3 384,164.1 380.9,170.9ZM366.2,83.5 371.7,92.7 372.4,96.3ZM376.9,106.1 375.1,103.8 376.5,97.8ZM374.4,142.9 376.6,145.3 375.7,153.9ZM378.5,176.8 376.4,172.5 378.5,169.9ZM377.1,203.6 376,207.5 370.9,213ZM376.7,184.4 375.1,171.9 377.6,168.9Z" fill="rgb(165,22,24)" fill-opacity="0.75"/>
<path d="M378.9,186.1 378.6,193 374.5,197.1ZM377.5,126.7 374.4,125.9 371.7,119.6ZM355.2,82.8 357.2,85.3 357.9,89.3ZM363.5,76.5 358.4,74.8 356,71.4ZM381.8,156.5 385,164.9 384.9,171.7ZM371.3,186.8 371.9,198.2 369.8,201ZM375.8,206.8 373.3,212.9 370.3,214.4ZM362.3,79.3 366,84.2 365.1,87.2ZM361.2,222.5 365.8,214.1 368.9,213.1ZM387.7,122 382.5,115.8 381.8,108.7ZM374.8,173.5 378.8,167.1 380.9,166.4ZM376.1,216.3 376,218.3 372.2,223.9ZM369.5,217.6 364.4,224.9 358.6,229ZM362,84.8 360.1,82.4 358.3,74.9ZM374.6,210.4 374,205.6 375.5,204.3ZM384.7,133.6 386.9,139 386.9,143.1ZM360.5,88.4 357.2,85 356.7,81.3ZM370.1,108.7 371.7,110 372.3,115.4ZM356,78.1 360.8,82.3 363.7,87.5ZM372.4,95.6 369.7,91.8 370.3,87.2Z" fill="rgb(165,22,24)" fill-opacity="0.35"/>
<path d="M376.9,190.8 377.9,196.6 376.5,201.8ZM380.3,157.8 378.5,166.3 376.4,169.7ZM373,191.4 375.2,182.2 377.4,180.5ZM370.9,180.9 373.4,187.3 373.6,192.3ZM376.6,194.1 376.9,189.7 379.3,187.1ZM373.2,163 369.4,168.6 365.4,171.5ZM380.7,172.4 377.2,168.8 376.4,159.3ZM386.7,161.3 381.9,167.9 377.3,170.9ZM374.5,110.7 369.8,106.7 367.3,99.9ZM374.1,123.7 374.9,129.2 374,133ZM371.5,104.9 369.7,100.8 368.8,90.3ZM374,100.5 378.7,106.4 380.6,115.1ZM380.2,147 380.1,152 376.9,154.4ZM365.8,91.9 368,97 366.8,106.7ZM378.1,139.9 374.2,135.2 374,130.4ZM378.9,137.3 372,132.1 371.2,129.3Z" fill="rgb(165,22,24)" fill-opacity="0.80"/>
<polygon points="299.8,203.7 303.3,208.3 306.4,209.6 309.9,209.9 312.4,214.3 317.2,211.7 320.6,212.8 323,217.1 327.2,214.8 329.2,219.5 332.5,220.2 336,220.2 339.1,221.7 342.3,222.5 345.2,224.1 348.4,224.6 351.3,227 354.9,226.2 358.4,225.7 361.5,227.1 367.7,225.3 371.8,224.8 372.4,222 368.5,221.2 363.3,218.6 360.3,217.4 357.4,215.5 354.9,212.7 351.3,214.4 348.3,213.6 345.3,212.9 342.6,210.8 340,208.2 336.8,207.2 332.5,209.4 330.4,205.1 326.5,206.4 323.6,203.5 320.5,201.4 317,200 313.2,199.4 309.7,199.3 305.1,202.5 300.5,201.4" fill="rgb(165,22,24)" fill-opacity="0.1575" />
<polygon points="299.9,203.5 304,206 306.9,207.9 310.2,208.9 313.5,211 317.5,210.8 320.6,213.1 324,214 327,215.5 330.2,216.4 333.4,217.4 336.7,218.2 340,218.8 343.4,219 346.3,220.5 349.6,220.5 352.1,223.7 355.4,224 358.6,224.7 362,224.7 367.7,224.9 371.9,224.5 372.1,223.6 368.4,222 363,219.9 360.1,218 356.8,218.1 354.1,215.9 350.8,216 347.4,216.8 344.4,215.7 342,212.5 338.1,213.8 335.1,212.4 331.9,211.5 328.9,209.8 326.2,207.3 322,208.5 318.6,207.3 315.2,205.7 312.1,202.9 308.3,203.7 305,202.9 300.1,202.6" fill="rgb(165,22,24)" fill-opacity="0.21" />
<path d="M333.2,211 330,212.4 321.4,211.2ZM352.1,213.9 349,215.1 340.1,213.5ZM317.1,211.1 309.8,207.8 304.8,201.8ZM313.6,208.6 309.2,207.8 300.1,200.5ZM373.5,218.8 370,220.9 367.4,218.7ZM320.4,208.1 318.4,208.3 315.2,204.7ZM343.3,212.3 346.5,215.6 345.8,218.2ZM371.6,221.8 361.5,223.8 356.1,221.4ZM327.6,206.9 318.3,211.5 313,211.1ZM299.4,202.3 301.7,201.2 307.7,204.6ZM323.7,213 327.3,211.7 329.9,212.4ZM313.9,203.7 310.5,205.3 307.3,204.1ZM323.7,210.9 317.3,206.7 312.4,200.3ZM356.3,217.2 360.2,217.1 365.3,223.1ZM329.3,214.7 332.4,213 336.8,215.1ZM323.7,210.3 328,210 332.9,212.8ZM306.6,205.1 314.6,207.3 317,209.7ZM334.3,213.9 330.8,215.2 319.8,210Z" fill="rgb(165,22,24)" fill-opacity="0.40"/>
<path d="M343.7,217.8 338.3,216.7 338,214.3ZM310,205 305.3,206.9 296.2,204.9ZM310,203.4 318.4,205.9 322.9,210.6ZM326.5,211.7 329.7,211.6 333.1,216.5ZM326.3,215 322.1,211.5 318,204.4ZM343,216.1 351.1,221.3 352,223.9ZM306.5,198.5 309.7,201.3 310.7,206.7ZM316.2,202.8 321.2,204.9 327.7,211.4ZM324.2,213.5 320,212.6 317.2,208.6ZM328,213.2 324.3,212.9 322.1,208.4ZM332,210.3 329,212.1 325.3,210.7Z" fill="rgb(165,22,24)" fill-opacity="0.35"/>
<path d="M316.2,212.5 310.3,210.1 310.2,207.5ZM367.2,223.9 371.8,222.6 376.5,225.2ZM368.4,217.7 366.9,219.8 362.3,221.9ZM321,212.3 325,211.4 327.3,215ZM361.3,221.6 368,221.5 370.5,223.5ZM343.7,221.2 334.5,217.3 332.3,214.5ZM334.7,216.9 332.9,217.5 328.7,214.1ZM340.5,217.9 350.1,218.7 352.6,221.4ZM310.3,208.3 317.8,209.2 320.8,211.2ZM343.2,216.5 349.3,217.4 354.6,221.5ZM341.2,225.3 334.8,221.9 332.8,216.3ZM363.4,220.5 368.7,220.5 373.6,222.1ZM349.2,218 356.2,219.7 360.7,224.5ZM359.4,219.9 347.7,224.1 343.9,222.5ZM367.4,222.9 356.6,220.4 354.3,216.8ZM345.2,215.2 335.8,217 332.4,215.4ZM305.6,205.5 314.8,205.5 318.4,208Z" fill="rgb(165,22,24)" fill-opacity="0.50"/>
<path d="M324.7,212.3 327,213 330.1,216.3ZM313.4,205.6 315.9,205.9 319.3,209.2Z" fill="rgb(165,22,24)" fill-opacity="0.55"/>
<path d="M329.8,212.3 335.2,213.6 339,216.4ZM339.6,213.9 349,216 353,219.6ZM332,216.2 335.8,214.1 338,216ZM320.3,209 325.1,210.1 333.3,216.4ZM335.5,212.4 331.7,212.2 326.4,209.1ZM317.5,206.1 321.8,207.1 325.3,211.6ZM369,222.8 371.9,222.8 374.9,225.9ZM329.2,212.3 322.5,213.6 318.2,211.1ZM367.9,227.2 370.8,222.7 373.2,221.7ZM329.6,208.2 334.6,208.6 339.5,212.7ZM367.3,225.4 364.7,225.2 361.7,222ZM302.3,205.2 305.5,205.6 309.4,209.9ZM367.3,222.9 373.7,224.4 376.2,227.4ZM355.8,223.1 359.5,221.6 364.2,223.9ZM318,205.5 327.2,211.7 328,215.7ZM347.2,224.5 341.9,222.2 336.5,216Z" fill="rgb(165,22,24)" fill-opacity="0.45"/>
<path d="M334.7,216.1 329,216.3 322.5,212.3ZM357.5,223.1 349.4,220.8 348.4,217.6ZM323.9,207.8 317.6,209.1 315.3,207.6ZM339.2,211.1 332,210 330.4,208.2ZM348.6,217.6 352.5,216.3 358.1,220ZM340.1,213.6 342.2,211.6 347.8,213.8ZM356.3,220 359.5,219.5 362.6,222.4ZM345.4,216.4 349.5,216.3 353.1,219.3ZM360.3,220.5 364.1,219.1 372.5,220.1ZM311.6,207 307.6,206.7 306.4,203.3ZM305.9,203.7 310.5,201.2 313.4,202.7ZM349.3,219.6 355.2,218.9 358.7,221.5Z" fill="rgb(165,22,24)" fill-opacity="0.30"/>
<path d="M371.3,226.2 365.3,225 362,223ZM337,211.9 340.8,211.9 345.5,217.8ZM329.6,212.4 335.8,213.7 336.9,216.1ZM349.3,216.2 357.8,215.1 362.7,217.9ZM377.3,224.9 371,226.3 366.6,223.7ZM330.1,211.7 328.1,213.9 321.8,211.6Z" fill="rgb(165,22,24)" fill-opacity="0.25"/>
</g>
<rect x="105" y="60" width="295" height="175" fill="url(#mesh)" opacity="0.3"/>
</g>
<defs><clipPath id="cb"><path d="M936.4,120.5 L936.7,124.8 L935.6,128.9 L934.7,133.1 L939.2,138.2 L933.9,141.7 L935.2,146.4 L935.1,151.0 L934.4,155.6 L929.4,158.2 L926.8,161.8 L924.1,165.3 L921.7,169.0 L920.1,173.1 L917.9,176.9 L915.1,180.3 L915.7,186.4 L909.7,187.0 L906.8,190.5 L905.7,196.2 L900.7,197.2 L896.9,199.7 L892.4,201.0 L888.7,203.5 L884.4,205.1 L881.0,208.1 L876.7,209.6 L874.4,215.5 L868.4,213.0 L865.1,218.5 L859.7,215.2 L855.3,216.2 L850.8,217.0 L846.4,218.2 L841.7,217.8 L837.2,217.9 L832.8,218.7 L828.4,217.8 L823.9,217.4 L819.4,217.1 L814.6,217.9 L810.6,215.2 L806.1,214.6 L801.7,213.9 L797.3,212.9 L792.1,214.0 L788.7,209.9 L783.2,211.3 L778.4,210.7 L776.3,204.4 L771.4,203.8 L768.3,200.0 L764.9,197.1 L761.5,194.2 L755.4,193.4 L755.7,187.3 L752.5,184.2 L749.9,180.7 L747.4,177.1 L745.8,172.8 L741.0,170.8 L740.8,165.7 L738.9,161.8 L736.3,158.2 L734.9,154.1 L731.3,150.9 L731.9,146.0 L729.6,142.1 L729.1,137.8 L728.4,133.5 L728.7,129.2 L729.2,124.9 L728.6,120.5 L728.6,116.2 L728.9,111.9 L729.9,107.7 L730.1,103.4 L730.9,99.1 L730.5,94.6 L731.1,90.1 L732.3,85.8 L735.0,82.2 L737.2,78.2 L740.3,75.0 L742.9,71.4 L745.2,67.6 L747.5,63.9 L749.8,60.2 L752.2,56.5 L755.1,53.3 L758.4,50.2 L760.5,45.2 L765.6,44.6 L769.7,42.8 L773.5,40.4 L777.3,38.2 L779.8,33.4 L785.2,34.1 L789.2,32.1 L793.5,30.8 L797.8,29.7 L801.8,27.4 L806.0,25.8 L809.5,21.3 L814.7,23.3 L819.1,22.4 L823.7,21.7 L828.2,20.9 L832.8,18.9 L837.9,16.5 L841.9,21.6 L846.9,20.1 L851.7,19.4 L855.7,22.5 L860.0,24.6 L864.5,25.1 L869.0,26.1 L874.4,24.8 L878.4,27.6 L882.5,30.0 L885.0,35.1 L888.9,37.2 L892.6,39.7 L896.1,42.5 L899.0,46.0 L905.0,45.7 L906.5,50.9 L909.9,53.8 L913.3,56.6 L915.8,60.2 L917.6,64.3 L919.7,68.1 L921.9,71.9 L923.9,75.7 L926.7,79.1 L928.1,83.2 L929.6,87.2 L931.9,90.9 L933.0,95.1 L935.1,99.0 L940.5,102.3 L936.3,107.6 L936.6,111.9 L939.7,116.1Z M811.7,124.5 L811.2,123.2 L811.6,122.0 L812.5,120.9 L812.6,119.6 L812.4,118.1 L811.8,116.8 L811.2,115.7 L810.5,113.8 L812.7,113.4 L815.2,113.8 L817.4,112.3 L819.6,112.7 L821.3,112.9 L822.9,113.3 L824.4,113.8 L826.0,113.1 L827.5,113.6 L828.9,113.5 L830.4,113.8 L831.9,112.5 L833.8,112.3 L835.9,112.1 L837.9,111.1 L840.0,111.3 L842.2,111.0 L844.7,109.5 L846.5,111.7 L848.2,112.5 L849.5,113.0 L850.2,114.2 L851.0,115.1 L851.5,116.3 L852.6,117.3 L853.1,118.9 L853.7,120.1 L854.0,121.3 L853.2,122.4 L851.7,123.2 L850.3,124.3 L849.2,125.7 L847.4,125.7 L846.4,127.3 L845.3,128.2 L844.1,128.7 L844.2,129.7 L843.0,130.5 L843.9,131.6 L843.6,132.8 L843.1,134.2 L842.8,135.8 L842.5,137.6 L840.7,138.2 L839.7,139.8 L837.7,140.5 L835.5,140.7 L833.6,140.3 L831.9,140.2 L830.1,140.3 L828.4,140.0 L827.1,138.7 L825.2,138.8 L823.8,137.6 L822.2,137.2 L821.3,135.9 L820.3,136.0 L819.9,135.4 L819.6,134.8 L817.8,135.8 L817.4,134.0 L816.1,133.0 L815.0,131.5 L814.0,130.2 L813.2,128.9 L811.8,127.7 L811.7,125.9Z " fill="#000" fill-opacity="1.0" fill-rule="evenodd" clip-rule="evenodd"/></clipPath></defs>
<g clip-path="url(#cb)"><g filter="url(#tex)">
<rect x="720" y="10" width="230" height="220" fill="rgb(238,192,198)"/>
<rect x="720" y="10" width="230" height="220" fill="url(#mesh)"/>
<ellipse cx="833" cy="124" rx="80" ry="74" fill="rgb(132,130,190)" fill-opacity="0.07"/>
<ellipse cx="833" cy="126" rx="52" ry="47" fill="rgb(132,130,190)" fill-opacity="0.10"/>
<path d="M808.7,153.6 813.8,151.9 814.7,155.9ZM887.3,122.7 885,125 880.2,123ZM836.9,178.1 831,181.4 825.8,177.3ZM787.3,208.4 784.2,207.7 783.8,204.4ZM829.8,110.2 830,109.3 836.4,114.2ZM812.6,168.9 815.5,167.1 818.9,168.1ZM870.1,203.4 863.2,198.2 863,192.3ZM775.9,82.4 784.6,75.6 789.3,80.6ZM794.9,148.7 790.3,150.2 786.7,146.9ZM849.3,132.5 856.2,132.8 859.7,138.1ZM869.1,146.3 864.8,149.1 859.9,147.4ZM849.3,76.4 857.8,68.2 862.5,71.6ZM908.3,139.4 904.4,133.1 905.7,132ZM802.8,113.3 802.9,113.6 792.1,103ZM749.5,81.9 744.2,83.2 738.5,79ZM784.3,58 777.2,63.2 773,60.8ZM740.2,119.7 741.2,120.6 737.3,124.3ZM858.8,108.6 854.5,109.8 849.7,105.3ZM785.6,47.3 781,49.2 779,46.6ZM805.8,210.8 799.4,203.2 801.3,200.1Z" fill="rgb(182,42,44)" fill-opacity="0.40"/>
<path d="M805.1,87.4 799.4,95 791.8,93.2ZM912.9,162.9 911.2,160.1 919.3,150.6ZM773.8,113.9 778.2,108.2 788.3,117.9ZM824.1,74.2 826.3,70.6 831.4,70ZM842.5,80.4 835.6,88.5 830.4,87.6ZM849.4,175.2 845.8,179 838.5,176ZM791.4,56.5 793.5,57.8 796,60.3ZM777.4,87.1 781,90.3 780.2,95.8ZM850.8,52.2 845.6,47.7 846.9,41ZM813.1,102.8 810.4,106 802.8,105.6ZM893.2,191.2 897.7,194.2 897.1,201.1ZM888.1,187.4 885.6,185.6 883.5,183.4ZM759.7,57.3 755.1,52.6 754.1,51.5ZM850.4,53.7 853.2,51.2 857.3,53.2ZM919.4,112.7 921,115.5 915.7,118.6ZM909,118.6 918,111.4 919.6,116.3ZM812,34.2 809,30.1 815.3,25.2Z" fill="rgb(182,42,44)" fill-opacity="0.35"/>
<path d="M755.3,177.9 758.9,172.5 764,177ZM748.6,129.6 751,134.6 749.2,139ZM775.3,69 771.9,74.1 765.9,68ZM820.6,42.6 823.4,44 829,49.2ZM887,187.6 887.1,190 880.4,196.1ZM754.9,79.2 758.6,73.8 762.3,75.6ZM851,146.4 846,147.4 840,141.2ZM728.2,109.7 730.2,109.3 733.6,112.2ZM798.8,140 793.8,134.9 792.1,132.6ZM905.5,181.5 910.6,180.1 912.7,183.5ZM812.5,80.4 813.4,84.7 806.2,87.2ZM863.2,25.2 870.7,27.2 869,35.2ZM933.3,143.4 934.4,144 926.6,154.1ZM747.3,114.2 747.2,112 752.8,117.3ZM774.1,114.3 775.1,113.2 779.7,115.7ZM914.5,184.3 917.8,188.2 905.8,176.3Z" fill="rgb(182,42,44)" fill-opacity="0.65"/>
<path d="M877.5,55.6 882.4,50.4 888.9,55.9ZM729.5,107.2 731.8,101.3 741.4,105.2ZM781.9,100.6 778,106 768.8,98.6ZM810,134.8 808.1,140.6 797.7,130.3ZM830.1,87.7 827.9,89.3 821.7,86.3ZM870.2,43 871.9,37.1 882.5,40.9ZM855.5,203.5 851.8,204.9 847.4,200.3Z" fill="rgb(182,42,44)" fill-opacity="0.75"/>
<path d="M789.8,47.8 794.4,47.8 796.9,56.5ZM882.9,192.9 876.7,186.5 876.6,185.4ZM898.5,80.1 903.1,79.7 905.9,84.7ZM755.6,104.9 751.5,100.7 751.6,99.9ZM743.5,125.3 746.2,127.7 737.3,137.9ZM830.9,168.8 830.5,177.6 826.3,177.9ZM818.3,25.3 812.4,31.7 806.6,25.1ZM779.4,148.7 785.1,142.3 791.4,141.2ZM828.5,108.4 818.7,115.1 815.6,113.6ZM876.7,115.2 876.2,110.8 879.9,110ZM762.5,125.4 767.2,125.4 768.4,129ZM875.9,104.5 874.6,104.7 871.4,101.9ZM795.4,134 790.9,129.1 790.9,127.1ZM908.8,90.3 900.3,97.6 896.9,97.6ZM761.8,156.7 752.5,156.8 748.9,151.3ZM743,163.3 743,157.6 750.5,154.5ZM819.4,178.2 813.9,185.4 806.3,182.4ZM868.1,112.7 869.7,112.6 873,115.1Z" fill="rgb(182,42,44)" fill-opacity="0.70"/>
<path d="M857.3,154.4 857.1,159.7 854.6,159.8ZM767.4,181.7 764.8,183.6 754.6,178.1ZM929.4,110.2 935,110 938.7,114.7ZM802,88.5 807.2,94.3 805.7,102ZM902.8,134 900.1,129.7 902.5,126.9ZM901.3,132.6 899.3,124.5 906,119.4ZM864,161.4 859.2,164.9 858.2,164.6ZM772.7,60.3 772.6,66.8 767.5,68.3ZM879.1,60.2 882.1,65.9 873.2,70.1ZM734.9,162 744.9,153.5 746.2,154.3ZM858.9,114.9 862.1,114.5 862,120.4ZM852.3,151.8 851.8,154.5 846.7,156.3ZM872.4,105.7 880.1,100.2 886.9,104.5ZM920.5,76 929.5,77.3 930.6,82.1ZM790.2,206 795.3,202.3 798.1,204.7Z" fill="rgb(182,42,44)" fill-opacity="0.50"/>
<path d="M900.7,100.5 903.1,105.3 895.7,112.4ZM874.7,123.3 878.1,126.9 874.5,133.9ZM830.7,119.4 833.1,121.5 830.5,127.4ZM768.6,178.5 762.6,172.4 768.5,168.7ZM775.5,151.4 775.8,148.6 779.3,147.8ZM875.8,44.5 886.1,41.3 888.7,46.8ZM857,190.2 850.8,188.7 850.8,185.7ZM736.8,117.1 738.4,121.7 731.7,123.2ZM866.2,147.2 871,145.6 872.9,148.4ZM923.3,85.4 931.2,78.7 932,81.9ZM795.9,180.6 792.6,181.5 788.9,178.4ZM891.6,41.4 890.4,42.4 884.3,38.1ZM916.1,166.5 914.6,171.5 909.3,177.5ZM799.6,156.8 804.8,156.2 808.4,165.9ZM888.2,174.6 888.3,173.8 894.8,166.6ZM820,49.8 823.7,45.5 829.5,47.4Z" fill="rgb(182,42,44)" fill-opacity="0.45"/>
<path d="M889.9,59.3 894.7,61.1 896.6,68.1ZM804.2,155.7 808.2,147.7 818.7,154.3ZM835,74.9 835,80.6 828.2,81.3ZM875.3,112.7 882.2,116.3 875.2,126.8ZM808.7,168 806.1,171.6 799.9,178ZM807.3,196.3 800.5,197.7 797.8,184.8ZM785.3,180.6 781.7,186 774.7,182.1ZM745.1,105.3 750.9,110 745.3,114.3ZM765.6,171.1 761.3,172.5 760.2,168.3ZM818.7,181 823,175.6 829.1,177.1ZM888.2,182.1 880.4,179.3 875.5,174.2ZM848.6,36.8 843.7,41.6 839.1,41.7ZM860,172.8 857.7,174.7 852.6,171.7Z" fill="rgb(182,42,44)" fill-opacity="0.30"/>
<path d="M923.4,119 919.6,115.2 917.9,113.1ZM869.6,208.6 878.7,217.8 878.9,219.7ZM819.5,75.6 811.6,78.4 805.9,74ZM906.6,144.2 912.1,144.1 916.1,148.6ZM826.6,200.9 820.2,202.8 815,199.2ZM804.1,157.9 809.1,156 815.7,159.5ZM762.1,71.8 757.8,68.7 758.6,64.9ZM771.1,86.9 766.4,85.7 764.6,81.8ZM930.5,76.1 923.7,80 918.3,77.3ZM824,99.5 825.5,98.4 829,101.7ZM846.1,201.5 842.1,203.8 838.8,201.5ZM877.9,67.8 875.8,65.2 875.4,63.4ZM867.4,115.9 863.9,119.5 859.2,117.6ZM912.7,95.9 921.3,90.4 924.4,100.4Z" fill="rgb(182,42,44)" fill-opacity="0.55"/>
<path d="M781.9,32.4 784.5,35 784.1,37.5ZM831.2,89.8 829.9,92.2 824,91.1ZM758.5,81.1 765.2,80.4 770.4,89.3ZM907.8,89.1 899.5,94.5 897.5,93.3ZM787.4,117.1 784.1,123.2 775,117.6ZM904.8,158.8 909.4,155.1 914.8,157.1ZM740.9,148.3 731.8,146.7 729.4,138.9ZM833.5,75 829.6,72.4 829.4,69.7ZM889.5,99.5 886.4,95.8 889.5,88.7ZM862.4,157.9 855.9,150.3 860.4,144.8ZM920.8,134.4 926.4,128.8 929.3,133.9ZM872.5,80.2 868.1,82.8 865.6,78ZM739.4,103 742.2,107.8 739.5,112.7ZM761.8,141.4 767.9,137 773.3,142.9Z" fill="rgb(182,42,44)" fill-opacity="0.60"/>
</g>
<g filter="url(#soft)">
<polygon points="810.6,123.9 810.8,122.2 812.1,119.6 812,117.4 812.6,116.4 812.9,115.2 814.6,114.7 816.5,113.9 818.4,113.2 820.7,111.8 823.6,111.9 826.7,113.7 830.2,114.2 833.4,112.2 836.5,111.3 839.5,110.6 842.1,110.9 844.3,111.3 846.3,111.9 848.4,111 849.9,110.8 850.1,109.6 848.8,109 846.9,108.2 844.7,106.6 841.9,107.5 838.9,106.9 835.8,107.8 832.8,109.1 829.9,108.9 827,109.6 823.9,108.9 820.7,109 817.5,107.6 815.1,109.8 812.1,110 810.4,112.4 808.8,114.4 807.6,117 806.7,120 808.1,122.5 809.3,124.1" fill="rgb(165,22,24)" fill-opacity="0.1575" />
<polygon points="810.3,124 810.6,122.2 810.5,119.7 810.5,117.3 810.6,115.3 811.9,114.1 814.1,113.6 815.9,112.3 818.2,111.9 820.7,111.1 823.7,111.6 826.8,112.1 830.1,112.3 833.3,111.7 836.5,111 839.5,110.5 842.1,110.4 844.4,110.3 846.6,110.4 848.6,110.1 850,110.2 850,109.8 848.8,108.9 846.9,108.2 844.5,108.1 841.9,107.8 839,108 836,108.6 833,109.8 830,110.1 827,110.2 823.9,109.1 820.7,109.3 817.8,109.4 815.2,110.2 812.8,111.3 810.7,112.7 809.1,114.5 807.8,117 808.7,119.8 809.3,122.3 809.8,124" fill="rgb(165,22,24)" fill-opacity="0.189" />
<path d="M845.5,110.6 842.5,111.5 833.4,110.3ZM842.4,111.4 846.7,106.6 848.9,106.6ZM834.6,110.4 832.3,112 825.4,111.8Z" fill="rgb(165,22,24)" fill-opacity="0.30"/>
<path d="M810.8,116.8 812,118.6 810.2,125ZM843.8,108.7 850.3,108.2 856.4,110.1ZM840.4,107.2 835.4,110.2 827.3,110.5ZM809.9,117.4 810.8,114.2 815.6,109.4ZM817.9,110.4 811.5,115 806,114.2Z" fill="rgb(165,22,24)" fill-opacity="0.45"/>
<path d="M843.2,108.4 837.6,109.3 832.8,108.1ZM816.6,109.9 813.4,113.6 806.7,113.7ZM826.3,112 831.8,108.9 833.7,110.9Z" fill="rgb(165,22,24)" fill-opacity="0.40"/>
<path d="M812.1,122.8 807.8,114.9 806.9,109.2Z" fill="rgb(165,22,24)" fill-opacity="0.35"/>
<path d="M840.7,108.1 850.4,107.8 852.8,110.6ZM825.4,110.8 828.2,109.5 838.7,110.2ZM822.1,108.5 818.7,113.4 812.1,115.5ZM812.3,110 811.7,115 806.2,119.2ZM838.4,108.1 835.6,111.2 825.8,114.6Z" fill="rgb(165,22,24)" fill-opacity="0.25"/>
<polygon points="852.6,116.4 851.8,119 853.2,120.1 855,120.6 853.5,121 854.4,121.1 854.2,122.8 852,123.1 852.6,125.6 853.4,126.4 855.1,126.3 857.3,125.8 858.9,123.9 859.8,121 858.2,118.6 856.2,117.3 856.1,114.7 853.3,115.7" fill="rgb(165,22,24)" fill-opacity="0.1575" />
<polygon points="852.8,116.2 853.4,117.4 854.6,118.8 855.4,120.3 855,121 854.8,121.3 854.5,123.1 853.3,124.5 852.7,125.7 853.3,126.3 855.2,126.4 855.8,124.3 858.2,123.4 858.3,121 857.8,118.8 856,117.5 855,115.8 853.2,115.8" fill="rgb(165,22,24)" fill-opacity="0.231" />
<path d="M855,120 853.2,129.7 850.2,131.2Z" fill="rgb(165,22,24)" fill-opacity="0.40"/>
<path d="M848.7,113.4 854.3,115.6 859.9,124.7Z" fill="rgb(165,22,24)" fill-opacity="0.60"/>
<path d="M853.5,118.3 853.9,121.7 848.7,129.9Z" fill="rgb(165,22,24)" fill-opacity="0.35"/>
<path d="M854.5,115.1 859.7,123.1 859.3,126.9Z" fill="rgb(165,22,24)" fill-opacity="0.45"/>
<polygon points="740.9,151.7 741.1,149.8 741.1,147.2 741.6,144.2 741.2,141.7 740.5,139.5 741,137.1 741.1,134.8 739.4,132.7 741.1,130.2 738.5,128.2 739.8,125.8 743.2,123.4 740.6,121.3 739.2,119.1 738.2,116.7 739.7,114.5 743.2,112.6 738.6,109.9 738.1,107.5 741.9,105.8 740.2,103.1 743.7,101.6 744.2,99.4 743.4,96.9 745,95.1 742.9,92 743.8,89.9 748.1,89.1 746.4,86 749.8,85 750.6,83 751.8,81.1 751.7,78.5 751.8,76 753.5,74.3 754.4,72.2 758.2,72 755.6,67.4 760,67.9 762,66.6 762.5,64.1 765.3,63.6 763.9,59.1 765.4,57.3 768.4,57.1 768.4,53.7 769.7,51.6 772.3,51 776,52 777.9,50.8 779.8,49.4 781.8,48.3 781.2,43.1 783.9,43 785.7,41.3 789.5,43.5 791.5,42.4 793.6,41.4 795.6,40.1 798.1,40.1 798.7,35.3 801.6,36.3 804.5,37.5 806,34.5 807.8,32.1 811.3,36.4 813.1,33.8 815.7,34.6 817.6,32 819.7,29.9 822.4,32.3 824.7,31.1 826.9,28.7 829.3,28.5 831.8,32.9 834.2,29.3 836.6,29.3 838.8,33.2 841.2,32.1 843.6,31.6 845.5,35.2 847.8,35.3 850.6,32.8 852.9,33.2 855,34.7 857,36.5 859.8,35.1 861.8,36.6 865.3,33.6 866.9,36.1 869.5,36.2 871.7,37 874.8,36.5 877.2,38 879.5,39.3 881.4,39.4 882.7,36.9 881.5,35.2 879,34.5 876.4,33.2 874.9,29.7 872.8,27.9 869.8,28.3 867.3,27.7 864.9,26.6 862.6,25.2 859.8,25.8 857.5,24.3 856,18.7 853.4,18.1 850,21.5 847.2,22.9 845,19.4 842.5,16.9 839.8,16.2 837,18.5 834.3,21.9 831.7,22 829,19.6 826.2,16.9 823.6,18.9 821.1,20.6 818.5,20.6 816.1,22.5 813.5,22.8 810.4,20.8 808.4,23.8 805.9,24.7 803,24.1 800,23.4 798.4,26.7 796.1,28.2 793.2,28 790.1,27.1 789.1,31.4 784.6,28 782.8,30.5 780.5,31.8 777.7,32.3 777.7,37.4 773.8,36.1 770,35.3 771.4,41.7 765.7,38.5 764.3,41.1 761.5,41.9 759.8,44.1 760.4,48.6 758.4,50.2 757.2,52.6 754.5,53.7 751.9,54.8 752.7,58.9 750.9,60.7 747.8,61.6 744.7,62.5 744.3,65.4 745.5,69.3 742.2,70.2 741.5,72.8 739.9,74.9 737.3,76.4 734.6,78.1 734.6,80.9 732.5,82.9 735.6,86.9 734.7,89.2 730.3,90.5 730.9,93.4 731.4,96.2 733.1,99.2 728,100.8 728.9,103.6 730.2,106.4 726.2,108.4 731.2,111.5 726.4,113.7 728.8,116.4 728.3,119 729.8,121.5 726.9,124.2 730.7,126.5 729.8,129.1 729.9,131.6 728.7,134.4 733.3,136.2 731.7,139 731.4,141.7 734.2,143.6 735.7,146 736.4,148.8 736.8,151.3 738.4,152.6" fill="rgb(165,22,24)" fill-opacity="0.1575" />
<polygon points="740.5,151.9 740.5,150 739.5,147.7 739.5,144.8 738.6,142.4 737.3,140.3 738,137.7 738.2,135.3 736.8,133.1 738.6,130.5 738.3,128.2 735.9,126.1 737.3,123.7 738.6,121.3 736.1,119 736.1,116.7 737.2,114.4 737,112 736.8,109.7 739.2,107.6 739.3,105.3 740.3,103.2 740.1,100.8 740.1,98.4 739.3,95.8 742.1,94.2 743.1,92.1 742.3,89.3 743.3,87.2 745.8,85.7 743.9,82.3 746.9,81.1 747.3,78.7 748.6,76.8 748.9,74.2 751,72.7 751.3,70.1 753.1,68.5 754.5,66.5 755.8,64.6 756.7,62.2 760,61.9 761.3,59.9 763.4,58.7 764,55.9 766.9,55.5 768.5,53.7 769.2,51 772,50.7 772.4,47.2 775.6,47.6 777.7,46.4 778.6,43.5 781,42.7 782.5,40.5 785.9,41.6 787.7,40 789.2,37.5 791.8,37.3 793.4,34.9 796.6,36.3 798.8,35.6 800.6,33.4 803.4,33.9 805.4,32.3 807.9,32.4 810.2,31.5 812.1,29 814.9,30.4 817.2,29.8 819.6,28.9 822.2,30.2 824.3,27.4 826.8,27 829.3,27.3 831.8,28.8 834.2,28.5 836.6,28.4 839.1,27.5 841.5,28.3 843.9,29.1 846.2,29.9 848.6,30.5 851.4,28.5 853.8,29.2 856.2,29.9 858.5,30.6 860.9,31.3 863.2,32 865.2,33.6 867.9,33.5 870,34.9 872.5,35.1 875,36.2 877.9,36.7 880.1,38 882,38.3 882.6,36.9 881.1,36.1 878.9,34.6 876.6,32.8 873.9,32 871.3,31.5 869.3,29.7 866.8,29.2 864.4,28.2 861.9,27.9 859.9,25.4 857.4,24.5 855,23.5 852.3,24 849.9,22.5 847.3,21.9 844.5,24.1 842.1,21.8 839.4,23.3 836.8,23 834.3,22.6 831.7,23.2 829.1,21 826.5,22.4 824,23.7 821.5,23.8 818.6,21.5 816.3,24.1 813.5,22.7 811.1,24 808.3,23.4 806.5,27 803.8,26.8 801.3,27.5 798.6,27.4 796.1,28.2 793.5,28.6 791.8,31.3 788.8,30.8 786.2,31.3 784.5,33.8 781.5,33.6 780.2,36.6 778.3,38.4 776,39.4 774.3,41.5 771.4,41.8 768.8,42.5 768,45.7 765.9,47.1 763.5,48.2 761.4,49.6 758.7,50.5 756.9,52.4 755.8,54.9 754.8,57.4 752.1,58.5 752.3,61.8 749.5,62.9 747.2,64.3 747.8,67.8 745.2,69.1 743.9,71.3 742.3,73.2 741.8,75.8 739.2,77.4 740.7,80.9 738.9,82.8 737.9,85.1 737.1,87.4 734.7,89.2 736,92.3 734.5,94.4 733,96.6 732.4,99 731.4,101.4 733.1,104.3 732.6,106.7 733,109.2 731.3,111.5 730.9,114 729.6,116.5 729.9,119 731.3,121.5 732.2,123.9 731.8,126.4 731.4,128.9 731.6,131.4 733.8,133.6 733.9,136.1 734.8,138.4 735,140.8 735.9,143.1 736.5,145.8 737.2,148.5 738.5,150.7 739.1,152.3" fill="rgb(165,22,24)" fill-opacity="0.294" />
<path d="M735.2,96.5 736.6,98.9 732.1,104.7ZM784.5,34.5 790.9,30.2 794.4,30ZM737.1,139.9 739.6,144.5 737.3,148.4ZM734.8,102.3 734.9,98.9 741.4,91ZM872.8,28.1 869.7,29 864.4,27.8ZM854.7,25.3 845.5,26.8 841.6,25.1ZM815.5,27.1 809.1,29.3 802.9,27.8ZM788.6,34 792.3,32.9 797.9,35ZM798.3,30.5 790.5,33.1 787.8,31.4ZM836.7,24.4 828.7,26.6 824.2,24.6ZM775.9,33.3 779,31.6 789.6,33ZM881.8,37.8 878.8,37.3 875.4,32.7ZM811,33.5 805.3,34.8 800.4,33.2ZM767.7,50.4 767.2,54.7 762.2,63.3ZM837.7,22.8 829.7,20.9 828.3,17.9ZM769.7,57.1 769.9,54 777.2,51.5ZM829,29 835.2,25.7 839.4,25.4ZM784.8,38.6 781.7,41.5 778.8,40ZM740.9,159.8 738.3,150 738.7,144.4ZM765.2,46.7 766.2,42.4 767.8,41ZM735.3,110.6 734.8,119.9 733.3,122.6ZM774.5,38.4 779,35.7 787.9,33ZM757.4,58.9 761.6,55.3 769.8,52ZM770.3,45.4 771.5,42.5 776.2,43.2ZM831.6,24.5 824.7,25.5 816.6,24.9Z" fill="rgb(165,22,24)" fill-opacity="0.65"/>
<path d="M816.5,29.9 813.1,30.4 802.7,28.5ZM748.2,72.7 746.1,79.8 740.7,84.5ZM885.7,39.1 883.3,40.1 878.8,36.4ZM734.7,112.9 734.6,109.5 736.2,106.1ZM800.3,29 795.7,31.8 787.9,31.3ZM773.6,46.8 774.1,42.9 779.2,37.8ZM818.9,26 813.8,29.9 810,29.8ZM744.9,72.5 746.1,76.7 742.3,83.8ZM856.9,24.2 861.4,22.9 871.3,25.7ZM878.8,32.2 877.1,34.3 872.2,31.4ZM862.6,25.3 852.3,23.4 847.6,20.5ZM731.7,137.9 736.1,140.3 737.5,144ZM871.9,31.4 866,31.4 861,28.8ZM846,24.3 849.8,22.7 853.2,24.1ZM764.6,47 771.8,37.6 775.4,37ZM746.9,70.7 749.8,65.7 752.1,64.1ZM772.3,51.1 772.1,47.8 773.7,45ZM778.2,36.6 787.7,34 792.9,34.9Z" fill="rgb(165,22,24)" fill-opacity="0.35"/>
<path d="M746.8,78.1 748.4,82 744.6,88.2ZM733.8,121 732.1,115.5 732.9,109.7ZM740,87.2 738.2,92.8 735.8,93.4ZM768.3,49.4 768.7,44.4 772.1,43.5ZM850.3,25.9 853.4,25.3 858.3,27.9ZM880.1,39.3 875.4,38.7 871.5,36ZM767.5,46.8 776.3,42.6 779.9,43ZM735.6,132.1 731.9,127.5 733.3,125.2ZM749.5,67.2 748.8,63.1 752,60.3ZM764,55.1 763.6,59.4 760.6,60.1ZM776,45.9 784.4,40.9 787.2,41.6ZM736,109.8 734.8,107.3 737.3,102.4ZM730.6,113.4 733.8,120.7 733.3,124.6ZM744.8,94.6 740.9,90.1 740.6,84.4ZM732.9,97.2 732.9,102.3 730.6,103.3ZM867.6,25.9 872.5,29.3 877.4,37.9ZM745.3,66.5 740.9,74.2 736.2,78.3ZM852.6,26.5 848,29 845.9,26.9ZM736.9,98.7 735.3,92.3 737.6,86.6ZM819.9,27.9 825.4,25.3 831.2,26.6ZM745.1,81.3 742.7,85.2 740,84.8ZM853.6,25.5 844.8,27.9 842.4,26.9ZM738.6,122.3 735.5,120.8 732.3,111.1ZM789.8,30.7 788.3,32.9 782.9,32.9ZM764,52.5 770.3,45.5 773.7,44.9ZM734.7,99.2 736.7,91.9 739.2,91ZM734.5,96.8 735.5,99.7 733.5,104.5ZM737.6,92.7 736.4,98.4 733.5,101.8ZM733.6,106.5 732.7,110 727.5,113.9ZM793.3,32.9 796.3,28.7 805.4,26.3ZM850.3,28.9 858,29.1 862,30.9Z" fill="rgb(165,22,24)" fill-opacity="0.60"/>
<path d="M742,147 737,138.3 737.7,134.8ZM740.7,120 739.6,126.4 736.3,129.6ZM852.7,31.8 856,30.9 860.4,34.9ZM739.6,149.9 733.3,145.1 732.5,141.9ZM796.6,26.6 807.9,24.1 810.8,26.5ZM789.1,33.5 786.7,37.7 784.4,37.3ZM739.8,151.6 734.5,144.9 735.6,142.1ZM809.7,26.8 807.6,30.5 800,34.3ZM731.8,110.1 730.8,106.6 736.2,98.7ZM845.8,28.7 842.8,29.4 832.4,27.2ZM734.8,100.3 735.5,103.6 732.5,105.9ZM792,30.1 784.3,35.2 781.5,34.8ZM739.5,95.2 740.1,98.3 736.6,107.8ZM735.2,120.6 733.1,117.7 733.4,107.8ZM831.9,22.8 837,22.5 846.7,26.3ZM732.7,131.2 727,125 727.5,121.9ZM874,31.3 869.2,29.7 863.2,24.5ZM745,75.7 743.5,72.6 743.9,67.5ZM817.1,25 814.8,27.5 804.1,30.3ZM841.7,25.3 847.7,23.2 857.1,25.4ZM767,49.1 761.8,56.5 757.6,59.3ZM839.8,25.3 836.7,26.5 833.8,24.1ZM858.2,22.6 862.4,22.4 864.7,26.5ZM796.8,30.2 794.7,34.3 790.7,34.9ZM859,24.6 864.7,24.5 866,26.9ZM761,56.3 762.3,54.4 767.3,52.4ZM761.6,54.7 768.6,46.9 772.6,46.2ZM740.7,77.2 740.7,84.5 738.6,86.2ZM781.8,37.3 779.4,40.3 776,41.3ZM780.2,47.3 776.8,48.6 769.6,45.9Z" fill="rgb(165,22,24)" fill-opacity="0.40"/>
<path d="M800.7,27.1 797.1,30 792.3,31.3ZM737.7,107.1 740,98.9 743.5,94.7ZM734.2,132.8 737.1,137.1 736.5,141.3ZM741.3,94.6 741.1,90.8 748.6,81.1ZM820.9,26.5 827,24.8 832.7,27.2ZM803.3,29.7 801.2,34.4 797.2,34.6ZM739.5,146.5 736,138.2 735.8,131.5ZM870.4,33.2 878.1,34.1 882.9,38.6ZM750.9,70.2 749.6,73.2 741.9,75.2ZM847.4,19.2 854.5,18.2 861.4,21.1ZM733.8,123.5 735.2,130.1 733.4,133.9ZM762.2,57.7 759.4,63.1 753.5,65.5ZM851.1,28.7 842.3,31.6 836.6,30.7ZM770.9,48.4 775.8,44.3 783.3,42.7ZM741.1,129.1 739.9,138.5 737.6,141ZM730.9,111.5 731.6,104.7 734.4,99.4ZM723.3,118 726.7,107.4 730,104.3ZM736.1,107.8 733.4,112.5 731.1,113.2ZM824.2,27.5 814,25.3 811.5,23.7ZM731,113.7 732.9,117.4 733.6,129.2ZM881.3,32.6 872.7,35 865.8,32.8ZM758.4,60 758.4,56.1 766,48.2ZM762.4,55.3 764.1,51.6 769.4,50.1ZM744.2,91.2 743.5,88.3 745,84.2ZM841.6,25.3 844.1,23.4 849.6,25.9ZM735.6,125.6 732.8,114.1 734.7,110.1Z" fill="rgb(165,22,24)" fill-opacity="0.50"/>
<path d="M809.3,28.8 804.5,31.9 797.8,32.2ZM742.7,84.3 743.6,87 741.3,91.6ZM771.4,51.2 769,55.3 762.7,56.7ZM738.9,83.1 739.8,77.8 743.6,76.3ZM846.2,24.9 853.1,26.4 859.5,30.3ZM743.1,90.4 741.6,87.3 745,76.9ZM856.5,29.6 852.2,32.6 843,32ZM737,111.1 735.4,116.2 730.2,124.5ZM766,46.3 765.4,49.4 759.8,52.6ZM736,96 738.3,99.5 740.7,107.2ZM772.3,40.1 778.2,37 782,37.6ZM875.4,34.9 873,35.3 869.2,29.9ZM839.2,23.6 836.7,25.4 826.8,26.3ZM738.4,106.8 737.6,110.7 734.8,112.5ZM801.1,29.3 798.3,33.8 795.9,32.7ZM858.5,32 861.7,31.3 866.7,36ZM735.7,132.9 734.1,128.9 736.1,126.5ZM781.6,41.5 783.4,39.1 791.1,38.5ZM781.6,38.1 780.8,35.1 785.8,31.9ZM737,104 736.3,108.9 734.3,110.3ZM827,32.8 816.9,31.6 812.6,28ZM848.7,25.3 851.7,25.1 859.9,28Z" fill="rgb(165,22,24)" fill-opacity="0.55"/>
<path d="M849.6,31.2 842,30.3 838.3,26.4ZM734.9,155.5 733.6,148.3 735.5,145.5ZM805.4,27.4 802,29 797.2,27.5ZM767.3,52.4 769,47.2 772,46.8ZM732.5,117.2 734.7,123.6 734.1,125.7ZM802.2,26.3 806.5,22.1 814.5,21.1ZM751.7,59 750.4,64.1 745.7,71.8ZM737.6,95.1 738.8,100.3 737.5,107.8ZM737,142 736.4,136.4 737.3,133.8ZM854.7,29.1 851.7,29.2 846,25.5ZM743.6,77.6 744.1,73.5 751.1,69ZM738,132.6 739.7,136.6 738.3,145.2ZM849,25.4 845.3,27 836.8,27.8ZM742.5,77.5 742.8,74.7 748.6,67ZM813.5,24.3 810.6,27 806.6,26.4ZM733.6,118.4 732.7,113.1 734.6,110ZM868.1,28.4 863.7,28.5 856.1,25.7ZM847.1,35 850.1,30.9 856.9,28.8ZM756.7,60.8 749.9,65.4 747.1,65.4ZM737.5,138.7 733,133.4 734.1,130.3ZM739.6,90.6 742.2,84.9 747.7,79ZM736.4,92.4 738.9,96.8 737,100.2Z" fill="rgb(165,22,24)" fill-opacity="0.45"/>
<path d="M738.4,110.3 737.4,103.9 739.8,95.6ZM770,41.6 769.3,47.3 765.5,49ZM738,109.3 735.9,104.1 737.6,100.9ZM783,35.9 781.4,38.6 775.2,38.5ZM830.1,24.1 834.3,24.3 843.3,29.3ZM834.7,20.3 830.6,28.5 826.2,30.7ZM770.3,40.8 769.9,43.7 765.3,50.1ZM755.9,67.3 756.8,59.1 760.1,53ZM750.7,55.9 757.9,52 762.5,51.8ZM822.4,23.6 831.6,23.6 836,26.3ZM846.7,25.4 844,26.7 837,24.2ZM817.3,24.5 823.3,24.6 828.5,26.5ZM794.6,28.6 800.4,26.4 803,27.2ZM824.3,24.7 828,24 836.7,29.1ZM746.9,73.1 746.3,69.3 753.1,62.5ZM840.3,24.2 838.4,25.9 833.3,25.2ZM852.1,20.7 849.2,23.8 845.1,23.8ZM759,52.9 762.1,50.5 767.4,50.2ZM854.2,25.8 846.6,26.3 839.7,24.2ZM753.9,69 745.8,75.5 743.1,76.2ZM791.7,35.7 794,31.3 798.5,29.3ZM755,59.4 755.2,64.1 752.4,69.5ZM872.4,32.5 879.3,35.6 880.6,39.9ZM875.8,31.1 873.1,32.8 867.8,29.7ZM863,29.5 857.9,31.1 852.2,29.1ZM867.1,26.4 876,32.2 878.2,36.7ZM738.5,108.8 737.4,105.6 740,101.8Z" fill="rgb(165,22,24)" fill-opacity="0.70"/>
<path d="M744.1,77.7 745.5,71.6 747.8,70.1ZM793.8,30 795.6,27.9 802.5,30ZM825.7,22 820.8,23.3 814.3,23.1ZM760.6,57.4 755.9,61 748.6,63.6ZM746.2,74.8 746.9,67.4 751.5,62.1ZM840.8,20.7 849.8,23.9 853.4,27.2ZM872.5,35.1 878.3,36 879.6,39.3ZM767.1,44.3 769,42.1 774.8,42.2ZM734,116.9 732.1,114.4 735.9,106.8ZM734.7,127.7 735.7,119.1 738.1,112.7ZM840.6,25.7 847.7,27.2 854.5,32.6ZM772.7,53.2 775.5,48.6 777.3,48.2Z" fill="rgb(165,22,24)" fill-opacity="0.75"/>
<polygon points="740.8,127.4 740.7,126.1 741.2,124.3 741,122.2 741.5,120.3 740.7,118.6 742.3,116.9 741.6,115.1 741.3,113.3 743,111.7 742.5,109.9 743.2,108.3 742.4,106.4 743.8,104.9 745.3,103.4 744.6,101.5 744.7,99.8 745.8,98.3 745.7,96.5 746.6,94.9 747.8,93.5 746.9,91.4 747.3,89.6 749,88.4 749.3,86.7 750.5,85.3 749.7,83 752.3,82.4 753,80.8 753.5,79.1 754.6,77.7 755.5,76.2 756,74.5 757.9,73.6 758.5,72 758.2,69.6 759.7,68.5 761.5,67.7 763.2,66.8 763.1,64.4 764.4,63.3 766.3,62.7 766.2,60.1 769,60.4 769.4,58.3 770.7,57.1 771.4,55.2 773.6,55.1 775.3,54.3 776.7,53.3 777.6,51.5 779.6,51.3 780.3,49.3 781.5,47.8 782.7,46.3 785.6,47.6 786,44.9 788.4,45.5 790.1,44.9 791.2,43.1 792.9,42.5 794.2,41.1 795.8,40.1 797.7,40.1 799,38.5 801.5,39.9 802.4,37.1 804.8,38.5 806.2,37 807.6,35.4 809.6,35.9 811.6,36.4 813.5,36.5 815.1,35.5 816.7,34.3 818.4,33.5 820.3,34.1 822.1,33.6 823.9,32.9 825.7,33 827.6,34.2 829.4,34 831.1,32.4 833,33 834.8,32.3 836.6,32.3 838.4,33.8 840.2,33.5 842,34.1 843.8,33.6 845.7,33.6 847.6,33 849.4,33.6 851.3,33.9 853.6,33.6 855.4,34.4 856.7,34.5 857.1,32.8 855.8,32.6 854,31.7 851.8,31.6 849.8,31.1 848,30.7 846.2,30 844.4,29.1 842.5,28.3 840.5,29.6 838.7,27.4 836.8,27.1 834.9,27.3 833,26.7 831.1,28.2 829.2,28.8 827.3,28.6 825.2,27 823.5,29.6 821.5,28.5 819.7,29.6 817.6,28.1 815.6,28.1 813.9,29.2 812.1,29.9 810.1,30.2 808.3,30.7 806.8,32.5 804.9,32.6 803.1,33.4 801.2,33.6 799.7,34.9 797.3,34 796.2,36.3 793.5,34.7 791.8,35.6 790.2,36.9 788.8,38.3 787,38.9 785,39.3 784.1,41.4 782.8,42.9 780.2,42.3 778.5,43.1 777.7,45.4 775.8,45.9 774,46.8 773.5,49.2 770.5,48.4 769.7,50.4 768.1,51.5 767.3,53.4 766.4,55.1 764.5,55.8 763.9,57.8 761.4,58.1 760.1,59.4 758.4,60.4 758.9,63.3 757,64.1 756,65.7 755.2,67.4 754,68.8 751.7,69.5 752,71.9 750.1,72.9 750,75 747.7,75.8 746.5,77.3 745.6,78.9 745.6,81.1 744.3,82.5 744.8,84.7 743.8,86.3 742.6,87.8 742.4,89.7 742,91.5 742.4,93.6 739.4,94.6 740.4,96.8 738.4,98.2 738.3,100.1 738.5,102 739.1,104 738,105.7 738.2,107.6 736.9,109.3 738.1,111.3 738.4,113.1 737.8,114.9 738.1,116.7 738.4,118.5 738.3,120.4 738.3,122.4 738.7,124.4 738.9,126.3 739.4,127.5" fill="rgb(165,22,24)" fill-opacity="0.1575" />
<polygon points="740.6,127.4 740.3,126.2 740.3,124.3 740.5,122.3 740.7,120.3 740.9,118.6 740.8,116.8 741,115.1 741.3,113.3 741.7,111.6 741.3,109.8 742.3,108.2 742.8,106.5 743.1,104.8 743.1,103 742.9,101.1 743.4,99.4 744.6,98 744.1,96 745.3,94.5 745,92.6 745.6,90.9 746.8,89.4 747.3,87.8 748.6,86.4 748.7,84.5 749.3,82.8 750.4,81.4 751.4,79.9 751.5,78 752.7,76.6 753.7,75.1 755.3,74 755.6,72.2 757.2,71.1 757.9,69.4 758.7,67.8 759.6,66.2 761.1,65.1 762.4,63.9 763.6,62.6 764.6,61 766.3,60.2 767.5,58.9 768.5,57.3 770.2,56.6 771.1,54.9 772.6,53.9 774.1,52.9 775.4,51.6 776.3,49.9 778.3,49.5 779.4,47.9 781.1,47.2 782.4,45.8 784.1,45.2 785.6,44.1 787.6,44 788.8,42.4 790.6,41.9 792.2,40.9 794.1,40.9 795.3,39 797.4,39.4 798.8,37.9 800.6,37.5 802.5,37.3 804,36.1 805.8,35.6 807.7,35.6 809.5,35.5 811,33.9 813,34.3 814.7,33.8 816.6,33.8 818.4,33.3 820.2,33.3 822,32.7 823.8,32.3 825.7,32.7 827.5,32 829.3,31.7 831.1,32.6 833,31.9 834.8,32.1 836.6,31.8 838.5,32.4 840.3,32.3 842.1,32.6 844,32.2 845.8,32.6 847.6,32.7 849.5,32.6 851.5,33.1 853.6,33.5 855.5,33.7 856.8,34.2 857,33.4 855.7,33 853.9,32.3 851.7,32.1 849.7,31.8 847.9,31.3 846,30.9 844.2,30.1 842.3,30.5 840.5,29.6 838.6,29.7 836.7,29.9 834.8,29.8 833,28.9 831.1,29.3 829.2,29 827.3,29.3 825.5,30.3 823.5,29.3 821.7,30.5 819.9,30.6 817.8,29.8 816.2,31.4 814.4,31.7 812.5,32.1 810.6,31.9 808.7,32.1 807,33.3 805.3,33.9 803.4,34.2 801.5,34.5 799.6,34.8 798,35.7 796.5,37 794.6,37.3 792.6,37.5 791,38.4 789.6,39.8 788,40.8 786.3,41.6 784.6,42.4 783.1,43.5 780.9,43.5 779.9,45.3 778,45.8 776.7,47.3 775.1,48.2 773.3,48.8 771.9,50.1 770.9,51.8 769.1,52.6 767.7,53.8 766.5,55.2 765.3,56.6 764,58 762.4,58.9 761.9,61 760.5,62.2 758.7,63.1 758.3,65.2 756.9,66.4 755.8,67.8 754.9,69.5 754,71 752.5,72.2 751,73.5 750.7,75.4 749.1,76.6 748.8,78.5 748,80.2 747,81.7 746.3,83.4 745.9,85.2 744.7,86.7 744.2,88.5 743.1,90 743,91.9 742.9,93.7 741.5,95.2 741.2,97 740.6,98.8 740,100.5 740,102.4 739.8,104.1 739.2,105.9 739.3,107.7 739.6,109.6 739,111.3 739.5,113.2 738.6,114.9 738.6,116.7 739.2,118.6 739.3,120.4 739.4,122.3 739.6,124.4 739.4,126.2 739.9,127.5" fill="rgb(165,22,24)" fill-opacity="0.168" />
<path d="M745.6,95 744.8,99.2 739.2,103.3ZM832.2,32.7 836.9,29.4 844.9,29ZM782.7,46.7 771.7,51.5 767.9,50.2ZM748.9,83.2 750.3,74.7 755.3,69.4ZM776.1,49.3 771,55.5 766.9,55.8ZM811.5,33.8 818.2,31.8 825.1,31.8ZM795.4,40.1 802.4,32.6 808.4,31.3ZM783,44.4 777.7,48.6 774.2,49.1ZM737.2,125.6 736.8,120.7 740.4,111.5ZM741.6,131.1 738.2,124 738.4,117.6ZM775.2,53.8 772,58.1 765.1,59.2Z" fill="rgb(165,22,24)" fill-opacity="0.40"/>
<path d="M744,108.5 743.5,111.2 737.1,114.5ZM739.7,122.9 738.1,120.2 739.5,114.2ZM781.6,48.4 771,52.2 766.3,51.1ZM740.5,104.7 741,109.3 739.3,110.9ZM772.5,51.4 774.9,49.1 782.9,45.7ZM807.4,36.2 801.5,35.7 800,34ZM739.1,111.4 741.2,113 740,118.6ZM744.9,98.3 742.8,105.2 738.9,110.7ZM816.2,34.2 821.2,31 824.2,31.6ZM754.6,73 750.5,79.2 744.2,84.7ZM743.8,90.4 744.7,93.1 743.2,97.5ZM797.4,34.5 800.8,32.8 809,32.6ZM862.6,33.4 851.7,34.8 848.6,33.3ZM743.3,90.7 743.4,94.6 740.4,96.1Z" fill="rgb(165,22,24)" fill-opacity="0.35"/>
<path d="M854.4,29.4 851.3,33.8 844.7,35.8ZM772.4,47.3 775.4,45 780,45.7ZM816.1,31.4 818,30.1 823.9,31.6ZM825.5,30.5 830.9,29.4 833,30.8ZM758.4,58.7 765.6,56.8 771.2,58.7ZM834.1,31.9 829.9,33.7 828.2,32.8Z" fill="rgb(165,22,24)" fill-opacity="0.25"/>
<path d="M748.1,82 744.9,91.3 741.2,95.3ZM765.7,58.9 766.6,56.1 771.6,56.1ZM829.2,31.6 825.5,33.2 818.3,32.2ZM830.7,28.8 821.2,32.2 816.5,31.4ZM763.7,63.8 766.6,53.8 769.8,52.4ZM740.7,111.2 742.1,113.2 739.8,118.9ZM741.2,130.8 737.9,119.8 739.6,115.8ZM792.4,40.4 788.5,44.2 785.6,44.9ZM778.5,48.9 784.9,46.3 792.2,45.5ZM767.7,52.9 767.3,58.5 762,64.7ZM787.2,46.2 780.6,47.2 773.4,45.8ZM745.1,100.5 741.7,109.5 739,112.2ZM845.5,31.2 849,29.8 855.7,33.6ZM762.7,68.9 759.9,72.1 749,75.7Z" fill="rgb(165,22,24)" fill-opacity="0.30"/>
<path d="M811.5,32.5 816.8,28.6 824.5,28.6ZM836.7,30.3 838.9,28.9 844.3,28.8Z" fill="rgb(165,22,24)" fill-opacity="0.45"/>
<path d="M778,48.4 781.2,44.8 790.5,42.3ZM862.9,36.9 852.2,36.5 847.5,33.2ZM763.9,64.3 763.5,60.7 767.9,55.3Z" fill="rgb(165,22,24)" fill-opacity="0.20"/>
<polygon points="881.5,39.1 882.5,38.8 883.1,39.9 884.4,40 884,42.9 886.1,41.4 886.1,43.2 887.4,43 888.1,43.9 887,47.2 889.1,46 890.3,46 889.7,48.5 888.9,51.1 891.1,49.9 891.2,51.3 893,50.6 893.5,51.5 892.8,53.9 895,52.7 896,53.1 895.7,54.9 896.3,55.6 899.2,53.9 900.3,54.2 900.4,55.5 899.3,58 900.9,57.8 901.1,58.9 901.2,60.1 903.2,59.6 905.3,58.9 902.3,63 906.1,60.9 904.4,63.7 906.5,63.1 908.4,62.8 907.7,64.7 909.1,64.8 906.7,67.9 907,68.9 911.4,66.7 911.6,67.8 910.4,69.9 912.5,69.6 910.2,72.3 912.4,71.9 915.1,71.4 915.2,72.5 915.7,73.3 914.7,75 915.9,75.4 914.1,77.6 913.5,79 915.6,78.9 914.6,80.5 918.4,79.6 915.4,82.2 917.9,82 919.2,82.4 919,83.6 917.7,85.2 920.5,85 921.7,85.6 918.9,87.8 920.9,88 918.7,89.8 922.1,89.5 923.9,89.9 923.2,91.2 919.7,93.4 923.7,93 924.7,93.7 921.5,95.7 922,96.5 924,96.9 924.3,97.8 923.7,99 922.8,100.2 923.1,101 923.9,101.8 924.1,102.7 926.9,103.1 925.3,104.4 926.9,105.1 927.5,106 924.7,107.4 928.7,107.7 927.5,108.9 926.4,110 927.1,110.9 927.5,111.8 928.7,112.6 928.5,113.7 930.7,114.7 930.3,115.8 931.1,116.4 932.7,116.3 933.7,115.6 933.2,114.6 935.2,113.3 934.1,112.2 933.2,111.2 936.3,109.9 934.8,109 935.1,107.9 934.1,107 937.5,105.5 936.5,104.5 933.9,103.9 938.3,102 933.6,101.9 933.4,100.8 937,99 936.3,98 935,97.2 934.2,96.3 932,95.8 936.2,93.6 933.3,93.3 931.5,92.7 932,91.5 933.7,89.8 931.4,89.4 932.2,88.1 932.5,86.8 932.4,85.7 933.1,84.3 933,83.2 931.1,82.8 930,82.1 928.4,81.6 931.3,79.1 929,79 926.1,79.2 927,77.6 925.4,77.2 926.4,75.5 926.4,74.3 926.8,72.8 922.9,73.8 926.8,70.4 923.8,70.8 922.9,70.1 923.2,68.7 921.8,68.3 919.9,68.3 922.5,65.3 920.6,65.3 918.6,65.3 921.3,62.1 919.8,61.9 916.2,63.2 916.4,61.7 915.7,61 917.6,58.1 914,59.6 916.3,56.3 914.7,56.2 914.9,54.6 912.7,55.1 912,54.3 910.6,54.1 909.3,53.9 909.8,51.9 909.7,50.5 908.3,50.4 907.5,49.6 907,48.7 907.7,46.3 905.4,47.1 906,44.8 905,44.3 902.5,45.5 903.1,43.2 901.1,43.9 901.4,41.8 898.3,43.9 899,41.2 897.7,41.1 895.7,42 896.6,39 896.2,37.7 893.6,39.4 892.5,39.2 891.1,39.4 890.3,38.6 889.1,38.5 888.5,37.5 887.9,36.5 885.8,37.6 885.3,36.1 884.3,35.7 883.1,36.2" fill="rgb(165,22,24)" fill-opacity="0.1575" />
<polygon points="882,38.1 882.8,38.3 883.7,38.9 884.7,39.5 885.6,40.3 885.9,41.6 886.9,41.9 887.1,43.5 888.4,43.4 888.8,44.5 890.1,44.4 891.2,44.7 890.8,47 892.4,46.5 892.8,47.5 893.1,48.9 894.8,48.3 896,48.4 895.8,50.3 896.3,51.2 896.9,52 897.9,52.4 899.8,51.7 900.4,52.5 900.6,53.9 900.4,55.5 902,55.3 902.2,56.5 903.9,56.2 904.5,57 904.5,58.4 904.8,59.4 906.2,59.5 907.3,59.9 907.2,61.2 907.3,62.5 908.9,62.4 909.4,63.3 910,64.1 911.5,64.2 910.7,66.1 911.6,66.6 912.5,67.2 913.5,67.7 913.9,68.6 913.1,70.3 914.2,70.8 915.6,71 915.2,72.5 915.8,73.2 917.2,73.6 916.5,75.1 917.1,75.9 919.2,75.8 919.6,76.7 918.2,78.6 918.5,79.5 920.1,79.8 921.5,80.3 921.9,81.2 921.1,82.6 922.7,83 921.3,84.7 923.2,84.9 922.8,86.2 922.4,87.4 923,88.2 923.4,89 923.8,89.9 923.2,91.2 924,91.9 925.9,92.3 926.4,93.2 926.3,94.3 926.7,95.2 926.9,96.1 925.8,97.4 925.6,98.5 927.6,99 927.9,99.9 927.2,101.1 928,101.9 927.3,103.1 929.2,103.7 927.3,105 929.1,105.7 929.2,106.7 928.5,107.8 929.7,108.6 928.8,109.7 929.2,110.6 930,111.5 929.9,112.5 931,113.5 930.5,114.7 931.3,115.7 931.4,116.4 933,116.3 932.5,115.6 932.9,114.6 933.4,113.4 932.9,112.3 933.3,111.2 932.8,110.3 933.4,109.2 932.9,108.2 932.8,107.2 933.9,106 932.8,105.1 934.1,103.9 932.4,103.1 932.2,102.1 933.6,100.8 932.6,99.9 933.7,98.6 931.1,98.2 931.3,97.1 932,95.8 930.9,95 931.5,93.8 931.8,92.6 931.8,91.5 929.4,91.2 929.5,90.1 930.5,88.7 929,88.1 928.8,87.1 927.9,86.3 928.2,85.1 926.7,84.5 926.5,83.5 926,82.6 927.6,80.8 926.6,80.1 926.7,78.9 926,78 924,77.9 923.6,76.9 923.9,75.6 924,74.4 922.7,73.9 922.1,73.1 921.4,72.3 921,71.3 921.7,69.6 920,69.5 919.7,68.4 918,68.3 919.1,66.3 917.5,66.1 916.9,65.3 916.5,64.3 916.2,63.2 916.1,62 915.9,60.8 914.7,60.4 913.1,60.3 911.9,59.9 911.7,58.8 911.4,57.7 910.2,57.3 910.8,55.4 909.2,55.4 908.5,54.6 908.2,53.4 907.5,52.7 906.6,52.1 906.7,50.5 904.3,51.4 904.5,49.6 902.8,50 902.7,48.6 902.7,47 900.7,47.6 901.2,45.5 900,45.2 898,46 898.5,43.6 897.7,42.9 896,43.4 895,42.9 893.9,42.6 893.9,40.9 893.2,40.1 891.5,40.6 891.1,39.3 889.3,40.2 889,38.7 887.9,38.4 886.9,38.1 885.8,37.6 884.6,37.3 883.7,36.7 882.9,36.6" fill="rgb(165,22,24)" fill-opacity="0.273" />
<path d="M934.6,107.2 935.3,109.8 933.2,115.2ZM878.3,37.9 882.2,38.7 891.9,44.1ZM927.2,89.3 919.7,82.3 919.7,78.2ZM932,104.2 932.7,111.6 930.4,118.7ZM896.5,54.7 903.2,58 907.6,64ZM929.5,118.6 927,116.4 928.1,108.8ZM923.1,70.9 927.7,76.8 926.2,79.5ZM917.9,77.6 922.5,82.9 923.3,85.9ZM910.2,59.4 906.9,58.6 904.2,52.3ZM935.1,117.5 929.6,107 930.3,103.1Z" fill="rgb(165,22,24)" fill-opacity="0.60"/>
<path d="M891.4,45.6 898.2,48.2 904.9,52.5ZM901.8,52.2 908,55.6 912.3,62.6ZM906.2,56.3 912.7,59 917.7,66.2ZM926.9,93 929,94 928.3,98.9ZM929.4,87.2 929.9,92.7 927.6,93.6Z" fill="rgb(165,22,24)" fill-opacity="0.30"/>
<path d="M893.4,49.6 900.8,53.1 902,55.5ZM911.1,61.2 906.9,59.4 904,55.3ZM911.6,63.1 915,65.2 917,68.7ZM904.8,56.7 898.6,50.1 896,45.5ZM888.3,40.5 895.7,44.1 898.8,49.4ZM908.4,66.4 913.3,69.8 916.9,77.2ZM930.6,94.3 925.7,89.7 922.2,81.6ZM898.4,48 892.8,45.4 887.2,40.4ZM931.1,99.2 925.6,93.6 924.9,88.3ZM930.3,105.8 931.2,97.6 933.2,94.5ZM884.5,40.9 894.7,43.9 896.4,47.1ZM897.3,51.7 893.9,51.3 892.8,47.5ZM893,43.1 884.7,40.8 880.5,37.5ZM887.7,42.6 883.7,41.8 882.3,39.8Z" fill="rgb(165,22,24)" fill-opacity="0.55"/>
<path d="M928.5,110.1 926.9,100.7 929.6,97.4ZM915.9,70.2 914,64.8 915.8,61.9ZM909,64.4 915.4,69.4 917.4,73.7ZM922.4,75 927.2,79.7 927.5,84.4ZM915.6,65.7 912.4,63.2 906.6,52.8ZM886.8,39.5 882.4,38 880.1,31.9ZM930.8,96 934.3,98.7 935.1,107.9ZM909.8,59.2 913.9,62.3 916.4,71.7ZM912,66.5 907.9,63.3 907.5,59.5ZM928.7,100 927.1,90.3 927.5,85.4ZM928.1,87.6 924.1,85.9 923,80.3Z" fill="rgb(165,22,24)" fill-opacity="0.70"/>
<path d="M902,49.4 908.1,53.5 911,57.8ZM917.5,68.4 912.1,60.1 911.1,55.6ZM925.4,95.7 922.2,90.1 922.5,86.1ZM930.8,89.7 927.5,86.2 927.8,81.7ZM931.9,97.3 934.1,98.1 937,103.9ZM909.8,59.2 907.6,57.2 906.2,51ZM892.2,47 895.9,48.2 903.9,57.4ZM899.8,51.6 894.5,49.3 894.2,46ZM904.1,51.9 900.2,49.5 897.8,42.8ZM909.5,60.7 912.3,63.2 914.8,71.7ZM899.9,47.7 904.7,52.2 906.1,57.8ZM899,51.2 895.9,51 893.8,47.8ZM904.1,47.1 898.2,47.9 890.1,43.6ZM902.4,54.2 908.4,54 915.9,59.5Z" fill="rgb(165,22,24)" fill-opacity="0.45"/>
<path d="M919.9,66.5 913.5,65.6 909.5,62.1ZM909.2,56.3 914,61 913.3,64.7ZM898.3,53 905,55.4 911.4,60.2ZM930.5,94.6 934.4,99.3 933.8,103.4ZM937.7,119.5 934.9,115.8 934.6,111.4ZM878.4,30.8 882.4,33.6 886.4,44.2ZM895.8,52.6 901.3,53.5 908.8,57.3ZM888.9,42.3 884.5,41.1 882.2,38.2ZM916.5,71.8 911.5,69 910.5,65.9ZM929.5,85.1 926.3,83.9 920.2,76.7ZM895.5,48.8 899.1,50.5 906.3,58.2Z" fill="rgb(165,22,24)" fill-opacity="0.65"/>
<path d="M918,64.2 919.4,68.8 919.3,74ZM887.8,41.5 896.8,45.1 900.8,49.7ZM926.1,90.3 924,87.9 924.4,84.4ZM918.3,66 922.3,75.4 922.1,79.8ZM933.5,110 928.3,105.3 927.6,99ZM922.7,70.6 924.7,73.6 924.7,78.5ZM926.9,93 924.8,90 924.8,83.3ZM923.3,83.6 916,80.1 915.3,76.8ZM926.3,91.2 929.9,92.4 932.7,97.5Z" fill="rgb(165,22,24)" fill-opacity="0.35"/>
<path d="M925.6,101.1 928.1,102.6 931.2,108.6ZM897.5,44.3 901.4,50.1 902,53.1ZM906.2,55.1 903.6,54.4 902.4,47.7ZM900.1,45.3 903.8,46.4 905.1,48.8ZM885.5,36.9 888.2,38.4 890.9,42.9ZM914.5,73.6 908.9,71.7 907.4,67.7ZM898,48.8 901.9,51.3 902.4,53.8ZM921.4,72.2 922.5,75.2 921.6,79.3ZM898.7,51.8 896.1,52.7 893.1,48.5ZM891.8,35.9 896,37.8 897.9,43.3Z" fill="rgb(165,22,24)" fill-opacity="0.50"/>
<path d="M895.4,45.2 890.7,41.6 890.2,36ZM927.5,92.7 921.1,86.8 920.6,82.8ZM887.5,39.8 895.8,39.2 903.3,41.5ZM903.4,46.4 899.2,49.2 893.6,47.6ZM930.7,101 931.9,107.7 928.6,112.3ZM882.5,33.6 886.7,35.5 893.1,43.5ZM930.4,98.1 931.1,101.7 927.6,113.4ZM886.7,41.4 891.6,39.7 894.5,42.5ZM920.4,77.8 927.2,87.7 927.4,91.5Z" fill="rgb(165,22,24)" fill-opacity="0.40"/>
<polygon points="930.5,111.5 930.4,112.1 930.2,112.9 930.6,113.8 929.4,114.7 929,115.4 929.6,116.2 929.3,116.9 927.7,117.7 928.4,118.5 927.6,119.2 929.2,120 928,120.7 927.9,121.4 928,122.2 929.7,123 926.8,123.6 929,124.5 929.6,125.3 927.9,125.9 929.1,126.7 926.9,127.3 927.4,128.1 927,128.8 926.1,129.4 926,130.1 925.9,130.9 928.3,131.9 924.6,132.2 926.1,133.1 926.9,134 926.2,134.6 924.6,135.1 925,135.9 925,136.7 924.9,137.4 925.9,138.4 923.7,138.6 924.9,139.6 924.6,140.3 926,141.4 924.7,141.9 922.4,142 923.5,143.1 923.9,144 924.2,144.8 922.1,145 924.8,146.6 922.9,146.8 923.7,147.8 920.6,147.5 924.2,149.6 923.6,150.2 923.6,151 919.6,150.3 923.1,152.4 920.3,152.1 921.6,153.4 919.4,153.3 921.7,155.1 921.2,155.7 918.3,155.2 918.9,156.3 919.4,157.4 920.3,158.6 919.7,159.2 917.2,158.8 917.3,159.6 918.4,161.1 918.9,162.2 916.6,161.8 915,161.8 914,162 915,163.5 916.8,165.4 915.8,165.7 915.2,166.2 915.7,167.4 913.9,167.2 912.3,167.1 912.2,167.9 913.7,169.8 912.6,169.9 913.1,171.2 912.3,171.6 910.8,171.5 911.2,172.7 909.5,172.4 910.3,173.9 910.8,175.3 910.8,176.2 910.2,176.7 908.7,176.6 909.1,178 908.4,178.6 907.7,179.1 907.7,179.8 909.9,181.7 910.6,181.5 910.7,180.5 912.2,180.6 912.2,179.4 913.6,179.5 914.3,179.1 914.6,178.2 916.5,178.6 916.6,177.7 917.4,177.3 916.8,175.8 918.3,175.9 918.7,175.1 919.3,174.6 920.4,174.3 921.2,173.8 920.4,172.4 922.7,172.8 921,170.8 922.4,170.7 922.8,170 922,168.5 922.3,167.7 923.4,167.4 922.8,166.1 922.6,165.1 924.2,165.1 925.6,164.9 924.2,163.2 925.1,162.8 928.3,163.5 927,161.9 928.1,161.5 929.3,161.2 927.7,159.5 926.4,158 927.3,157.5 930.4,158 928.4,156.3 929.9,156 931.6,155.8 929.1,153.9 931.3,153.9 928.7,152 928.9,151.3 932.5,151.7 932,150.6 932.7,150 932.1,148.9 933.6,148.5 932.8,147.4 933.7,146.8 934,146.1 933.4,145 935.5,144.7 932.9,143.2 935.3,143 936,142.3 935.1,141.2 933.8,140.1 936,139.7 936.2,138.9 934.1,137.7 933.2,136.7 937.1,136.6 936.6,135.6 936.6,134.8 933.4,133.5 934.2,132.8 935.7,132.2 935.8,131.4 935.3,130.5 937.3,129.9 935.7,128.9 938.3,128.3 936.3,127.3 938.2,126.6 936.7,125.7 937.1,124.9 937.1,124.1 938.2,123.3 937.6,122.4 935.4,121.6 935.4,120.8 936.9,120 935.2,119.2 933.9,118.4 935.4,117.6 934.9,116.8 935.6,115.9 934.6,115.2 933.2,114.4 933.1,113.6 933.4,112.7 933.3,111.9 932.9,111.3" fill="rgb(165,22,24)" fill-opacity="0.1575" />
<polygon points="931,111.5 931.2,112 931.3,112.8 930.6,113.8 930.6,114.6 930.5,115.4 929.9,116.2 930,116.9 929.6,117.7 929.4,118.4 930.8,119.2 929.3,120 930.1,120.7 930.9,121.5 930.3,122.2 930.6,123 930.8,123.8 929.6,124.5 928.9,125.2 928.8,126 928.7,126.7 928.5,127.4 929.6,128.3 930.3,129.1 929.1,129.8 930.2,130.7 929.4,131.3 927.9,131.9 928.8,132.8 928.1,133.4 928.2,134.2 929.5,135.2 928.9,135.9 929,136.7 928.4,137.3 927.3,137.9 926.8,138.6 927.9,139.6 927.7,140.3 928.2,141.2 927,141.7 926.6,142.4 926.7,143.2 925.8,143.7 927.3,145 926.5,145.5 926.7,146.4 926.4,147.1 926.3,147.9 924.7,148.2 925.9,149.4 924.6,149.7 924,150.3 924.3,151.2 922.8,151.5 923.9,152.7 923,153.2 923.2,154.1 922.2,154.5 922,155.3 921.2,155.7 922.5,157.1 922.3,157.9 921.2,158.2 920.8,158.9 919.6,159.1 920.9,160.6 919.2,160.6 918.9,161.3 918.8,162.1 918.6,162.9 917.4,163.1 918.8,164.8 918.2,165.4 917.7,165.9 917.6,166.8 916.8,167.2 915.9,167.5 915.1,167.9 915.5,169.2 915.1,169.8 913.3,169.5 913.8,170.8 913.8,171.7 913.7,172.6 912.4,172.6 912.1,173.3 912.3,174.5 911.2,174.6 911.7,176 910.5,176 910.8,177.3 909.6,177.3 910,178.7 908.8,178.9 908.5,179.8 908.3,180.3 909.1,181 910,181 910.7,180.5 910.8,179.4 911.4,178.8 911.9,178.1 913,178 913.9,177.6 914.5,177.1 914.4,176.1 915,175.5 915.7,175 915.8,174.1 917.9,174.6 916.7,172.7 918.1,172.8 918.7,172.2 919.4,171.7 918.9,170.4 920.3,170.3 919.6,168.9 919.6,168 920.3,167.5 921.9,167.5 921.8,166.5 923.1,166.3 923.2,165.4 923.3,164.6 922.4,163.2 923,162.6 923.5,162 924.9,161.8 923.8,160.3 924.6,159.8 925,159.2 925.3,158.4 925.2,157.5 927,157.4 926.8,156.5 927.7,156 928.4,155.4 927,153.9 927.9,153.4 927.4,152.4 928.7,152 929.8,151.6 930,150.8 929.2,149.7 928.6,148.6 930.1,148.3 929.4,147.2 930.2,146.6 930.4,145.9 929.8,144.9 931.2,144.4 931.9,143.8 932.4,143.1 931.8,142.1 930.8,141 931.9,140.5 932.6,139.8 932.9,139.1 933.4,138.4 933.6,137.6 931.9,136.4 932,135.7 933.2,135.1 934.2,134.4 932.4,133.3 932.5,132.5 934.2,132 933.4,131.1 934.2,130.4 932.9,129.4 933.9,128.7 933.7,127.9 933.5,127.1 933.4,126.3 934,125.5 934.9,124.8 934.5,124 933.2,123.1 934.4,122.4 935.4,121.6 935.1,120.8 935.1,120 934.2,119.2 933.4,118.4 932.9,117.6 934,116.8 933.3,116 933.8,115.2 933.1,114.5 932.4,113.6 932.9,112.7 932.5,111.9 932.1,111.4" fill="rgb(165,22,24)" fill-opacity="0.21" />
<path d="M905.1,183.4 907,176 909.8,174.2ZM927.5,150.1 928.5,156.8 924.9,164ZM933.7,129.9 932.9,134.5 925.7,142.2ZM925.8,162.1 922.4,165.8 913.6,170.4ZM932,125.6 930.6,121 932.2,119Z" fill="rgb(165,22,24)" fill-opacity="0.25"/>
<path d="M916.5,171.3 914.3,177.7 911.5,180.2ZM917.7,160.8 917.4,163.7 912,167.7ZM908.5,180.3 909.4,175.9 914.8,167.7ZM923,163.9 922.6,167.2 916.6,174.3ZM931.4,117.8 931.5,122 928.9,123.7ZM932.9,143.2 930.1,139.3 927.8,129.1ZM928,139 927,134.1 929.1,128ZM930.9,152.8 924.1,159.6 919.8,160.7ZM906.2,179.5 911.5,168.9 915.4,167.2ZM914.5,171.3 911.9,175.5 907.1,177.3ZM923.1,152.4 921.8,158.3 918.6,163.7ZM925.5,150.3 926.6,154.7 925.2,158ZM912.1,170.6 911.5,179.3 907.8,182.6ZM925.5,168.6 923.2,172.1 912.8,174.4ZM912.8,179.9 909.6,184 907.4,183.7ZM933,120.2 929.9,109.9 931.1,105.3ZM921.2,159.8 921.6,162.1 917.9,167.1Z" fill="rgb(165,22,24)" fill-opacity="0.45"/>
<path d="M935.8,116.7 932.7,114.1 931.7,110.4ZM930.7,135.9 927.7,144 922.3,148.8ZM911.2,177.2 912.5,172.5 916.3,171.9ZM909.3,178.5 912.1,173.8 914.8,172ZM923.6,156.8 921.3,163.5 918.7,166.5ZM929.9,138.1 929.5,133.8 931.4,129.6ZM916.2,173.1 916.2,170.2 920.4,167ZM931.2,111.8 934.5,115.9 934.1,120.3ZM928,144.5 926.3,138.7 928.5,131.6ZM917.8,175.4 915.3,180.4 912.5,181.9ZM926.7,140.7 925.8,136.5 928.7,133.8ZM929.4,144.2 930.3,147 926.3,155.9Z" fill="rgb(165,22,24)" fill-opacity="0.35"/>
<path d="M924.8,161.8 924.7,165.6 922.7,167.9ZM916,165.7 915.5,169.4 913.4,171.5ZM933.4,112.8 934,114.8 931.7,119.3ZM928.8,139.4 927,136.3 929.6,132.5ZM913.1,175.4 911.3,170.4 913.8,165.7ZM935.1,107.3 934.9,112.7 932.4,116.4ZM929.2,145.9 926.8,137.3 929.1,132.3ZM923.1,163.5 920.2,168.8 913.7,174.8ZM925.4,157 923.8,163.2 921.9,165.3Z" fill="rgb(165,22,24)" fill-opacity="0.50"/>
<path d="M927.3,150.2 927.9,153.5 925.2,165.7ZM928.8,136.9 928.7,134.1 933.9,129.5ZM927.4,144.2 927.7,139.3 929.3,136.7Z" fill="rgb(165,22,24)" fill-opacity="0.55"/>
<path d="M922.2,160.8 922.2,163.5 919.2,167.3ZM919.3,167.3 918.6,171.7 910.5,179.6ZM932.6,146.9 931.8,143.9 935.6,136.8Z" fill="rgb(165,22,24)" fill-opacity="0.30"/>
<path d="M937.2,131.7 934.4,140.9 930.1,143.5ZM930.5,125.3 931.9,119.1 934.3,117.8ZM924.6,149.6 925.4,151.9 923.2,157.5ZM922,165.5 920.2,170.6 918.6,171.4ZM932.7,133.8 930.4,127.7 930.7,120.1ZM910.7,174.7 915.3,166.8 920.8,163.9ZM932.6,121.8 930.2,114.5 930.8,108.8ZM931.5,120.7 929.9,117.8 931,111.5ZM922.9,159.8 923.3,151.7 925.6,147.6Z" fill="rgb(165,22,24)" fill-opacity="0.40"/>
<polygon points="882.8,202.4 882,202.9 881,203.8 879.3,203.8 878,204.2 876.9,204.7 876,205.8 874.6,205.8 873.1,205.5 872.4,206.9 870.5,205.6 869.8,207.2 868.6,207.5 866.9,206.7 866,207.8 864.8,208.2 863.6,208.5 862.3,208.4 861.1,208.8 860.2,210.2 859,210.4 858,211.7 856.6,211.3 855.1,210.2 853.8,210.1 852.7,210.7 851.5,211.3 850.3,211.3 849.3,212.8 847.8,211.3 846.8,213.4 845.4,212.4 844.3,213.8 843.1,214.2 841.6,212.1 840.5,213.8 839.3,214.5 837.9,212.3 836.8,214.2 835.5,213.1 834.2,213.1 833,213.2 831.7,212.9 830.5,214.7 829.2,214.5 828,213.1 826.8,212.5 825.6,212.3 824.3,212.6 823.1,212 821.7,213 820.6,212.2 819.4,211.6 817.9,213.3 816.8,212 815.8,210.8 814.5,211.1 813.2,211 811.7,212.2 810.6,211.5 809.2,211.8 808.2,210.6 806.8,211.1 805.6,210.6 804.7,209.1 803.5,209.1 802.1,209.4 800.9,208.8 799.8,208.3 798.5,208.2 797.6,206.9 795.9,208 795.4,205.8 793.6,207.1 793.4,204.4 792.1,204.2 791.2,203.2 789.3,204.3 788.2,203.7 787.3,202.8 786.1,202.4 785,201.8 783.8,201.5 783.3,199.8 781.4,200.7 780.5,199.7 779.2,199.5 778.9,197.5 777.5,197.4 776.6,196.7 775,196.8 774,196 772.9,195.4 771.9,194.5 770.1,194.5 769.1,193.6 768.5,193 767.4,194.4 768.2,194.8 769.2,195.6 769.8,197.2 771.3,197.6 772,198.8 772.8,200 773.7,200.9 774.8,201.6 775.8,202.4 777.1,202.9 778.5,203 779.3,204.2 780,205.7 781.7,205.2 782.4,206.7 783.9,206.6 785.1,207.1 786.1,208.1 787.5,208.2 788.4,209.3 789.6,209.9 790.5,211 792.2,210.4 793.1,211.6 794.7,211 795.5,212.9 796.5,213.7 798,213.6 799.2,214.2 800.5,214.5 801.9,214.4 802.9,215.6 804.2,215.7 805.9,214.6 807,215.4 807.9,217.3 809.7,215.6 810.9,215.9 812.2,216 813.5,216.4 814.7,217 816.1,216.4 817.2,217.9 818.5,218.5 819.8,218.9 821.1,218.8 822.4,219 823.7,219.9 825.2,217.5 826.4,218.4 827.7,219.8 829,219 830.3,220.1 831.7,218.2 833,220 834.3,219 835.6,219.9 836.9,218 838.3,219 839.5,217.4 840.8,218.2 842.2,219.2 843.5,218.5 844.7,217.2 846.2,218.5 847.5,218.7 848.7,217.8 850.1,217.9 851.5,218.4 852.6,217.1 853.9,216.6 855.1,216.3 856.6,217 857.6,215.5 859,215.5 860,214.4 861.8,215.8 862.9,214.8 864,213.9 865.1,213.3 866.2,212.4 867.4,211.8 868.8,211.8 870.5,212.6 871.3,211.1 872.9,211.7 873.7,210.1 874.8,209.5 876.3,209.6 877,207.9 877.9,206.9 879.4,207.1 880.4,205.8 881.6,204.9 882.7,204.2 883.5,203.7" fill="rgb(165,22,24)" fill-opacity="0.1575" />
<polygon points="883.1,203.1 882.2,203.3 881.1,204 879.7,204.5 878.4,205.1 877.4,205.7 876.2,206.3 875,206.7 873.8,207 872.6,207.6 871.3,207.6 870,207.8 869,208.7 867.9,209.3 866.4,208.9 865.4,209.9 863.9,209.5 863.1,210.9 861.8,211.2 860.7,211.7 859.2,211 858.1,211.9 856.7,211.4 855.5,212.1 854.4,213 853.2,213.3 851.9,213.2 850.7,213.7 849.4,213.8 848.1,213.4 846.9,213.9 845.6,213.8 844.4,214.1 843.1,214.4 841.9,214.8 840.6,214.8 839.3,214 838.1,214.8 836.8,214.9 835.5,214.6 834.3,215.5 833,215 831.7,215.2 830.4,215.4 829.2,214.6 827.9,214.7 826.6,215.2 825.4,215 824.2,214 822.8,214.6 821.7,213.7 820.4,213.8 819.1,214.1 817.8,214 816.6,213.8 815.3,213.3 814.2,212.7 812.9,212.5 811.6,212.8 810.4,212.5 809.2,211.8 807.8,212.2 806.6,211.8 805.5,211 804.3,210.5 803,210.5 801.6,210.7 800.8,209.3 799.2,209.9 798.2,208.9 797,208.6 795.7,208.6 794.9,207.1 793.6,207 792.1,207.2 791,206.6 789.8,206.2 788.7,205.5 787.8,204.6 786.7,204 785.8,202.9 784.4,203 783.2,202.6 782.5,201.3 781.1,201.2 779.9,200.7 778.7,200.2 777.7,199.5 776.9,198.4 775.7,198 774.7,197.2 773.7,196.5 772.5,195.9 771.3,195.3 769.9,194.8 768.9,194 768.1,193.4 767.7,193.9 768.5,194.4 769.5,195.3 770.4,196.6 771.6,197.2 772.7,197.8 773.7,198.6 774.6,199.7 775.5,200.6 776.6,201.2 777.7,201.8 778.8,202.5 779.7,203.5 780.9,204 782.3,204.1 783.1,205.3 784.5,205.5 785.3,206.7 786.5,207.2 787.9,207.2 789.1,207.7 790.2,208.5 791.1,209.7 792.3,210.1 793.8,209.9 794.8,210.9 796.3,210.7 797.4,211.3 798.4,212.3 799.8,212.2 801.2,212.1 802.4,212.5 803.5,213.6 804.9,213.2 805.9,214.6 807.4,213.9 808.6,214.2 809.7,215.5 811.1,215.2 812.3,215.8 813.5,216.3 814.9,216.1 816.1,216.3 817.4,216.8 818.7,216.9 820,216.6 821.2,217.6 822.6,217.1 823.9,217.1 825.2,217.7 826.5,217.7 827.8,217.6 829.1,217.2 830.4,217 831.7,217.1 833,217.4 834.3,218.2 835.6,217.5 836.9,217.9 838.2,217.5 839.4,216.7 840.7,216.9 842.1,217.6 843.4,217.3 844.6,216.8 846,216.8 847.3,217.1 848.5,216.2 849.8,216.4 851.2,216.5 852.2,215.1 853.7,215.7 855,215.6 856.1,214.5 857.6,215.2 858.6,214 859.9,213.9 861.3,214 862.4,213.2 863.7,212.9 864.8,212.3 866.2,212.2 867.4,211.9 868.4,210.7 869.9,211.1 870.9,210.1 872.3,210 873.5,209.7 874.7,209.1 875.8,208.5 876.7,207.3 877.8,206.6 879.1,206.4 880.1,205.4 881.5,204.7 882.5,204 883.3,203.5" fill="rgb(165,22,24)" fill-opacity="0.105" />
<path d="M862,214.8 865.4,210.4 872,206.3ZM866.2,214 864.5,214.9 858.9,213.4ZM810,215.5 803.4,214.8 802.3,211.7ZM841.8,214.7 839.4,216.7 829.3,217.5ZM782.6,205.8 775.1,203.9 771.4,200.3ZM850.3,216.8 851.5,214.4 857,214.4ZM797,209.9 804.3,210.4 805.6,213.5ZM816.8,214.3 806.8,214 803.6,212ZM868.9,205.1 873.3,204.2 875,206.7ZM813.5,217.3 822,213.7 826.7,215.3ZM837.3,215.7 845.5,213.8 851.6,215.2ZM793.7,209.6 789.9,209.6 785.2,204.3ZM793.5,208.6 791.1,207.9 788.8,203.9ZM813.4,212.3 804.6,213.5 799.6,211.9ZM842.2,219.2 837.9,219.9 834.2,216.1ZM854,217.6 849.7,217.7 840.3,213.9ZM801.7,214 805.7,212.3 810.5,213.3Z" fill="rgb(165,22,24)" fill-opacity="0.15"/>
<path d="M809.9,213.2 814.1,212.7 825.7,215.1ZM784.2,205.9 775.9,201.6 771.7,197.1ZM835,216.9 837.4,215.4 841.3,216.9ZM767.9,192.8 774.2,199.9 776.4,204.5ZM800,209.5 804.6,210.6 805.8,212.5ZM833,218.5 826.7,219.4 817.2,218.5ZM824.9,221.5 817.3,213.8 815.5,209.5Z" fill="rgb(165,22,24)" fill-opacity="0.20"/>
<path d="M834,219.5 843.6,213.4 847.3,212.8ZM840,219.9 830,217.2 826,214.7ZM797.6,206.6 802.8,210.6 805.6,215.1ZM851.1,212.9 852.8,211.5 857.9,213.6ZM819.5,215.2 825.1,214.6 828.6,215.9ZM794.6,207.6 791.9,208 784.8,205.3ZM806.3,213.8 814.6,211.7 819.1,213.6ZM852.8,215.5 854,213.2 859.6,214.8ZM768,192.2 772.3,193 772.6,196.2ZM778.4,199.4 776.3,200.5 772.8,196.9ZM794.6,205.3 799.5,209 801.7,213.1Z" fill="rgb(165,22,24)" fill-opacity="0.25"/>
<path d="M782.8,201.2 785.2,201.4 787.5,207.2ZM834.7,216.9 828.8,218.4 821,215.1ZM788.1,206.4 792.7,209.7 793.6,213.9Z" fill="rgb(165,22,24)" fill-opacity="0.10"/>
</g>
<rect x="720" y="10" width="230" height="220" fill="url(#mesh)" opacity="0.3"/>
</g>
<defs><clipPath id="cc"><polygon points="128.8,483.2 128.4,479.9 128.8,477 129.6,474.4 132,472.1 132.1,469.1 133.3,466.3 135.4,464 136.3,461.8 135.9,459.4 137.1,458.1 139.1,457.6 140.5,456.3 141.3,454.1 143.8,453.3 144.7,451 146.7,450 147,447.5 148.7,446.8 149.6,445.1 151.6,444.1 154.2,445 157.5,445.1 160.8,446.4 164.3,447.6 167.9,448.7 171.6,450.8 175.6,452.1 180.1,451.7 183.8,454.1 187.9,455.4 192.2,455.9 195.7,457.2 198.8,457.5 201.4,458.9 204.1,458.3 206.6,459.3 209.7,459.3 211.5,461.6 214,462.7 216.5,463.9 219.1,465.3 221.9,466.4 224.1,469.1 226.4,470.9 228.8,471 230.6,472.6 233,473.1 235.8,472.7 239.2,472 242.5,469.9 246.4,468.6 250.2,466.5 253.5,462.5 259,463.3 263.9,462.1 268.6,460.5 272.6,457.3 275,456.3 277.2,455.2 281.5,452.3 286.4,451.6 290.6,449.4 295,448.3 299.8,448.1 304.4,446.6 306.7,445 309.3,444.2 312,443.4 314.4,441.7 317,440.5 319.4,439 322,438.1 323.4,434.3 327.6,437.4 329.9,436.1 332.3,435.1 334.4,433.7 338.6,430.8 342.8,428.4 347.6,427.5 350.4,422.4 355.7,423.4 360.3,423.2 364.1,421.6 368,420.7 371.6,419.2 375.7,418.8 379.1,416.3 383,414.6 386.9,413.4 390.5,412.9 393.1,411.4 395.6,411 398,410.8 400.6,410.3 403.1,408.2 405.9,406.6 408.5,405.2 411.3,404.4 414,406 416.1,408.9 419,411.5 420.1,415.1 421.7,418.1 421.7,421.7 423.7,424.8 424.1,428.8 426.3,432.8 427.9,434.9 427.6,437.6 428.7,439.9 429.6,442.3 430,447.2 431.9,451.1 432,455.2 433.2,458.9 435.4,462.5 435.3,466.7 437.9,470.2 437.5,474.4 441.2,478.4 436.3,482.2 435.4,486 434.1,489.9 432.4,493.7 432.4,497.8 432,501.8 431.7,505.7 433,509.8 431.8,513.6 431.3,517.5 430,521.3 430,525.4 429.2,529.3 428.7,533.3 428.5,537.4 426.4,541 426.4,545.6 425,549.8 422.7,553.6 421.9,557.6 420.5,561 418.5,563.7 415.9,565.7 414,567.6 412.6,570.2 410.1,571.1 407.7,572.3 405,571.1 401.9,569.6 398.3,567 394.8,563.9 391,562 387.6,560.6 384,559.9 380.4,559.8 376.8,559.4 372.5,560 370,555.7 366,555.7 362.9,553.6 359.7,552.7 356.9,551.3 354.3,548.9 350.3,548.3 348,547 345.6,546 342.9,544.9 340,544.5 337.1,543.6 334.5,542.3 332.2,540.8 329.5,540.3 325,538.7 320.3,537.8 316.3,536.4 313.2,534.3 310.4,533.1 308.4,531.9 306.1,531.9 304.3,530.9 301.8,529.8 298.6,529 295,528.5 291.3,527.1 287.2,526.3 283,524.3 278.6,522.4 274.2,520.8 269.5,519.4 267.8,517.1 265.4,516.4 261.6,513.1 257.4,511.8 254,510.3 251.3,508.6 248.7,506.4 244.9,507.2 240.8,505.5 236.1,506.4 231.3,506.3 226.7,507.1 222.5,507.3 218.4,508 214.9,510.3 210.8,510.7 207.1,513 203.1,514.4 198.8,514.5 195.3,516.2 191.7,516.5 188.2,517 186,521 182.7,519.4 182.1,521.6 181,523 182.3,525.4 180.6,528 177.8,527.1 175.7,525.7 173.7,524.5 171.7,524.5 170.1,523.2 168.4,524.2 166.6,523.9 164.4,524.1 161.8,526.5 158.1,524.2 155,525.6 151.5,525.3 148.9,527.4 146.4,529.9 145.4,532.2 145.4,534.1 145.5,531.9 143.4,529 143.5,524.9 143.1,521.3 141.1,518.7 140.4,516 140.1,513.2 139,510.5 138.3,507.8 137.5,505 135.3,502.7 134.7,499.4 134.1,495.4 131.9,491.3 130.9,486.9" fill="#000" fill-opacity="1.0" /></clipPath></defs>
<g clip-path="url(#cc)"><g filter="url(#tex)">
<rect x="120" y="395" width="330" height="185" fill="rgb(238,190,194)"/>
<rect x="120" y="395" width="330" height="185" fill="url(#mesh)"/>
<polygon points="149.9,457.2 153.3,458.2 156.7,458.7 160,459.1 163.4,458.4 166.7,459.7 170.2,459.1 173.5,459.6 176.9,461.2 180.7,460.8 183.9,463.2 187.8,462.5 190.9,463.3 193.8,464.5 196.8,465.5 200.2,465.4 203.7,466.2 207.2,467.3 210.5,469.1 213.7,470.4 217.1,471.3 220.7,471.2 224.8,473.2 228.9,475 232.2,476 234.6,478.5 237.7,482.3 240.4,486.4 238.4,491 235.5,495.5 231.6,496.3 228.7,498.3 225.7,499.2 223.2,501.6 220.1,502.3 216.9,503.8 213.1,503.6 210,505.2 206.7,506.2 203.3,506.8 200.3,509 196.4,508.3 193,509.3 190,511.7 186,511.4 182.9,514.2 179.2,515.3 175.3,514.2 172.1,516.3 168.5,516.2 164.3,516.1 160,516.9 156.5,516.6 153.6,514.8 150.6,513.3 148.9,510.3 146.6,508.2 144.4,505.7 142.9,503 142.9,499.6 142,496.8 139.4,494.3 140.1,490.8 138.5,487.5 140.1,484.2 140.1,480.9 139.5,474.9 140.8,469.6 142.2,464.6 144.5,460.4 147.2,459.1" fill="rgb(226,178,188)" fill-opacity="0.6" />
<polygon points="236.1,472.1 240.6,469.9 243.2,468.7 246.1,467.8 249.6,467.7 252.9,466.6 256.6,466.9 260,466 263.4,464.4 267,463.8 270.4,461.5 274.2,460.4 278.5,460.3 282.2,458.6 285.9,456.6 289.7,455.2 293.1,455.7 295.5,453.3 298.6,453 301.4,451.1 304.3,449.5 307.9,449.7 311.8,447.7 315.8,445.9 318.9,446 322,446 326.1,449 325.1,452.7 326.8,455.5 326,459.2 327.2,462.8 327.6,466.4 327.1,470 328.9,473.6 328,477.2 327.2,481 327.3,484.8 325.8,488.6 325.7,492.5 325.8,496.3 325.7,500 325.4,504 324.4,508 325,512.3 325.5,516.5 325.3,520.1 324.5,523.6 321.6,527.5 319,528.8 315.8,529.2 311.6,527.8 307.9,525 304.7,524 301.8,522.4 298,522.8 295.6,520.6 292.5,520 289.7,518.8 286.3,515.9 282,515.3 278.8,512.1 274.8,510.5 271,508.9 267.4,506.9 263.6,506.1 260.2,504.3 256.4,504.7 253.1,502.8 249.6,504 246.1,503.7 243.1,503.5 240.4,502.2 236,500 235.3,496.9 234.1,494 233.5,490.1 232.5,486.1 232.7,482 233.3,477.9 234.7,474.9" fill="rgb(180,96,112)" fill-opacity="0.75" />
<polygon points="330.5,446.5 333.4,444.7 335.6,441.4 339.3,440.6 342,438.2 345.6,437.5 348.2,435.2 351.7,435 354.2,432.1 357.5,431.4 361,431.3 363.8,429.2 367.1,428.5 370.2,427.4 373,425.6 376.3,425.1 379.3,423.6 382.5,422.7 385.5,421.4 388.8,420.9 392.2,421 395.2,419.3 398.6,419.5 401.6,418 405,418.7 408.9,419.7 413.3,419.3 415.8,421.6 416.3,425 417.3,428.5 418.6,432 419,436.1 420.2,439.9 420.5,444.4 422.8,448.4 422.3,451.8 422.8,455.1 423.3,458.3 424.3,461.8 425.1,465.3 424.2,468.9 424.3,472.6 424.9,476.3 425.2,480 424.9,483.1 424.4,486.2 424.9,489.3 423.8,492.4 425.3,495.9 423.4,499.2 424.3,502.7 422.9,506 423.9,509.5 423,512.7 422.1,515.9 422.3,519.3 421,522.7 420,526.3 419.5,529.9 419.4,534.3 418,538.4 417.6,542 416.1,545.2 415.7,548.4 413.5,550.8 409.3,552 405,552.4 401.8,551 398.5,551.7 395.3,550.4 392.1,549.8 388.9,549.4 385.9,548.5 382.6,548.5 379.5,547.4 376.1,547.9 373.1,546.7 370.1,545.3 367,544.5 363.6,544.5 360.5,543.4 357.9,540.9 354.5,540.9 351.2,540.6 348.4,538.7 344.9,538.5 342.4,535.8 339.5,534.1 336.2,532.9 332.9,531.8 330.4,529.5 327.2,527.6 325.3,524.6 322.9,521.6 323.5,518 322.3,514.8 323.1,511.4 323,507.8 324.1,504.3 324.5,500.8 325.2,497.2 323.8,493.5 326,490 325,486.3 324,482.6 324.3,478.9 322.7,475.1 323,471.1 322.3,467.3 322.6,463.5 323.5,459.8 322.8,455.7 325.2,452.3 327.1,448.8" fill="rgb(132,130,190)" fill-opacity="0.22" />
<path d="M233.8,475.7 238.6,473.3 243.1,477.5ZM275.6,480.1 272.9,482.9 268.6,483.4ZM426.2,491 424,492.4 418.2,489.9ZM356.9,525.7 362.7,528.6 362.8,532.1ZM327.4,502.9 322.4,495.5 323.5,493.7ZM416.5,546.9 409.9,550.7 407.2,547.4ZM341.3,439.5 339.1,441.3 335.3,439.1ZM287.9,474.1 295.6,476.8 295.2,480.6ZM403.8,469.7 409.3,464.9 411.4,466.3ZM436.7,517 424.6,522.4 421.9,518.3ZM312.1,519.4 319.1,528.3 317.4,532.1ZM372,455.6 373,453.6 380.6,445.5ZM392.9,422.3 395.7,422.9 398.4,425.2Z" fill="rgb(182,42,44)" fill-opacity="0.25"/>
<path d="M419.9,532.3 428.6,540.6 426.6,542.5ZM304.3,485.4 306.4,486.1 314.3,494ZM159.3,476.8 160.5,473.7 166.4,472ZM135.8,460.6 143.1,453.4 146.1,453.1ZM152.9,469.8 155.9,471.4 152.6,477ZM269.4,469.9 269,467.8 272.1,464.3ZM286.9,509 289.8,509.2 294.8,514ZM418.3,480.3 422.5,483.2 419.6,487.2ZM348.2,485.8 344.9,485.8 340.5,482.1ZM272.6,482.2 268.3,486.3 264.7,489.7ZM417.7,478.5 413.1,477.4 410.9,475ZM346,446.7 340.8,448.6 335.3,443.7ZM408.6,407.8 413.3,405.2 419.7,407.2ZM325.1,513.7 318.7,519.5 313.9,518.3ZM365,516.3 367.1,512.3 372.6,515.6ZM359.4,548.6 362.7,553.4 362.6,555.3ZM368.1,518.4 360.5,516.5 362.7,511.7ZM142.3,456 148,454.9 151.5,457.4ZM415.4,515.8 421.3,518.5 423.5,525.9ZM361.2,509.3 359.7,509.2 366.1,501.9ZM402.1,491.4 406,487.4 407.1,487.4ZM422.2,466 424.8,471.4 417.8,478.2ZM157.6,527.8 154.1,523.3 160.7,517.7ZM353.6,494.6 356.4,498.3 353.9,499.8Z" fill="rgb(182,42,44)" fill-opacity="0.45"/>
<path d="M198.7,495.8 206.5,495.1 209.5,501.4ZM263.1,512 264.2,510.4 271.4,515.9ZM380.2,488.2 387.2,489.8 384.4,498ZM168.5,487 159.5,490.5 153.9,484.8ZM198.7,499.7 189.4,500.9 184.3,496.8ZM331.3,472 328.8,473.2 323.2,469.5ZM336.5,534.2 346.7,539.2 343.3,547.3ZM325.1,482.6 331.6,477 338.5,480.8ZM365.3,459.8 368.3,461.1 370.7,463.5ZM423.9,552.5 422,555.1 419.5,557.6ZM396.5,445.5 399.7,445 404.3,449.1ZM334,462.8 332.1,462.6 324.6,456.4ZM336.4,481.5 343.9,489.7 342.8,492.9ZM306.7,519 313.4,525.3 313.5,531.3ZM388.8,443.1 394,444.1 396.1,447.9ZM425.1,443.6 419.8,448.6 411.2,444.4ZM372.2,428.2 373,428.4 380.6,435.6ZM292.2,481.2 294.7,480.1 300,484.3ZM356.9,429 353.9,431.9 351.9,433.5ZM355.5,449.6 360.3,454.7 360.5,455.9ZM413,553.1 410.4,548.9 412.7,546.5Z" fill="rgb(182,42,44)" fill-opacity="0.55"/>
<path d="M310.1,480.8 299.9,482.4 295.8,477ZM209,487.7 209.5,484.9 212.5,483.2ZM276.9,481.7 271.9,480.3 266.1,474.2ZM361.9,455.1 368.4,453.8 372.8,456.7ZM395.5,458.9 393.6,462.2 389.1,466.6ZM397.4,532.4 393.1,530.7 393,528.6ZM266.2,471 264.9,472.6 256.4,464.9ZM417.6,558.5 415.4,556.3 411.4,552.3ZM287.9,524.8 291.1,522.3 293.2,522.1ZM342.3,436.4 346.9,439.9 346.1,442.1ZM171.6,454 176.3,458.8 177,466.5ZM229.7,503.5 224.4,502.8 219.3,498ZM306.6,471.2 300.3,474.1 298.1,469.6ZM233.9,483.1 229.5,482.8 227.1,476.3ZM185,487.1 188.8,482.8 199.4,489.1ZM295.5,462.5 291.8,464 288.5,461.7ZM376.1,436.1 368,437.3 362.2,433.2Z" fill="rgb(182,42,44)" fill-opacity="0.40"/>
<path d="M372.6,504.5 361.5,511 359.1,508.4ZM255.6,467.2 255.3,466.2 259.9,460.4ZM272.6,509 279.1,517.4 275.1,521.9ZM309.7,444.2 309,446.9 303.9,453ZM295,465.1 286.5,458.6 289.9,453.7ZM333.4,477.4 339,478.1 341.8,488.8ZM414.2,500.6 412.7,499.6 407.7,494.7ZM390.9,562.9 394,559.2 399.5,564ZM374.6,468.4 382.9,471.9 380.7,478.9ZM341.8,486.5 338,483.9 333.8,479.8ZM226.5,499.8 221.8,508.2 217,508ZM219.3,482.8 222.9,480.1 226.9,480.5ZM397.2,450.3 399.7,448 402.5,446.5ZM346.4,448.4 349.9,450.4 349.6,454ZM144.7,457.1 149.2,460.4 144.7,466.2ZM178.9,485 184.2,490.7 182.8,497.2ZM400.5,460.2 402.3,460 406.8,463.3ZM199.5,464 202.5,469 197.5,477.4ZM339.4,483.9 345.5,487.1 350.1,491.8ZM384,547 379.6,551 376.9,548.6ZM317.8,529.5 322,520.3 329.1,521.3ZM431.8,493.5 426.6,500.8 419.3,498.8ZM333,484.9 337.8,492.4 336.9,494.1ZM149.6,515.6 155.8,514 160.1,518.6Z" fill="rgb(182,42,44)" fill-opacity="0.50"/>
<path d="M201.9,476.1 191.3,480.5 187.1,477.7ZM388.9,492.9 383.5,495.7 374.4,491.2ZM278.4,507.5 274,503.4 274.9,499.2ZM164.1,502.5 160,509.1 150.6,504.1ZM390.1,549.2 392,548.4 395,549.9ZM170.5,494.5 169.6,493.2 171.9,488.4ZM402.7,502.9 408.2,502.1 410.1,511.8ZM340.1,492 336.9,495.2 332.4,494.2ZM254.4,484.4 251.8,484.2 245.3,477.6ZM379.9,513 384.4,518.6 383.2,523.5ZM372.9,538.2 377.2,538.3 379.8,540.3ZM281.5,492.9 285.8,488.8 290.5,486.6ZM327.5,522.8 320.1,525.9 316.7,521.4ZM379.3,517 377.8,523.5 372.3,526.5ZM154.2,469.1 154.3,474.5 148.7,480.7ZM394.7,441.7 391.3,442.4 389.6,441.1ZM148.5,471.9 147.6,470.6 157.1,480ZM416.6,418.7 424.9,424 423,429.6Z" fill="rgb(182,42,44)" fill-opacity="0.30"/>
<path d="M356.8,435.1 354,431.1 359.2,424.5ZM415,423.6 410.9,419.8 412.3,415.9ZM382.2,417.2 385.4,417.1 388.1,419.4ZM424,562.6 419.6,564.3 411.9,560.2ZM390.7,510.2 387.5,506.5 387.1,499.6Z" fill="rgb(182,42,44)" fill-opacity="0.65"/>
<path d="M297.5,455.8 300,459.6 297.1,462.2ZM368.3,420.1 370.8,422.5 370.9,424.8ZM327.5,457 318.4,455.6 316.1,451.3ZM356.4,534.2 360.3,538.3 361.2,540.1ZM293.8,509.3 287.9,507.8 281.5,502.3ZM223.2,470.5 225.7,469.1 230.7,473.5ZM404.5,522.6 407.5,518.7 413,521ZM318.1,533.7 315.5,525.5 317.8,523.3ZM270.4,494.3 268.3,496.6 257.4,489ZM217.4,502.1 213.8,505.3 205.8,503.7ZM371,561.6 378.2,555.8 382.7,555.6ZM396.4,416.3 399.3,418.9 399.5,421.1ZM425.8,521.8 423.2,519.8 425.5,515.8ZM340.6,479.9 335.2,480.6 331.5,474.1Z" fill="rgb(182,42,44)" fill-opacity="0.35"/>
<path d="M407.7,470.3 402.4,474.6 395,470.5ZM335.5,500.5 339.2,500.8 342.3,505.2ZM374.3,498.4 381.2,491.3 386,492.4ZM426.4,488.5 421.1,491 414.9,483.9ZM275,506 269.4,510.9 263.3,511.5ZM155.5,450.4 155.3,447.5 160.1,445.8ZM176.2,481.4 179.3,483.9 176.4,489.3ZM159.9,484.6 164.2,489.2 163.3,491.9ZM257.7,470.2 251.8,476.4 249.2,473.7ZM424.5,530.5 427.5,531.6 430.1,534ZM349,431.2 357.6,428.3 360.6,431.7ZM390.3,472.4 386.9,474.2 378.6,469.2ZM410.1,481.4 413.7,482 420.6,489.5ZM288.7,456.8 294.7,454.6 298.1,456.9Z" fill="rgb(182,42,44)" fill-opacity="0.60"/>
</g>
<g filter="url(#soft)">
<polygon points="139.7,461.2 142.8,460.7 143.5,457.4 148.8,458.6 149.1,456.8 150.5,456.3 153.1,457.7 155.8,456.6 159.6,453.8 163.8,454.7 168.8,455.8 173.7,458.2 178.6,459.2 182.9,459.6 185.1,466.2 190.6,462.5 193.7,467.3 198.4,466.7 202.3,468.7 206.5,468.5 209.5,471.2 212.3,473.7 217.7,469.4 219.4,475.3 223.7,474.8 227.1,476.6 230.7,478.2 234.6,480 239.1,480.5 243.7,479 247.2,474.1 250.4,474.5 252.1,472 251.8,469.2 249.5,468.9 246.4,467.8 243.2,465.5 240.4,468.4 238.2,464.6 234.6,465.7 231.6,462.9 227.8,462.8 225.2,459.6 222.7,456.1 217.3,459.5 214.9,453.4 209.3,457.4 206.1,452.7 201.5,454.1 197.8,452.4 193.3,453.9 190.7,449 186.7,447.3 182.3,445.9 176.8,446.5 171.3,445.3 166.4,441 160.6,444.1 156,442.1 151.5,441.5 146.7,441.3 142.6,444.6 139.3,448.6 136.2,451.8 136.5,456.3 136.1,458.7" fill="rgb(165,22,24)" fill-opacity="0.1575" />
<polygon points="138.5,460.4 140.1,458.8 142.4,456.6 146.3,456 148.5,455.7 149.9,453.6 152.6,453.3 155.9,454.7 159.4,454.8 164.3,452.1 169.1,454.8 174.5,455.1 179.2,457 182.8,460.1 187.5,458.9 191.1,461 195.1,462.4 198.8,465.2 203,465.6 207.2,465.8 210.5,468.1 215,466 218,468.6 220.8,471.7 224.4,472.8 228.8,471.5 232.1,473.6 235.6,475.8 239.4,477.3 243.6,475.8 247.3,474.9 250.1,472.9 252.2,472.2 251.8,469.7 249.7,469.7 246.6,469.2 243.3,467.7 240.5,467.2 237.6,467.3 233.8,468.3 230.5,466.3 227.2,464.4 223.3,464.7 220,463.1 216.8,461 213,459.7 208.7,459.6 205.2,456.4 201.2,455.4 197.4,454.1 193.6,453.2 189.7,452.2 185.6,450.9 181.2,449.5 176.2,448.8 171,446.7 165.2,447.5 160.5,444.7 156,446 152,446.3 147.9,446 143.9,447.1 141.6,451 139.3,454.1 137.6,457 137.3,459.5" fill="rgb(165,22,24)" fill-opacity="0.315" />
<path d="M171.6,452.4 169.3,455.1 163.1,453.3ZM241.6,469.3 246.1,468.4 251.9,471.6ZM210.7,466.5 207.9,467.4 200,462.7ZM195.7,454.6 192.9,454.8 185.3,451.4ZM150.3,451.6 139.5,456.7 136,456.9ZM220.2,471.5 211.8,467.3 209.2,462.3ZM225.5,468 232.9,467.4 239.1,469.8ZM166.9,447.4 173.1,447.8 180.6,451.4ZM241,468.5 247.6,466.6 249.8,468.3ZM200.2,460.5 195.2,460.9 191.7,458ZM214.1,466.8 206.1,463.8 203.7,461.7ZM221.7,464.7 213.6,461 211.9,457ZM147.8,448.3 141.9,452.2 139.1,450.4ZM138.7,459.8 137.4,457 141.8,452.7ZM141.6,455.4 143.3,451.6 152.8,447ZM199.1,468.7 203.1,467.3 207.5,469.5Z" fill="rgb(165,22,24)" fill-opacity="0.75"/>
<path d="M194.6,454.5 186.7,454.5 181.9,451.7ZM170.5,451.7 178.1,452.6 185.6,455.3ZM259.3,471.3 254.4,472.7 244.9,472.1ZM244.8,473.6 239.6,476.1 231.7,476.7ZM174.5,454.3 171.5,454.2 167.4,448.7ZM176.6,454.4 172.5,455.4 167,451ZM188.9,465.3 194.1,462.6 203.1,461.2ZM143.6,451 147.7,448.3 154.4,449.6ZM184,449.9 187.4,449.1 197.4,454.8ZM163.9,449.4 168.1,449.1 169.4,452.7ZM155.4,452.5 164.1,453.7 170.2,457.2ZM165.1,450.3 161.9,452.1 152.9,448.7ZM182,455.5 178,454.8 175.9,452.5ZM200.3,457 208,458.2 214.7,463.6ZM208.6,459.2 202.6,464.4 199.5,463.4ZM209.8,460 204.7,461 195.5,456.6ZM238.2,475 241.3,472.1 248.7,472.3ZM223.4,468.2 229,468.9 234.9,472.6ZM162.7,452.2 167,451 172.2,452.4ZM241.8,469 250.8,465.5 254.6,465.3ZM243.1,468.5 233,468.4 227.7,465.3ZM249.3,468.1 246.7,470.7 237.3,470.4ZM179.3,454.2 181.6,454.3 186.3,458.4ZM221.2,468.3 216.8,467.2 209.3,462.4ZM210.8,463.8 215.4,464.2 221.3,469.4ZM155.6,451.6 164.7,452.7 168.1,454.7Z" fill="rgb(165,22,24)" fill-opacity="0.50"/>
<path d="M179.1,449.8 171.6,444.1 168.4,440ZM214.8,461.1 207.4,463.9 199.1,463.7ZM192.7,454.9 190.2,457.4 184.5,456.2ZM145.5,458.5 145.7,463.1 143.1,465ZM141.6,456.9 141.2,455.1 143.1,450.3ZM147,450.9 152.8,447.9 162.3,446.6ZM194.8,459.9 188.7,459.6 186.8,457ZM236.8,472.6 235.2,474.7 230.7,472.5ZM141.2,451.5 142.7,448.9 149.3,447.8ZM218.1,459.4 209.1,460.3 205.6,457.5ZM190.6,452.7 196.4,452.2 200,455.8ZM215.8,473.7 211.2,468.9 207.7,461.9ZM186.7,457.1 197.3,457.9 201.3,460.1ZM156.6,444.6 154.6,446.8 150.2,447.7ZM161.4,444.9 156.8,449 150.5,450.3Z" fill="rgb(165,22,24)" fill-opacity="0.65"/>
<path d="M153,446.6 160.7,446.5 163.1,449.3ZM189.3,458.5 183.4,457.5 182.7,454.7ZM179.7,453.9 186,455.2 188.3,458.5ZM170.4,451.1 181.2,454.1 183.4,456.8ZM214.9,461.3 207.7,461.3 205,459.3ZM197.4,465.9 188.1,462.6 186.2,458.7ZM218.5,467.2 215.6,467.1 211.6,464.7ZM183.2,456.7 179.5,454.9 179.1,451.4ZM209,458.7 205.7,460.9 199.9,460.7ZM143.5,456.2 150,450.1 154.4,449.8ZM186.3,452 191.6,450.9 196.8,453.9ZM230.4,466.8 223.6,469.4 219.6,467.4ZM167.8,451.9 172.1,451.6 181.2,458.2ZM154.1,454.6 159.3,452 165,453Z" fill="rgb(165,22,24)" fill-opacity="0.70"/>
<path d="M131.6,457.9 136.3,450.5 139.5,450.6ZM217.1,460.4 212.1,459.5 210,455.2ZM176.3,457.1 168.8,456.1 166.2,452.6ZM240,476.4 242.4,472.6 247,471.9ZM170.4,455.2 173.3,453.3 176.6,454.4ZM231.1,466.8 239.2,474.6 239,478.1ZM244.4,470.3 251.1,468.9 257.3,470.3ZM140.5,452.8 136.7,464.1 133.2,465.5ZM178,449.4 186.2,451.6 192.5,454.8ZM207.1,457.2 214.3,457 216.6,460ZM243.5,479 238,475.8 233.7,467.5ZM165.9,450.6 162.4,451.5 154.2,447.7ZM243.4,471.5 238.1,473.1 234.7,470.3ZM163.3,454.8 165.2,452.8 171,452.6ZM145.1,448.4 145.8,452 139.6,461.8ZM133.3,459.1 135.5,454.2 139.3,450.5ZM221.7,464.3 225.1,466.2 231.4,476.2ZM215.3,461.6 211.4,462.7 200.9,462.7ZM165.6,451.1 168.1,450.8 175.8,453.9ZM244.3,470.8 240.3,472.9 238,470.8ZM169,452.7 166,453 155.2,450ZM179,454.5 174.1,453.1 173.5,450.5ZM217.1,462.8 211.6,466.4 206.4,465.1ZM207.8,461.5 205.6,463.5 198.2,460.8ZM206.9,457.3 204.8,459.1 200.7,458.4ZM213.1,464.4 209.6,465.6 205.3,462ZM173,457.6 170,456.4 161.5,448.8ZM217.4,462.3 221.8,464.4 230.1,471.9ZM182,450 175.5,453.4 166.6,452.9Z" fill="rgb(165,22,24)" fill-opacity="0.45"/>
<path d="M202.5,463.7 199,465.7 187.2,462.4ZM170,448.3 177.6,452.6 178.2,456.4ZM194.1,458.1 196.9,456.6 200.1,459.6ZM245.3,471.5 243.2,472.7 239.3,472.2ZM168.9,449.7 171.8,449.1 179.6,454.2ZM178.6,456.8 171.6,456.6 168.1,453.7ZM170.1,449.8 177.1,449.7 180.8,453.2ZM202.6,463.9 199.7,464.6 189.8,461.2ZM229,462.5 221.7,463.7 219.4,461.9ZM212.2,462.2 207.4,463.4 204.2,461.1ZM181.5,450.1 183.9,449.1 191.9,452.5ZM140.8,455.9 146.6,452.7 156.1,453.7ZM147.3,449.9 146.5,456.9 143.5,457.7ZM183.8,459 180.2,458.1 179,455.3Z" fill="rgb(165,22,24)" fill-opacity="0.40"/>
<path d="M183.4,461.5 192.3,457.8 199.2,459ZM188.7,462.9 194.4,461.4 201.4,462ZM256.5,467.6 255.2,470.6 247,471ZM141.9,459 140.5,456.4 144.8,452.9ZM238.4,473.2 232.3,473.9 224.3,470.4ZM154.4,452.4 158.5,449.6 161.4,450.2ZM200.9,461.9 207.3,463 208.3,465.1ZM139.4,464.3 140.2,459.3 148,453.1ZM214.1,466.1 207.1,460.5 205.4,456.2ZM234.5,475 232,475.7 227,471.9ZM156.7,443.6 159.3,444.1 164,448.6ZM197.2,465.7 192,465.8 184.1,459.1ZM163.3,449.8 168.7,449.7 174.6,451.6ZM184.1,456.6 186.9,455.4 192.5,456ZM165.2,450.6 162.2,452.4 157,449.2ZM217.1,467.1 212.8,467.7 208.1,463.3ZM244.3,470.8 251.3,469.6 253.3,471.2ZM150.4,446.5 155.1,446 161.4,450.2ZM219.7,465.5 222.6,466 227,470.8ZM167.6,458.6 175,459.1 182.3,463.7Z" fill="rgb(165,22,24)" fill-opacity="0.60"/>
<path d="M206.2,457.6 201.5,462.2 195.9,463.3ZM137.9,452.9 139.3,455 135.9,460.1ZM236.6,468.6 239.8,466.7 244.1,467.9ZM209.8,463.8 211.8,462.9 215.5,466.2ZM182.8,456.9 180.8,458.9 173.5,457ZM164.6,449.3 170.8,453.1 176,458.7ZM148.6,449 146.4,456.9 142,461ZM181.3,461.1 176.9,461.2 172.1,456.3ZM173.9,447 170.2,446.8 166.1,444.4ZM246.8,472 240.6,473.1 233.4,469.5ZM194.7,457.9 200.9,458.2 205.9,460.1ZM214.3,463.7 219.8,461.5 222.9,462.8ZM195.1,456.9 205.3,461.1 207.1,463.7ZM225.8,473 221.2,471.2 219.8,466.4ZM233.5,471.6 239.4,472.6 241.4,475ZM146.9,445.7 141,449.5 137.3,449.5ZM233.7,474.4 239.6,471.3 243.4,472.6ZM232.2,468.5 236.8,465.9 240.4,467.5ZM203.7,458.6 192.2,460.1 188.6,458.5ZM136.9,461.6 138,457.8 142.9,453ZM160.1,450.2 154.5,451.8 151.7,449.6ZM200.3,461.8 203.2,462.7 206.4,466.9Z" fill="rgb(165,22,24)" fill-opacity="0.55"/>
<path d="M168.3,450.5 165.4,452.4 158.4,451.2ZM192,458.3 196.7,455.4 205.3,455.9ZM139.7,448.9 141.2,446.5 149,446.8ZM176.7,453.4 172.6,455.1 166.7,452.2ZM249.2,476.7 244.9,481.1 241.2,480.3ZM240,470.4 241.5,468.3 248.6,468ZM141.1,454.5 146.5,449.9 150.1,450ZM170.9,452.9 173.6,452.4 180.7,455.5ZM153.9,449.7 158.7,448 166,450.5ZM169.1,450.1 163.4,447.4 161.6,443.1ZM219.8,463.6 213,462.8 210.2,460.6ZM233.8,471.2 242.2,471.6 248.5,473.6Z" fill="rgb(165,22,24)" fill-opacity="0.35"/>
<path d="M238.9,473.6 247.1,469.8 250.3,470.9ZM227.9,472.6 232.8,472.9 240.8,477.3ZM209.9,460.9 202.7,459.9 195,456.7ZM207.7,459.2 198.8,460.7 194.8,459.9ZM198.6,458.5 191.3,459.1 186,455.8ZM196.4,460.6 201.6,457.2 206.2,458.2ZM216,465 206,462.3 202.9,459.7ZM161.8,445.5 157,448.9 152.4,447.8Z" fill="rgb(165,22,24)" fill-opacity="0.80"/>
<polygon points="238.7,474.7 242.1,476.3 246.4,476.3 251.3,474.9 257.5,474.6 260.2,471.5 263.3,470 268.7,473.3 271.5,469.1 277.4,472.7 282.1,473.1 284,465.5 287.6,462.7 292.1,465.7 294.2,462.6 297.7,462.9 299.7,458.8 303.3,459.1 307.1,459.5 307.9,452.7 312.8,456.2 314.6,452.2 319.7,453 325.2,454.8 327.5,450.9 330.4,448.1 332.9,445.7 337,447.3 339.9,446.1 341.4,441.5 344.2,439.2 348.4,440.5 352,439 356.1,438.5 359.3,435.4 363.6,434.9 365.8,429.3 369.6,427.6 374.5,429.4 378.5,429.2 382.3,429 386.4,429.8 389.1,426.9 392.1,425 393.3,418.9 397.2,420.3 403.1,420.4 406.1,414.4 410.5,415.5 413.1,412.9 414.4,408.6 413.4,404.7 410.9,404.2 407.4,404.2 403.1,404.4 397.8,404.3 391.9,404.8 388.2,404.5 386.1,408.3 380.8,404.1 378.2,407.6 373.2,404.8 372.1,412.3 366.9,409.9 363.4,411.8 358.6,411.2 356.4,416.9 353.4,420.7 349.4,421.9 346.7,425.7 340.8,421.6 339.7,427.9 336.7,429.6 331.3,424.6 330.7,431.6 325.5,427.3 322.3,427.8 320.8,434 316.4,432.9 312.6,435.3 308.7,437.4 303.5,433.3 303.4,441.6 299.1,439.6 297.7,444.9 292.4,440.6 288.3,439.2 285.8,441 285.6,449 281.3,446.4 276.5,445.9 272.9,448.7 269.2,450.8 264.9,451.2 262.8,456.9 259.7,459.9 254,453.9 253.2,461.5 247,461 243.4,465.8 239.3,465.8 237.3,469.4" fill="rgb(165,22,24)" fill-opacity="0.1575" />
<polygon points="238.2,472.8 241.1,472.5 245.6,473.6 250.2,471.3 256.5,471.6 260,470.9 263,469.1 267.4,469.6 270.8,467.3 275,466.3 278.2,462.8 283,463 286.1,458.8 289.9,459.9 292.1,457.2 295.4,457.2 299.4,458.1 302.6,457.4 304.6,453.3 307.8,452.6 310.3,450.1 313.7,450 317.2,446.8 321.8,446.6 325.6,446.2 329.5,445.9 331.3,441.9 335.2,442.9 337.3,439.6 340.5,439.1 343.8,438.2 347.1,437.3 350.1,434.2 354.2,433.9 357.7,431.4 362.6,432.4 365.6,428.7 370.1,428.9 373.6,427.2 377.3,426.1 380,422.9 384.6,424.8 387.3,422 391.1,422.3 393.4,419.1 396.4,418 401.4,415.3 406,414.2 409.3,411.2 412.2,409.5 414.3,408.2 413.8,406.2 411.2,405.4 408,406.5 403.6,406.2 399.4,409.1 393.2,408.7 389.5,408.1 387.1,411.2 383.9,412.6 380.2,412.8 376.5,413.5 373.6,416.5 370.3,418.7 365.6,417.5 362,419.8 357.5,419.8 353.1,420.1 350.9,425.7 346.5,425.2 343.7,428.9 339.8,428.4 336.7,429.8 334.6,432.8 331.2,432.9 327.2,431.5 324,432.3 322.2,437.6 318,437.1 313.5,437.6 310.2,441.3 306.7,441.2 303.1,441 301.4,445.4 298.1,446.1 295.5,448.3 292,448.6 288.3,447.4 285.4,448.6 283.6,452.3 278.4,450.8 274.6,453 271.8,457.8 266.8,456.3 263.5,458.7 259.9,460.3 256.7,461.4 253.2,461.5 248.6,466.1 243.7,467 240.1,468.9 237.5,470.1" fill="rgb(165,22,24)" fill-opacity="0.315" />
<path d="M256.1,470 259.3,467.4 271,464.4ZM338.6,441.5 333.4,448.2 327.6,451.2ZM294.1,448.5 298.5,444.4 304.3,443.3ZM331.9,437.2 327.9,439.1 323.2,439.2ZM393.7,412.5 390.3,415.1 384.3,414ZM305.8,448.3 312,446.1 315.7,448.5ZM297.4,455.6 290.7,459.6 286.9,458.9ZM395.3,411.8 385.7,414.5 382.1,412.7ZM393.1,410.6 387.2,417.8 383.4,417.8ZM398.6,415.8 400,412.6 405.6,411.6ZM322,440.4 328.1,437.9 330.2,439.9ZM312.1,451.3 318.9,446.2 323.2,444.6ZM356.5,429.9 366.4,424.9 371.4,424.8ZM328.2,443.2 331.9,442.6 336.5,445.5ZM297.5,451.3 295.8,455.2 292.4,454.6ZM296.7,453.3 301.4,449.2 305.7,448.4ZM299.1,444.3 304.3,443.4 312.9,446.3ZM308,441.8 310.2,439.5 315,441.2ZM283.7,453.8 276.5,456.9 273.9,456.2ZM376.3,416.4 377.4,410.4 384.1,403.4ZM326.2,441 328.4,439.5 337.2,438.7ZM395.8,408.7 389,414.3 384,416ZM360.8,425.9 355.8,427.1 350.5,426.7ZM278.9,463 282.5,460.4 290,458.4ZM233.9,476.9 236.8,473.8 246.4,472.1ZM407.4,408.1 404.4,410.5 401.5,409.8ZM307.9,439.8 311.3,437.3 315.8,439ZM335.5,434.7 340.3,433.8 342.1,435.1ZM293.9,445.4 299.7,438.8 303.3,437.3ZM308.5,437.4 305,437.1 303,434.6ZM365.1,416.6 367.2,414.1 372.1,415.1ZM287,457 291.9,455.7 294.7,456.6ZM345.1,438.7 348.9,436.8 356.5,435.9ZM379.4,413.7 383.6,411.5 387.4,411.8ZM249.2,468.3 246.8,470.1 241.9,471.1ZM355.6,421.6 355,424.5 349,431.1ZM301.9,445.7 299.1,451.2 293.6,456.4ZM340.9,420.3 336.8,422.6 333.2,422.5ZM285.2,465.8 290.9,458.4 293.8,458ZM355.2,427.2 351.5,430.8 348.9,429.8ZM334.8,437.1 339.1,432.2 344,429.7ZM379.9,415.5 378.2,417.5 372.1,418.1ZM319.1,445.3 325.9,438.9 331.2,436.2ZM350.4,427.7 359.9,422.4 364.1,421.8ZM281,458.3 289.5,455.6 296.3,455.2ZM339.1,427.4 344.2,424.2 346.3,425.4ZM363.8,420.5 359.8,424.5 357.5,423.5ZM357.7,424.2 352,430.4 347.8,430.7ZM268.7,464.7 277.5,463.7 280.2,465.2ZM280.3,451.2 277.7,454.1 273.8,455.7ZM398,411.2 394.8,413.5 384.4,414.6ZM312.7,433.2 311,441.3 307.5,442.8ZM348.6,429.5 352.9,428.1 360.3,428.3ZM250.9,476.8 247.7,478.7 237.6,476.3Z" fill="rgb(165,22,24)" fill-opacity="0.50"/>
<path d="M349.2,438.9 353.2,435.8 355,436.3ZM261.4,473 255.2,476.9 249.1,477.9ZM280.1,459.9 277.5,464.7 270.7,468.9ZM264,466 265.9,460.2 269.4,459.4ZM295.6,451.2 293,455.4 290,455.4ZM324.8,439.3 323.1,447 319.4,449.8ZM317.3,441.2 317.6,444.3 312.4,446.8ZM378.9,417.5 375.3,420 372.3,419.8ZM409.6,404.4 406.8,404.6 402.3,401.5ZM273.5,459.3 278.5,454.4 285.2,453.7ZM356.4,430.5 359,428.7 366.4,428.4ZM283.7,463.7 285.9,460.4 295,459.3ZM337.7,430 334.3,435.8 331.8,436.5ZM327.2,435.9 335.2,432.8 339.3,434.4ZM360.5,420.6 366.5,420.9 374.4,423.7ZM346.3,425.2 345.1,428.2 340.8,431.5ZM348.3,428.6 355,426.3 357.5,427.3ZM335.4,435.2 338.6,431.9 345.2,430.1ZM267.6,465.2 264,468 254.7,469.4ZM345.5,436.9 352.9,428.8 356.8,427.6ZM340.3,439.6 336,440 333.8,438.7ZM258.1,466.3 263.3,460.8 269.6,456.7ZM379.8,421.9 381.9,420 386.7,420.2ZM336.5,439.4 332.2,442.1 321.5,444.3ZM266.3,459.6 269.2,456.3 279.4,455.5ZM315.6,440.9 320.7,436.1 327.1,432.8ZM389.1,416.3 390,412.3 393.7,410.4ZM249.6,472.1 248,474.5 243.2,473.2ZM372.2,426.9 372.8,422.7 379.5,417.7ZM393.9,415.7 382.4,420.5 378.6,419.5ZM366.9,419.9 371.1,417.6 377.6,418.2ZM355.2,433.9 358.8,430 363.9,427ZM272.6,461.6 280.2,452.9 283.8,451.5ZM254.6,475 263.2,472.9 270,473.1ZM256.9,463.3 253.8,467.1 252,467.4ZM287.3,451.1 290.9,449.6 302.6,448.9ZM316.2,438.4 319.5,433.9 325.4,432.6ZM409.7,414.1 405,416.9 400.1,415.1ZM371.3,413.1 364.4,418.4 358.7,418.8ZM341.3,423.3 345.7,421.1 348.9,423.3ZM365.4,431.5 369.3,427.7 373.1,427.4ZM256,466.4 260.5,461.6 266.3,461.3ZM347.7,427.3 345.4,428.5 341.1,427.8ZM279,456.4 285.4,449.5 289.8,447Z" fill="rgb(165,22,24)" fill-opacity="0.60"/>
<path d="M292.6,456 295.3,453 303.1,452.6ZM243.4,465.1 244.3,462.3 249.3,458.4ZM360.3,426.6 354.8,429 348,429.9ZM323.6,444.8 325.4,441.4 328,439.8ZM351.1,431.6 359.7,427.9 365.7,429ZM291.2,456 293.5,453.9 298.2,454.8ZM301.3,444 297.6,447.7 290.7,449.5ZM401.7,412.6 395.5,417.3 389,417.3ZM295.9,448.9 290.7,454.8 286.8,455.9ZM289.6,463.6 289.5,460 295.9,454.2ZM366.4,416.2 370,414.1 376.1,416.9ZM242.5,462.8 252.3,458.4 255.9,458.1ZM370.4,425.1 372.8,419.6 376.2,418.3ZM285.1,450.7 292.1,451.3 299.6,453.6ZM403.6,416.3 407,413.4 410.7,413.5ZM243.8,460 242.9,463.4 238.8,463.6ZM411.3,397 408.5,400.1 403.2,401ZM266.4,464.8 272.6,462.8 279.8,463.8ZM337.2,431.6 338,426.4 341.9,423.5ZM259.8,470.8 261.4,467.1 265.9,466.6ZM323,447.9 330.4,442.5 337.2,441.2ZM365.9,425.9 370.1,420.5 376.2,418.2ZM291.5,455.5 295.1,449.8 301.9,447.4ZM240.2,466.2 244,466.2 247.9,470.1ZM277.5,461 280.7,456.9 290.9,453.1ZM375.2,418.5 384.4,416.7 390.9,417.1ZM345.9,433.8 356.4,431.7 359.5,432.4ZM367.4,426.8 366.8,431.4 362.8,433.8ZM342.2,428.2 351.2,424.3 355,423.9ZM262.1,467.3 256.5,468.9 248.5,468.4ZM252,461.8 249,464 237.8,466.1ZM340.7,418.8 343,415.8 348.7,413.6ZM331.3,435.2 324.2,437.7 317.5,436.9ZM321,438.7 315.1,442.3 312.9,442.1ZM389.6,411.8 385.9,413.6 378.9,412.4ZM387.9,421.9 387.6,424.2 382.9,426.5ZM401.2,415 393,417.5 390.3,417.2ZM271.2,458.3 277.6,452.9 284,451.5ZM298.1,462 293.1,467.3 285.9,468.9ZM400.3,405.1 398.1,409.4 389.4,414.9Z" fill="rgb(165,22,24)" fill-opacity="0.55"/>
<path d="M311.2,445 315.9,441.7 324.6,440.1ZM342.1,438.7 347,432.2 352,429.6ZM328.5,432.4 326.3,435.4 322.6,433.8ZM363.5,423.1 369.5,418.7 373.2,419.6ZM415.3,413.7 412.6,416 409.4,414.9ZM277.1,457.7 274.6,462.1 270.7,462.9ZM330.5,437.4 334.1,436.4 342.8,438.5ZM237.6,460.7 247.2,458.3 252.2,459.7ZM288.6,449.9 289.5,446.8 296.7,444.5ZM318.5,443.9 321.6,438.3 326.8,436.6ZM280.1,451.3 285,449.8 286.3,451.2ZM401.6,417.3 401.4,414.6 405.1,409.8ZM345.9,441.2 342.4,443.4 339.5,441.9ZM242.9,477.2 240.9,478.7 236.3,478.5ZM403.1,412.4 404,410.4 409.4,410.9ZM266,471.8 268.9,467.6 272.7,468.2ZM302,444.8 303.1,440.3 310.3,435ZM338.7,436.3 346.2,434.7 349.7,435.8ZM355.6,414.4 355.3,411.4 359.8,409.3ZM292.6,445.7 289.5,448.4 281.8,449.2ZM296.5,451.5 293.4,452.3 289.5,450.5ZM371.2,428.4 377.7,425 381.6,424.6ZM330.8,428.5 336.1,427.1 344.4,429.2ZM309.7,441.6 304.5,445.5 300.4,444.1ZM266.6,471.3 273.4,464.7 277.6,463.9ZM390.9,410.5 394.1,407.7 400.1,406.1ZM388.6,415.2 391.9,414.3 395.7,415.8ZM374.9,428 374.7,430.4 368.6,432.3ZM300,445.1 296.6,447.8 293.5,446.1ZM244.8,481.1 247.7,475.3 251,474.7ZM325.3,434.8 316.1,442.9 312,442.6ZM344.2,426.5 341.8,429.1 336,431.4ZM274.1,455 276.9,452.2 282.7,453ZM367.4,414.6 364.5,418 361.1,419.3ZM364.2,422.7 359.5,426.6 357.1,426.6ZM280.5,463.7 276.1,467.8 273.3,467.2ZM378.6,411.1 375.8,418.3 371.5,423.2ZM266.2,469.1 261.9,470.4 259.8,469.2ZM406.9,406.7 412.5,403 420.1,403.4ZM363.8,412.1 359.6,420 356.2,422.9ZM244.3,473.8 239.9,477 233.4,476.6ZM305.9,437 304.9,442.7 301.5,448.1ZM282.4,452.8 286,447.1 290.9,444.9ZM264.4,466.7 270.9,466 277.3,468ZM372.5,414.1 378.5,412.8 386.7,414.7ZM290.7,455.9 285.9,458.6 276.2,460.2ZM297.1,459.1 298.7,453.9 305.2,448.1ZM403.1,419.2 405.7,414.9 411.9,412.8Z" fill="rgb(165,22,24)" fill-opacity="0.45"/>
<path d="M279.7,461 282.7,457.5 289.6,455.1ZM289.6,452 293.2,448 295.5,447.8ZM239.2,472.5 248,466 251.6,465.9ZM279.9,457.1 275.4,460.8 267.1,461.5ZM282,462.5 276.1,465.9 273.3,466.2ZM322.4,439.4 329.5,438.6 331.8,440.5ZM299.5,448.1 291.1,452.1 285.6,451.7ZM262.2,452.8 266.6,452.7 274.1,455.2ZM268.6,471 264.4,473.2 257.3,473.7ZM285.6,454.6 288.5,451.4 294.6,449.6ZM303.3,453.6 295.5,458.3 291.2,457.8ZM355.8,429 357.1,424.7 362.9,419.6ZM349.8,437.1 355.8,430.4 361.8,427.4ZM359.6,424.1 352.4,428.8 347.7,429.8ZM351.9,429.6 361.8,423.8 366.4,423.7ZM404,409.1 400.9,413 392.5,416.7ZM329.2,441.2 328.4,445.5 324.6,449.1ZM303.6,461.7 300.1,462.5 291.3,456.8ZM292.4,448.8 287.2,454.4 279.4,456.5ZM235.8,476.2 238.4,469.3 242.5,465.2ZM385.1,405.5 388.2,401.9 391.1,402.7ZM386.9,417.2 384.3,419.6 379.4,418.8ZM393.3,413.3 390.9,417.1 382.7,419.9ZM253.8,470.7 261.4,469.5 263.7,471ZM374.1,428.2 367.6,429.2 363.5,428.3ZM312.5,445 317.3,439.2 320.1,438.2ZM341,437.7 338.7,443 332.1,449.2ZM265.5,453.9 270.4,450.8 280.9,450.8ZM362.1,423 364.2,420.1 368.2,421.1ZM381.4,414.7 385.4,407.3 389.3,403.8ZM278.7,456.2 277.2,458.3 272.1,460.4ZM369.5,417.5 366.4,421.8 363.2,421.3ZM348.8,436.1 349.4,433.1 354.3,430.3ZM366.1,423.8 362.7,426.2 359.8,426.1ZM373.8,420.8 371.3,426.1 367.4,427.3ZM308.4,453.8 313.2,452.3 322.4,454.5ZM317.9,435.7 314.8,439.4 305.9,443.4ZM402.7,405.4 394.9,408.5 391.7,407.2ZM393.4,412.6 387,415.4 384.7,413.9ZM346.1,438.1 353.4,432.6 356.7,433.6ZM386.9,418.2 382.1,422 378.4,420.9ZM262.4,464.6 267.8,461.1 275.5,459.9ZM392.7,415.3 385.2,417.9 378.8,417.4ZM240.3,459.7 245.1,459.8 249.7,461.7ZM241.3,478.7 243.8,475.6 253.5,473.7ZM381,414.9 384.6,414.7 394.7,417.4ZM328.4,439.9 324.3,445.9 321.1,445.4ZM324.7,440.5 328.1,435.9 332.6,435.4ZM385.5,412.3 389,407.5 398.2,404ZM357.8,429.2 361.5,426 368.2,426.3ZM380.6,424.7 372.1,429.6 368.1,430.4ZM301.5,456.5 305.8,452.8 308.7,452.7Z" fill="rgb(165,22,24)" fill-opacity="0.70"/>
<path d="M308.8,446.2 305.4,448.2 302,447.3ZM249.1,467.4 243.5,469.4 238.9,468.4ZM362.9,423.2 359,425.1 351,424.8ZM389.2,407.7 392.7,406.6 396.9,408.7ZM378.9,418 384.1,416.3 391.1,416.3ZM247.8,473.5 252.9,468.4 256.7,466.3ZM289.2,458.1 293.1,448.2 297.5,445.7ZM297.8,446 302.3,442.4 312.3,440ZM258.2,464.5 255.6,467.2 246,466.8ZM314.5,441.7 318.2,435.9 322.6,435.2ZM415.1,408.6 412.2,410.6 404.6,409.7ZM381.7,417.3 385.7,415.6 388.7,418.3ZM250.7,466.2 238.9,470.1 235,469ZM320,439.1 321.9,436.6 329.6,434.9ZM295.9,455.9 298.9,453.9 303.1,455ZM353.5,424.7 356.7,421.9 361.9,421.3ZM350.2,432.9 353.9,430.5 364.2,427.2ZM382.5,423.2 377.5,425.2 374.2,422.7ZM404.4,414.4 406.3,412 413.4,412.6ZM404.5,398.7 401.7,401.3 399.1,401.7ZM290.2,459.3 296.9,457.9 301.9,458.2ZM259.3,463.2 256.7,466.9 251.8,467.2ZM358.4,422 365.8,421.4 367.9,423.2ZM337.7,426.2 340.9,425.2 345.3,426.5ZM331.5,434.7 333.9,432 340.6,432.9ZM365.9,422.3 368.9,420.8 375.6,420.5ZM403.7,411.5 409.8,408.3 416.1,406.8ZM304.4,451.9 308.1,449.3 317.9,446.9ZM242.2,475.4 240.7,476.6 235.6,475.3ZM353,430.9 346.9,434.1 344.5,433.7ZM260.1,468.6 263.3,465.1 271.4,464.8ZM349.1,435.6 351.1,431.1 358,428.9ZM308.3,448.5 310.8,447.6 316,449.3ZM330.5,442.2 325.3,443.9 321.5,443.5ZM307.8,439.3 307.4,443.4 302.7,447.6ZM348.3,435.7 350.8,431.6 354.2,429.5ZM330.6,443.9 321.3,445.8 317.7,443.7ZM300.3,439.5 301.6,437.6 305.6,436ZM361.8,429.6 351.1,434.4 347.2,434ZM274,465.7 269.4,468.3 262.9,469.2Z" fill="rgb(165,22,24)" fill-opacity="0.40"/>
<path d="M302.2,447 305.1,443.8 309.7,443.5ZM336.4,432.5 340.2,430.2 349,432.1ZM329.1,444.2 335.2,441.7 341.1,441.2ZM249,463.1 256.1,461.4 258.1,462.2ZM395.1,408.1 390.4,411.9 383.3,412.9ZM296.9,455.4 299.9,454.2 304.1,454.6ZM368,422.1 374.3,420.4 378.6,421.5ZM327.2,432.8 322.7,436.8 316.4,437.6ZM248.5,460.4 245.1,466.7 238.3,471.4ZM366.8,421.5 357.8,426.8 353.7,426ZM339.8,435.8 338.5,438.8 333.7,440.6ZM261.7,473.1 258.1,474.9 247.2,472.5ZM376.1,426.4 372.9,429.1 362.6,432.8ZM290,448.3 287.3,451 281.9,451.6ZM372.3,416.4 370.2,418.6 360.9,423.5ZM254.6,467.5 253.1,470.4 249.8,472.1ZM375.8,424.3 373.4,425.6 367.3,422.8ZM246.1,470.8 238.1,475.2 233.6,475.8ZM322.4,441.4 327.1,441.9 334.9,446.3ZM389.4,411.5 386.8,414.8 379.7,414.4ZM390.4,421.9 382.5,423 376,420.1ZM313.9,440.2 316.6,438.6 323.6,437.6ZM230.7,472.8 235.4,470.3 245.5,471.9ZM343.4,421.2 350,422.3 353.7,424.4ZM348,421 349.5,418.4 356.8,415.4ZM398.7,402.2 390.2,409.1 385.7,409.4ZM251.2,466.7 249.5,468.8 243.2,469.9ZM363.2,433.9 359.9,437.2 355.5,436.9ZM297.9,455.3 305.1,450 308.4,450.1ZM359.4,427.9 355,431 349.4,429.8ZM397.6,411 394.9,412.4 390.2,410.6ZM287.8,451.6 289.8,449.5 295,447.8ZM292.8,444.5 291.7,447.2 285,447.8ZM366.2,429.9 368.1,426.1 372.7,424.5ZM360.3,422.7 363.6,420.5 374.4,421.2ZM394.2,415.1 395.6,413.7 400.7,413.1ZM347.2,427 351,421.6 353.2,421ZM377.7,413.5 374.5,416.4 371.1,417.4ZM356.2,419 354.6,422.6 349.7,425.9ZM312.3,443.6 316,439 321.4,436.7ZM271.9,460.2 272.7,457.5 279.2,451.1ZM339.3,429.5 337.2,433.2 327.9,437.1ZM251,469.5 246.3,469.3 243.6,467.7ZM357,431 364.2,427.9 371.9,426.4ZM344.5,432.2 348.9,430.6 350.6,432.6ZM344.8,432.6 343.1,435.9 339.5,435.5ZM314.7,438.9 312.4,441.1 306.4,439.4ZM320.9,445.1 324.1,442.1 333.2,440.2Z" fill="rgb(165,22,24)" fill-opacity="0.65"/>
<path d="M410.8,412.1 405,415.6 398.7,415.8ZM407.2,405.9 404.6,408.1 400.2,407.2ZM348.4,432.1 355.1,428.9 357.4,429.2ZM321.9,448.1 313.9,449.8 306.3,448ZM336.2,439.9 327.3,441.8 320.4,440ZM379,413.9 374.8,419.6 371.1,420.4ZM349.4,426.5 345.3,429 341.4,427.4ZM254.2,457.8 250.7,462.4 244.4,463.7ZM328.5,448.5 322.3,449.4 317.9,446ZM399.2,409.8 402.8,408.7 405.6,411.4ZM301.4,445.9 305.4,443.1 313.8,441.1ZM248.2,471.1 240.1,471.9 234.7,468.8ZM377,419.5 379.5,413.7 382.9,411.1ZM408.8,409 408.9,411.8 403.6,414ZM394.9,416.4 392.1,418.2 387.5,415.7ZM303,446.1 304.4,443.8 312.7,442.3ZM341.7,428.8 338.8,433.8 335.9,435.1ZM333.8,436.3 330.3,438 322.3,436.6Z" fill="rgb(165,22,24)" fill-opacity="0.80"/>
<path d="M307.3,444.6 314.4,444.1 322.1,448.6ZM359.7,425.7 353.4,427.3 351.1,425.8ZM340.1,427.1 337.4,430.3 334.6,429.5ZM347.8,433 343.2,434.2 334.9,431.2ZM296.9,450.6 291.6,456.7 285.5,459ZM289.3,459 291.5,456.6 295.7,457.3ZM362.7,417.6 364.9,414.8 369.5,413.6ZM412.2,411.5 408.6,412.6 398.8,406.6ZM398,412.5 397.6,415.1 392.1,415.5ZM346.3,427.3 338.3,433.1 334.9,433.3ZM295.3,445.6 293.9,447.1 289.3,447.2ZM362.3,430.5 357.8,433.2 355.7,433.1ZM243.1,473.4 249.8,467.4 256.4,466.5ZM291.6,460.4 297,454.6 299.7,455.1ZM348.1,431.1 354.9,430.6 358.6,432.5ZM379.4,412.2 390.1,410.5 395.2,411.1ZM264.7,473.4 265.9,468.9 269.7,468ZM338.8,424.3 346.3,424.2 348.1,426.1ZM365.5,423.9 368.5,422.5 375,422.4ZM392.7,421.3 387.6,422.6 382.7,422ZM311.7,438 311.5,440.4 306.7,445.4ZM238,469.6 241.8,466.9 244,467.2ZM250.2,465.7 241.9,470.6 235.8,470.5ZM252.8,460 260.3,456.6 263.5,457.4ZM264.2,472 256.9,475.5 252.6,474.5ZM384.5,408.9 390.3,408 393.4,410.6ZM246.7,467.7 245.4,472.2 243.2,474.8ZM336.8,436.9 331.2,441.6 328.4,441.8ZM309.3,444.1 308,446 302.9,447ZM345.6,435.2 350.4,432.6 353.6,433.8ZM372.6,416.5 375.8,408.8 379.2,404.5ZM317.6,453.3 319.1,450.6 324.3,447.3ZM328.6,430.7 333.7,428.3 342.9,429.5ZM399.8,410 393.5,411.7 388.1,411.7ZM251.6,465.6 258.4,464.7 264.8,465.9ZM374.4,420.3 374.5,422 370.8,425.6ZM404,400.5 409.4,399 418.3,401ZM329.2,440.5 328.4,444.4 319.8,449ZM266.9,462.6 261.7,464.7 257.3,463.9ZM378.1,407.8 380.3,405.7 386.3,405.4ZM370.4,429.7 373.2,425.4 379,421.1ZM265.3,461.9 263.4,464.5 257.4,466.8ZM340.1,432.3 346.9,428.2 351,428.3ZM289.7,458.4 283.9,459.6 282.1,458.3ZM257.8,467.3 261.1,460.9 265.5,456.6ZM327.9,444.9 321.6,449.1 315.9,448.4ZM311.7,435.2 314.8,432.7 321.2,431.2ZM411.3,403.8 407.4,405.3 401.3,404.5ZM250.8,463.3 249.5,467.1 245.8,467ZM333.8,435.6 336.5,431.8 345.1,425.2ZM371.4,420.5 375.4,417.2 383.7,415.1ZM349.1,429.3 343.6,431.2 334.9,432.1ZM300.7,448.8 297.2,453.1 289,456.6ZM327.7,438.2 336.1,438.8 342.4,441Z" fill="rgb(165,22,24)" fill-opacity="0.75"/>
<path d="M247.5,465.6 240.8,468.7 233.9,468.9ZM304.5,451.2 297.1,457.6 293.8,458.1ZM403.8,409.2 408.8,406.1 413.1,406.8ZM373.5,427 370,432.2 367.6,432.9ZM383.4,403.5 386.8,402.3 391,406ZM324.4,439.2 331.9,437.4 336.4,439.7ZM386.7,413.4 385.5,417.2 377.2,422ZM398,414.5 391,417.9 388.3,415.9ZM256.5,456.6 258.6,453.8 264.5,454.3ZM286.7,456.9 286.2,459.7 281,461.3ZM335,438.9 333.9,442.3 325.5,445ZM246.9,469.7 248.6,467 253.4,464.5ZM337,437.3 332.6,440.4 327.9,440.5ZM372.4,425.1 381,419.8 383.8,419.5ZM261,469.5 265.4,465.4 270.7,464.5ZM283.8,452.4 285.4,449.3 292.4,447.3ZM350.5,427.9 349.9,430.2 345.3,432.5ZM294.2,448.3 290.9,453.7 287.7,454.6ZM367.6,420 373.7,417.5 379,417.4Z" fill="rgb(165,22,24)" fill-opacity="0.35"/>
<polygon points="147.1,529.6 149.3,528.1 154.2,530.8 158.6,532.2 160.7,526 165.1,530 169.9,527.2 175.6,530.8 181.2,528.9 185.9,526 190.3,524.7 195.8,527.7 198.8,524.6 202.9,524.4 205.3,517.9 209.3,516.4 214.4,517.7 217.9,514.5 222,513.1 225.7,511.3 230.2,512 234.8,512.4 238.9,511 243.1,512.4 245.6,512.3 247.4,509.9 250.6,505.6 252.8,507.4 255.5,505 256.7,500.3 255.4,498 252.6,497.5 248.9,497.4 244.6,494.4 240.1,496 235.3,496.4 230.6,497.7 225.3,496.6 220.7,497.4 216.3,498.8 212.2,499.8 209.8,504.9 206.4,507.3 202.6,509 196.8,504.3 193.8,509.2 188.5,507.1 186.2,512.8 181.8,510.8 179.4,517 174.8,515.4 169.7,510.2 164.1,511.2 158.4,512.5 153.5,515.7 149.6,519.1 146.3,521.2 145.3,525.4" fill="rgb(165,22,24)" fill-opacity="0.1575" />
<polygon points="146.6,528.4 149.3,528.1 153.2,528.2 157.3,528 161,528 164.8,524.3 169.9,526.1 175.3,525 180.4,523.3 185.1,522.9 189.9,523.6 193.9,522.5 197.7,521.4 201.3,518.9 205.6,518.9 208.8,514.8 213.4,514.9 216.8,511.8 221.7,512.4 225.5,510.8 228.6,507 233.6,508.2 237.7,506.3 241.6,504 245.1,503.5 248.1,504 251,504.2 253.5,504.8 255.8,503.6 256.4,501.6 254.8,500.2 252.2,498.9 248.9,497.3 244.8,496.6 240.7,498.8 236.2,499.9 231.2,499.7 227.4,503.1 222.6,502.9 218,503 215,506.9 211.1,508.4 206.7,508.4 202.8,509.5 198.6,510.2 194.2,510.4 190.2,512 187,515.2 183.5,517 179.6,518.3 175,519.4 169.8,519.3 164.5,518.1 159.4,518.4 155,520.8 150.8,522.2 147.7,524.3 145.8,526.5" fill="rgb(165,22,24)" fill-opacity="0.315" />
<path d="M178.9,525.7 183.6,523.1 189.8,525ZM183.1,522.9 180.4,524.2 174.8,523ZM227.7,507.9 231.9,505.7 243,503.9ZM232.2,504.8 235.2,501.9 243.5,499.4ZM219.3,506.4 214.8,511.4 212.2,511.4ZM156.1,522.2 161.2,519 168.2,517.3ZM217.6,508.5 220.4,504.5 223.6,504.8ZM173.3,519.5 179.1,513.9 183.4,512.5ZM144.1,521.7 147.1,520.5 154,521ZM202.1,512.5 207.4,511.2 213.9,512ZM251.5,497.3 254.3,497 258.7,500.9ZM160.5,520 154.5,522.9 150.1,523.3ZM225.9,500.8 229.7,497.3 231.7,498.7ZM235.7,500.6 237.6,499.4 244,501ZM193.6,519.5 195.9,517.3 201.6,515.6ZM205.3,508.7 202.1,510.3 191.9,511.9ZM237.4,499.1 240.1,496.9 246.4,496.1ZM214,515 207.2,518.9 202.3,517.6ZM190.6,509.7 184.4,518 178.9,519.7ZM208.9,509.1 216.1,507.5 220.5,509.2ZM177.5,518.9 185.6,512.9 189,513.3ZM235.8,498.2 226.6,504 222.6,504.2ZM195.5,514.3 190.3,519.7 186.3,519.7ZM212.7,516.2 217.2,513.6 219.2,514.7ZM216.9,507.3 215,510 210.3,511ZM243.9,495.5 246.8,494.2 251,495.5ZM200.7,520.6 206.3,514 211,511.3ZM143.1,537 145.7,534.6 156.1,534.3Z" fill="rgb(165,22,24)" fill-opacity="0.40"/>
<path d="M259.1,502.4 251.5,501.4 250.3,499ZM236.3,500 234.7,502.7 230,504.9ZM185.3,520.5 182,523.5 179.5,522.8ZM175.5,520 178.4,518 190.1,517.2ZM247.7,504.1 238,504.3 233.3,503.1ZM176.8,514.1 170.5,516.1 167,513.8ZM196.6,519.6 194.5,522.9 184.5,524.4ZM180.4,520.7 177.5,522.7 165.7,524.1ZM229.8,504.6 227.4,505.5 223.7,504.9ZM164.2,516.8 173.1,518 175.5,519.5ZM217.8,510.3 212.9,514.2 209.6,514.6ZM183.7,510.6 178,514.3 172.2,513.3ZM246.1,499.5 252.4,499.9 257.5,502.4ZM159.5,524.2 148.9,526.5 144.4,526ZM171.8,517.8 180.5,515.1 187,516.4ZM222.1,505.4 211.7,508.2 207.3,507.2ZM213.3,506.8 210.4,509.6 197.9,509.4ZM259.7,497.6 250.6,499.5 245.5,497.4ZM239.5,504.8 231.6,508.2 228.6,506.7Z" fill="rgb(165,22,24)" fill-opacity="0.55"/>
<path d="M158.4,524.9 155.3,530.5 147.4,535.9ZM165.8,522.2 166.9,519.5 171.8,518.9ZM212.4,508.5 208.9,511.8 198.6,514.3ZM161.6,520.1 156.6,522.4 146.9,524.1ZM246.9,502.1 251.8,501 253.7,503.2ZM212.5,510.5 219,506 227.1,504.8ZM244.4,503.9 242.6,506.1 233.6,510.3ZM215.1,511.1 213.1,514.4 207.9,514.5ZM183.4,522.6 189.2,521.5 195.9,523ZM191.2,511 185.5,518.3 182.6,518.5ZM150.2,522 153.7,519 159.6,518.8ZM199,513.7 202.4,513.9 205.7,517ZM236.2,505.8 232.8,506.7 221.9,503.3ZM219.3,502.4 209.4,507.3 204.4,506.5ZM157,523 164.5,521.1 172.4,521.6ZM185.5,520.1 196,522.3 198.4,525.6ZM234,504.6 236.6,501.8 248.3,498.4ZM250.2,498.5 246.4,500.9 242.2,501.2ZM203.2,513.2 201.1,513.3 197.3,510.7ZM205,517.6 209.7,513.8 215.7,514.4ZM203.7,511.9 206.1,509.3 213.8,510.5Z" fill="rgb(165,22,24)" fill-opacity="0.60"/>
<path d="M172,519.1 164,518.3 159.4,515.8ZM197.1,517 203.3,514.5 210,514.3ZM154,520.1 152.5,521.9 146.1,520.6ZM188.9,517.1 191.1,512.5 193.4,512.3ZM225.1,500 221.2,502.7 219,502.6ZM189.6,519.8 191.9,517.9 197.9,518.1ZM171.2,515.3 168.4,517.3 164.2,517.2ZM229.4,499.5 238.7,495.6 242.2,497.1ZM164,527.9 163.4,530.6 158.4,530.5ZM211.6,505.6 219.6,500.7 224.4,500.6ZM149.9,520.4 155.3,518.2 157,519.5ZM153.5,525.5 155.6,523 160.8,522.6ZM217.6,507.6 214.9,511.7 210.4,513ZM219.2,507.5 223.8,503.9 231.9,501.5ZM250.7,509.5 254.9,508.6 257.7,509.9ZM181.8,515.2 190,514.4 194.8,516.6ZM205.7,519.6 208.6,516.5 219.7,513.4ZM190,512.4 193.7,508.4 198.4,508.7ZM190.8,522.5 191.2,519.2 195.4,517.9ZM237,501.3 246.4,502.2 251.1,506.5ZM182.8,522.3 192.9,518.1 197,518ZM175.5,522.1 180.6,519.1 184.4,518.8ZM196.4,515.3 203,509.1 206.5,509.4ZM235.6,493 242.2,493.2 244.1,495.3ZM167.9,520.2 172.4,518.4 173.9,519.2Z" fill="rgb(165,22,24)" fill-opacity="0.70"/>
<path d="M228,503.4 236.1,503.9 242,505.7ZM230.7,505 240.6,504.1 246.3,505ZM147.6,523.7 150.3,519 153.5,519.5ZM217.5,502.5 214.8,503.9 207.6,504ZM218,505.8 223.3,504.8 225.3,507.1ZM213.3,510.3 221.7,508.7 223.9,510.2ZM174.9,523 168.9,524.3 162.8,523.9ZM162.9,520.9 165.5,520.8 170.6,523ZM163.3,520.5 166.9,518.4 170.2,520.8ZM203.5,510 211,504.2 215.8,504.6ZM158.5,521.8 158.8,518 167.3,509.4ZM227.1,513.4 220.5,515 214.8,513.4ZM197.3,506.5 189.5,510.2 185.3,510.8ZM208.5,514.2 205.7,518.9 203.5,518.7ZM201.7,513.8 196.5,516.5 193.7,515.1ZM209.3,510.7 215.2,508.3 222.9,508.8ZM191.3,515.8 196.9,512.5 206.4,513.5Z" fill="rgb(165,22,24)" fill-opacity="0.50"/>
<path d="M191.5,516 187.9,518.4 185.5,516.8ZM174.7,520.9 177.4,517 180,517.1ZM244.7,496.3 241.8,498.7 231.4,499.4ZM234.2,494.8 225.3,501.1 222.1,500.4ZM208.1,515.8 204.2,519.5 195.9,519.7ZM148.2,520.9 149.1,519.7 154,518.4ZM195.5,519.6 195.5,522.2 189.8,523.9ZM247.7,501.1 244.4,502.3 237,500.4ZM156.4,518.3 164.2,515.2 169.7,515.5ZM236.3,499.7 233.3,505.3 228.1,506.9ZM184.3,523.9 186.3,521.6 190.3,521.3ZM242.2,497 237.1,502.4 234.7,502.3ZM224.5,501.6 223.3,504.8 217.6,508.4ZM229,506.8 233.8,504 241.2,503.1ZM244.1,497.9 249.5,498 257,504.6ZM261.3,499.5 256.3,500.9 249.3,497.4ZM186.2,511.9 188.6,508.8 193.2,509.4ZM244.4,498.2 249.2,499.2 250.3,502.2ZM246,496.1 248.1,494.5 252,496ZM159.3,521 166,518.6 172.1,518.9ZM148.7,524.5 153.4,522.7 160.9,522.6Z" fill="rgb(165,22,24)" fill-opacity="0.45"/>
<path d="M246.7,506.8 239.2,508.7 233.6,507.8ZM236.5,509.7 239.5,507.6 246.3,505.8ZM213.5,515.9 208.1,520.3 204.2,521.2ZM210,509.9 214.7,507.8 217.4,509ZM153.3,521.5 156.4,519.7 162.2,522.7ZM216.7,509.2 218.3,507.8 223.5,507.3ZM177.1,524.7 185.9,516.7 189.6,516.9ZM168.6,522.3 159.7,522.5 155.9,519.8ZM242.6,499.8 250,500 256.1,503.9ZM240.8,502.1 234.8,502.8 226.9,498.7ZM171.7,522.7 167.6,524.5 163.9,523ZM204.6,511.2 210.7,509.4 212.4,509.9Z" fill="rgb(165,22,24)" fill-opacity="0.65"/>
<path d="M144.2,522.4 150.4,521.1 152.1,522.5ZM167.2,521.1 163.3,524.5 159.9,523.2ZM191.4,524.8 195.3,520.6 203.5,516ZM181,519.8 183.4,517.8 189.6,520ZM211.7,509 217.2,507.8 224.2,508.6ZM224.2,505.9 220.5,509.9 217.8,509.7ZM179.6,518.6 186.5,514.6 189.4,516.1ZM243.3,499.9 241.4,502.7 236.4,501.9ZM191.8,520.5 187,521.2 180.9,518.9ZM226.1,513.8 224.8,516.5 217.5,517.3ZM230.3,502.1 226.8,505.3 224.5,503.9ZM199,516.4 201.5,514.8 208.3,515.6ZM226.7,508.1 233,505 239.5,504.7Z" fill="rgb(165,22,24)" fill-opacity="0.35"/>
<path d="M204.8,509 201.7,512.3 195.1,512.7ZM154.3,524.7 160,523.3 162.4,524ZM246.6,501 241,503.6 238.4,502.9ZM220.1,508.2 224.5,503.6 230.8,500ZM197,509.2 194.5,513.8 190.2,515.2ZM181.7,513 189.3,513.2 192,516.5ZM181.4,518.2 187.8,516.3 192.8,519ZM210.5,505.4 215,507.5 221.1,512.9ZM182.6,523.2 176.4,521.3 172.4,517.8ZM249,498.2 242.4,500.4 237.6,498.2ZM228,505.6 221.5,512.8 216.5,516.1ZM233.8,515.2 227.4,512.7 222.1,507.9ZM168.5,516.7 162.4,519 157.8,518.7ZM147.4,529.8 150.5,521.9 154.8,516ZM210.7,512.4 214.2,510.4 223,511.2ZM252.7,501.9 258,500.3 259.9,501.7ZM187.8,524 183.6,526.6 176.2,525.9ZM158.9,522.2 156.2,524.7 152.1,522.5Z" fill="rgb(165,22,24)" fill-opacity="0.75"/>
<path d="M233.4,498.8 231.5,501.3 225.2,504.1ZM241.7,511.8 247.7,508.6 252.3,508.3ZM246.5,501.7 252.1,501.9 258.6,504.8ZM193.3,511.9 196.8,507.6 199.4,508.4ZM151,524 157.4,520.5 160.3,521.6ZM236.3,512.3 240.3,508.6 247.7,508.5ZM257.6,510.6 253.5,508.5 251.8,504.7ZM196.5,516 202.8,512.9 207.8,513.1ZM182.4,517.9 179.6,518.2 176.3,516.1ZM163.9,522.6 166.8,519.8 171.7,520.5ZM161.6,520.7 163.9,518.9 169.8,518.6ZM166.8,514.1 174.3,511.8 176.9,512.8ZM209.6,508 207.8,515.2 204.6,518.1Z" fill="rgb(165,22,24)" fill-opacity="0.80"/>
<polygon points="242,503.5 244.5,505 248,507.4 250.1,514.6 254.5,515.3 256.1,521.7 263,516.9 267.6,517.7 268.9,526.9 274,526.7 279.9,523.3 284.3,524.1 288.7,526.7 291.5,536.6 297.7,528.6 300.3,530.8 302.9,533 303.7,539.8 311.6,534.2 314.7,537.3 314.8,545.3 320.4,542.9 325.4,543.5 328.1,551.1 335.4,547.5 342,546.8 345.2,547.3 346.3,553.6 349.1,556.2 353.6,553.6 356.6,556.5 359.6,559 363.4,559.2 365.4,564.6 371.9,556.2 373.4,561.8 376.4,563.1 380.1,562.6 381.3,568.3 385.1,567.9 387.7,569.5 392.7,565.5 396.2,571.7 400.9,572.1 405.4,569.4 407.9,569.7 410.4,566.5 411.8,560.6 410.7,557.5 407.9,559.3 406.1,554.7 402.1,555.2 398.8,549.9 398.5,542.9 392.1,550.4 390.8,544.7 386.1,547.4 383,545.8 382.5,536.8 376.5,542.7 374.3,538 371.3,535 368.1,532.9 363.8,534.4 360.6,532.4 355.4,537.8 355,528.7 352.5,526.8 347.6,531.6 340.9,533.3 338.9,523.8 334,523.4 328.2,526.5 327.5,519.7 324.2,516.7 316.3,522.2 312.9,514.4 307.9,518.4 307.1,510.8 301.6,516.9 299.2,514 296,505.5 291.1,504.3 286.7,503.5 282.4,503.5 276,508.8 273.8,503.2 270.1,501 264.3,503.4 260.9,500.1 255.5,501.1 250.9,500.1 247,498.7 244.4,497.4" fill="rgb(165,22,24)" fill-opacity="0.1575" />
<polygon points="242.2,503 244.9,504.1 248.1,507.1 252.5,508.5 256.5,510.6 259.5,514.2 264.2,514.3 268.3,516.1 271.7,519.7 277,518.4 279.4,524.7 284.2,524.6 289.2,525.2 295.3,525.3 298.5,526 300.4,530.4 304.4,528.5 306.4,532.3 311.5,534.4 316.9,532.5 320.3,534.1 322.2,539.1 327,539.6 332.2,540.7 336.7,544.3 341.4,548.6 344.5,549.1 349,545.8 351.2,550.1 353.8,553 357.5,553.7 362.2,551.1 365.9,551.6 368.2,556.4 371.2,558 375.9,555.1 377.6,560 381.8,558.3 383.9,562 388,560.5 389.5,565 393,564.8 399.2,563.3 402.8,565.8 406.5,564.9 408.7,566.2 410.6,565.5 411.5,562.1 409.6,562.2 407.5,560.9 404.5,560.1 401.8,556 397.4,553.5 393.8,554.5 392,550.8 387.8,552.2 385.8,548.1 381.8,548.8 379,546.6 375.1,546.8 371.9,545.3 368.8,542.6 365.2,541.8 362.4,538.7 357.4,542.2 355,538.8 351.5,538.6 349,536.6 345.6,537.2 339.9,535.9 335.8,531.7 332,528 327.2,528.5 324.4,526 320.8,524.1 316.3,522.1 309.7,523.2 307.6,519.5 303.9,520.1 300.9,518.9 298.7,515.4 293.3,513.3 288.3,512.5 283.4,513.1 279.4,511.9 275.9,509.2 273.2,504.6 268.9,503.8 265.1,501.5 259,504.6 254.9,502.7 251.1,499.4 246.5,499.9 243.6,499.6" fill="rgb(165,22,24)" fill-opacity="0.315" />
<path d="M384.6,562.5 391.5,563.7 392.8,566.1ZM394.7,554.5 399.5,554.7 400.8,556.1ZM343.2,540 347.7,540 352.9,544.7ZM380.3,561.6 384.7,562.5 394.1,568.9ZM359.3,549.7 357.1,550.7 353.6,547ZM405.5,559 409.6,559 413.9,564.5ZM329.9,540 336.3,539.9 339.2,541.4ZM282.6,517.5 285.7,517 288.8,522.8ZM347.6,543.3 344.5,544.6 341,544ZM264.6,504.9 260.5,506.2 253.5,504ZM269.4,513.8 263.3,509.8 260.9,505.1ZM305.5,519.3 298.4,520.6 296.1,519ZM331.6,530.8 334.6,529.9 342.7,531ZM298.4,520.6 304.4,520.1 306.4,521.9ZM306.5,525.3 309.9,525.3 319.3,530.1ZM331.4,530.1 325.5,532.3 316.1,530ZM398.5,561.8 403.5,560 414.2,560.6ZM362.4,556.2 354.4,550.4 351.2,545.5ZM285.1,522.5 292,520.7 297.6,522.8ZM354.5,548.2 349.2,548.4 345.5,544.8ZM415,567.8 407.5,567.1 400.5,562ZM332.2,539 337,538.3 339.6,541.6ZM321.6,536.4 317.8,537.7 315,534.4ZM263.9,513.7 266.5,513.6 273.2,517.1ZM330.3,538.1 334.9,536.8 342.3,540.1ZM258,502.1 251.4,503.2 247.1,502.4ZM394.6,560.9 398.5,559.3 400.8,561.6ZM410.4,563.4 404.1,562.7 401.7,561.1ZM311.5,532.9 305.4,532.8 300.5,528ZM353.5,544.7 349.3,544.7 342.2,541.3ZM293.1,517.1 300.5,514.3 303.4,516.5ZM325.5,531.3 314.7,530.6 311.3,527.4ZM338.2,533.1 344.1,535.9 348.1,541ZM384.4,554.2 388.9,554.4 396.6,560ZM268.3,515.3 271.6,513.8 276.7,514.2ZM268.5,504.6 258.9,505.6 254.9,503.1ZM300.1,518.9 304.5,518.3 309.5,522.8ZM261,501.8 256.2,502 253.1,498.9ZM269.6,508.2 265.9,508.3 262.9,505.9ZM352.3,549.3 349,547.9 343.8,541.5ZM310.6,526.3 318.6,530.5 320.4,534.2ZM294,525 301.3,523.5 305.9,525.4ZM265.7,498.4 255.8,502.5 250.9,502.2ZM337.3,533 339.2,532.6 343.8,535.3Z" fill="rgb(165,22,24)" fill-opacity="0.40"/>
<path d="M397,565.7 407,569.1 411.5,572.4ZM362.5,548.7 364.4,548.3 369.1,552ZM346,542.9 350.1,542.6 357,548.3ZM326.5,525.9 331,526.8 337.1,531ZM299.5,518.2 303,518.5 310.7,522ZM369.3,559.2 372.6,558 377,560.3ZM286,521.2 294.1,522.6 296,526.2ZM366,544.1 361.9,545.6 355.9,545.3ZM269.5,507.7 278.9,507.7 284.7,509.8ZM337.5,533 327.2,533.2 323,531ZM387.5,557.5 380.5,559.7 371.7,558.3ZM382.7,562.4 388.1,559.3 389.8,561.4ZM301.7,515.8 304.4,516 308.1,518.5ZM330,538.8 334.2,538.2 337,542.1ZM297.9,517.9 306.4,519.2 308.1,520.9ZM296.7,522.1 301.7,521.2 306.8,524.2ZM399.5,570.9 395.4,568.9 387.9,561ZM375.1,545.1 371.4,545.8 362.8,542.9ZM361.2,551.5 369.4,546.4 375.9,545.7ZM344.5,537.4 338.5,535.3 332.3,530.1ZM297.9,519.2 294.1,519.4 291,515.1ZM327.9,534 324.3,534.8 313,533.8ZM301.8,517.2 297.6,517.2 295.7,513.6ZM402.5,576.4 397,578.2 394,576.3ZM346.3,541.9 353.9,545 354.8,547.9ZM255.6,504 263.7,512.3 264.6,516.5ZM334.5,531.3 329.5,530.8 324.4,526.1ZM312.7,528.4 319.8,534.3 321,537.1ZM300.3,517.9 296.1,517.7 289.2,514.4Z" fill="rgb(165,22,24)" fill-opacity="0.35"/>
<path d="M290.6,515.4 298.6,516.1 303.4,518.2ZM313.5,522.7 311.1,525.2 303.2,524.6ZM299.7,527.9 302.8,526.8 307,528.9ZM376.9,557.2 368.9,556.3 365.4,552.2ZM286.8,522 285.1,524 280.7,522.7ZM301.4,514.1 292.8,512.7 286.2,509.5ZM370.4,561.2 374.4,559.3 379.1,560.9ZM286,510.9 281.5,512 280,511ZM316.7,523.2 319.4,524.2 320.9,527.7ZM257.7,507.7 250.2,506.5 244.8,503.3ZM341.5,546.6 334.2,543.7 328.4,538.6ZM400.6,559.9 395.3,560.4 394.1,558.5ZM323.2,538.5 312.5,534.8 310.3,532.6ZM243.2,505.4 250,507.9 253.9,513ZM315.3,523.9 312.1,525.1 301.7,522.5ZM272,511.1 269.4,512.1 264.4,510.2ZM305.2,520.2 295.6,521.1 289.8,517.7ZM280.8,518.3 284.7,518.7 285.5,522.9ZM383.2,545.4 377.9,545.1 371.9,541.2ZM255.8,503.1 250.8,503.4 242.9,499ZM351.6,546.1 345.7,547.1 336.2,543.6ZM297.4,525.3 286.5,521.9 283.5,518ZM413.3,567.5 411.2,568.4 407.2,566.9ZM276.5,517.5 268.5,515 265.7,512.8ZM266.4,504.9 258.8,501.7 255.3,495.7ZM301.8,520.3 295.9,519.3 289.7,513.6ZM284,514.2 292.2,515 295.8,516.9ZM260.6,509.8 269.4,508.8 271.6,510.3ZM239.5,508.1 248.1,507.2 253.6,508.5ZM330.2,541.9 339.5,542.1 341.8,544.1ZM297.6,520.6 293.9,520.5 290.3,516.6ZM275.3,509.8 269.5,509.4 267.6,507.7ZM252.8,496.6 242.8,495.7 238.2,492.8ZM357.2,544.4 365.7,545.5 368.3,547.6ZM346.2,544.6 339.5,541.3 339.4,538.2ZM291,524.7 299.8,524.7 303.9,527.1ZM325.3,531.1 318.3,530.1 314.6,527ZM343.4,542 340,544.1 336.8,541.9ZM404.5,566.8 409.4,567.7 412,569.5ZM399.1,564.2 395.8,565.1 392.5,562.7ZM247.6,503.5 244.4,505.3 235.9,504.8ZM330.7,531.2 323.8,531.3 319.7,528.8ZM294,516.6 299,517.1 301,521.3ZM273.2,510.6 270.9,511.4 266.5,508.9ZM351.6,550.3 356.3,548.8 361.9,551.6ZM270.6,510.5 279.6,512.6 284.8,516.2ZM318.2,531.7 310.2,531.1 303.5,528.2ZM303.4,522.8 307.5,523.3 311.9,528.8ZM409,561.8 398,561.2 393.7,558.4Z" fill="rgb(165,22,24)" fill-opacity="0.70"/>
<path d="M379.2,551.9 383.7,551.2 386.4,553.3ZM311.1,534.5 315.3,536.2 318.5,544.5ZM366.8,537.5 370.8,536.5 374.5,540.1ZM334.2,535.7 337.8,535.6 341.6,540.4ZM414.8,566.8 407.6,559.3 405.1,554.8ZM301.6,524.9 306.3,526 307.7,530.7ZM307.3,527 303.4,528.1 300.5,526.5ZM250.9,501 255.9,501.1 263.7,504.7ZM389.9,558.5 396.6,560.1 397.1,562.8ZM326.9,534.1 331.3,533 342.3,535.1ZM300.5,518 308.8,514.2 312,515.4ZM391.7,548.9 395.9,548.5 403.3,552.5ZM374.3,557.8 381.1,559.5 383.2,562.3ZM281.8,512.9 277.6,512.7 275.4,509.2ZM340.6,534.7 336,535.5 333.7,533.2ZM358.5,542.1 369.3,544.1 372.3,547.2ZM347.9,543.5 352.2,545.2 353,546.9ZM400.3,545.4 405.8,549.4 407.7,553.9ZM273.2,515.4 279.1,514.3 280,516.9ZM271.9,507.2 276.9,510.2 280.3,515.7ZM264.8,518.6 269.1,519.8 270.3,523ZM336.1,543.8 330.7,539.1 327.4,534.2ZM311.5,517.2 315,515.7 319,519.1ZM252.1,501.9 247.8,501.9 244.7,499.6ZM301.7,522.5 303.9,521 308.6,523.9ZM415.9,567.7 405.7,564.4 402.3,561.3ZM267,520.1 262.8,510.4 262.5,505.9ZM417.3,570.6 410.1,571.7 402,568.9ZM286,519.8 279.5,519.9 271.2,514.6ZM343.5,541.7 348.6,541.5 350.3,543.1ZM391.3,555.2 393.8,554.5 397.5,555.9ZM272,508.8 282,510.2 286.8,514.6ZM296.7,519.6 304.4,525.3 307.5,531.4ZM299.8,519.8 303.3,521.3 311.8,529.4ZM350.5,537.4 353.7,537.4 356.8,541.2ZM370.8,542.3 362.8,539.8 361.2,536.2ZM340.1,537.1 344.6,536.9 349.6,541.2ZM307.9,537.1 304,535 303.7,530.9ZM377.3,546.1 371.9,548.2 366.1,545.7ZM250,499 257.5,499.6 263.8,502.7ZM352.1,543.3 345.9,542.6 339.3,536.4ZM396.8,566.5 393.1,567.3 390.8,564.9ZM282,518.5 277.3,516.3 276,513.3ZM367.1,549.5 370.3,549.7 373,552ZM310.2,524.7 312.7,524.2 318.9,528.3ZM314.1,528.4 307.2,529.4 301.5,528.6ZM343.3,531.5 345.7,532.6 351.1,539.6ZM289.9,514.9 287.5,515.5 283.6,512.3ZM347.2,542.4 345.4,544.3 340.5,541.2ZM301.3,513.8 298.4,515 287.3,514.3Z" fill="rgb(165,22,24)" fill-opacity="0.65"/>
<path d="M257.2,506.4 251.8,505.2 246.3,502.1ZM398.5,558.2 395,556.4 395.2,551.7ZM266.4,503.6 273.4,502.9 278.5,504.1ZM282.5,512.9 279.9,515 270.5,514.1ZM341,534.8 337.2,537.1 325.8,535ZM386.7,549.8 383.2,550.3 377.8,545.6ZM361,533.3 355.1,534.1 346.3,531.9ZM242.5,497.3 251.5,496.8 254.4,498.4ZM395.3,572.3 398,573.9 401.6,579.1ZM260.6,501.3 262.9,500.6 266.7,502.8ZM289.3,521.8 285.9,522 279.9,518ZM260.1,507.3 251,506.4 247.6,503.2ZM295.1,508.9 298.4,507.4 301.3,510.3ZM378.7,554.3 383.6,554.2 388.6,558.9ZM405.6,562.2 402.3,562.2 394.7,558.8ZM319,532.1 324.2,530.5 329,532.7ZM289.7,528 300.9,528.8 304.9,531.4ZM256.6,500.4 260.5,503.9 261.4,508.9ZM355.9,535.9 347.4,539.5 344.1,538ZM360,543.4 363.4,543.2 369.6,549.5ZM343.3,540 337.8,540 336.5,538.1ZM294.7,519 300.3,522.1 305.6,529.9ZM299.1,520.4 302.4,518.6 310.2,522.2ZM271.3,507.6 275.2,509.8 277.3,513ZM238.9,498.2 246.7,498.2 251.4,500.8ZM288.1,522.7 282.9,522.8 277.9,519.6ZM300.6,522.9 297.3,524 290.1,520.6ZM256.7,509.8 260.3,510 270.4,516.1ZM343.3,538.9 350.1,537 355.1,539.5ZM402.8,561.7 407.3,561.3 413.3,565.6ZM403.4,562.7 397.6,563.6 393.8,560.8ZM413.2,558.4 404.9,560.2 401,558.2ZM419,558.3 414.3,559.2 406.6,554.5ZM250.3,499.4 247,503.4 243.5,504.1ZM255.8,506.5 244.8,504.3 242.6,502.2ZM400.1,570 405.9,568.3 410.6,569.3ZM350.6,538.8 354.4,539 358.4,541.8ZM363,551.7 356.5,554.6 351.7,553.2ZM307.7,528.4 314.9,527.4 317.2,529.3ZM386.7,563.1 393.5,558.6 397.7,558.9ZM365.7,539.6 372.3,540.4 378.4,543ZM327.2,528.9 333.3,528.2 339.6,530.1ZM281.1,517.4 274,518 269.7,515.4ZM297.5,514 294.5,515.1 291.7,512.1ZM286,516.4 284.2,518.6 278.6,516ZM358,538.3 354.6,539.4 345.8,536.8ZM278.1,506 274.3,507.8 267.7,504.6ZM348.2,551.7 355.8,550.4 360.2,552ZM298.9,526.2 296.8,526.9 291.8,524.3ZM332.7,527.1 330,531.4 325.7,531.2ZM283.3,515.5 274.4,517 267.8,516.5ZM415.6,565.6 410.6,564.8 401.2,558.6ZM367.3,544.6 366,545.7 361.3,544.8Z" fill="rgb(165,22,24)" fill-opacity="0.50"/>
<path d="M335.3,532.3 342.2,533.4 345.5,536.7ZM394.5,544.5 387.8,547.1 381.6,546.6ZM359.1,541.3 355.8,545.5 352.9,544.3ZM376.4,551.3 365.2,547.6 363.2,544.9ZM254.3,508.8 260.6,509.9 267.1,514ZM274.6,516.7 280.5,519.6 281.1,521.8ZM241.8,499.3 244.5,499.4 247.2,503ZM282.7,517.1 278.2,515.8 276.3,512ZM373.7,543 368.5,542.5 365.5,540.9ZM286.2,523.3 292.8,523 300.1,525.6ZM379.6,549.2 387.3,551.9 388.6,555.4ZM304,524 308.3,522.7 316.3,526.7ZM258,506.7 252.9,505.6 243.5,500.4ZM405.4,559.6 403.5,560.2 398.2,557.9ZM281.7,509.7 277.1,510.7 270.4,508.1ZM286.8,509.6 281.6,511.4 271.1,510.4ZM405.9,564.3 400.9,564.3 399.3,561.1ZM241,498.8 244.1,497.8 253.9,501.8ZM316,523.9 318.5,522.2 322.8,524.2ZM356.5,550.5 362.2,550.2 369.3,554ZM365.6,554.4 371,554.3 373.3,557.7ZM253.4,500.1 259.7,498.9 265.6,500.6ZM372,552.2 366.8,550.5 358.4,545ZM349.2,527.3 342.6,524.7 341.4,522.1ZM361.1,554.7 367.2,555.1 371.1,557.2ZM280,515.6 287,515.8 288.9,518.2ZM279.5,511.7 286.5,509.1 293.1,511.2ZM334,526.8 337.7,526.9 343.5,532.8ZM303.4,513.3 311.8,512 317.9,514.3ZM251.1,512.5 247.7,513.4 244.5,509.6ZM332.5,538.7 334.9,536.8 343.1,538ZM395.3,559.6 389.3,557.5 385.8,554.3ZM352.5,552.2 357.8,548.3 366.3,547.1ZM349.5,555.5 355.9,553.7 361.5,554.3ZM280,515.6 273.3,511 268.4,505.7ZM305.5,520 302.6,519.8 299,516.7ZM340.8,532.9 335.1,532.6 333.3,529.7ZM363.3,538.9 365.7,540.7 368.8,546.4ZM332,538.7 341,537.6 347.9,539.1ZM363.7,555 372.7,559.8 375.3,564ZM362.2,546.2 366.7,545.1 375.4,549.4Z" fill="rgb(165,22,24)" fill-opacity="0.45"/>
<path d="M324.9,534.4 319.8,533.7 314.4,530.9ZM342.8,551.1 348.4,550.2 351.1,552.3ZM313.2,530.8 315.5,530.1 319.5,531.6ZM382,556 389.8,558.5 391,560.8ZM309.8,532.6 319.9,527.7 323.3,528.8ZM315.3,524.4 310.9,523.8 302.9,518.8ZM318.1,538.3 314.3,537.4 305.2,529.4ZM358,545 350.3,546.3 343.8,543ZM383.5,553.3 389.7,554 398.4,558.8ZM367.7,547.5 371.7,546.5 376.6,548.9ZM368.7,544.5 364,545.8 354.2,541.7ZM269.1,516.3 266.8,516.5 261.6,512.5ZM267.6,500.8 272.9,499.9 280.4,504.7ZM365.1,539.2 370.6,541.2 373.9,545.6ZM288.6,510.3 290.8,511.5 294.8,517.8ZM382.2,548.4 386.8,548.1 388.5,550ZM379,547.5 376,545.2 371.5,537.9ZM305.5,532.9 311.9,536.1 314.3,538.8ZM250,504.5 246.4,504.5 242.9,501.3ZM270.4,509.2 264.7,508.7 263.8,506.2ZM366.8,553.5 358.1,545.4 357.5,542ZM292.7,516.1 298.6,519.9 299.5,523ZM261.2,505.6 266.1,508.6 269.9,516.7ZM272.6,503 265.8,505.3 263.1,504.1ZM416.1,561.8 413.4,564.5 402.2,566.8ZM266.9,517.5 261.6,516.2 260.7,512.7ZM384.2,556.2 389.5,556 392,558.6ZM369,547.1 363,543.1 359.3,536.5ZM254.4,497.9 257.9,498.7 260.5,501.1ZM404.9,559.5 397.8,561.2 393.6,560.7ZM313.1,525.4 321.8,526.5 327.7,531ZM330,534.1 334.4,533.4 339.3,534.8ZM377.4,546.6 383.4,547.1 386.7,549.8ZM256.9,501.4 260.3,501.5 264.6,505.1ZM310.5,525.2 303.3,523.3 302.4,520.3ZM381.1,552.7 386,555.3 387.2,558ZM236.5,504.4 240.7,502.8 249.9,504.4ZM390.5,548.9 394.3,549.3 400.3,557.6ZM252.4,505.1 248.7,505.5 245.8,504ZM236.7,499.2 240.6,498.9 249.9,501.4ZM276.5,511 272.7,512.2 267.8,508.5ZM288.1,514.8 281.8,515.6 277.8,514ZM365.4,551.2 361.1,552.1 350,551.6Z" fill="rgb(165,22,24)" fill-opacity="0.60"/>
<path d="M369.1,547.7 374.3,549.2 374.1,551.8ZM412.7,562.2 410.3,564.7 403.4,565.1ZM392,558 396.8,558.4 405.2,565.4ZM364.6,554.1 356.4,553.6 352.3,550.9ZM357.7,538.3 364.2,540.4 364.8,542.6ZM244.3,501.2 249.5,503.1 251.9,507.4ZM384.1,543 385.9,542.3 390.7,544.8ZM294,517.2 296.3,515.1 304.1,518.3ZM335.9,533.4 330.6,530.3 330.1,527.5ZM397.5,555.7 395.1,554.8 393,551.3ZM376,554.3 381.4,551 384,552.8ZM251.9,504.8 259,506.9 261.1,510.7ZM403.5,557.9 399.8,555.2 398.7,552.6ZM347.1,545.7 344.1,542.8 339.7,533.9ZM356.1,542.6 361.3,545.7 362.8,549.5ZM407.8,566.3 404.7,564.8 397.8,558.2ZM289,520.5 284.6,516.5 282.6,512.2ZM370,548.9 382.2,549.2 385,552.1ZM296.7,517.7 303.1,517.4 309.4,521.1ZM309.1,530.6 306.6,530.2 304,527.3ZM365,546.1 357,545.4 354.8,543.4ZM258,505.5 264.5,503.3 271.5,504.5ZM302.9,519.7 313.6,525 315.7,528.7ZM257.1,512 259.9,510.4 263.1,513.5ZM261.2,512 258.2,512.5 251.5,509.8ZM241.1,495.7 247.5,494.2 252,496.2Z" fill="rgb(165,22,24)" fill-opacity="0.80"/>
<path d="M384.5,556.8 388.3,557.3 396.2,563.6ZM363.5,543 358.8,542.8 351.8,539.9ZM413.1,563.1 411.3,563.3 406.6,559.4ZM253.1,499.1 257.3,499.9 258,503.1ZM281.7,522.7 290.8,521.5 295.6,523.2ZM393.1,560.5 386.7,560.3 382.4,556ZM374.3,551.5 372.4,552.5 367.4,552.3ZM255.6,499.5 252.2,500.9 247.6,497.1ZM367.7,538.4 365.7,539.8 358,539.4ZM255.5,498.2 250.4,497.5 244.6,495ZM366.6,547.1 357.1,544.9 353.7,540.5ZM305.3,524.4 312.6,522.6 320.2,525.2ZM302,532 307.4,528.4 312.1,529.1ZM417,557.3 407.7,558.1 404.8,556.3ZM271.7,515.2 273.5,516 275.6,520.6ZM268.7,518.7 265.5,519.3 262,515.3ZM302.1,517.9 298.9,520.8 295.1,520ZM390.9,560.1 387.3,560.3 378.9,552.8ZM347.1,544.7 353.8,543.8 360.8,546.1ZM403.7,561.2 398.6,562.7 396,561.6ZM300.4,531.1 296.9,531.1 294.2,528.4ZM342.7,532.1 348.5,534.7 353.4,540.5ZM241.3,498 247.6,498.8 253.5,503.2ZM352.9,554.5 357.3,554.2 362.1,556.2ZM383.4,559 378.6,558.1 374.6,553.5ZM280.7,514.6 277,511.3 271.9,501.8ZM362,553.3 356.2,549.1 355,544.5ZM248.7,502.5 256.4,501.2 261.1,502.6ZM307,526.1 300.8,528.1 293.8,528.1ZM396.6,559 395,559.5 390.1,557.5ZM309.1,525.4 314.9,526.4 323,532.5ZM294.1,525.6 291,525 288.4,520.1ZM342.6,553 349.9,554.5 354.1,556.7ZM300.3,517.2 303.5,518 305.9,521ZM360.2,547 363,547.9 364.4,554.3ZM357.8,546.7 351.1,548 342.9,544.2ZM249.4,509.7 255,510.9 261.6,516ZM303.9,529.7 299.8,527.9 293.1,522.5ZM413.1,561 409.6,562.6 398.2,558.3ZM300.1,519.7 305.2,522.6 310.9,531ZM320.8,535.6 316.7,535.8 307.5,531.2Z" fill="rgb(165,22,24)" fill-opacity="0.75"/>
<path d="M302.3,529.2 311.4,532.5 315.1,535.9ZM273.4,524.8 276.3,524.3 279.4,528.6ZM304,515.5 310.8,526.1 311.1,529.9ZM258.1,510.5 255.6,509.9 251.9,506.2ZM403.8,558.4 399.8,558.5 389,553.6ZM257.7,509.9 265.5,509.7 269.2,511.3ZM282.2,520.9 279.2,514.5 279.9,505.7ZM260.7,523.2 251,518 249.7,514.4ZM406.4,565.1 401.7,564.6 398.2,562.3ZM303.3,528.2 298.6,524.7 299,521.7ZM347.8,546.7 352.2,545.7 354,548ZM398.3,558.7 404.6,556.8 407.6,558.1ZM274.5,518.3 281.5,517.7 285.4,521ZM294.6,519.9 300.7,520.6 307.3,524.4ZM343.4,541.5 338.4,539.4 336.4,536.8ZM379.8,546.9 383.1,548.6 385.8,552ZM330.8,541.7 326.4,541.4 323.4,537.1ZM332.8,534.9 330.1,535.8 320.3,535.3ZM284.1,518.7 286.9,519 289.5,522.7ZM338.4,530.2 333,531.8 330.1,530.1ZM327.1,529.4 331.6,529.7 334.3,532.8ZM312.8,521 308.1,518.9 305.2,516ZM392.9,556.6 402.8,556.6 405.5,557.9ZM330.4,531.9 337.1,535.9 338.2,538.8ZM390.5,558.9 386,555.9 384.6,552.7ZM257.4,498.8 259.7,497 265.7,498.6ZM283.6,522.4 292,525.5 294.5,529.2ZM303.6,526.8 308.7,526.4 318.3,532.6ZM329.6,523.4 325.2,522.3 318.5,518.1ZM255.3,510.4 248.8,510.4 241.9,507.4ZM251.7,512.9 245.6,511.4 238.2,506.1ZM334.9,532.1 343,532.4 344.6,534.5ZM300.9,525.1 298.5,524.1 294.7,517.6ZM380.1,549.1 386.6,555 388.3,561.3ZM306,530.5 311,525.4 314.5,526.2ZM358.4,544.1 361,542.8 368,545.2ZM367.3,557.3 357.6,553.4 353.4,549.5ZM354.5,540.6 351.9,540.4 344.4,536.3ZM370.9,543.4 362.7,537 361.5,534ZM324,540.3 327.4,539 334.9,543.8ZM257.1,508.5 249.3,505.1 246.3,500.3ZM352.9,537.7 348.5,537.4 347.5,535ZM352.4,534.6 356.7,535.8 363.3,540.2ZM293.9,514.2 298.1,515.3 305.3,524.9ZM362.9,548.8 367.5,548.3 369.1,550.6ZM384.7,553.3 381.7,552.5 376,545.7ZM293.2,516 290.3,518.1 283.7,515.9Z" fill="rgb(165,22,24)" fill-opacity="0.55"/>
<polygon points="405.4,411.1 407.5,413.5 403.3,420.1 405.1,424.4 400.1,430.9 401.7,435.2 409.6,438.4 403.3,445.8 405.4,451 412.1,455.3 411.3,461 416.4,465.4 415.6,470.9 416.3,473.3 407.2,476 411.4,478.7 418,481.9 412.2,484.6 413.7,487.8 417.3,491.1 416.9,494.2 409,496.6 405.7,499.2 408.8,502.6 412.3,506.1 405.5,508.3 411.3,512.2 413.5,515.5 407.3,517.8 408.9,521.1 413.7,524.9 406.6,529.6 412.2,535.9 408.4,539.5 405.1,542.9 405,548.5 407.6,555.6 407.1,559.4 413.1,562.7 414.8,559.6 419.4,556.2 425.2,552 431.8,547.2 427.7,539.2 438.4,534.6 433.1,527.5 438.9,525.2 433.2,521.4 441.4,519.5 437,515.7 432.2,511.8 438,509.3 438,505.9 433.7,502.2 439.8,499.5 440.6,496.3 444.5,493.3 441.7,489.8 442.2,486.6 441.4,483.1 442.2,479.8 439.5,476.2 438.7,472.8 445,468.6 436,462.8 440.8,455.4 439.6,449.3 440.2,443.1 438.3,437.2 435.3,431.5 431.7,426.1 432.9,419.4 427.5,415.1 420.6,412.2 418.1,408.5 411.8,408.2" fill="rgb(165,22,24)" fill-opacity="0.1575" />
<polygon points="408,410 408.4,413.1 407,418.4 408.4,423 407.7,428.3 413.4,431.6 410.4,438.2 411.9,443.7 416.2,448.6 418.5,453.9 417.4,459.8 419.8,465 415,470.9 420.8,473.2 417.6,476.1 419.4,479 416.6,481.8 419.1,485 420.6,488.3 414.5,490.9 420.8,494.5 416.3,497.3 421,500.8 417.8,503.6 418.8,506.9 419.1,510.1 418.3,513.1 414.3,515.6 415.2,518.9 411.1,521.4 416.6,525.2 411.4,530.4 413.3,536.1 414.7,541.6 412.9,546.5 411.2,551.8 409.7,556.8 408,559.9 411.7,562 415.8,560.2 417.6,555.2 422.1,550.6 427,545.6 424.9,538.6 428.8,533.1 428.6,526.9 428,523.7 431.2,521.1 432.7,518.3 432.2,515 435.7,512.3 431.8,508.5 431.7,505.2 433.3,502.1 436.4,499.1 430.3,495.4 432.1,492.3 433.3,489.2 437.4,486.3 437.1,482.9 433.1,479.4 434.5,476.1 431.9,472.9 431.5,469.7 435.7,462.8 434.6,456.6 429.3,451.5 430.4,445.3 426.9,440 426.1,433.9 430.2,426.6 420.7,423.7 421.9,417.4 417.4,413.6 414.9,410 412.5,407.8" fill="rgb(165,22,24)" fill-opacity="0.294" />
<path d="M437.3,458.9 438.7,468.8 436.9,474.3ZM425.5,477.8 424.2,474.6 424.2,464.3ZM430.6,458.4 427.9,456.7 426.9,449.8ZM422.7,529.4 426.1,519.5 429.3,517.5ZM438.2,448.8 439.8,450.9 438.3,455.3ZM413.8,428.9 419,436.9 417.8,439.9ZM423.3,456.9 414.1,450.7 412.5,446.5ZM410.1,431.2 407.9,428.8 403.4,417.9ZM428.9,497.6 430.9,499.5 431.8,503.8ZM420.9,419.8 417.8,417.7 413.4,410.1ZM412.1,569.8 415.6,565.3 422.5,560.4ZM434.6,498.3 432.5,495.1 432.2,484.4ZM405.3,536.7 403.8,544.8 400.2,550.6ZM416.9,452.3 420,452.7 421,457.5ZM430.6,535.9 429.1,543.9 425.9,548ZM423.1,434.2 418.2,430.8 414.3,423.6ZM433.7,521.6 433.6,525.3 429.1,526.8ZM414.8,413.3 411.4,412.5 407.9,407.9ZM434.8,486.5 431.9,482.5 433.3,476.6ZM411.9,443.6 410.4,440.8 411.3,436.8ZM426,425.3 430.3,428.7 431.3,433.8ZM426.8,477.3 433,481.9 435.1,487.8ZM433.4,453.3 429.5,449.4 429.4,444ZM427.6,493.5 426.3,488.9 429.1,482.1ZM410.6,510.9 408.4,506 409.2,502.6ZM441.3,497.9 442,492.2 443.7,490.5ZM415.6,436 417.4,440.4 415.1,451.9ZM418.3,448.7 415.9,443.8 417.5,440.5ZM421.6,495.8 422,486.9 425.5,481.1ZM439.4,477.3 438.7,485.1 437.1,488.6ZM430.3,494.5 430.9,500.8 427.1,508.8ZM430.2,521 427.5,519.4 427.7,512.3ZM421.3,481.8 424.9,486.7 424.2,493ZM412.5,549.7 410.7,560 408.3,562.2ZM426.3,443.1 426.5,436.9 429.6,433.8ZM405.2,550.9 402.7,555.4 395.5,560.4ZM412.4,434.5 407.8,427.1 406.8,420.7ZM435.3,484.3 434.8,477.9 437.9,472.8ZM424.7,555.6 422.3,560.6 417,565.8ZM421.2,528.8 419.8,525.9 421.4,520.9ZM429.6,450.5 433,454.3 432.9,456.6ZM420.3,410.4 422.7,411.9 424.1,417.2ZM420.8,460.2 422.8,463.9 420.3,467.6ZM436,475.7 434.8,469.9 436.4,467.9ZM415.3,415.4 412,411.6 413.1,405.3ZM420.9,487.3 421.2,497.5 419.4,501.7ZM425.7,464.1 426.7,458.5 429.5,456.6ZM417.3,508.5 418.9,512.1 415.2,519.2ZM427.1,431.7 428.7,434.7 429.4,445.1ZM423.2,476.9 422.4,488.2 419.4,491.3ZM424,491.2 421.8,487.3 422.7,481.5ZM423.8,514.7 426.1,509.4 432.7,503.6ZM404.7,408.6 409.5,417.6 410.4,423.2ZM409.4,430.6 413.8,435.1 413.5,440.7ZM408.2,533.8 408.7,527.8 413.4,519.9ZM406.2,518.3 407.7,513.2 415.4,505.9ZM437.6,487.6 435,496.3 429.9,501.6ZM405.6,547.8 406.7,550.8 406.1,556.6ZM422.3,432.2 426.4,438 426.5,441.6ZM415.4,474 415.8,485.9 414.2,489.5ZM423.4,426.9 423.9,435.7 421.4,438.2ZM428.7,500.1 430.9,510.4 429.6,514.1ZM422.1,468.1 424.8,473.4 426.6,482.3ZM418.6,455.4 422.9,457.7 422.2,460.9ZM429.9,516.1 429.3,512.8 431,509.1ZM418.9,528.9 420.6,518.7 423.7,516.8ZM410,420.6 407.3,418.8 406.9,410.3Z" fill="rgb(165,22,24)" fill-opacity="0.70"/>
<path d="M395.8,420.8 401.6,424.6 402.9,427ZM417.1,493.3 417.1,488.9 419.3,487ZM417.2,529.5 418.9,520.4 420.8,517.6ZM418.2,440.9 420.9,446.3 420.5,450ZM422.3,451.5 421.2,445.5 423.7,437.7ZM413.8,552.7 409.1,563.1 405,565.9ZM417.4,436.6 422,443.6 420.7,447.3ZM417.5,427.4 420.7,431.9 422.2,441.5ZM437.3,464.4 436,459.1 436.5,453.1ZM430,524.7 431.2,530.2 428.7,536.5ZM424.7,555.4 421.8,560.5 417.5,561.6ZM435.9,484.1 438.1,486.5 436.8,490.4ZM421.2,450.8 423.9,456.1 422.8,462.5ZM415.2,421.7 410.8,416.6 409.9,412.3ZM436.1,488.8 435.8,484 439.1,481.6ZM427.7,517.1 430.1,524 428.1,528.3ZM423.2,549.7 420.6,542.8 421.6,535.7ZM414.3,461.6 411.8,453.3 413.2,448.1ZM430.8,465.4 433.6,471.6 433.5,476.4ZM422,523.4 423.4,514.4 426,512.8ZM441.8,509.6 441.5,513.4 434.7,522.1ZM441,482.5 439.7,476.5 440.7,472.7ZM422.7,499 422.6,504 420.1,509.1ZM426.3,556.4 423.2,559 416.9,561.1ZM403.5,560.3 403.4,554.5 404.7,552.4ZM440.9,445.6 444.2,447.3 446.6,453.9ZM419.6,430.2 417.4,427.1 417.1,421.2ZM434.9,460 436,465.8 434.7,468.9ZM419.4,506.6 422.9,510.2 423.9,520.6ZM416.4,539.4 420.4,532.4 424.4,531.2ZM421.3,513.2 417,504.6 418.1,498.7ZM422.3,481.4 420,479.5 419.6,472.5ZM428.1,495.7 429.6,500.4 427.8,507.4ZM408.4,539.1 411.8,534.6 416,532.7ZM426.3,537.4 426.2,541.5 422.3,544.5ZM429.8,487.4 428.6,482.2 430.6,479.9ZM424.9,454.1 426.1,459 424.3,469.9ZM423.2,473.6 422,463.8 424.1,459.9ZM427.5,500.3 426.3,496.4 429.1,488ZM414.7,418.9 412.4,417.5 410.8,412.6ZM440.4,478.6 437.9,474.2 437.1,464.9ZM430.7,466.7 434.9,471.3 435.8,475ZM411.2,548.7 411.2,544.6 414.7,533.3ZM420.3,522.8 426.4,530.4 427.3,534.5ZM412.6,410.7 415.1,412.6 414.4,417.9ZM431.5,518.3 433.3,515.6 439.1,512.6ZM417.2,473.9 419.8,480 420.1,486.1ZM418,425 419,427.1 417.3,431.2ZM419.7,462.8 416.4,459.5 415.7,452.3ZM396.1,543.2 400.3,536.8 406.7,533.6ZM410.9,543.5 410.3,555 408.4,558.5ZM426.3,452.3 422,448.7 422.8,445.8ZM428.7,471.6 427.3,466.3 430.4,460.7ZM417.6,525.5 415.8,531.4 411.9,536.3ZM407.1,421.2 409.8,430.9 409.9,436.4ZM426.2,448.7 425.2,440.9 426.2,436.6ZM424.1,458.6 421.2,455.7 422,449.5ZM420.1,506.1 417.9,503.1 418.9,499.4ZM422.2,506.5 421.7,496.1 425,491.5ZM427.4,516.3 429.3,519 429.6,529.3ZM411.2,545 411,548.1 408.1,551.9ZM422.5,417.4 425.5,420.2 426.5,430Z" fill="rgb(165,22,24)" fill-opacity="0.40"/>
<path d="M423.1,510 422.6,507.2 425.3,503ZM430.7,493.5 434.3,501.1 433.3,503.9ZM434.7,539.4 432.2,537.5 432.8,531.2ZM422.2,474.3 421.6,482.6 420.1,485.9ZM429.5,506.7 428.2,512.1 424.2,517.6ZM422.2,492 424,498.9 422.1,501.5ZM404,418.2 405.7,420.1 405,425.1ZM429.1,497.2 429.4,503.6 427.9,508.2ZM435.3,505.5 434.3,514.4 430.2,520.3ZM422.9,546.3 422.2,552.4 417.8,559ZM426.4,497.7 427.4,504.3 423.9,513.4ZM420.9,511.6 420.2,508.8 423.6,505.2ZM424.3,471.2 422.1,465.1 423.8,459.8ZM419.4,432.2 422.6,439 422.9,443.3ZM418.2,545 416.3,550.3 414.2,551ZM436.1,517.7 435.3,528.9 432.4,531.4ZM424.8,453.3 426.8,458.9 426.3,460.9ZM435.7,497 432.7,505.4 430,507.1ZM418.4,418.2 423.5,427.1 422.8,431.8ZM435.7,459.2 440.3,468.3 439.9,473.8ZM413.6,528.9 413.1,534.7 409.9,538.7ZM426.5,473.5 426.6,480.2 423.2,482.8ZM426.6,500.3 424.1,496 425.7,494ZM420.6,504.7 420.1,500.1 422.8,497.1ZM415.8,544.5 415,540.2 418.4,536ZM422,512 418.8,504 419.1,498ZM410.9,444.3 408.6,441.4 409.5,434.4ZM418,429.4 420.3,432.8 422.2,441.8ZM414.7,548.3 414.8,551.7 411.4,561.9ZM419,458.1 415.3,453.4 413.7,448.3ZM421.9,527 421.1,524.6 425.4,519.3ZM419.7,457 417,450.1 416.7,443.9ZM422.7,419.7 424.9,424.5 422.6,433.4ZM414.8,549.9 414.5,547.7 417.3,543.5ZM428.9,502.6 430.4,496.8 433.1,496.8ZM434.6,501.7 435.7,505.3 430.6,513.2ZM432.3,511.4 429.8,517.8 427.3,520.1ZM407.3,549.2 410.8,545.4 420.2,539.9ZM424.8,535.9 425.8,528.8 427.3,526.9ZM419.9,475.9 418,481.4 414.4,484ZM433.9,501 436.8,503.5 436.3,508.1ZM416.4,415.4 414.7,413 413.8,406.9ZM413.9,470 413.7,460.5 415.3,455ZM432.7,492.8 431.2,497.6 429.6,498.1ZM418.3,549.3 420.1,543 422.7,542.8ZM435.2,499.1 436,503 431.1,511.7ZM420.1,560 414.8,567 411.8,568.6ZM421.4,531.6 417.9,537.2 415.4,538.3ZM434.9,503.2 434.3,508.3 430.5,516.3ZM421.9,480.4 422,490.9 418.9,494ZM411.6,486.5 416.2,493.5 416.2,497.3ZM425.3,434.3 431.2,441.1 434.2,447ZM405.2,408 409.9,409.4 411.5,413.7ZM417.7,419 410.9,416 407.7,410.3ZM433.1,521.5 432.3,517.8 433.7,508.9ZM425.3,473 422,467.4 422.7,460.5Z" fill="rgb(165,22,24)" fill-opacity="0.55"/>
<path d="M420.5,522 420,518.4 421.6,513.3ZM411.1,521.1 407.5,517.5 409.1,515.3ZM419.4,457.8 419.1,452.2 421.1,444.5ZM410.5,554 412.8,558.1 410.4,560.3ZM424.7,425.9 427.8,433.3 426.1,439.9ZM427.5,505.1 426.2,513.6 423.6,516.8ZM426.1,483.5 425.1,477.1 428.3,472.9ZM420.5,420.1 424.9,430.9 424.7,435.2ZM411.8,530.6 411,535.5 407.7,538.6ZM407.3,552.9 404.1,560.9 401.9,563ZM429.8,493.7 432.1,498.6 432.1,505.7ZM427.8,491.9 430.8,495 430.2,500.7ZM408.9,413.4 414.2,417.4 414.5,421.3ZM417.6,416.2 415.2,414.9 413.8,407.9ZM412.5,542 411.5,551.6 409.9,554ZM415.4,549.5 415.6,545.6 418.8,542.3ZM429.8,512.9 427.2,508.6 427.8,505.6ZM416.1,419.5 411,415.5 408.4,407.8ZM429.3,468.4 431.4,472.9 429.1,477.6ZM424.9,508.3 421.2,500.8 421.7,493.9ZM400.2,418.9 399.3,414.9 400.6,408.1ZM415.7,444.1 413.2,442.8 414.3,437ZM419,438.8 419.7,446 416.6,450.4ZM423.5,445.9 425.3,451.1 424.7,454.7ZM434.3,446.5 433.6,443.2 434.6,432.5ZM419.8,541.7 420.8,538.8 425.5,534.5ZM428.4,496.2 428.1,503.3 425.7,506.8ZM402.9,560.3 403.1,554.5 405.2,552.3ZM410.6,498.1 409.6,495.2 413.7,491.4ZM422.2,551 420.8,553.9 413.9,559.9ZM403.6,545.4 404.7,553.4 402,555.6ZM418.9,555.6 419.5,550.8 421.1,549.3ZM428.2,471.1 427.2,464.5 427.9,459.2ZM419.8,426.8 418,435.1 415.5,436.3ZM429.4,510.6 428.9,508.8 430.9,503.7ZM421.4,475 420.9,469.6 425.8,460.9ZM409,426.2 405.6,424.6 404.3,417.4ZM416.9,487.9 415.7,485.8 416.8,479.7ZM421.5,426 419.8,423.1 420.2,418.9ZM415.6,413.5 418.1,414.3 421,419.7ZM420.9,415.6 420.3,425.8 417.5,430.5ZM413,405 416.1,415.2 414.7,420.8ZM425.1,414.4 422.8,409.9 424,401.2ZM416.6,449.3 415.8,441.1 418.3,437.7ZM420.4,424.9 422.9,428.1 426.4,439.6ZM424.3,541.3 422.4,530.8 424.4,526ZM425.7,483.2 428,474.9 431.3,473.3ZM424.2,414.5 427.4,423.8 425.6,430ZM421.1,427.7 416,417.9 416.9,414.1ZM422.5,469.7 422.3,474.6 418.3,480.9ZM424.1,476.4 422.7,468.1 423.5,465.8ZM424.6,428.5 427.9,430.6 430,438.8ZM406.2,419.3 404,415.1 402.7,406.2ZM419,522.1 420.9,515 423.7,513.3ZM421.9,451.9 424.8,456.5 424.8,460.8ZM427.8,453.5 429.9,455.9 430.7,466.6ZM419.1,412.1 421.9,417.3 421.5,419.4ZM432.6,468 433.9,473 432.9,479.9ZM431.2,466.9 423.3,457.5 422.8,454ZM419.3,521.6 420.2,513.2 423.8,507.6ZM425.3,525.7 425.2,518.5 427.4,515.2ZM424.2,418.8 420.5,414.2 420.1,411ZM420.8,431.8 415.5,428.7 409.5,421.6ZM421.5,446.6 422.6,449 421.2,452.9ZM415.7,454.4 416.1,458.9 412.1,464.6ZM413,412.3 414.8,422.7 412.3,426ZM423.3,471 426,474.1 424.4,477.3ZM421.3,403 422.4,409.4 420.4,413.7ZM423.7,425.7 421.1,424.3 418.3,416.9ZM413.8,422.3 415.8,425.9 414.7,436.2ZM423.5,519.3 426,515.4 429,515.4Z" fill="rgb(165,22,24)" fill-opacity="0.50"/>
<path d="M429.8,479.3 427.5,476.3 428.9,472.9ZM429.7,464.8 426.4,462.9 425.2,453.5ZM416,417.8 411.7,415.6 408.2,409.6ZM413.1,444.6 409.6,440.9 411.2,438ZM423.7,501.1 420.9,495.1 421.1,492.5ZM436.6,460.4 434.3,457.3 434.5,452.4ZM420.9,453.1 419.5,451.3 418.9,444.7ZM422.5,413.6 414.6,409.3 413.8,405.7ZM408.8,421.7 405.5,420.6 404.1,415.7ZM433.3,485.5 436.4,491.8 434.8,497.4ZM427.8,511.6 428,515.2 425.5,523.2ZM412.8,532.8 414.9,534.1 413.4,539.4ZM422.3,550.2 418.7,541.7 418,536.6ZM415.7,552.9 417.1,557.9 414.8,559.8ZM430,497.8 428.3,493.9 430.3,488.6ZM424.1,486.7 423,481.3 426.4,473.8ZM427.4,464.4 425.3,460.6 428.1,451.3ZM423.4,503.1 421.1,501.2 421.3,496.9ZM418.5,523.7 417.6,518.1 419.3,515.1ZM411.1,544 411.1,538.6 414.3,536.5ZM421.1,459.6 417.4,452.4 418.9,449.8ZM411.5,466 414.3,472.3 414,474.5ZM405.7,550 404.8,553.8 397.8,557.3ZM401.8,407 405.6,407.9 412,418.4ZM421,446.9 418.8,441.3 420,436.2ZM436.4,540.5 432.9,534.7 434.1,530.6ZM422,523.2 420.7,518.6 421.4,514.4ZM430.5,423.4 427.8,421.6 427.5,413ZM413.3,553 412.2,558 409.6,560.2ZM399.6,550.7 401.6,543 404.6,538.6ZM402.2,425.9 406.3,436.7 405.6,441.4ZM421.5,511.1 420.6,507.5 423.7,503.6ZM425,467.5 428.8,472.6 430,476.5ZM422.8,460.6 421.9,454.7 423.2,449.9ZM413.6,534.6 410.1,526 410.4,521.8ZM427.8,475.4 427.4,479.4 422.2,489.2ZM420.6,506.7 417.8,503.5 419.3,496.8ZM418.4,419.5 424,422.4 425.5,424.5ZM418.4,517.6 419.6,521.9 417.4,525.1ZM436.5,513.3 432.5,509.5 430.4,504.1ZM427.9,537.2 426.6,542.7 421.1,547ZM426.4,467.3 423.3,464.8 423.1,461.3ZM422.5,427.4 420.1,419.7 419.8,412.8ZM425.7,428.6 428.6,436.2 427.4,439.1ZM424.2,520 421.2,529.4 417.9,531.7ZM408.7,547.3 407.6,543.5 409.3,540.5ZM422.3,526.2 423.9,529.7 420.1,535.3ZM424.7,558.2 423.2,551.2 424.8,549ZM420.2,414.7 422,419.3 420.9,423.7ZM413,401.8 414.6,405.7 411.5,414.1ZM421.1,534.3 422.4,540 419.1,550ZM407,544.4 406.5,536.1 409.1,533.6ZM423.7,538 421.7,533.9 424.3,531.5ZM412.4,553.2 413.2,560.5 412.1,565.8ZM430.5,450.2 431.7,453.1 428.9,459.9ZM419.5,511.9 421.3,514.5 418.3,518.6ZM398.7,555.5 398.4,546.4 401.3,544.6ZM421.7,505.1 420.6,503.2 423.8,499ZM428.5,441.5 428,434.4 430.7,429.6ZM413.5,555.5 416,546 420.4,541.1Z" fill="rgb(165,22,24)" fill-opacity="0.60"/>
<path d="M417.5,554.4 413.4,560.7 411.1,561.9ZM427,506.2 429.3,515.7 427,520.2ZM430.6,475.9 430.6,466.9 434.1,460.7ZM412.9,430 417.4,434.6 418.3,441.4ZM421.7,492.2 419.9,486.9 419.7,480.2ZM421.5,520.5 419.6,532.7 416.6,535.4ZM433.4,502.2 430.8,511.5 427.9,516.8ZM418.2,470 416.7,462 419.1,456ZM428.5,509.3 428.6,503.7 431.4,498.6ZM408.1,418.7 412.1,421.9 410.9,424.6ZM425.5,513.3 427.7,514.9 427,519.3ZM426.7,434.1 430.2,440.6 428.3,443.1ZM431.3,497 428.9,493.1 426.5,485ZM411.4,484.9 413.9,486.6 416.3,494.7ZM394.2,409.7 402.5,415.6 402.9,419ZM421.3,439.4 418.4,437.3 415.9,427.8ZM442,466.8 438.2,463.6 435.8,454.8ZM422.7,465.4 421,459.4 421.5,452.5ZM424.5,548.7 424.2,554.6 422.1,557ZM419.4,432 415.8,429.2 416.7,426.2ZM425.2,481.2 426.8,490.9 426,494ZM420.6,414.7 422.5,416.3 422.7,420.4ZM417.1,426 421.4,429.8 424.8,439.9ZM429.8,470.3 434.9,475.8 436.8,481.9ZM418,511.9 418.7,514.6 414.5,517.8ZM423.2,498.6 424.2,492.2 427.7,485Z" fill="rgb(165,22,24)" fill-opacity="0.75"/>
<path d="M424.2,475.7 423.2,469.5 425.7,466.5ZM440.9,458.5 438.9,453.5 440.2,449.5ZM408.8,558.6 408,552.2 410.9,550.4ZM425.3,482.4 424.9,486.3 421.9,488.2ZM427.8,488.1 425,481.5 424.3,474.5ZM436.8,488 437.9,492.1 437.3,501.6ZM420.9,512.6 421.7,501.6 424,497.8ZM419.8,423.2 427.8,432.6 428.3,436.2ZM422.1,494.1 423.3,484.7 426.8,478.8ZM419.1,506.6 422.7,509.4 425.1,520.7ZM427.2,425.7 429.1,431.1 427.9,434ZM432.7,495.8 431.2,490 431.6,480.2ZM407.6,438.8 405.4,434.6 405.2,428.7ZM441.8,450.9 444,454.9 441.2,465.1ZM405.5,563.2 408.1,559.1 418.2,555.5ZM428.4,461.4 427.3,467.9 424.6,471.5ZM425,503.3 422,497.8 423.4,494.9ZM426.2,482.2 426.8,479.9 431,476.4ZM422.3,555 420,552 421.8,540.8ZM411.9,498.7 414.1,502.4 411.6,513.4ZM429.7,487.3 427.8,493.6 423.4,496.4ZM425.2,437.8 428.6,441.3 429.2,447ZM425.8,545 426.1,540.9 428.3,538.3ZM428.1,517 428.5,510.1 431.7,508.1ZM425.3,510.5 425.5,517.2 423,523.5ZM417.8,525.4 419,522 422.3,519.9ZM416.4,514 417,516.6 412.7,523.6ZM414.6,571.4 414.9,565.2 420.2,558.9ZM400.2,559.9 401.3,555.1 409.5,548.1ZM405.8,421.9 409.9,427.4 410.5,430.5ZM419,412.8 414.2,407.8 413.8,405.8ZM424.8,518.9 426.8,524.2 424,533.7ZM436.6,534.7 436.5,538.3 432.7,543.2ZM435.2,435.6 429.2,435.2 422.9,430.7ZM419.6,531.2 418.6,524.6 419.4,522.5ZM413.6,494.1 412,487.3 415,481.5ZM417.4,533 417.5,527.2 419.7,520.4ZM424.3,457.2 418.2,453.5 414.6,445.5ZM424,442.7 426.2,445 429.3,452ZM415.2,536.3 418.4,537.3 419.1,544.1ZM416.7,520 413.8,513.5 414.6,507.5ZM433.5,469.4 433.2,476.7 428.6,482.8ZM412.7,438.9 411.5,433.9 413.5,431.5ZM427.7,439.8 431.3,448.5 430.6,453.8ZM405.6,557.3 408.5,553.9 411.8,552.7ZM411.5,504.7 413.7,506.2 413.6,511.6ZM428,495.4 426.8,490.5 428.8,480.1ZM442.4,458.7 438.1,450.2 438,447.1ZM426.2,450.7 427.2,458.8 425.8,465.7ZM425.6,465.9 427.3,470.6 425.5,472ZM415.2,512.7 413.9,518.9 411.1,522.5ZM404.1,404.3 407,410 407.3,417.8ZM410.8,507.4 410.8,516.8 408.9,520.5ZM422.3,518.2 421.6,516 424.2,511.5ZM397.9,417.5 393,417.1 392.6,414.3ZM428.3,476.2 425.8,472.9 426.9,469.8ZM415.7,545.6 414.8,549.2 408.4,553.8ZM419.1,435.3 422.5,437.3 423.9,440Z" fill="rgb(165,22,24)" fill-opacity="0.45"/>
<path d="M433.1,471.2 430.9,468.8 430.8,463ZM430,427.1 420.8,421.2 420.1,417.2ZM413.8,431.7 416.9,437.3 415.2,440.3ZM438.9,483.3 435.4,477.7 437,473.8ZM419.9,522 421.1,530.7 418.3,534ZM419.8,454.7 421.7,458.3 421.1,461.6ZM427.4,483.7 427.6,489.6 425.6,491.5ZM417.2,441.4 414.1,439.2 412.2,432.7ZM411.5,468.8 413.5,473.6 413,476ZM415.3,544 419.4,539.7 423.3,537.6ZM425.7,467.3 428.1,470.4 429,478.8ZM425.9,473.1 426.7,479 424.9,485.3ZM430.4,475 427.6,481.2 423.9,483.5ZM420.8,430.3 422,432.7 419.3,438.5ZM414.5,507.1 412.8,502.8 416.6,493.5ZM424.5,491.2 425.3,498.8 422.6,504.7ZM424.2,419 427.3,426.6 425.4,432.7ZM415.9,416.1 412.9,412.7 412.2,404.7ZM419.5,559.1 421.5,552.8 425.9,548.6ZM416.9,456.3 412.6,450.5 410.2,442ZM411.5,546.7 414.4,538.8 417.5,538.2ZM412.9,500.6 415.9,505.1 415.8,510.1ZM415.6,535.5 415.1,530.3 416.9,524.6ZM428.5,502.8 427.6,497.3 429.9,492ZM418.4,538.1 417.7,534.5 421.6,532.4ZM412.6,480.8 410.3,478 410.9,470.1ZM433.4,466.6 430.6,464.1 429.1,452.9ZM413.8,537.3 413.7,531.6 418.7,525ZM434.8,487.3 434,483.2 435.2,475.9ZM423.1,519.5 421.1,515.8 423.5,512.3ZM434,464.1 430.6,457.7 431.1,454.9ZM407.2,529.3 406.5,526.9 408.5,521.2ZM410.8,403.2 414.3,409.5 413.3,412.9ZM410.5,420.1 415.7,422 422.1,428.2ZM415.4,494.9 414.4,488.9 418.4,481.1ZM429.6,480.5 428.4,477.9 431.5,469.5ZM427.2,476.4 424.1,471.9 424.4,469.7ZM441.5,500.5 440,505.5 433.2,511.2ZM422.8,411 417.5,410.9 409.6,405.6ZM418.4,422.5 413.1,420 410.9,416.2ZM435.7,454.2 437.3,456.3 436.9,461.2ZM439.2,543.5 435.7,549.5 430.3,552.9ZM421.3,498.9 419.9,495.3 420.2,490.2ZM423.7,513.1 423.6,520.4 422.1,524.8ZM414.7,500.2 414.2,498.5 416.1,494.1ZM425.3,525.8 427,520.9 430.9,517.7ZM419.9,470 418,467.7 420.1,459.8ZM430.2,472.1 431.8,476.9 432,486.7ZM422.6,437.9 421.6,445.4 419.7,447.3ZM424.1,422.6 426.2,424.2 424.7,429.3ZM411.6,560.2 411.7,554.9 414.7,552.5ZM416.3,430.4 416.7,437.6 415.2,443.1ZM419.6,544.9 420.4,540 427.9,531.9ZM423.4,558.5 421.4,564.8 416,571.5ZM420,467.7 417.2,457.9 417.8,453.5ZM420.9,522.2 422,526.7 419.9,529.3ZM438.7,476.4 432.3,470.7 431.2,465.2Z" fill="rgb(165,22,24)" fill-opacity="0.35"/>
<path d="M424.5,514.8 423,520 417.2,526.7ZM415.7,433.1 418.8,435.7 417.7,439.9ZM406.5,415.9 407.3,418.7 404.6,426.4ZM432.5,509.4 433.6,518.5 432.1,524.9ZM418.8,442.1 419.9,446.4 417.5,451.8ZM416.6,540.4 418,543.8 415.2,552.8ZM411.9,547.1 412.3,537.4 413.6,534.8ZM406.1,540.6 406,532.3 407.4,528.8ZM423.2,530.8 422.1,527.4 425.7,517.8ZM420.2,546.6 420.7,537.2 423.6,531.8ZM427.1,544.3 426,547 421.9,548.5ZM419.6,434.3 414,429.9 410.5,421.4ZM417.5,555.7 416.6,560.2 412,563.5ZM420.7,502.8 417.2,493.3 418.1,490.2ZM407.2,506.4 402.7,514.3 398,517.4ZM430.9,433.9 424.2,427 423,423.9ZM409.9,412.1 412.1,420.8 412.1,427.6ZM428.2,520.4 424.9,514.7 423.5,505.8ZM408.8,557.5 410.2,554.3 416.7,552.5ZM414.9,446.9 410.1,444.6 408.3,438.4ZM420.4,506.3 423.4,512.4 423.3,520.9ZM417.1,418.9 421.3,427 420.2,430ZM410.4,462.5 407.9,458.5 408.9,453.5ZM405.9,407 408,417.5 406.7,421.2ZM424.2,518.6 426,522.6 425.7,528ZM434,503.4 434.1,507.4 431.8,511.6ZM417.9,432.9 416.9,427.6 418.1,418.7ZM411,415.3 405.6,411.4 406.2,408.5ZM410.7,458 413.7,459.5 414.6,463.4ZM417.8,514.2 417.6,516.7 414.5,519.7ZM422.4,481.9 423.8,485.2 420.8,490.6ZM419.8,412.9 417.6,408.5 417.5,403.6ZM421.7,422.9 424.6,426.7 424,432.3ZM434.2,481 434.4,484.4 431.4,488.8ZM424,527 425.3,523.7 428.1,522ZM424.7,546.6 425.3,550.6 422.2,552.8ZM434.5,488.4 437,496.7 437.3,503.4ZM423,488.3 421.5,483.6 423.2,478ZM434.8,506.7 436.4,511.1 433.8,515.3ZM422.4,518 417.8,508.2 418.6,504.6ZM425.6,471.4 423,466.5 424.8,459.4ZM426.3,525.2 426.1,518 428.4,516ZM416.1,450.5 414,448.3 414.9,442.1ZM421.7,480.2 420.6,477.1 421.6,472ZM430,520.2 432.2,523.2 430.2,529.9ZM432.4,494.8 433.9,497.7 434.3,505ZM435.7,503 433.4,495.2 433.6,490.8ZM416.1,553.3 412.4,559.3 406.6,564.8ZM406.5,550.9 406.1,540 408.7,535.8ZM421.8,500.2 420,492.6 421.2,489ZM404.9,556.9 404.2,552.4 408.1,543.6ZM413.4,405.5 417.7,409.1 421.5,414.6ZM419.1,444.2 417.1,441.5 415.1,433.4ZM424.6,432.8 420.9,427.4 421,424.8ZM414.8,408.7 418.1,413.3 420.9,420.5ZM408.1,557.7 409.6,550.2 412.5,549.4ZM404.9,557.8 407.2,553.5 415.2,549ZM414.7,550.8 413.7,553.5 408,555.2ZM414.9,434.3 416.4,436.7 415.5,441.8ZM425.8,460.1 428.6,466.1 427.9,470.3ZM420.5,438.5 417.3,436.5 415.8,431.4ZM423.2,472.9 420.6,464.1 421.8,458.5ZM421.8,474.7 419.3,472.3 416.5,462.1ZM417.1,533 416.1,537.5 412.3,539.9ZM405.4,412 407.2,416.5 405,422Z" fill="rgb(165,22,24)" fill-opacity="0.65"/>
<polygon points="142.9,450.3 139.6,451 135.5,452.6 132.2,456 130.4,460.5 127.8,464.9 125.4,469.5 124.4,474.6 127.2,479.8 124.8,484.9 126.2,489.7 129.2,493.9 129.6,498.3 132.3,502 130.6,506.7 131.4,510.6 130.3,515.1 135.3,518 137.3,521.9 141.3,524.5 142.4,527 147.1,525.2 148.1,522 146.4,518.6 148.9,513.3 144,510.7 148.2,505.6 141.8,503.6 144.7,499.1 145.3,495.1 144.7,491.3 140.3,487.9 141.5,483.8 142,480.2 138.6,476.1 142.1,472.5 139.9,467.9 145.3,466.1 147.4,463.9 143.5,457.7 147.3,456.2 146.3,452.5" fill="rgb(165,22,24)" fill-opacity="0.1575" />
<polygon points="142.8,450.2 140.7,451.7 136.4,453.2 135.2,457.6 133.6,461.8 130.4,465.5 132.7,470.8 130.1,475.2 129.8,479.9 128.3,484.7 132,489 132.2,493.4 132.3,497.7 133.4,501.7 134.8,505.5 136.9,509 135.2,513.5 138.5,516.9 138.9,521.4 141.8,524.3 144.3,526.3 146.1,525.6 147.2,522.4 145.8,518.8 147,513.9 142.5,511.2 144.3,506.8 140.7,503.9 138.9,500.4 141.6,495.9 138.3,492.4 140.6,487.8 137.2,484.1 138.1,480.1 138.7,476.1 140.9,472.2 140.7,468.1 142.4,465 142.5,461.4 143.2,457.6 144.5,454.3 144.5,451.4" fill="rgb(165,22,24)" fill-opacity="0.273" />
<path d="M135.8,476.7 137.2,466.7 140.2,462.5ZM133.6,506.6 129.9,504.7 127.6,501.1ZM149.1,452.6 146.4,456.6 137.6,460ZM135.9,506.6 139.9,512.5 140.7,520.7ZM138.1,484.8 135.8,473 136.9,469.1ZM135.1,481.9 133.1,492.7 129.1,496ZM134.5,476 136.5,486 135.4,490.4ZM133.3,473.5 135,465.7 137.4,464.5ZM139.2,497.8 141.3,502.1 140.8,510.4ZM132,488.8 131.9,483.4 135.7,473.4ZM137.3,497.7 135.9,493.8 137.9,489.4ZM136.1,456 134.7,458.6 127.4,459.5ZM139.8,470.8 136.5,463.2 138.2,460.6ZM126.4,485.5 125.4,482.8 127.6,477ZM133.1,513 135.1,515 134.9,519.3ZM151.5,521.3 149.4,520.4 149.5,515.6ZM135.9,493.7 138.2,500.9 138.7,507.9Z" fill="rgb(165,22,24)" fill-opacity="0.55"/>
<path d="M147.2,530.5 144.4,523.3 145.7,520.4ZM140.5,505.7 137.3,498.3 137.8,491ZM143.2,513.8 148.5,518.7 147.9,521.7ZM131.3,452.5 133.7,447 139,440.7ZM137.7,507.8 135.7,506.2 133.3,500.1ZM146.6,450.6 145.8,454.5 137,459.9ZM136.8,521 133.4,516.4 133.3,512.8ZM141.9,460.9 140.7,465.9 136.8,466.8ZM151,531.9 144.5,522.4 144.9,517.9ZM136.7,486.4 140.4,475 144.1,472.3ZM134.6,477.9 133.5,474.6 137.3,469.3ZM144.2,523 140.3,519.4 139.7,512.9ZM131.7,480.8 131,470.3 132.3,465.2ZM150.2,525.4 148.2,520.9 148.5,509.6ZM136.4,460.1 137.9,463.4 135.2,467.3ZM134.6,482.7 132.6,478.9 135,473ZM143.6,507.4 146.9,511.8 146.9,517.4ZM134.7,460.5 131.9,467.2 127.7,468.4ZM137.8,459.4 141.2,454.8 145.7,453.8ZM148.4,532.8 145.7,526.5 146.2,517.5Z" fill="rgb(165,22,24)" fill-opacity="0.65"/>
<path d="M138.6,505.8 140.7,507.7 143,517.8ZM138.2,489.8 139.4,493.4 138,497.1ZM131.3,466.3 130.5,461 133.3,459.1ZM137.8,498.8 136.4,497.1 137.7,490.3ZM146.3,501.2 141,498.1 139.3,491.9ZM133.2,506.6 132.1,504.1 132.2,497.2ZM132.9,512.5 130.7,506.1 133.3,496.6ZM134,496.8 131,492.5 131.5,489.9ZM138.8,504 141.8,506.7 142.9,516.9ZM144.9,519.8 141.9,515.5 141.5,508.5ZM141.5,511.2 144,515.9 142.8,517.9ZM132.7,462.8 133.5,471 131.7,476.2ZM143.5,445 142.6,450.5 138.7,456.1ZM138.2,495.3 136.5,485.8 137.8,483.1Z" fill="rgb(165,22,24)" fill-opacity="0.35"/>
<path d="M143.2,467.9 142.4,470.7 139.2,472.7ZM135.7,473.4 137.3,477.4 136.8,482.5ZM135.8,489.2 139.3,497 138.1,502.3ZM140,458.1 139.4,464.4 136.5,472.9ZM130.4,490.6 132.9,493.5 132.2,503ZM149.6,519.5 151.5,523.8 149.7,526.3ZM136.4,494.2 133.8,489.6 134,487.2ZM137.6,506.5 139,509.4 138.8,513.3Z" fill="rgb(165,22,24)" fill-opacity="0.70"/>
<path d="M131.6,489 131.5,484.8 136.2,477.4ZM145.3,457.1 145.3,459.8 139.3,462.9ZM135.6,503.3 137,506.9 133.3,513.3ZM144,462.1 143.4,465.3 138,470.5ZM134.1,517 137.8,520.3 139.3,525ZM140.3,449.9 137.8,454.3 133.1,457ZM144.5,505 141.3,503 139.3,492.6ZM142.1,453.5 140.1,459.8 138,460.8Z" fill="rgb(165,22,24)" fill-opacity="0.45"/>
<path d="M136.3,506.9 133.7,506.4 133.7,501.3ZM143.8,499.7 141.3,493.7 143.5,491.2ZM131.7,472 134,480.2 134,485.7ZM142.1,455.3 142,452.6 146.1,449.8ZM140.3,460 139.8,466.8 135.4,470.8ZM133,483.5 136.3,473.2 139.8,470.3ZM132.2,510 128.8,504.3 129.3,494.7ZM127.9,478 131,485.4 131.2,491.2ZM136.9,464.1 138.9,453.3 141.5,449.2ZM132.7,479.1 134.7,487.9 132.5,492ZM126.6,477 127.2,471.5 130.2,470.3ZM134.7,489.6 132.1,485.2 134.2,483.3ZM137.9,479.6 137.6,470.9 138.9,464ZM139.3,513.4 137.9,511 137.7,506.2ZM138.6,454.2 140.3,461.1 139.2,464.8ZM141.6,480.3 140,488.4 137.3,493.8ZM148.4,505.4 148.2,513.7 145.8,518.2Z" fill="rgb(165,22,24)" fill-opacity="0.40"/>
<path d="M133.7,460.3 137.4,469.3 136.3,475.4ZM135.1,455.5 135.6,450.9 139.6,449.1ZM132.9,462.6 137.5,457.4 141.4,457.7ZM142.8,492.1 145.5,493.7 146.7,498.4ZM147.7,521 144.1,518.2 139.7,509.2ZM136,488.6 139.7,491.6 139.5,494.1ZM134.4,490.6 135.5,494.7 134.6,497.6ZM132.4,490.3 137.7,494.1 142.1,501.1ZM137.3,503.2 134,501.3 134.9,496.9ZM135.3,501.1 136.5,504.6 134.3,510ZM142.4,468.2 140.6,475.1 138.2,476.1ZM132.9,492 130.1,489.1 130.6,476.9ZM144.2,444.4 139.5,448.6 129.8,451.2ZM137.3,502.8 135,500.9 133.1,495.6ZM137.8,454.9 140,444.1 142,441.6ZM131.6,489.2 129.7,486.9 129.9,482.3ZM132.3,488.4 133,490.2 129.7,494.4ZM142.5,463 142.6,454.5 144.8,452.6Z" fill="rgb(165,22,24)" fill-opacity="0.50"/>
<path d="M131.9,484 133.5,486 132.8,491.5ZM140.1,454.3 140.6,449 143.1,444.5ZM141.6,519.3 142.8,521.2 141.5,526.9ZM147.9,522.9 144.7,520.5 142,510.8ZM136,510.9 141.3,513 148,520.4ZM137.6,492 134.9,487.1 135,482.7ZM138.5,468 139,477.2 137.6,479.8ZM149.9,451.3 149.4,458.1 147.5,459.9ZM134,459.2 134.9,462.5 132,473.1ZM139.5,506.9 144.8,513.5 144.4,518ZM134,500.3 140.1,508.7 140.2,512.1ZM137.4,516.1 135.4,514.7 134.8,510.4ZM132.9,487.1 132,478.1 134.1,475ZM138.2,496.6 135.3,492.7 134.3,488.9ZM143.6,458.7 142.3,461.2 137.5,464.7ZM149.2,461.2 146.8,464.6 141.1,464.4ZM132.7,476.7 135.1,479.8 135.2,487.6ZM130.4,490.3 133.7,495.8 132,499.1ZM143.1,510 140,508.1 135.8,501ZM141.2,502.2 145.5,504.1 147.2,508.8Z" fill="rgb(165,22,24)" fill-opacity="0.60"/>
<path d="M146.8,450.5 140.9,459.2 136.5,462.6ZM137.9,521.6 135.4,520.6 133.2,516.7ZM135.2,448.6 136.1,451.4 131.7,457.8ZM139.9,462.4 139.2,458.5 142.7,456.4Z" fill="rgb(165,22,24)" fill-opacity="0.30"/>
<defs><linearGradient id="tg" x1="160" y1="0" x2="255" y2="0" gradientUnits="userSpaceOnUse"><stop offset="0" stop-color="rgb(150,155,215)" stop-opacity="0"/><stop offset="0.35" stop-color="rgb(140,150,215)" stop-opacity="0.55"/><stop offset="1" stop-color="rgb(120,135,210)" stop-opacity="0.9"/></linearGradient></defs>
<polygon points="165.2,486.3 168.5,485.1 173.7,484.1 176.6,483.3 179.4,481.7 184.9,480.5 190,480.8 194.6,479.2 199.7,479.5 205,478.1 208.1,479 211.1,477.7 214.4,478.2 217.7,477.5 220.9,477.2 224.2,477.1 230,477.4 235.1,476.7 239.8,477.5 243.8,478.1 247,477.3 249,478 249.9,478.8 250.4,479.4 252,479.7 251.4,481.7 252.8,483.2 252.5,485.2 252.5,487 252.3,488.8 252.2,490.6 252.6,492.5 251.7,493.9 251.3,495.1 251.2,496.3 250.2,497.2 247.9,496.9 244.7,498.5 240.3,497.2 235.3,498.1 230,496.8 224.1,497.1 220.9,496.4 217.6,497.3 214.3,497.3 211,497 208,496.1 205,496.3 199.7,494.7 194.4,495.1 189.7,493.4 184.9,493.6 180.1,493 175.4,491.6 171.1,491.1 167.8,490.6 165.4,489.7 164.1,488.2 163.2,486.9" fill="url(#tg)" fill-opacity="1" />
<polygon points="165.2,486.3 168.5,485.1 173.7,484.1 176.6,483.3 179.4,481.7 184.9,480.5 190,480.8 194.6,479.2 199.7,479.5 205,478.1 208.1,479 211.1,477.7 214.4,478.2 217.7,477.5 220.9,477.2 224.2,477.1 230,477.4 235.1,476.7 239.8,477.5 243.8,478.1 247,477.3 249,478 249.9,478.8 250.4,479.4 252,479.7 251.4,481.7 252.8,483.2 252.5,485.2 252.5,487 252.3,488.8 252.2,490.6 252.6,492.5 251.7,493.9 251.3,495.1 251.2,496.3 250.2,497.2 247.9,496.9 244.7,498.5 240.3,497.2 235.3,498.1 230,496.8 224.1,497.1 220.9,496.4 217.6,497.3 214.3,497.3 211,497 208,496.1 205,496.3 199.7,494.7 194.4,495.1 189.7,493.4 184.9,493.6 180.1,493 175.4,491.6 171.1,491.1 167.8,490.6 165.4,489.7 164.1,488.2 163.2,486.9" fill="url(#mesh)" fill-opacity="1" />
</g>
<rect x="120" y="395" width="330" height="185" fill="url(#mesh)" opacity="0.3"/>
</g>
<defs><clipPath id="cd"><polygon points="665.8,498.6 666,495.5 666.3,492.9 665.3,490.5 666.2,488 662.5,484.1 668.6,483 668.8,479.9 670.1,477.1 671.9,474.2 674.3,471.6 676,468.3 675.5,463 681.2,462.4 683.3,458.4 684.4,453.4 687.3,450.4 689.9,447.9 694.9,449.8 697.6,448.6 700.5,446.8 703.4,444 707.3,442.2 709.4,436.9 712.4,432.7 719.1,434.9 723.8,433 727.9,430.1 732,424.3 737.1,426.5 739.2,431.1 741.6,433.6 744.6,432 746.6,428.5 751.6,431.6 755.9,431 759.2,429.4 761.9,428.3 764.3,427.6 766.5,426.7 769.1,425.2 772.8,425.1 776.5,422.6 781,425.2 785,424.1 788.1,418.6 792.7,417.6 798,420.2 801.4,419.3 803.1,420.4 803.5,421.8 804,423.5 806.4,423.1 810.7,421.6 817.2,420.9 822.3,412.8 828.8,414.9 831.8,419.9 833.4,422.7 835.1,425.3 837.8,427 840.6,428.2 842.9,429.9 845.7,430.6 848.5,430.7 851.9,430.1 854.6,427.7 857,425.6 858.3,423.9 859.6,424.9 863.9,426.5 861.6,430 863.3,431.9 867.2,431.2 872.7,431.3 878.2,429.8 883,428.5 886.9,428.6 890.1,430 894.6,428 897.9,432.6 903.6,433.7 909.9,435.2 916.5,437.2 922.7,439.6 929.1,441.8 936.1,442.7 942.8,443.6 949.6,441.7 951.2,448.3 953.4,450.3 956.2,451.3 958.1,453.8 960,457 963.5,459.2 965.5,462.8 967,466.6 970.1,469.1 974.9,470.8 973,476.3 977,479.1 975.4,484.9 980.2,488.6 979.9,494 979.9,498.8 979.8,502.9 983.5,507.6 979.4,511.1 977.4,514.8 977.8,519.1 977.3,523.2 977,527.2 981.1,532.9 976.6,535.2 971.3,535.3 969.1,537.2 967.1,539.1 965.6,540.8 964,541.8 963,543.5 961.3,545.5 958.6,547.3 955.3,549.5 953,553.9 948.1,551.7 945.6,553.3 943.2,554.6 940.6,554.8 938.4,556.6 936.2,559.2 933.4,561.9 929.8,563.7 927.1,565.3 924,568.8 922.4,565.1 920.8,563 918,562.4 913.9,562.6 909.2,564.6 904.1,564.4 900,565.1 898.2,571 895.3,565.5 893.8,566.9 891.3,566.7 888.9,568.8 887.2,573.1 883,573.3 879.1,572.7 875.6,579.8 871.9,576.6 868.9,573.8 866,571.1 863.2,571.3 860.5,576.6 857.9,570.7 854.8,570.6 851,570.8 848.3,577.1 843.1,572.7 841.1,579.2 838.7,580 836.4,580.3 833.1,576.2 830.5,577.2 827,576.5 822.9,575.9 818.4,576.5 815,573.9 811.6,574 808.6,573 805.8,572.9 804.3,575.8 805.3,579.7 798.1,577 795.9,579.1 794.4,584.8 791.5,580.1 788.7,578.4 785.7,576 781.8,574.5 777.1,573.8 771.4,576.2 766,573.1 759.5,576.3 755.2,570.4 748.7,573 744.3,568.3 737.8,571.9 733,565.6 726.8,563.8 720.4,563.1 713.8,564.1 709.5,559.9 703.7,559.8 700.6,555 693.8,556.3 691.5,549.4 686.6,546.1 682.2,542.6 679.1,538.7 671.9,539.7 674.1,533.2 671.8,530.8 670,528 667.8,525.5 663,523.9 666.5,519.4 663.2,516.4 665.6,511.9 666.4,507.2 666.3,502.6" fill="#000" fill-opacity="1.0" /></clipPath></defs>
<g clip-path="url(#cd)"><g filter="url(#tex)">
<rect x="655" y="410" width="335" height="180" fill="rgb(242,194,192)"/>
<rect x="655" y="410" width="335" height="180" fill="url(#mesh)"/>
<path d="M811.3,560.8 816.9,564.3 812.1,573.7ZM834.1,454 828.9,452.3 822.9,446.4ZM743.1,429.8 744.9,426.8 752.6,429.2ZM955.2,468.4 946.6,475.8 942.5,470.5ZM816.5,452.4 819,437.3 829,439.7ZM725.1,458.7 736.8,456.4 745.4,464.5ZM865.8,536.2 868.3,531.8 877.6,538.7ZM800.5,527.3 807.7,522.2 820.9,529.6ZM704.8,471.8 706.4,472.4 696.5,483.9ZM860.6,511.7 851.2,504.8 868.6,492ZM768.9,446.5 760.4,453.4 755.2,446.2ZM858.3,564.9 850.2,575.6 841,564.1ZM704.9,466.1 706.8,463.4 721.1,474.5ZM947.5,545.5 943.3,543.7 943.9,537.5ZM758.1,566.7 751.1,570.2 747.4,566.3ZM905.3,480 885.1,489.1 884.8,472.9ZM721.2,475.1 714.7,485.3 704,481.5ZM764.7,480.9 760.2,488 751.2,484.6ZM955.2,495.7 974.5,493 972.9,505ZM890.2,516.2 887,508.3 897.8,501.2ZM944.3,475.7 943.3,467.3 953.5,470.8ZM778.5,572.9 771.2,565.7 772.5,566.9ZM833.5,458.1 834,461.3 821.9,473.4ZM792,487.8 788.9,493.5 780.8,489.6ZM684.4,533.8 692.1,536.2 694.1,545.1ZM903.8,535 901.7,538.7 889.2,529.2ZM724.2,545.8 731.8,553.6 730.4,552.6ZM740.2,454.8 745.7,449.9 750.9,458.3ZM828.7,521.1 834.6,514.3 848.7,521.1Z" fill="rgb(182,42,44)" fill-opacity="0.45"/>
<path d="M835.2,544.6 825.6,551.5 822.8,547.8ZM866.5,483.7 875.3,491.2 873.7,496.7ZM700.4,532.2 705.3,530.3 711.6,538.6ZM870.2,551.1 876.1,554.8 873.3,568ZM947.5,504.1 935.2,508.4 930.7,499.2ZM893,442.5 903.8,457 899.2,460.4ZM979.4,498 973.7,492.1 976,490.3ZM928.4,444.2 920.2,451.8 916,446.4ZM780.2,449.6 791.5,451.6 788,463.5ZM830.1,420.7 835.8,427.6 834.7,428.9ZM715.9,478.3 710.7,483 703,479.9ZM889.5,453.2 906.7,443.7 910.1,449.5ZM943.3,516.3 949.2,511 954.2,513.4ZM800.9,472 791.2,469 789.7,454ZM762.7,435.5 772.7,426.5 779.2,433.4ZM822.7,473.2 830.3,464.7 841.6,479.3ZM898.4,485.7 886.7,483.7 884.4,474.5ZM680.5,532.5 688.1,516.7 699,528.9ZM707,433.5 716.4,436.6 716.8,442.2ZM876.7,557.3 884.3,554.5 888.1,559ZM721.6,522.1 720.5,515.8 725,512.2ZM859.2,470.1 845.2,469 850.9,458.4ZM833.2,498.3 831.5,507 813.1,490.9ZM810.7,460.2 821.3,467.7 814.7,475.5ZM685.1,505.4 678.9,514.2 672.1,505.7ZM746.9,569.3 752.8,564 755.7,568.7Z" fill="rgb(182,42,44)" fill-opacity="0.50"/>
<path d="M848.2,509.7 851.4,526.2 838.1,528.2ZM963.3,460.5 963.4,464.7 951.9,453.8ZM870.1,468.9 874.3,461.5 886.5,464.2ZM736.1,551.4 728.5,554 724.9,549.4ZM871.8,441.3 884,428.8 890.6,436ZM822.1,564.9 825.5,557.3 843.5,562.1ZM970.9,470.9 986,475.3 975.1,490.8ZM735.3,508.3 739.3,494.7 751.7,502.7ZM937.7,475.7 948.6,471 953.7,475.6ZM959.1,489.3 945.6,499.5 941.9,496.5ZM742.5,444.3 747.4,438.7 755.5,443.9ZM828.5,451.2 839.1,440.4 843.5,438.1ZM948.8,454.9 949.6,452.4 956.6,459.3ZM816.9,477.7 810,492.8 799.3,486.3ZM775.6,511.2 772,511.6 768.8,506.1ZM818.8,528.1 828,519.9 838.9,535.5ZM771.3,558.6 778.2,570 767.9,577.8ZM767.1,458.6 772.8,464.2 776,468.5ZM901.7,452.3 893,456.1 891.5,447.2ZM780.4,487.2 780.1,491 773.5,492.1ZM833.4,430.8 826.1,435.9 820.8,432.7ZM902.4,550.2 891.4,544.5 895.3,532.7ZM954.3,509.4 963.3,495.4 970.4,504.2ZM807.3,554.8 799.2,558.2 794,549.2ZM850.8,554.3 844.1,563.8 836.5,557.3ZM760.3,453.8 752.1,461.1 739.7,456.6ZM846.4,470.1 855.3,471.8 856.8,486.3ZM765.4,458.2 761.8,461.5 757,459.6ZM898.7,532 904.9,537.5 905.4,545.4ZM737,544 736.1,556.8 724.2,556.1ZM776.3,571.6 772.8,576 766.3,572.9Z" fill="rgb(182,42,44)" fill-opacity="0.40"/>
<path d="M850.6,443.4 859.9,434.2 865.9,449.4ZM959.9,523.6 968.5,517.8 972.4,521.8ZM718.5,556.5 705.8,543.7 707.4,542.4ZM686.7,524.8 677.1,530 670.4,523.1ZM736.2,429.7 734,434.6 727.7,434.6ZM898.8,549.6 887.5,559.8 879.4,553.8ZM902.9,522.1 913.6,514.5 922.5,525.9ZM830.4,451.4 828.6,447.6 834.1,443.6ZM754.2,520.1 764.3,515.9 769.6,521.3ZM808.3,562.5 807.8,574.7 792.2,567.7ZM797.5,564.2 789.9,571.9 783.3,576ZM877.7,529.4 883.9,521.1 892,528.4ZM806.2,486.8 818.2,482.3 819.4,491ZM733.7,489.2 724.4,490.7 716.2,479.7ZM827.5,513.6 833.3,519.3 831.3,522.7ZM841.9,512.7 852.4,506.1 862,516.5ZM813.3,483.9 808.2,481.7 800.6,474.2ZM851.1,560.3 843.6,564.6 836,556.6ZM740.9,518.6 735.8,524 726.1,520.2ZM790.9,553.3 778.9,556.5 779.4,546.2ZM854.1,437.5 838.3,450.5 837.5,444.8ZM842.4,543.6 852.2,541.9 852,551.4ZM753.9,536.5 754.6,523.2 774.4,530.6ZM929,533.9 928.6,531.2 938.4,540.8ZM936.4,449.8 930.6,453.1 924.6,448.9Z" fill="rgb(182,42,44)" fill-opacity="0.35"/>
<path d="M783.1,480.9 788.5,479.2 790.9,482.7ZM797.7,472.8 794,478.3 789.4,474.5ZM734,498.3 752.3,495.7 753.8,506.7ZM846.7,505.7 835.6,513.8 831.3,511.3ZM928.1,559.5 933.6,561.3 933.8,565.6ZM694.4,520.1 689.2,523.3 678.7,514.3ZM770.2,513.6 764.7,522 754.7,517.1ZM852.1,545.8 849,550.1 840.7,543.9ZM790.1,463 782,474.3 775.1,465.4ZM881.4,517.7 878.6,517.2 866.5,506ZM949.8,507.4 965.3,496.9 968.7,510.1ZM799.3,494.4 809.2,488.4 818.3,493.4ZM782.8,504.6 794.3,499.1 803.6,509.1ZM967.3,524.1 961.7,528.4 959.3,522.5ZM966.8,520.8 972.9,515.1 977.7,523.6ZM917.5,554.2 925.2,543 937.9,547.6ZM743.4,553.1 748.3,531.1 761.1,541.9ZM734.8,443.3 734.7,440.2 749.5,454.5ZM704.3,457.6 696.2,463.3 693.9,449.8ZM743.7,501.2 751.2,492.7 758.2,497.8ZM836.7,455.3 827.3,461.2 820.8,457.2Z" fill="rgb(182,42,44)" fill-opacity="0.55"/>
<path d="M785.8,466.2 795,474.2 795.8,482.5ZM723.4,527.2 718,531.5 710.3,522.4ZM854.7,515.6 838.8,516.7 835.4,508.2ZM747.6,454.1 741.5,463.5 735.6,454.5ZM828.3,496.7 815.7,507.6 813,505.8ZM717.4,560.2 708,564.4 705.9,559.6ZM696.3,461.3 701.2,451.5 717.5,462.2ZM746.1,456.3 754.4,448.3 761.1,456ZM692.7,536.1 697.3,524.2 703.9,527.7ZM700.6,535.8 706.4,536 706.8,541.2ZM848.8,449.7 862.2,447.7 867,454.8ZM893.7,547.4 896.7,538.6 913.1,552ZM723.1,552.1 736.7,566.6 735.2,570ZM675.8,497.4 665.8,506.7 660.9,496.1ZM819,506.8 824.6,498.4 829.9,502.2ZM683.4,508.4 682.6,506.9 697.9,521.6ZM714.2,486.9 708.8,484.6 702.3,478ZM800.7,556.1 791.2,563.2 788.8,557.9ZM916.3,568.7 906.9,571.7 904.8,556.6ZM971.4,528.5 968.6,532.3 963.6,531.5ZM914.5,527.4 904.9,532.3 898.8,525.4ZM726.8,511.5 720.4,504.5 720.2,498.6Z" fill="rgb(182,42,44)" fill-opacity="0.60"/>
<path d="M970.2,519 964.8,523.2 959.8,516ZM723.5,537 729.7,523.4 743.8,538.9ZM925.5,537.7 912.6,548 908.5,540.5ZM758.9,453.7 763.1,447.2 772.5,457.6ZM871.9,503.4 864.5,507.4 857.9,501.6ZM763.8,512 766.3,507.6 776.8,514.6ZM661.8,481 667.3,483 667.3,488.1ZM809.3,557.2 811.5,554.4 817.3,559.4ZM701.2,503.4 703.6,495.2 714.3,495.7ZM790.1,507.5 791.8,510.6 785.9,516.3ZM766.2,531.7 755.1,532.9 748.5,524.5ZM976.5,509.1 973.8,508.8 966.4,501.7ZM857.1,518.3 842.5,534.6 839.2,526.4Z" fill="rgb(182,42,44)" fill-opacity="0.65"/>
<path d="M758,443.1 762,438.8 768.4,443.4ZM811.5,458.5 798.9,469.9 794.8,465.9ZM739.6,506.1 745.7,511.7 744.3,515.3Z" fill="rgb(182,42,44)" fill-opacity="0.30"/>
<polygon points="688.3,492.1 689.7,489.8 691.5,486.8 695.3,487.6 697.9,485.8 701.1,486.5 702.3,484.2 704.8,483.1 709.2,482.7 711.9,481.1 714.9,480.1 717.4,475.7 722.3,477.7 726.1,476.1 729.1,472.1 732.8,470.6 736.9,470.7 740.6,470.5 744.3,470.6 747.6,468.3 751.2,467.8 754.9,468 758.3,466.5 762,466.8 765.8,468.4 769.3,466.9 772.8,465.5 776.5,465.5 780,464.2 783.7,464.7 786.8,461 790.7,463.7 793.9,462.4 796.9,460.9 800,460 803.5,460.6 805.8,457 811.5,455.4 817.1,457.9 820.4,458 822.4,459.1 824.7,459.4 828.2,460 832.4,463.2 838.2,463.7 842.2,461 844.7,464 848,464.1 851.2,465.1 854.7,464.8 858.2,464.1 861.8,465 865.5,464.1 869.5,460.5 872.7,466.8 876.4,467 880,467.6 884,464.4 887.2,468.1 890.7,468.6 894.7,466.2 897.8,469.5 901.2,470.8 904.8,471.4 908.5,470.8 912.4,470 915.9,471.8 919.7,472 923.4,473.7 926.9,474.9 930.6,474.9 933.8,475.4 936.7,477 941.9,478.9 946,481.6 949.5,484.3 953,486.2 958.8,485.4 958.4,490.5 962.8,491.3 960.3,495.7 961.9,497.6 962.7,499.9 963.4,502.6 962.5,505.2 961,507.9 959.6,511.1 956.5,513.3 954.9,517.4 951.1,518.9 946.9,519.6 942.7,522.1 937,522.1 933.7,522.3 930.4,522.8 927.1,525.3 923.4,526.2 919.4,526.1 915.7,527.6 911.7,527.4 908,528.2 904.7,530.1 901.1,530.3 897.6,530.3 894.6,534.4 890.4,529.6 887,530.9 883.6,532.2 879.7,529.7 876.5,533.4 872.9,534 868.7,531.2 865.4,533.4 861.7,534 858.1,534.7 854.6,536.3 851.3,538.4 847.5,537.5 843.9,537 840.5,538.1 837.1,539.1 833.7,540.2 830.1,539.9 826.6,540.1 823,539.2 819.4,539.5 815.6,542.5 812.2,538.2 808.4,539 804.8,538.5 801.1,538.6 797.7,536 794.1,535.5 790.4,536.5 787,535.5 783.4,535.5 780,534.6 776.6,533.2 773.2,532.4 769.7,531.8 766,532.1 762.6,530.6 759,529.5 755.8,527 752.2,526.1 747.6,529.2 744.3,526.7 741.1,524.1 737.1,524.6 733.3,523.7 729.7,522.2 726,520.8 721.8,521 716.7,524.5 713.8,520.8 710.6,519.5 707.7,517.3 701.8,516 696.5,514.6 691.9,512.5 688.6,509.1 688.2,504.3 686.3,499.9 686.7,495.4" fill="rgb(190,70,80)" fill-opacity="0.5" />
<path d="M812.5,507.4 821.3,509.3 824,513.2ZM805.3,514.6 808.9,512.9 813.9,519.7ZM764.7,491.1 761,480.1 765.4,474ZM925.3,494.9 937,490.6 940.7,494.6ZM896.6,490.3 893.5,489 889.1,485.2ZM785.9,480.8 775.3,483.5 768,478.1ZM773.5,522.7 778.3,516.8 788.6,517.7ZM811.2,478.2 803.2,483.4 798.3,481.9ZM831.8,486.1 840.1,482.5 850.7,487.7ZM744,481.7 750.6,480.4 752.4,481.9ZM922.5,515.3 911.8,517.2 906.8,513ZM828.7,496.3 821.8,498.4 814.9,495.6ZM703.5,509 696.5,515.8 687,510.9ZM820.6,487 810.4,497 810.3,496.2ZM773.9,490 780.4,493.6 781.9,498ZM875.1,502.8 870.8,507.1 862.2,502.2ZM815.4,486.3 804.8,487.6 800.8,483.7ZM779.4,527.3 770.7,529.4 761.7,523.7ZM805,539.2 818.4,534 821.4,536.2ZM908.9,484.9 902.5,490.8 892.4,484.7ZM773.5,478.4 778.2,478.6 781.8,482.5ZM873.1,494.6 881.1,490.6 886.9,492Z" fill="rgb(182,42,44)" fill-opacity="0.35"/>
<path d="M797.7,473.6 803.8,470.3 805.8,471.7ZM875.1,468.3 863.3,477.5 859.1,478ZM831.8,533.2 829,537.4 818.2,533.1ZM854,527.8 859.1,522.5 867.1,521.4ZM901,492.7 906.8,491.8 917.8,500.7ZM773.8,493.2 763.1,494.1 757.3,489.8ZM797.8,471.6 802.9,467.6 816.3,476.8ZM816.4,483.6 811.5,485.2 805.1,482.2ZM718.4,498.1 710.2,499.2 705.3,494.4ZM859.8,516.6 867,515.2 868.9,517.3ZM853.1,498.1 845.8,490 849.3,479.6ZM813.8,497.3 818.4,493.4 822.4,496ZM861.9,480.1 858.6,480.4 853.9,474.8ZM797.8,467.5 793.1,470.8 780.6,463.9ZM833.9,482.7 823.5,488.7 819.8,486.2Z" fill="rgb(182,42,44)" fill-opacity="0.40"/>
<path d="M904.8,489.8 898.8,492.1 894.3,490.2ZM835.9,524.1 824.5,533.4 819.3,532.5ZM732.4,502 737.6,498.5 743.1,501ZM803.9,498.8 808.4,497.4 811.6,502.1ZM838.6,485 836.9,487.5 827.2,482.2ZM857.4,517.4 852.1,521.8 848.7,519.4ZM709.1,514.6 704.2,517.6 694.7,508.5ZM749.8,494.5 753.4,494 759.4,497.4ZM815.8,456.2 812.6,462.2 800.3,463.7ZM726.4,517.6 717.2,522.5 712.3,521.2ZM859.3,468.8 863.9,467.5 867.6,469.2ZM862.9,502.6 855.7,506.8 844.2,503.9ZM723,484.7 712.7,490 705.2,483.6ZM932.4,487.8 935.7,485.3 946.5,489.1ZM861.9,498.1 865.2,496.1 870,496.6ZM899.1,479.4 895.6,473.1 895.9,470.2ZM810.5,502.2 813.9,500.2 819,502ZM798.4,483.6 795.1,488.7 789.4,490.4ZM839.9,519 847.7,513.6 856.4,517.1ZM839.7,524.2 840,515.4 846.4,511.1ZM752.4,487.7 744.6,491.8 739.2,487.5ZM730.2,518 742.5,513.8 747.7,516.2ZM852.3,472.9 858.4,470 867.6,473ZM788.9,503.1 793.2,499.8 805,502ZM909.5,499.8 905,497.5 904.4,493.6ZM832.6,523 839.3,516.1 849.2,513.7ZM927.8,525.8 926.8,527 917.6,519.3ZM747.6,506.1 738.2,514.1 729.2,510.2ZM775.1,527.2 766.6,529.5 760.7,526.6Z" fill="rgb(182,42,44)" fill-opacity="0.60"/>
<path d="M745,469.4 751.7,467.2 755.7,469.5ZM806.9,538.6 820.9,536.8 826.3,542.7ZM942,518.5 933.7,525.8 928.5,522.3ZM722,518.4 719.2,515.2 717.7,507.1ZM886.7,499.9 887.9,497.8 894.6,501.7ZM766.7,531.3 774,526.9 786.5,531.5ZM799,456.6 808.2,450.4 817.8,458.6ZM789,500.4 791.8,498.1 801.5,503.8ZM786.5,508.2 780.9,511.4 777,510.3ZM891.9,469.3 895.2,467.7 906.2,472.6ZM897,511.4 890,513.7 882.6,510.2ZM787.2,524.5 782.1,528.8 770.6,524.9ZM869.1,475 866.5,479.6 862.5,480.4ZM868.1,493.2 877.2,491.9 886.8,498.3ZM734.1,483.7 725.8,488.2 718.2,485.4ZM770.8,513.5 773.9,516 774.6,521ZM764.6,504.7 760.2,505.8 751.1,499.9ZM709.8,511.3 722.1,508.1 728.4,513.6ZM841.6,473.4 841.9,485.1 838.2,488.7ZM903.1,506.6 899.3,507.4 889.6,500.2ZM942.5,494.8 942.8,489.1 949.5,482.1ZM751.3,515.7 745.7,520.9 734.1,514.6ZM843.6,509.2 836.4,509.6 827.4,503ZM678.8,497.7 686.3,496.8 695.4,505.2ZM792.6,473.1 806.8,469.6 811.6,473.3ZM851.7,486.5 856.8,481.4 861.2,483.4ZM860.9,462.1 862.5,468.5 859.6,474.5ZM751.2,496 741.8,496.8 737.7,493.6ZM802.3,478.7 805,479.6 805.6,486.3ZM800.8,489.1 810.1,498.3 810.7,504.8Z" fill="rgb(182,42,44)" fill-opacity="0.65"/>
<path d="M772.5,504.8 771.1,512.7 765.5,517.9ZM715.6,487.9 722.1,485.7 727.9,491ZM826.2,482.5 836,481.4 844.5,487.1ZM710.5,490.6 705.7,493.7 702.4,492.8ZM873.7,525.9 868,528.5 863.4,527ZM898.1,510.1 893.7,512.4 886.9,509.5ZM815.2,467.3 816.6,472.6 812.4,476.1ZM843.8,502 840.3,505.4 833.4,502.1ZM908,520.7 912.7,517.4 916.4,519.3ZM871.5,513.5 866,518.5 862.9,515.8ZM784.7,523 792.1,516.8 801.1,519.7ZM871.2,469.8 867.6,471.2 862,468.9ZM793.9,520.1 786,524.4 777.5,522.5ZM789.8,521.9 786.8,523 779.8,518.2ZM768.3,510.2 777.6,502.8 786.5,503.4ZM970.3,499.6 961.4,504 951.6,499.8ZM938.8,502.2 947.2,497.6 953.1,502.1Z" fill="rgb(182,42,44)" fill-opacity="0.45"/>
<path d="M870.2,489 870.6,480.2 883.5,476.4ZM900.8,481.3 889.1,469.1 888.4,467.9ZM943.2,505.1 933.7,511.8 926.3,505.5ZM831.4,519.6 821.9,520.4 815.3,512.8ZM699.7,500.3 700.7,501.4 694.8,510.5ZM868.4,497.4 871.8,495.7 882.1,501.1ZM808.7,533.7 816.7,531.3 822.3,536.2ZM874.9,475.2 884.7,469.9 890.3,471.5ZM729,481.9 721.4,487.3 715.2,484.9ZM696.7,506.8 688.9,508.5 681.8,501.5ZM940.2,485.6 932.6,491.5 929.3,487.8ZM701.6,496.2 698.2,498.8 693.1,498.5ZM912.4,512.9 903.1,508.1 902.4,504.3ZM719.2,474.5 725.3,476.4 735.6,485.3ZM822.2,483.8 833.6,479 839.9,485.2ZM717.5,491.8 724.1,485.7 733.4,482.1ZM881.5,492.7 889,491.6 896.7,495.9ZM817.6,475.9 812.3,482.3 803.1,483Z" fill="rgb(182,42,44)" fill-opacity="0.55"/>
<path d="M951.8,480 947.5,484.6 937.6,484.3ZM874.8,516.3 877.7,514.5 884.3,516.6ZM833.7,474.7 843.3,472.7 845.4,478ZM837.7,530 840.2,524.8 852.1,528.5ZM727.8,481 721.1,484 717.4,481.1ZM909,486.3 904.1,490.3 896,482.4ZM900.4,470.9 903.8,470.4 911,475.4ZM757.2,521.8 752.6,526.2 748.2,529.4ZM915,525.8 915.8,513 920.7,508.2ZM803.2,493.7 811.9,490.1 818.7,495.6ZM734.3,492.4 738,495.7 748.3,505.8ZM939.1,483.6 931.1,491.3 926.9,490ZM777.2,511 772.4,515 764,510.9ZM812.7,473.3 808.3,474.2 804.2,469.5ZM960.7,499.4 952.1,500.7 946.4,495.2ZM787.7,465.5 783.1,467.9 774.3,465.1ZM807.3,472.7 801.4,478.1 791.1,477.9Z" fill="rgb(182,42,44)" fill-opacity="0.50"/>
<path d="M916,515.5 918,514.9 924.6,519.3ZM897.4,509.9 905.4,507.1 914,511ZM859.9,534 857.1,538.3 842.5,531ZM737.4,515.2 743.5,512.5 756.3,517.7ZM746.1,528 753.5,521.3 763.1,522.2ZM791.1,508.1 776.6,517.2 772.3,513.2ZM813,518.2 823.2,519.1 829.6,524.7Z" fill="rgb(182,42,44)" fill-opacity="0.70"/>
<path d="M763.9,520.6 772.3,516.8 777.1,518.4ZM815.5,506.8 816,510.3 813,515.3ZM966.1,490.9 961.4,494.3 956.5,493.3ZM789.8,473.8 787.2,481 783.8,484.8ZM846.5,489.5 853.3,484 860.1,488.2Z" fill="rgb(182,42,44)" fill-opacity="0.30"/>
</g>
<g filter="url(#soft)">
<polygon points="700.4,487 704.3,486.6 709.3,485.1 711.9,483.4 714.9,483 717.5,480.8 721.1,481.9 724.2,480.9 727.2,479.2 731.1,480.2 734.4,477.9 738.7,480 742.8,480.7 746.6,477.4 750.6,476.1 753.8,476 757,475.6 760.1,475.3 763.9,477.4 767,474 770.6,474.1 774,473.6 777.8,475.7 781.3,475.3 784.3,472.5 787.3,470.9 790.5,470.1 795,471.4 799.7,472.8 802.8,468.6 806.1,466.3 810.2,468.9 813.5,468.4 816.9,468.8 820,466.8 823.3,468.8 826.7,469 830.6,466.6 833.8,470 838,468 841.9,468.5 845.2,471.9 849.1,472.4 852.6,474.9 856.8,471.9 860.4,473.3 863.8,475.4 868,473.1 871.3,476.9 875.6,474.6 879.6,474.3 883.4,478.7 887.9,477.9 890.8,479.3 894.1,476.5 897,477.8 899.8,479.8 902.9,478.5 906,478 909.8,481.1 914.4,479.4 918,482.7 922.7,479.7 926.4,481.7 930.7,480.6 934.4,481.1 938.1,481.3 941.2,482.2 944,483.2 949,485.4 952.4,489.3 956,491.7 958.9,493.3 960.7,491.2 959,488.4 955.4,485.6 951.8,481.1 946.3,478 943.1,475.8 939.6,475.5 935.7,474.8 932.1,472.7 927.8,473.2 924.2,469.6 919.5,472.8 915.5,471.8 911.5,468.7 907.1,468.8 904.3,466.3 900.9,469.7 898,468.1 895.2,465.4 892.1,466.9 888.8,468.9 884.9,465.8 880.4,467.7 876.6,466.4 872.5,467.2 869,465.1 865.2,465.3 861.5,465.2 857.7,465.5 854.4,462.5 850.4,464.3 847.2,461.1 843.4,461.2 840,459 836.3,457.6 831.8,460.3 828,458.9 824.1,457.2 820,458.3 815.9,456.5 812.1,457.7 808.2,457.8 804.5,458.2 801,460.4 796.8,458.3 792.8,459.2 789.1,461.2 786.3,463.7 782.8,461.5 780,464.5 776.2,462.1 772.8,462.9 769.5,465.1 766.1,466.7 762.7,467.7 758.9,465.9 755.5,465 752.8,468.9 749.6,469.5 745,467.9 740.8,468.8 736.6,468.6 732.5,468.5 729.3,471.4 725.8,473.1 721.8,471.3 719.4,475.9 715.5,474.6 712.6,476.8 709.6,477.8 707.3,480.5 702.5,482.6 699.6,485.2" fill="rgb(165,22,24)" fill-opacity="0.1575" />
<polygon points="700.1,486.3 703.8,485.5 708.5,483.3 711.5,482.5 714.3,481.4 717.5,480.7 720.4,479.4 723.8,479.3 727.2,479 730.7,478.4 734.1,476.6 738,476.1 741.9,475.3 746.3,475.7 750.3,473.9 753.4,473.1 756.8,474.3 759.7,472.1 763.2,471.9 766.8,471.9 770.4,472.5 773.6,470.3 777.1,469.8 780.7,470.4 784.1,471 787.2,470.3 790.5,470.2 794.5,468.4 798.4,466.7 802.3,466.5 806.3,467.2 809.7,466.1 813.1,465.6 816.5,463.6 820,463.2 823.6,463.9 827.3,464.4 830.8,465.9 834.7,465.3 838.4,466.4 841.9,468.5 845.8,468.6 849.8,468.5 853.3,470 856.9,471.3 860.8,470.4 864.5,470.6 868,472.6 872,471.5 875.8,472.5 879.6,474 884.1,472.8 888.3,474.3 891.4,473.5 894.2,475.1 897.4,474.1 900.2,475.6 903.3,474.9 906.3,475 910.4,477.1 914.7,476.8 918.9,476.8 922.8,478.5 927,478.3 930.9,479.4 934.7,479.4 938.4,480.3 941.4,481.7 944.2,482.8 949.4,484.8 953.5,487.9 957.1,490.5 959.6,492.5 960.6,491.4 958,489.6 955.2,485.9 950.8,482.7 945.6,479.6 942.1,479.1 938.9,478 935.4,476 931.7,475.1 927.5,475.2 923.4,474.7 919.5,472.7 915.3,473.1 911.1,471.9 906.8,471.4 903.6,472.3 900.6,471.9 897.7,471 894.7,470.7 891.8,469.5 888.7,470 884.4,469.9 880.2,469.1 876.4,467.6 872.4,467.7 868.8,466.9 864.9,467.3 861.3,466.4 857.8,465.4 854.1,464.7 850.5,463.9 846.7,464.1 843.1,462.8 839.3,462.4 835.6,461 831.8,460.5 827.8,460.1 823.9,459.9 820,459.4 816.1,458.9 812.5,461.1 808.9,461.5 805.3,462.4 801.5,462.8 797.8,463.7 793.5,463 789.8,465.7 786.5,465.2 783.4,466.2 780.1,465.2 776.7,466 773.2,466.9 769.8,468 766.3,467.9 762.9,469 759.1,467.4 756,468.7 752.7,468.3 749.7,469.8 745.4,470.2 741.3,471.8 737.4,472.4 733.5,473.7 729.9,474.3 726.1,474.4 722.9,475.9 719.5,476.2 716.5,477.8 713.2,478.2 710.5,480 707.8,481.6 703.1,483.9 699.8,485.4" fill="rgb(165,22,24)" fill-opacity="0.252" />
<path d="M720.9,476.5 719.9,480.2 715.4,482.1ZM889.3,471.8 885.7,473.5 883.3,473.1ZM774.4,468 784.1,467.5 786.6,468.6ZM799.8,468.3 793.2,472.4 785.7,472.5ZM717,484.7 713.7,485.3 709.1,482.4ZM892.4,474 900.4,470.8 906.6,471.9ZM879.2,461.3 883.9,463 890.4,472.3ZM754.6,472.4 757.8,470.3 760.3,470.3ZM817.1,463.6 826.3,461.6 829.1,463.6ZM905.1,475.6 902.1,476.5 895.7,472.8ZM762.3,471.6 758.6,474.9 753,473.8ZM866,468.8 872.5,468.4 880.4,472.8ZM786.9,468.3 796.4,465.6 801.6,465.8ZM828.7,463 833.7,462 834.9,463.4ZM845.5,469.2 841.3,469.8 836.6,465ZM828.1,463.5 824.9,464.6 820.3,463.8ZM811.2,459.4 818.8,460.3 822.5,463.7ZM953.6,481 958.6,490.7 958.3,496ZM764.9,468 762.1,470.7 756,470.8ZM803.9,465.4 800.5,466.9 796.8,465.2ZM802.1,462.4 796.7,466.9 788,469.1ZM846.7,465.8 853.4,468.5 857.1,471.7ZM900.3,475 902.5,472.2 906.4,473.9Z" fill="rgb(165,22,24)" fill-opacity="0.55"/>
<path d="M876.2,471.7 881.8,470.3 892.1,473.2ZM716.8,481.5 721.4,478.4 726.5,478.3ZM701.6,479.4 710,478.8 712.9,481.3ZM769.4,466.9 764.5,469.7 759.8,470.4ZM776,469 770.9,467.8 765.6,464.6ZM731.5,475.9 724.1,481.6 720.6,481.8ZM751,473 753,470.5 757.6,470.8ZM879.8,471 876.5,471.6 873.5,469.9ZM708.9,479 707.8,480.9 703.5,482.3ZM885.8,477.1 881.5,472.1 882.4,468.4ZM714.1,475.7 718.7,474.1 724.5,475.2ZM912.5,471.3 920.8,471.2 924.6,473.2ZM770.6,471.5 776.1,469.1 778.2,470.3ZM800.4,467.5 796.7,468.2 792.3,466.6ZM727.2,476.9 722.2,481.5 713.9,483ZM926.2,470.7 931.4,472.4 937.3,479.1ZM878.4,470.6 873.6,473.2 863.3,472.2ZM925.4,477.2 918.4,477.8 912.4,476.6ZM886.8,477.9 874.6,475.5 872.2,472.5ZM873.9,467.7 877.2,467 886.3,472.7ZM734.4,472.3 731.7,473.6 727.4,470.7ZM755.4,477.3 752.1,477.9 744.1,476.4ZM810.7,460.6 817.1,460.9 818.9,463.4ZM942.8,483 938.2,480.8 938.2,478.4ZM752.5,467.4 750.5,470.3 746.6,470.6ZM960.1,493.5 952.7,490.2 951.8,486.7ZM870.8,472.7 876,468.1 882.5,468.2Z" fill="rgb(165,22,24)" fill-opacity="0.50"/>
<path d="M929.1,475.3 935.9,476.3 938.1,478.3ZM705.1,487.1 706.5,483.5 710.6,481.7ZM788.1,464.3 785.4,465.5 780.5,464.9ZM772.2,469 765.9,468.9 765.3,466.2ZM954.1,485.1 959.4,491.6 960.5,495.5ZM891,471.6 896,471.3 898,473.2ZM740.1,474 736.8,476.4 727.2,474.5ZM879.5,469.9 884.1,470.2 886.9,472.5ZM902.5,474.1 897.7,473.2 890.8,468.9ZM843,466.2 848.7,465.6 854.4,469.7ZM754.9,471.3 761.2,470.3 766.5,472ZM807.3,469.8 800.8,471.4 792.9,468.4ZM897.2,470.4 890.6,473.3 886.1,471.4ZM731.2,477.1 723.8,478 722,475.9ZM761.3,471.2 757,472.9 753.7,471.4ZM867,470.2 860.2,467.9 858.7,464.3ZM762.4,465.9 757,470 751.7,471.1ZM728.2,474.1 725.1,477.5 715.7,478.9ZM813,459.7 807.4,461.6 799.2,461.9ZM838.1,462.8 844.6,463.2 847.3,466.5ZM804.4,463.3 799.5,465.9 795.5,463.7ZM831.6,468.6 833.6,465.5 839.3,465.4ZM712.6,484.3 712.3,487.9 707.7,489.7ZM936.7,479.5 934,479.5 929.9,477.2ZM908,470.3 912.8,471.9 914.1,473.7ZM895.1,473.5 891.9,473.4 885.9,470.5ZM793,463.5 794.8,462.3 800.6,464.1ZM924.9,478 919.4,477.7 911,474.4ZM952.6,484 946.8,481.1 946,476.6Z" fill="rgb(165,22,24)" fill-opacity="0.40"/>
<path d="M838,462.7 832.1,465.2 827.9,463.3ZM783.9,464.5 782.5,467.7 776.6,468.5ZM861.6,467.4 860,469.3 855.5,467.6ZM854.6,471 861.5,467.9 863.8,469.5ZM707.3,481.6 709.6,479.2 713.8,478.6ZM778.9,472.6 771.3,473.1 763.6,469.5ZM735.5,473.6 727.6,479 723.8,477.9ZM701.4,482.9 710.3,477.4 715.2,477.2ZM934.1,478.5 927.9,482 921.6,480.7ZM825.1,464.7 831.8,466.2 837.1,469.7ZM811.9,463 818.5,462.1 820,464.8ZM955.9,493.6 951.4,490 951.4,485ZM924.8,474.4 930.6,474.4 938,479.4ZM817.7,459.5 824.2,459 831.2,461.7ZM783.4,470 779.9,473.3 774,472.4ZM703,481.4 702,484.7 697.6,485.9ZM713.4,479.5 720.5,476.5 728.7,475.8ZM914.3,475 916.4,473.2 922,475.4ZM756.7,468.4 749.9,475.2 745.5,475.6ZM812.1,458.9 815.7,458.6 819.2,461.5ZM819.5,461.3 816.4,463.4 812.1,462.5ZM769.8,468.5 766.9,469.6 763.6,468.4ZM940.9,480.4 942.8,479.3 947.2,480.5ZM701.7,488.5 704.9,482.7 709.9,481.2ZM740.9,477.8 742.7,474.3 750.9,469ZM746.7,470.8 744.1,472.6 737.5,469.3ZM921.6,480.7 925.4,477.7 927.8,479ZM963.9,499.4 956.8,495.9 951.4,489.8ZM943.7,479.6 947.8,480.9 948.3,483.7ZM833.1,462.5 824.6,465.9 821.8,463.9ZM714.8,475.4 724.7,473.8 730.6,474.3ZM727.2,475.3 719.9,480 715,480.4ZM776.6,473.3 772.5,473.2 763.5,466.6Z" fill="rgb(165,22,24)" fill-opacity="0.60"/>
<path d="M760.9,472.4 759.4,473.4 754.3,472.8ZM917,474.3 909.5,477.1 904.2,476.9ZM792,463.3 785.6,470.1 781.5,470.5ZM947.4,483.7 942.9,480.6 942.8,477.9ZM923,475.2 927.8,473.7 932.1,475.2ZM787.8,465.3 792.8,462.3 797.5,462.7ZM765.8,468.7 759,470.3 750.6,469.1ZM730.5,468.3 726.3,473.2 718.5,477.5ZM696.5,488.8 699.7,485.7 707.1,485.1ZM852.9,466.6 848.4,468.6 844.8,467.9ZM949.6,481.8 953.5,482.7 956.1,485.5ZM949.8,486.4 955.1,485.7 956.2,487.4ZM786.6,468.7 780.7,469.8 774.2,466.8ZM766,472.1 767.4,470.2 772.4,470.7ZM762.7,468.1 769.6,465.7 776.8,466.3ZM882.8,468.8 892.4,472.9 894,476.8ZM763.7,469.3 758.9,470.8 757,468.1ZM819.2,463.9 821.3,463.1 829,464.8ZM876.5,471.3 880.3,469.3 885.7,470.7ZM727.5,472.2 721,477.2 718,477.6ZM710.7,478.4 706.1,482.7 698.9,486.8ZM774.8,466.4 766.8,471.5 762.9,471.7ZM814.7,465.6 816.7,463.2 823.6,463.9ZM770.7,469.8 772.4,467 781.7,466.4ZM948.6,483.9 944.1,484.7 936.1,480.7ZM951.2,488.2 941.7,482.4 938.9,478.5ZM913.5,478.5 921.5,476.8 928,478.5ZM705.7,486.2 709.4,479.9 714.7,478.1ZM923.8,474.6 918.6,474.4 917.1,473ZM876.6,468.8 879.6,467.6 884,468.6Z" fill="rgb(165,22,24)" fill-opacity="0.30"/>
<path d="M823.3,458.2 820.5,460 811.9,458.6ZM710.2,482.8 701,485.2 697.5,483.3ZM837.8,467.7 845.7,464.6 849.2,464.8ZM815.1,456.7 823.1,458.3 827.5,461.9ZM924.2,473.9 927.2,472.9 932.8,477.1ZM941.4,482.9 930.7,479.8 926.9,476.5ZM851.2,463.3 847.1,464.8 843.7,462ZM921.8,478.3 918.4,478.8 913.8,476.5ZM735.5,476.5 733.2,478.6 726.7,478.8ZM949.9,480.9 954.6,484.2 957.8,490.7ZM838.1,464.6 831.4,465.1 822.9,463.6ZM770.9,463.7 768.9,467.9 758.3,473.3ZM739.8,474.3 733.2,478.4 730.5,477.6ZM752.6,476.8 745.9,479.6 740.6,478.4ZM955,484.5 960.2,491 960.6,495ZM807.1,462.6 805.3,464.8 802.1,465.9ZM751,470.7 748.8,473.7 744.6,473ZM963.7,495.8 957.4,492.1 955,486.6ZM804.3,462.9 807,460.9 812.4,460.1ZM958.3,484.9 955.6,484.7 954,480.7Z" fill="rgb(165,22,24)" fill-opacity="0.35"/>
<path d="M949.6,482 956.3,488.5 960,494ZM844.5,462.4 848.2,463 849.8,466.8ZM829.7,462.5 826.4,463.1 821.1,460.2ZM887.1,471.3 897.7,473.7 901.5,477.6ZM884.9,472.4 877.3,473.2 872.7,470.2ZM896.6,472.4 893.5,473.6 888.3,473.3ZM797.4,470.6 798.7,468.9 803.3,469.8Z" fill="rgb(165,22,24)" fill-opacity="0.65"/>
<path d="M784.5,468.9 773.5,466.8 769.7,464.7ZM896,474.3 898.8,471.7 909.1,471.2ZM790.7,468 786.4,468.6 780.5,464.8ZM875.5,466.9 880.8,467.9 888.8,474.7ZM716.2,475.7 712.6,486.3 708.8,488.7ZM908.4,471.7 915.9,470.7 922.2,473.6ZM880.5,469.3 873.9,472.3 870.5,471.5ZM716.1,476.9 720.1,477.7 726.9,481.6ZM698.8,489.3 703.6,483.5 708.9,481.8ZM703.7,483.1 712,477.8 717,476.2ZM814.8,465.1 812.6,466.9 807.7,466.5ZM721.6,475.7 719.9,478.6 713.3,478.6ZM783.3,464.4 788.7,463.1 793.8,464ZM938.6,481.6 943.9,479.8 948.7,481.6ZM762.2,466.4 755.4,470 749.7,470ZM763.4,467.1 756.1,470.5 752.8,468.8ZM814.8,461.3 819.8,459.5 827.4,462.7ZM703.5,481.2 710.1,479.4 716.2,481ZM782.1,465.1 789.4,465.2 795.8,469.1ZM741.8,472.6 751.3,465.5 755,465.1ZM791.4,469.9 797.7,467.1 799.8,467.8ZM755.4,474.2 759.8,473.3 762.5,474.3ZM960.1,488 956.7,487.1 947.3,480.5ZM939.5,478.4 935.2,479.4 929.6,476.5ZM943.4,480.4 950.1,477.9 958.6,478.7ZM740.8,475.4 750.2,475.1 756.1,476.3ZM713.4,477.6 713.8,481.3 710.1,483.1ZM821.7,462.6 818.5,463.3 809.8,459.4ZM713.4,475.3 720.8,475.6 726.3,479.6ZM868.9,466.9 876.3,466.6 882.8,468.6ZM917.2,476.4 927.4,473.6 931.4,475.4ZM933.2,479.5 929.9,480.3 923.2,474.7Z" fill="rgb(165,22,24)" fill-opacity="0.45"/>
<polygon points="699.6,515 702.3,517.2 706.8,519 712.1,522.2 715.6,523.4 719.6,522.6 723,527.3 727.6,527.6 731.3,526.8 734.1,530.4 737.3,532.4 741.8,528.8 745.2,530.5 748.8,531.6 752.1,533.3 756,531.3 759.1,534.8 762.4,536.2 766,535 769.3,536.3 772.9,534.6 776,537 779.5,536.2 783,535.9 786.4,535 789.4,539.5 793,537.3 796.1,539.7 799.6,538.4 802.9,537.9 806.4,536.4 809.4,541.1 813,538.1 816.2,539.7 819.5,542 823.2,538.2 826.5,537.5 829.9,538.2 833.4,541.2 836.7,540.8 840.2,539.3 843.6,537.5 847,537.5 850.9,540.6 854.1,537 857.5,536.9 861.3,538.5 865,539.2 868.1,537.3 871.5,536.9 874.4,535.3 877.4,533.1 880.7,533.4 883.9,534.5 887.1,535.1 890.1,534.2 894.7,534.4 898.5,529.5 903.1,530.8 907.3,529 911.4,528.4 916.1,530.8 919.9,528 924.3,529.1 928.4,528.8 932.3,527.1 935.8,524.5 939.5,523.1 942.3,520.7 946,520.6 950.9,516.8 955.7,514.4 959,511.6 961.1,509.4 959.4,507.3 956.6,508.5 953.5,511.5 948.4,512.6 943.5,514.3 941,515.9 937.6,515.5 933.8,515 930.2,515.8 926.4,517.2 922.5,518.5 918.1,517.3 914.5,520.6 910.3,520.9 906,520.2 901.7,520.5 897.5,521.9 892.8,520.9 888.7,524.2 885.2,521.3 882.6,525.3 879.3,524.2 876.1,525.6 872.7,524.7 869.2,524.1 866.4,528 862.8,527.3 859.1,525.4 856.3,529 853,530.1 849.4,528.1 846.2,528.6 843,530.5 839.7,529.7 836.6,530.2 833.3,529.5 830.1,528 827,529 823.6,528.5 820.4,528.9 817.1,529.4 813.8,528.6 810.6,526.7 807,529.6 803.8,528.1 800.6,525.6 797,529 793.9,525.5 790.5,525.8 787.2,525.3 783.8,525.7 780.3,528.4 777.2,526.1 774,524.4 770.5,526.5 767.6,522.9 763.9,524.9 760.5,525.5 757.1,525 753.8,523.1 750,524.8 746.7,522.8 743.2,521.5 739.6,521.2 735.9,522 733,518.9 729.2,520.1 725.1,518.6 721,517 717.2,517.6 713.8,516.9 708.1,515.3 703.9,513.4 700.5,512.6" fill="rgb(165,22,24)" fill-opacity="0.1575" />
<polygon points="699.8,514.4 702.8,516 707.1,517.9 712.8,520.1 716.3,520.8 719.5,522.8 724,523.4 728.2,524.9 731.4,526.5 734.9,526.8 738.1,528.2 741.9,528 745.4,529.6 749.2,528.9 752.5,530.7 756.2,530.1 759.6,531.8 763.1,530.9 766.5,531.2 769.8,531.6 773.2,532.1 776.4,533.2 779.8,533.6 783.2,533.3 786.5,533.5 789.8,535.2 793.2,533.7 796.6,534.1 799.8,534.9 803.2,534.7 806.4,536.5 809.9,535.6 813.2,535.8 816.5,536.6 819.9,536 823.2,537.9 826.6,537.3 830,536.7 833.3,536.4 836.7,536.6 840.2,537.9 843.6,537.3 847,536.9 850.4,536.6 854,536.8 857.1,534.4 860.8,535.4 864.3,535.1 867.4,533.2 870.6,532 874,532.4 877.1,531.3 880.2,530.4 883.4,530.7 886.5,530.4 889.6,530.2 893.9,529 898.5,528.9 902.8,528.8 907.1,527.6 911.1,526.5 915.3,526 919.4,525.4 923.5,524.2 927.5,523.4 931.7,523.9 935.4,522.9 938.9,520.6 942.3,520.7 945.4,519 950.6,516.4 955.1,513.5 958.2,510.5 960.4,508.5 959.6,507.5 957.1,509.2 954,512.1 949.4,514.2 944.3,516.4 941.4,517.5 938.3,518.3 934.7,519.1 930.9,519.3 926.9,520.1 922.8,520.3 918.9,522.2 914.7,521.9 910.5,522.4 906.3,522.8 902.1,523.4 897.8,524.3 893.5,525.8 889,526.4 885.9,526.2 882.9,527.1 879.5,525.9 876.4,527.4 873.3,528.4 870,528.6 866.5,528.4 863.4,530.4 859.8,529.2 856.7,531.3 853.3,531.9 849.9,532.6 846.5,531.9 843.1,532.2 839.9,532.9 836.6,532.3 833.3,532.3 830,533.9 826.7,533.6 823.4,532.5 820.2,531.4 816.9,531.6 813.5,532.1 810.2,531.8 806.9,531.2 803.6,530.1 800.2,530.8 796.8,530.7 793.5,529.8 790.2,530.2 786.8,529.9 783.6,528.6 780.3,528.7 777,528.2 773.5,529.2 770.4,527 767,527 763.7,527 760.2,527.4 756.7,527.2 753.3,526.1 749.8,525.7 746.6,523.4 742.9,523 739.4,522.2 735.7,522.9 732.6,520.9 729,521.3 724.7,520.5 720.2,520.2 716.8,519.1 713.4,518.3 707.8,516.1 703.4,514.6 700.2,513.5" fill="rgb(165,22,24)" fill-opacity="0.252" />
<path d="M850.1,536.5 844.1,537 842.3,535.4ZM811.1,533.6 805.3,535.2 801,532.6ZM923,522.6 928.6,520.4 931.6,521.9ZM738.5,526.3 734.9,525.6 733,522.1ZM710.5,516.8 721,517.8 724.4,520.8ZM907.8,526 905.1,529.2 901.7,527.8ZM867.6,535.4 860.8,535.5 853.3,531.1ZM911.8,524.8 905.4,529.6 902.1,528.8ZM760.7,524.8 764.8,525.3 771.7,531.8ZM900.3,526.6 904.2,522.7 910.7,522.6ZM915.5,525.5 913.2,527.4 908.6,525.3ZM809.7,535.9 806,536 804.1,533.1ZM943,518.3 941.2,519.2 935.6,517.7ZM954.4,514 950.3,520 947.8,520.5ZM864.6,532.1 861.7,534.8 854.2,534.3ZM875.4,529.1 872.1,531.2 861.4,533.5ZM817.1,534.1 811.1,535.6 806.9,533.9ZM739.1,521.1 737.1,523.1 729.2,522.9ZM808.1,529.8 803.6,532.1 798.2,532.9ZM795.2,534 802.4,532.2 806.8,533.3ZM810,533.3 814.4,533.6 817.9,536.7ZM873.7,527.9 869,531.1 866.4,530ZM859,529.8 853.6,532.7 848.8,533.2ZM700.8,513.6 705.5,513.9 714.9,518.8ZM845.2,535.5 840.7,535.9 830.8,532.8ZM812.1,533.1 818.9,530.4 822.2,532ZM928.1,524.5 931.2,521.3 935.3,522.7ZM829,539.5 824.4,538.5 818.8,534.3ZM961.8,502.9 960.4,508.9 953,516.2ZM809.9,534.8 807.8,535.6 802,533.4ZM964.6,506.1 962.9,508.8 953.4,510.6ZM859,529.7 863.1,526.9 872.8,528.3ZM950.3,516.7 951.7,514 957.6,514.5ZM845.2,532.9 838.6,534.1 830.8,533.3ZM769.3,529.5 765.1,527.5 759.8,521.3Z" fill="rgb(165,22,24)" fill-opacity="0.45"/>
<path d="M885.9,529.7 884.4,532.2 879.2,534.6ZM856.6,529.8 853.1,532.8 851.1,532.2ZM787.6,531.6 790.5,528.9 802.7,530ZM895.7,523.5 890.3,528.2 886.9,528.9ZM815.1,534.6 811.4,537.7 808.6,536.9ZM735.8,528.8 731.6,527.8 730.6,524ZM842.2,534.3 839.1,538 833.8,538ZM843.7,532 849.4,531.1 852.1,532.2ZM926.6,521.8 924.3,524.7 919.8,523.7ZM921.7,523.5 926.6,521.3 929,522.6ZM818.5,533.2 821.6,531.6 831.5,535.6ZM908.2,521.1 902.3,528.8 896.6,530.7ZM936.3,520.9 939.2,518.7 943.2,518.2ZM894.5,525.9 890.6,526.7 883.5,525.8ZM742.1,523.4 744.7,522.4 748.6,527.6ZM837.3,526.9 830.3,531.8 826.6,531.8ZM909.3,525.7 911.5,523.4 918.9,524.4ZM760.9,527.3 756.4,529 746.9,526.4ZM856,534 860.9,533 867.2,533.7ZM905.6,524.3 901,527.4 899.1,526.2ZM711.1,517.2 701.6,520.2 697.5,520ZM738,526.7 742.4,524.6 745.5,527ZM908.9,528.2 903.3,530.2 901,528.5ZM942.5,526.4 936.6,526.9 928.2,523.7ZM722.1,521 719.4,521.8 710,519.1Z" fill="rgb(165,22,24)" fill-opacity="0.60"/>
<path d="M720.2,525.9 725.2,523.5 731.2,525.6ZM749,525.5 745,526.9 737.4,525.1ZM741,523.9 745.8,524.5 754,528.3ZM929.5,520.4 933.6,516.2 938.4,516.1ZM938.3,517.4 939.8,516.1 946.5,516.2ZM729.3,524 735.4,523.3 744,526.1ZM834.3,539.8 824.8,539.1 821.4,535.6ZM716,526.8 719.4,522.5 724.6,522.5ZM754.2,529.7 757.1,529.1 763.2,531.4ZM948.4,515.9 950.2,512.7 957.4,512.2ZM902.6,525.9 899.1,526.6 892.8,520.8ZM719.1,522.3 721.4,520.3 727.2,522ZM853.5,531.4 863.1,529.7 866.8,531.4ZM735.3,525.4 730.7,527.9 727,526.5ZM787.5,529.6 791,528.2 796.8,531.8ZM714.9,519.3 718.9,519.7 727.2,523.8ZM810.4,538.5 801.7,535.8 797.3,531.6ZM742.2,530.5 746.5,528.1 758,530.2ZM936.5,520.6 930.4,523.5 924.2,523.9ZM763.4,523.9 757.6,530 750.5,532.1ZM722.9,524.6 730.6,522.1 736.1,523.2ZM732.7,527.5 734.7,525 742.7,522.8ZM832.5,535.1 829,538.7 823.1,541.3ZM784.3,529.6 789.2,529.4 793.9,532.3ZM716.9,524.4 722.2,522.4 731.1,522Z" fill="rgb(165,22,24)" fill-opacity="0.55"/>
<path d="M822.9,533.1 826,533 829.2,534.8ZM857.9,536.7 852.3,536.6 844.7,532.9ZM715.4,518.2 709.8,519.3 706.3,518.6ZM785.2,528.7 779.4,534 776.8,533.9ZM836.9,538 834.4,539.5 829.2,537.6ZM780.2,527.4 777.3,529.7 770.3,529.6ZM765.6,526.8 760.5,527.3 751.2,524.2ZM908.4,531.2 896.7,532 893.4,530.2ZM744.8,527.6 741.1,526.4 739.4,522.9ZM716.1,520.4 711.7,520.8 707.6,517.6ZM740.8,527.1 742.9,525.2 747.2,526.6ZM710.2,514.1 706.2,515.8 695.1,512.7ZM946.9,513.5 951.8,514.2 958.2,517.4ZM800.4,532.7 809.3,534.8 811.4,536.5ZM771,530.6 763.7,531 756.9,528.9ZM833.5,530.7 826.4,533.8 820.8,532.1ZM754.8,523.6 748.3,527.9 744.8,528ZM803.9,535.2 799.2,536.5 793.8,535.4ZM778.2,528 770.8,530.7 764.1,529.8ZM957.4,512.2 955.2,514.5 950.2,514.9ZM837.6,533.7 845.7,530.8 850.2,532ZM790.8,530.8 784.7,530.1 783.6,528.7Z" fill="rgb(165,22,24)" fill-opacity="0.50"/>
<path d="M850.4,536.8 852.7,534.8 862.5,531.7ZM832.5,533 834,531.7 839.4,532.4ZM760.5,530 766,529.5 769.2,531.8ZM798.4,537.7 792.3,536.9 785.1,533.4ZM939.7,523.6 935.7,526.3 932.9,525.7ZM705.2,520.6 712.7,517 718.1,518.5ZM738.3,523.3 733.2,525.6 731.3,523.9ZM756.1,529.1 758.7,527.5 766.1,527.9ZM916.2,529.5 908.6,530.2 902.7,528.8ZM711.9,520.7 707.8,519.9 706.7,517.4ZM737.9,527.2 740.9,525.5 749.9,527.8ZM759.8,528.8 756.9,529.7 748,525.4ZM831.8,537.1 837.7,535.2 842.2,536.3ZM755.7,524.7 752.5,526.4 744.3,524.6ZM943.3,522.3 936.8,522.2 932,518ZM813.3,537.6 815.1,535.9 820.3,536.1ZM703.9,514.7 706.4,516 712.1,523.5ZM721.8,525.4 719.4,526.4 712,523.2ZM817.5,535.8 815.6,536.4 812.5,532.5ZM957.5,510.2 955.9,515.3 953.5,518ZM791.1,535.9 796.4,530.3 802.9,529ZM703,511 708.7,515.7 708.7,518.6ZM758.4,527.1 761.2,526.8 765.9,529.2ZM823.9,527.7 829.7,529.7 832.6,533.4ZM843.9,532 836,537.2 832.1,537.1Z" fill="rgb(165,22,24)" fill-opacity="0.30"/>
<path d="M788.4,536.5 785.2,537.7 775,534.4ZM861.8,537.9 867.4,531.1 871.7,529.5ZM925.8,517.6 928.4,517.4 937.9,520.2ZM810.4,538.2 814.8,535.1 817.2,535.3ZM844.1,536.5 839.8,536.6 838.1,534.9ZM828,535.2 823.4,536.9 818,534.2ZM756.8,523.3 759.9,520.9 771,522.2ZM871.7,525.6 867,530.6 860.5,534.4ZM924.8,520.3 922,521.4 918.6,519.8ZM861,530.5 854,533.7 851.1,533.5ZM703.3,516.5 697.1,515.2 695.9,513.6ZM849.6,532.9 856.8,530.2 862.4,529.9ZM704.9,517.2 709.6,516.9 714.1,519.9ZM786.1,530.6 783.9,532.3 778.1,529.9ZM892.6,527.8 902.9,527 908.4,527.9ZM960.8,504.1 960.4,507 956,507.9ZM891.2,528.9 895.3,527.1 900.9,527ZM717.9,522.8 724.6,520.1 728.3,521.6ZM709.2,517.4 719.9,515.8 724.5,517.2ZM721,517.9 715.5,520 707.9,518.4ZM937.6,523.8 940.5,521.3 945.4,519.8ZM930,524.4 925.5,526.4 921.3,525.7ZM735.5,526.1 733.1,526.4 727.6,522.4ZM763.3,529.3 765,527.7 771,528ZM725.6,521.5 730.5,522.3 731.7,523.7ZM741.4,525.8 751.1,524.2 753.7,525.9ZM829.6,532.6 821.3,533.4 814.6,532.2ZM782.4,529 786.8,527.3 790.2,528ZM896,523.9 898.6,522.9 904,524.2ZM712,520.3 714.1,518.5 719.7,521Z" fill="rgb(165,22,24)" fill-opacity="0.35"/>
<path d="M895.5,527.8 900.2,525.4 907.3,524.9ZM954.5,513.3 952.2,515.3 944.7,515.8ZM819.4,534.4 813.6,533.1 809,529.5ZM833.5,534.3 837.8,532 842.5,533.7ZM960.9,505.9 958,508.7 955.7,509ZM771.3,536.5 781.7,531.5 786.1,531.5ZM695.2,511.9 699.7,512.6 708,520ZM794.1,533.7 790.3,534.9 781.6,533.8ZM930.5,522.6 927.8,527.4 925,527.5ZM885.9,526.9 881.4,530.1 875.8,528.8ZM875.2,530.7 873.2,531.5 865.5,530.3ZM857.4,532.5 852.1,536.6 847.1,535.8ZM747.1,525.7 750.3,524.7 754.7,525.3ZM784.8,528.4 781.3,529.4 777.7,528.6ZM932.1,521.8 933.7,518.3 940.3,515ZM770.5,528.4 773.7,528.2 777.6,531.9ZM831.2,530.6 833.6,529.5 838.8,532.9ZM814.8,539.9 819.8,537.5 828.7,538.8ZM767.4,531.2 761.6,530.9 760.6,527.7ZM700.6,511.1 704.9,512.3 709.3,516.6ZM860.9,535.7 860.6,532.7 866.1,529.9ZM895.1,526.2 892.8,527.7 885.6,528.7ZM846.7,536.8 850.9,532.7 859.6,530.3ZM737.5,529.1 731.8,530.2 730.2,527.6ZM898.9,529.2 891.5,529.9 888.8,527.3ZM874.8,531.2 878.7,528.3 889.2,525.8ZM724.2,522 719.3,522 714.6,516.8ZM849.3,534.3 858.9,529.5 862.7,529.3ZM880,528.9 882.3,525.5 893.6,522.1ZM855.4,536.4 864.5,533.5 868.5,535ZM930.3,521.2 936.5,518.6 938.7,520.8ZM929,524.5 937.1,517.3 939.7,516.3ZM884.6,529.6 882.2,532 875.9,531.3Z" fill="rgb(165,22,24)" fill-opacity="0.40"/>
<path d="M765.6,528.3 762,529.5 758.7,527.6ZM920.3,520.9 926.6,517.4 929.2,518.2ZM726.6,521 723.3,522.3 713.6,520.4ZM793.6,533.1 797.6,533.1 804,537.3ZM830.4,536.3 824.8,535.2 819.7,531.9ZM713.4,518.1 717.4,518 721.3,520.2ZM866.1,532 869.6,530.1 873,532.3ZM917.2,522.8 913.2,523.7 908.2,523ZM875.9,527.8 870,529.8 861.9,528.4Z" fill="rgb(165,22,24)" fill-opacity="0.65"/>
<polygon points="700.1,487.1 703.6,487.8 707.1,488.3 710.5,488.9 713.7,487.3 717.1,489.1 720.8,487 724.7,487.6 728.5,486.5 732.3,487 736.3,487.6 740.1,485.9 743.3,487.4 746.6,487.4 749.8,486.8 753,486.9 756.7,486.2 760.3,487.6 763.9,485.3 767.6,486.9 770.9,487.4 774.2,486.3 777.5,486.8 780.8,487 783.9,485.3 787,485.1 790,483.8 790,482.1 786.9,481.8 783.8,481.9 780.7,479.1 777.4,479.9 774.1,481.4 770.8,480.7 767.4,479.3 763.8,479.6 760.2,481.4 756.6,481.8 752.9,479.3 749.7,481.5 746.4,480.7 743.2,482.4 739.9,481.7 736,480.4 732.2,482.5 728.2,481.5 724.3,480.4 720.5,480.5 716.8,482.8 713.3,480.9 710,481.2 706.9,483.8 703.4,484.2 699.9,484.9" fill="rgb(165,22,24)" fill-opacity="0.1575" />
<polygon points="700,486.4 703.5,486.7 707,486.3 710.3,486.1 713.7,486.8 716.9,486 720.8,486.1 724.6,486.5 728.4,485.4 732.3,486.3 736.2,486 740.1,485.7 743.3,485.1 746.5,484.6 749.8,484.8 753,485.5 756.6,485.5 760.3,484.9 763.9,485.3 767.5,485.3 770.9,485.2 774.2,484.6 777.5,484.5 780.8,484.3 783.9,484.2 786.9,483.9 790,483.4 790,482.7 786.9,482.5 783.8,482.6 780.8,481.7 777.4,482.4 774.1,482.1 770.8,482.6 767.5,482.6 763.8,481.5 760.2,481.8 756.6,482.7 752.9,482.6 749.7,482.3 746.5,483 743.2,483 739.9,482.2 736.1,483.2 732.2,483.1 728.3,483.2 724.5,483.7 720.6,483.5 716.8,483.4 713.5,483.5 710.2,484.6 706.9,484.7 703.4,485 700,485.8" fill="rgb(165,22,24)" fill-opacity="0.21" />
<path d="M720.1,484.5 726.2,485.4 732.7,488.9ZM753.2,483.7 748.7,484.1 746.2,482.8ZM717,485.9 725.7,481 729.1,481.2ZM785.3,482.7 790.9,482.1 794.7,485.3ZM757.4,483.8 754.1,485.8 750.6,483.6ZM724.6,484.4 715.1,485.5 711.1,483.6ZM782,486.2 772.1,484.5 767.3,480.8ZM782.7,485.3 785.5,483.7 791.2,483.3Z" fill="rgb(165,22,24)" fill-opacity="0.45"/>
<path d="M780.5,479.8 792.5,481.2 795.3,483.5ZM735.6,479.4 746.6,482.8 748.7,486.4ZM785.8,481 784.3,482.2 777.8,482.8ZM780.1,482.9 776.8,484.3 771.2,481.8ZM770.4,485.6 776,480.9 780.9,481.2ZM710.7,482.9 714.3,482.9 723.1,488.2Z" fill="rgb(165,22,24)" fill-opacity="0.50"/>
<path d="M728.1,485.6 733.1,482.1 737,482.7ZM773.4,484.6 766.2,486.1 763.7,484.7ZM781.7,483.5 790.4,480.6 794.1,480.9ZM792.7,486.7 789.5,488 781.3,485.3ZM781.5,482.6 777.6,486.6 773.9,486.1ZM709.1,484.9 717.5,483.1 722.4,485.1ZM756,482.4 760.6,481.4 764.4,483.7ZM757.5,484.3 762.4,480.1 767.1,480.8Z" fill="rgb(165,22,24)" fill-opacity="0.30"/>
<path d="M764.8,485.6 765.9,483.9 772.2,482.3ZM777.4,483.7 770,483.7 767.8,482.4ZM765.8,481.3 759.8,481.3 758.7,479.2ZM766.3,486.6 759.7,485.2 756.3,481.5ZM751.1,485.3 752.7,483.2 757,483.7ZM728.3,483.3 724.7,485.4 720,485.2ZM717,486.2 710.6,486.5 703.4,483.2ZM769.7,482 772.7,481 781.6,484.6Z" fill="rgb(165,22,24)" fill-opacity="0.35"/>
<path d="M760,483.9 756.2,486 752.1,484.2ZM768.4,485.2 766.6,486.1 762.4,483.3ZM787.6,480.8 784.3,484.1 780.1,483.9ZM774.9,481.5 777.4,478.6 782.5,479.2ZM731.6,484.3 723.1,484.9 718.8,482.2Z" fill="rgb(165,22,24)" fill-opacity="0.25"/>
<path d="M713.5,488.6 714.6,485.1 722.4,482.5ZM770.8,481.6 763.4,484.7 760,483.3ZM762.2,484.4 756.4,485.1 749.9,484ZM710.5,487 705.9,488.4 698.9,487.5ZM724,483.6 716.4,485.5 711.7,484.3ZM731.2,485 723.5,486.8 717.2,485.1ZM753.4,483 746.9,487.2 743.9,486ZM721.2,484.6 717.9,485.9 714.6,484ZM754.3,480.5 751.8,485 745.1,487.9ZM761.5,486.4 753.6,484.8 748.6,482.3ZM707.3,486.8 703.8,487.4 695,485.5ZM718.3,482.1 714,484.5 708.6,484.2ZM763.1,481.9 766.4,479.8 778,483.1ZM731.6,485.5 741.3,483.6 744.3,484.7ZM698.3,485.2 702.2,483.5 708.7,485.9ZM725.6,484.7 728,482.8 735.4,484.5Z" fill="rgb(165,22,24)" fill-opacity="0.40"/>
<polygon points="860,485.1 863,485.8 866.1,486 869.1,485.4 872.4,488.3 875.7,487.1 878.9,487 882.2,485.7 885.8,487.1 889.4,485.8 893.1,486.2 896.7,487.6 900,487.4 903.3,487.5 906.6,485.5 909.9,485.7 913,488 916.2,486.1 919.4,486.5 922.5,486.5 925.6,489.1 928.9,488.5 932.2,488 935.4,488.3 939.2,488.7 943,489.5 946.8,489.1 950.9,487.6 955,487.4 955,486.6 951.1,485 947.2,483.8 943.4,484.5 939.7,482 935.9,482.2 932.6,482.3 929.4,481.7 926.1,481.8 922.9,481.2 919.6,482.3 916.5,481.1 913.4,479.8 910.1,480.8 906.7,480 903.4,480.7 900,482.2 896.7,482 893.1,480 889.4,481.7 885.8,480.5 882.2,479.7 878.9,480.2 875.6,481.5 872.4,481.7 869.1,480.4 866.1,482 863,483.2 860,483.5" fill="rgb(165,22,24)" fill-opacity="0.1575" />
<polygon points="860,484.2 863,484.4 866.1,485 869.1,485 872.4,485.9 875.7,485 878.9,485.6 882.2,485.6 885.8,484.8 889.4,484.5 893.1,484.9 896.7,485.1 900,484.6 903.3,484.7 906.7,485 909.9,485.6 913.1,485.1 916.3,485.9 919.4,486.4 922.6,485.6 925.8,485.9 929,487.1 932.3,486.9 935.5,487.3 939.3,487.2 943.1,487.5 947,487.2 950.9,487.6 955,487.2 955,486.5 951.1,485.9 947.1,485.1 943.3,484.8 939.5,485.1 935.7,484 932.4,484.4 929.2,483.7 926,482.9 922.8,482.7 919.5,483.6 916.4,482.9 913.2,483.4 910,482.7 906.7,483 903.4,483 900,483 896.7,483 893.1,482.1 889.4,481.9 885.8,481.9 882.2,482.6 878.9,482.7 875.6,482.6 872.4,482.6 869.1,483.1 866.1,483.4 863,483.5 860,483.7" fill="rgb(165,22,24)" fill-opacity="0.21" />
<path d="M874,481.8 878.4,480.5 882.3,483ZM879.1,483.9 873,485.9 869.2,484.1ZM948.5,484.6 950.6,485.2 954.5,490.5ZM953.8,487.3 950.9,489.9 946.9,487.9ZM933.2,486.6 936.8,485.8 946.2,487.2ZM891.1,483.4 884,485.6 881.5,484.9ZM906.6,480.8 902.1,483.7 890.9,483.9ZM925.8,485.6 931,482.9 939,484.3Z" fill="rgb(165,22,24)" fill-opacity="0.35"/>
<path d="M891.6,487.2 884.8,486.2 879,483.2ZM872.7,479.4 880.7,482.9 883.6,486.4ZM919.7,483.3 924.7,483.1 927.7,486.3ZM894.4,486.1 887.9,484.5 886.6,482.7ZM882.8,487.2 879.6,486.5 875.6,483.3ZM875.4,483.7 872.2,484.6 860.8,482.1ZM911.1,478.6 917.2,481.9 923.8,487.8ZM883.8,487.2 873.6,483.6 870.5,481.1ZM899.1,485.9 891.1,485.4 885.9,482.9ZM873.3,485.2 870.4,486.8 864.9,484.1ZM896.5,481.9 893.3,483.6 890.7,483.5Z" fill="rgb(165,22,24)" fill-opacity="0.40"/>
<path d="M878.5,484.4 874.7,484.7 863.7,482.2ZM917.6,488.4 914.6,488.6 912.7,484.7ZM938,483.4 934.7,485.7 931.2,485.8ZM936.7,487.1 926.9,485.2 923.8,482.8ZM882.3,480.8 879.5,483.1 872,483.1ZM918,483.3 915.5,485.1 910.4,484.5ZM934.4,486.4 928.3,483.8 926.3,480.3ZM911,484.7 902.6,484 900.9,480.8ZM856.5,482.9 860.9,483.9 863.5,486.4ZM951.8,487.6 948.2,488 944.5,485.3Z" fill="rgb(165,22,24)" fill-opacity="0.45"/>
<path d="M923.9,481.5 919.1,486.9 915.1,487.4ZM924.2,490.3 930.1,485.3 936,482.8ZM915.6,483.6 921.6,483.1 925.4,487ZM865.8,483.1 868.7,482.1 872.4,484.2ZM901.4,483.8 898.3,485.5 892,484.2ZM926.9,485.4 935.5,483.2 940.1,483.5ZM869.3,486.5 872.6,482.9 883,480.5ZM879.5,484.7 876.5,485.9 872.8,483.9ZM906.3,487.1 902.2,486.7 893.2,482.3ZM876.2,483.6 880.9,484.3 884.1,487.3ZM877.1,481 874,483.5 869.1,481.8ZM892.6,484.9 890.1,484 888.3,480.2ZM877.3,484.2 873.7,484.8 862.9,482.3ZM919.7,484.1 911.1,487 908.6,486.6Z" fill="rgb(165,22,24)" fill-opacity="0.30"/>
<path d="M892.7,484.8 888.8,485.7 884.1,484.8ZM949.1,488.2 945.9,488.6 940.7,484.6ZM889.2,482.8 880.7,485.2 877.3,484.6ZM939.9,484.1 947.7,483.3 950.2,485.9ZM943.1,487.9 947.5,486.1 957.6,487ZM908.2,482.5 912.5,480.9 922.6,481.9ZM896.6,482.8 899.7,480.8 907,482.8Z" fill="rgb(165,22,24)" fill-opacity="0.50"/>
<path d="M949,490.5 940,486.9 938.7,484.1ZM939,484.2 943,482.3 951.3,483.8ZM869.2,482.8 860.1,484.5 856.9,482ZM932.2,482.2 939.2,482.3 943.6,484.3ZM933.4,484.8 938.8,483.5 944.1,485.6Z" fill="rgb(165,22,24)" fill-opacity="0.25"/>
<polygon points="700,514.5 703.4,515.8 706.8,516.5 710.2,516.1 713.4,518.2 716.8,516.8 720.6,517.8 724.4,518.8 728.3,517.4 732.1,519.5 736.1,517.4 739.9,520.2 743.2,519.1 746.4,519 749.7,518 752.9,518.5 756.5,520.3 760.2,518.7 763.8,518.2 767.4,520.1 770.8,519.4 774.1,519.4 777.4,519.2 780.7,520.8 783.8,519.1 786.9,518.7 790,517.6 790,516.5 787,514.8 783.9,515.2 780.8,512.9 777.5,513.8 774.2,514.3 770.9,514.5 767.6,512.4 763.9,513 760.3,512.1 756.7,512.8 753,513.8 749.8,513.7 746.5,513.8 743.3,512.9 740.1,512.1 736.3,512.5 732.3,514 728.5,513 724.7,511.6 720.9,512.2 717,512.9 713.7,512.9 710.4,512.8 707,512.8 703.5,513.3 700,513.1" fill="rgb(165,22,24)" fill-opacity="0.1575" />
<polygon points="700,514.3 703.4,515 706.9,515.2 710.2,515.7 713.5,516.6 716.8,516.9 720.7,515.9 724.4,517.3 728.3,516.4 732.2,517.6 736.1,517 739.9,518 743.2,517.1 746.5,517 749.7,516.9 752.9,517.4 756.6,517.9 760.2,518.2 763.8,517.9 767.5,518.3 770.8,517.7 774.1,518.5 777.4,518.4 780.8,517.5 783.8,518 786.9,517.3 790,517.3 790,516.8 786.9,516.5 783.9,516.4 780.8,515.9 777.5,515.4 774.2,515.6 770.9,514.7 767.5,515.3 763.9,515.4 760.3,515.5 756.6,515.3 753,515.2 749.8,514.9 746.5,515.5 743.3,515.3 740,515.1 736.2,514.9 732.3,514.7 728.4,514 724.6,513.9 720.8,514.1 717,513 713.7,512.7 710.3,513.2 707,513.4 703.5,513.2 700,513.6" fill="rgb(165,22,24)" fill-opacity="0.21" />
<path d="M743.5,517.1 735.2,514.8 730.3,510.9ZM740.9,516.5 735.7,516.3 735,513.4ZM711.6,517.5 712.7,516.2 717.6,515.9ZM754.1,517.2 758.2,514.8 764.3,513.4ZM777,520 782,515.7 784.5,517Z" fill="rgb(165,22,24)" fill-opacity="0.35"/>
<path d="M778.3,513.7 775.9,517.4 771,520.2ZM716.3,514.2 720,512.5 725.9,514.2ZM726.5,517.1 723.1,518.3 715.4,517ZM716.5,514.5 721.2,512.2 730,512.2ZM759.5,516.6 751.5,517.5 746.5,514.7ZM778.1,514.9 781.5,514.8 789.6,518.3ZM763.8,517.6 761.1,519.2 756.6,518.1ZM759.1,513.8 753.3,516.1 751,515.7ZM759.2,517.2 756.3,516.7 753,514ZM712.8,514.4 716.6,513.8 723,516.7ZM721.5,517.5 712.1,514.8 710.1,512ZM746.2,517.3 750.7,515 761.8,514.2Z" fill="rgb(165,22,24)" fill-opacity="0.30"/>
<path d="M777.7,515.8 769.7,518.5 765.5,516.4ZM705,515.2 711.2,514.5 715.4,516ZM733.6,514 741.4,514.5 746.5,517.4ZM743.9,515.7 745.4,513.7 751.3,512.9ZM727.8,515.2 721.5,519.1 718.4,518.1ZM711,513.9 716.7,514.9 720.5,517.6ZM759.4,517.8 763.8,516 767.3,516.8ZM787.1,515.6 781.3,517.6 778.6,516.9ZM785.8,518.8 777.6,518.7 771.6,514.6ZM758.3,517.6 755.5,519.6 749.7,517.3ZM789.9,516.9 783.7,518.1 779.9,516.7Z" fill="rgb(165,22,24)" fill-opacity="0.40"/>
<path d="M780.6,517.7 782.8,516.8 789.2,517.6ZM770.8,515.1 766.9,516.5 764.3,515.6ZM711.1,512.7 701.6,515.5 698.2,514.2ZM718,516.8 727.3,511.2 730.5,511ZM773.2,518.8 769.2,519.1 761.8,511.9ZM747.6,518.6 740.4,518 736.7,514.5ZM716.7,512.4 719.5,513.4 723.3,518.4ZM776,519.1 781.3,516.3 787.5,516.3ZM707.5,515.6 704.4,514.6 701.9,511.5ZM764.9,515.6 768.9,512.6 774.3,513.7Z" fill="rgb(165,22,24)" fill-opacity="0.45"/>
<path d="M740.2,516.2 744.2,514.8 754.9,516.1ZM714.2,516.4 718.2,514.1 721.6,514.9ZM746.8,516.8 741.5,517 739.7,514.9ZM726.5,512.6 731,513.6 732.5,516ZM744.1,516.2 747.4,514.4 751.1,517.2ZM782.2,518.9 776.5,518.4 767.2,514.1ZM754.7,516.6 761.7,514.1 763.7,514.5ZM770.9,513.6 780.8,517.8 782.5,521.1Z" fill="rgb(165,22,24)" fill-opacity="0.25"/>
<path d="M760,513.4 767.7,517.2 772.9,521.5ZM775.3,516.7 778.9,515.8 784.2,520.4Z" fill="rgb(165,22,24)" fill-opacity="0.55"/>
<path d="M749.4,517.3 754.8,513.3 762.8,513.7ZM733.8,518.6 735.8,515.9 739.7,516.3ZM746.8,515.5 737.9,515.3 735.4,513.8Z" fill="rgb(165,22,24)" fill-opacity="0.50"/>
<polygon points="860,516.8 863,517.2 866.1,517.5 869.1,518.3 872.3,519.8 875.6,518.3 878.9,520.5 882.2,518.8 885.8,520.5 889.4,518.9 893.1,518.5 896.7,517.8 900.1,519.9 903.4,518.7 906.7,518.9 910.1,518.1 913.4,520.2 916.4,517.6 919.7,520 922.9,519.4 926,517 929.4,518.1 932.5,517 935.8,517.2 939.6,516.7 943.5,517.6 947.2,516.1 951.1,514.7 955.1,513.7 954.9,512 950.9,512.4 946.9,512 943.1,512.5 939.2,510.9 935.5,512.2 932.1,511 929,513.2 925.6,510.7 922.4,511.8 919.3,511 916.2,512.1 913,511.7 909.9,514.1 906.6,511.6 903.3,514.3 900,512.5 896.7,512.1 893.1,514.1 889.4,512.8 885.8,513.5 882.2,513.8 879,512.3 875.7,514.6 872.4,513.9 869.1,513.5 866.1,514.4 863,514.9 860,515.5" fill="rgb(165,22,24)" fill-opacity="0.1575" />
<polygon points="860,516.3 863,516.7 866.1,517.3 869.1,517.2 872.4,517.6 875.6,517.2 878.9,517.2 882.2,517 885.8,517.3 889.4,518.2 893.1,517.9 896.7,517.4 900,517.1 903.4,517.1 906.7,517.5 910.1,517.7 913.2,517 916.4,517.5 919.6,517.2 922.7,516.1 926,516.3 929.3,516.7 932.4,515.7 935.7,515.4 939.6,515.9 943.4,515.7 947.1,514.6 951.1,514.1 955,513.2 955,512.6 951,512.8 947,513 943.2,513.3 939.3,513 935.6,513.6 932.3,513.9 929,513 925.8,514.1 922.6,514.1 919.5,514.7 916.3,514.2 913.1,514.7 909.9,514.2 906.6,514.1 903.3,514.8 900,514.4 896.7,514.3 893.1,515.1 889.4,514.2 885.8,514.7 882.2,514.8 878.9,515.3 875.7,515 872.4,514.2 869.1,514.5 866.1,515.4 863,515.5 860,515.7" fill="rgb(165,22,24)" fill-opacity="0.21" />
<path d="M920.5,517.4 922.3,515.2 931.3,514.1ZM895,518.3 899.1,514.8 902.5,516.1ZM895.7,513.8 892.8,515.4 883.2,517.2ZM901.3,515.5 896.7,514.6 896,512.2ZM867,513.1 865.8,514.7 861.1,514.9ZM910.6,516.4 902.1,519.2 895.1,517.6ZM925.3,516.9 929.1,513.8 939.5,512.6ZM900.6,516.8 896.5,519 890.7,516.9ZM927,513.9 929.1,513.3 933.4,515.1ZM938.3,513.3 943.7,512.9 951.7,515.7ZM895.7,518.3 886.7,516.3 885.2,513.7ZM937.5,513.1 942.1,511.2 944,513.8ZM893.1,517.2 889.6,518.6 881.6,515.9Z" fill="rgb(165,22,24)" fill-opacity="0.35"/>
<path d="M933.3,515.7 941.2,513.9 946.4,514.7ZM887.4,517.7 892,515.5 901.8,515.7ZM924.1,516.5 926.9,514.1 938.5,513.1ZM894.3,520.9 889.4,519.9 882.5,514.3ZM918.7,516 914.3,516.9 911.8,514ZM881.2,515.1 885.8,513 887.4,514.3ZM919.9,513.8 912.7,515.9 908.4,515.8ZM945.1,514 940,515.9 936.6,514.9ZM856.3,515.3 861.3,514.8 863.7,517.5Z" fill="rgb(165,22,24)" fill-opacity="0.30"/>
<path d="M909.5,514.8 903.5,518.5 900.3,517.2ZM919.2,516.5 912,520.4 909.5,520.1ZM866.7,514 870.5,514.7 871.5,518.3ZM903.8,517.8 892.4,516.2 889.5,513.3ZM956.3,512.4 952.1,515.3 942.3,514.2ZM923.1,518.7 923.3,515.3 930.8,509.6ZM944.9,514.3 939.3,515.2 936.7,514.1ZM906,512.3 904.2,515.3 897.5,515.3Z" fill="rgb(165,22,24)" fill-opacity="0.45"/>
<path d="M911,514.7 908.4,517.1 900.8,520.4ZM895.4,519.5 888.1,516.8 883.4,513.3ZM881.7,517.4 876.1,515.9 874.7,512.9ZM872.5,513.9 870.1,515.8 865.7,516.3ZM880.7,513.3 875.4,515.1 871.6,514.8ZM894.3,516.3 903.5,514.3 909.3,514.4ZM874.9,513.5 871,515.9 867.4,515.6ZM945.9,515.3 939.5,516.1 933.6,512.9Z" fill="rgb(165,22,24)" fill-opacity="0.40"/>
<path d="M875.4,517.3 882.2,514.5 886.9,514.8ZM883.6,521.5 886.4,516.6 891.1,512Z" fill="rgb(165,22,24)" fill-opacity="0.55"/>
<path d="M921.1,518.1 914.7,517.6 911.7,515.7ZM892.1,512.4 887.3,515.4 878.4,517.4ZM877.2,514.2 868.9,516.5 863,516.7ZM940.8,513 944.3,512.7 949.1,514.3ZM868.7,516.4 863.6,517.9 857.4,516.4ZM934.4,515.1 941.5,511.9 945.1,512.1ZM879.9,513.2 877.4,514.8 868.4,514.1ZM928.4,513.4 932,511.6 940.7,515.6ZM855.9,517.1 859.4,515.6 868.1,514.8ZM958.4,513.2 952.7,515.3 947,512.8Z" fill="rgb(165,22,24)" fill-opacity="0.25"/>
<path d="M953.1,515.6 948.5,515.1 945.7,512.9ZM886.1,517.7 883.7,517.3 880.4,513.9ZM859.9,513.3 861.8,510.9 866.2,512.8ZM895.4,516.6 891,517.5 881.3,516.6ZM887.1,516 888.5,514.3 893.9,515Z" fill="rgb(165,22,24)" fill-opacity="0.50"/>
<polygon points="665.1,498 666.2,494.7 665.7,491.3 667.5,488.3 669,485.3 669.8,481.9 670.6,478.2 672.3,475 673.2,471.4 676.9,470.2 678.2,466.7 681.3,465.3 683.8,463.6 687.1,463.8 689.6,461.1 692.6,461.3 694.9,462.2 697.1,463.1 698.5,465.2 700,467.4 703.5,470.5 698.3,472.3 697.8,476.1 694.4,478.4 692.6,481.9 691.5,485.7 690.1,489.7 689.6,494 689.8,498 689.7,501.8 690.1,505.4 691.1,508.9 692.3,512.3 694.4,515.4 697.3,518.1 699.2,521.1 700.4,524 702.2,527.3 698.9,529.4 697.5,532 695.2,533.3 692.8,534.8 689.8,534.2 686.7,534.2 683.8,533.5 681.3,531.8 678.6,529.9 675.6,528.1 673.7,525.2 671.7,522.4 670.3,519 669.8,515.2 668.6,511.8 667.6,508.4 665.6,505.1 667.1,501.4" fill="rgb(165,22,24)" fill-opacity="0.25" />
<polygon points="671,479.7 667.6,482.3 665.4,486.8 663.7,492.3 663.4,497.9 662.6,503.1 663.7,508.1 664.6,513.1 668.8,516.6 670.4,521.6 672.9,526.2 677.6,527.9 681.2,528.7 683.2,526.9 682.9,523.3 681.1,519.4 677.8,516.4 676,513 674.8,509.5 672.1,506.1 671.8,502 672.4,498.1 671.1,493.6 676.2,489.6 675.3,484.5 672.6,480.2" fill="rgb(165,22,24)" fill-opacity="0.1575" />
<polygon points="671.5,479.9 670.2,483 667.2,487.3 666.4,492.8 664.9,497.9 666.4,502.7 667.3,507.2 668.8,511.6 669.3,516.4 672.2,520.3 676.3,523.3 678.7,526.9 681.5,528.4 682.3,527.8 681.3,524.7 679.8,520.4 675.7,517.9 673.7,514.1 672.5,510.3 670.4,506.5 671.4,502 670.7,498.1 671.1,493.6 672.3,488.6 673.2,483.8 672.5,480.1" fill="rgb(165,22,24)" fill-opacity="0.231" />
<path d="M675.3,516.3 672,513.7 668.9,504.6ZM666.8,493.9 673.9,484.5 676.8,483.1ZM674.2,487.4 671.1,481 671.6,477.8ZM668.4,502.3 667.3,498.4 667.6,491.2ZM668.7,490.8 669.7,493.1 667.2,497.9ZM665.5,504.1 664.2,501.3 669,494.2ZM669.8,484.6 670.3,486.7 668.5,491ZM670.3,508.2 667.9,506 665.6,499ZM669.9,512.4 667.6,503.2 669.2,496.5ZM671.8,497.1 673.1,491.5 677.6,483.3Z" fill="rgb(165,22,24)" fill-opacity="0.55"/>
<path d="M673.7,524 678,523.9 681.8,528.8ZM671.3,507.7 672.6,512.4 671.4,515.9ZM670.4,503.7 667.6,499.3 668.9,494.3ZM674,507.9 671.9,507.1 671.3,502.2ZM668.7,508.9 667.3,504.7 668.3,502.7ZM669,488.9 670,493.2 668.1,499.8ZM675.8,521.2 679.5,524.7 680.2,528.3ZM672.1,517.5 669.2,514.2 667.4,505.1Z" fill="rgb(165,22,24)" fill-opacity="0.50"/>
<path d="M671.6,494.1 673.6,497.4 672.1,503.6ZM678.8,520.9 675.8,518.8 670.7,511ZM667.6,512.9 668.2,506 671.9,502.6ZM672.3,500.2 674.3,502.8 672.3,507.6ZM666.3,497.1 670.8,501.3 674.3,509.2ZM677.7,520.9 672.7,517 667.6,508.5ZM670.8,513.1 673.6,515.8 674.2,518.9ZM675.9,481.1 675,483.9 667.2,488.2Z" fill="rgb(165,22,24)" fill-opacity="0.40"/>
<path d="M673.3,517.1 675.7,518.5 676.6,525.6ZM670.9,523.9 668.4,519.7 668.4,508.5Z" fill="rgb(165,22,24)" fill-opacity="0.35"/>
<path d="M666.6,489.2 666.5,493.2 664.1,496ZM667,509.3 665.2,506.3 665.4,498.6ZM671.6,489.6 672.3,492.4 668.2,495.2ZM676.2,480.3 673.4,489.3 669.6,492.3Z" fill="rgb(165,22,24)" fill-opacity="0.45"/>
<path d="M667,504.5 665.6,503 665.7,498.4ZM678.5,522.6 681.2,524.5 680.7,529.8ZM671.8,479.9 674,482.7 673.2,492.4ZM669.9,512.6 674.4,515.8 674.8,519.6ZM672.9,516.8 676.5,518.8 681,528.8ZM673.1,516.7 671.2,512.6 673,510.2ZM669.9,486.8 669.7,495.4 665.4,501.7ZM674.5,484.5 674.1,487.6 670.8,490.5Z" fill="rgb(165,22,24)" fill-opacity="0.25"/>
<path d="M667,494.6 666.5,491.9 671.6,485.4ZM668.5,513.6 665.4,510.6 665.4,508.3ZM665.2,495.5 668,504.3 666.3,507.5ZM671.2,489.7 667.6,484.6 667.5,478.4ZM679.2,521 683,525.7 684.9,534.9ZM665,496.8 664.1,492.3 666.3,488.6Z" fill="rgb(165,22,24)" fill-opacity="0.30"/>
<path d="M669,498.1 667.2,492 668.8,488.3Z" fill="rgb(165,22,24)" fill-opacity="0.60"/>
<polygon points="961.5,466.5 962.4,469.4 962.3,474.9 964.8,478.5 969.3,479.8 970.1,483.2 971.6,486.1 970.1,490 970.7,492.3 972.1,493.9 973.9,495.4 972.9,497.4 971.8,499.7 973.7,502.4 972.9,505 975.1,508.3 972.2,510.2 968.7,511.7 971.4,516.7 968.2,518.6 966.7,521.2 963.5,522.5 962.4,526.7 960.8,530.1 959.3,532.2 960.8,534 962.9,532.7 966.4,531.5 971.8,531.2 974.2,527.5 976.6,524.3 978.9,521.1 978.7,516.5 979.9,513.1 981.9,509.9 983.3,506.6 983.3,503.2 983.2,500.2 984.1,497.4 983,494.7 981.4,492 983,488.4 982.2,485 979.5,482.2 980.7,477.1 978.6,473.5 974.1,471.1 970.1,468.2 965.1,467.1 963.3,464.9" fill="rgb(165,22,24)" fill-opacity="0.1575" />
<polygon points="961.6,466.4 963.2,468.8 965.2,472.5 967.9,476.1 969.8,479.5 970.8,482.9 972.4,485.7 974.1,488.3 975.2,490.9 975.4,493.3 976.4,495.2 976,497.4 977.4,499.9 975.4,502.6 975.3,505.4 976.3,508.6 975.5,511.4 972.5,513.5 971.7,516.8 969.6,519.5 968,522.4 964.8,523.9 963.3,527.7 960.8,530.1 959.6,532.6 960.6,533.8 963,532.8 966.4,531.4 969.5,528.7 971.9,525.6 975.2,523.3 977.4,520.2 979.1,516.7 978.3,512.5 981.1,509.7 981.7,506.3 980.4,503 982.1,500.1 981.5,497.4 980.5,494.9 980.9,492.2 981.8,488.8 979.7,486 976.9,483.4 975.6,480.1 973.3,477.1 972.4,472.5 967.8,470.3 964.7,467.4 962.7,465.4" fill="rgb(165,22,24)" fill-opacity="0.252" />
<path d="M974.7,521.6 975.9,517.3 981.6,508.2ZM963.6,532.1 968.7,527.5 975.2,525.3ZM973.2,473 978,477.1 978.6,480.9ZM975,476.2 980.1,479.1 983.7,488.2ZM970,521.5 969.4,517 971.8,513.8ZM976.8,511.9 976.3,515.9 972.2,519.7ZM963.4,467.6 965.9,470 967.1,477.3ZM975.4,515.4 974.4,512 976.3,501.5ZM973.9,481.2 970.1,477.9 968,473.8Z" fill="rgb(165,22,24)" fill-opacity="0.40"/>
<path d="M975.8,517.9 970.9,526.3 967.1,529.4ZM972.9,528 974.2,518.4 978.3,513.2ZM961.2,475.1 969.7,476.3 974.7,479.2ZM964.5,534.6 965.6,531.6 969.5,529.6ZM970,520.6 968.3,531.4 966.3,534.1ZM966.5,468.5 970.8,470.6 970.6,473.7ZM971.2,517.3 974.3,512.8 977.5,511.5ZM983.1,494.8 975.7,489.6 973.8,484.9ZM965.6,473.8 972.4,476.5 973.7,480.5ZM966.2,533.4 967.2,525 970.5,521.8ZM957.6,463.3 962.4,467.6 964.4,474.3Z" fill="rgb(165,22,24)" fill-opacity="0.30"/>
<path d="M968.1,523.5 970.3,518.2 978.2,511.9ZM974.8,514.8 976.5,509.5 978.1,508.8ZM964.6,529.3 963.7,532.2 959.9,534.4ZM973.9,500.6 976.2,509.9 975.4,513.9ZM975.4,512.3 975.9,506 978.6,499ZM974.1,523 974.5,517.1 978.2,513ZM982.3,496 977.2,492.2 971.9,484.5ZM974.1,493.2 977.7,493.5 980.4,499.3ZM978,507.6 978.9,498.5 982.5,495.4ZM974,504.3 976.9,509.1 976.1,514.1ZM983,504.8 982,498.4 985.6,490ZM980.2,514 976.1,517.6 969.2,517.8Z" fill="rgb(165,22,24)" fill-opacity="0.50"/>
<path d="M972.4,480.2 970.2,479.9 967.5,476.4ZM973.8,487.5 971.3,483.8 971.3,481.4ZM967.2,523.2 966.2,521.3 968.9,516.1ZM967,530 967.8,525.8 975.4,520ZM983,506.3 979.8,497.7 981,494ZM970.2,526.4 972.5,521.5 976.4,520.7ZM963.4,527 960,533.6 954.4,536.3ZM980.1,493.9 981.7,497.7 979.1,509ZM976.6,499.8 973.2,494.4 971.8,484.9ZM965.4,478.8 968.5,478.8 974.9,485.1Z" fill="rgb(165,22,24)" fill-opacity="0.45"/>
<path d="M980.1,514.5 976.8,521.3 970.5,526.4ZM975,481.9 971.3,479.3 970.8,475.7ZM971.9,473.6 966.1,469.8 964.4,463.5ZM964.9,472.8 967.9,476.1 968.4,478.6ZM963.8,472.5 958.4,465.9 958.4,461.1ZM975.3,513.5 975.3,508.6 978.9,502ZM958.3,537.7 958.2,533.5 962.4,529.2ZM963.3,526.9 961.4,536.9 957.4,540ZM968.5,523.7 963.9,529.2 956.1,533ZM970.1,477.3 963.6,469.8 962.2,466ZM963.2,467.9 966.1,467.8 972.8,472.2ZM980,495.9 980.5,498.6 976.2,501.5ZM970,525.4 966.5,527 960.6,527ZM963.8,526.6 967.6,519.2 972,518Z" fill="rgb(165,22,24)" fill-opacity="0.55"/>
<path d="M980.4,508.2 977.6,517.5 974.9,518.8ZM980.2,504.1 982.8,512 982.6,518.2ZM977.6,490.5 973.8,487.6 970.4,479.3ZM969.7,528.5 969.6,526.1 972.2,521.1ZM974.8,477.6 971.3,471.7 971.1,469.3ZM980.6,484.3 976.3,483.1 968.8,474ZM973.6,525.9 969.5,531.4 963.6,533.9ZM981.1,502.7 979.7,505.8 970.7,514.2ZM952.8,533.6 958.5,527.2 962.9,527.3ZM979.3,497.8 975.2,495.6 972.6,488.5ZM960,535.6 960.4,532.9 963.1,530.3ZM983.7,489.7 974.6,484.8 972.4,481.1ZM957.1,533.4 959.7,528.3 963.3,525.4ZM978.6,504.4 980.2,507.8 978.5,516.1Z" fill="rgb(165,22,24)" fill-opacity="0.35"/>
<path d="M976.8,482 970.9,479.4 968.9,475.8ZM977.1,507.5 976.8,501.5 982.2,492.6ZM970.8,473.5 975.8,478.6 978.9,484.6ZM968.1,472.5 975.3,476.5 978.3,481.9Z" fill="rgb(165,22,24)" fill-opacity="0.65"/>
<path d="M973.2,524.5 973.7,519.8 979.1,511.5ZM977.7,484.9 973.8,476.4 973.1,469.7ZM979.6,510.6 977.2,506.4 979,499.3ZM974.7,521 973.3,523.5 967.5,522.8ZM968.5,522.7 964.2,530.8 959.3,534.3ZM975.1,480.5 978.2,482.9 979.6,486ZM981.4,491.8 983.5,496.5 983,505.8ZM968.9,480.3 973,484.1 974.1,489.7Z" fill="rgb(165,22,24)" fill-opacity="0.60"/>
<polygon points="790.1,485.2 793.5,484 797.1,484.2 800.7,483.7 804.4,484.3 807.8,483.5 811.2,483 814.7,483.9 818.1,483.2 821.6,483.6 825,482.9 828.4,483.2 831.9,482.9 835.3,483.6 838.8,483 842.2,484 845.7,484 849.2,484.7 852.8,484.8 856.4,484.8 860.2,484.3 863,485.7 865,487.9 865,491.4 863.7,496 861.2,500 863,504.2 866.1,508.3 864.9,512 862.9,514 860.1,515.3 856.5,516.1 852.9,516.5 849.3,516.2 845.7,515.9 842.2,516.5 838.8,516.2 835.3,516.6 831.9,516.4 828.5,516.9 825,517 821.6,516.3 818.1,516.8 814.7,516.1 811.2,517.1 807.8,516.8 804.3,516 800.8,515.5 797.1,516.2 793.5,515.7 789.9,515.2 787.2,513.8 784.7,512.3 784.9,508.5 786.2,503.9 788.4,500 786.3,496 784.7,491.5 784.3,487.5 787.2,486.1" fill="rgb(150,60,100)" fill-opacity="0.4" />
</g>
<rect x="655" y="410" width="335" height="180" fill="url(#mesh)" opacity="0.3"/>
<defs><linearGradient id="bg66" x1="686" y1="0" x2="795" y2="0" gradientUnits="userSpaceOnUse"><stop offset="0" stop-color="rgb(182,166,222)" stop-opacity="0.35"/><stop offset="0.12" stop-color="rgb(182,166,222)" stop-opacity="0.75"/><stop offset="1" stop-color="rgb(175,165,225)" stop-opacity="0.82"/></linearGradient></defs>
<polygon points="688.9,498 689.2,495.8 691.2,494.3 691.9,491.2 695.3,491.4 696.7,490 698.2,489.1 700.5,487.7 705,487.4 708.4,487.5 711.9,488.2 714.8,487.7 717.7,488 720.6,486.9 723.9,487 727.1,487.7 730.3,486.8 733.5,487.6 736.8,487.3 740,488.1 742.6,487.6 745.2,487.6 747.7,486.7 750.3,487.9 753.1,486.8 755.9,487.6 758.7,487.1 761.4,487.9 764,487.7 766.6,486.5 769.2,486.6 771.9,487.7 774.6,487.6 777.3,486.7 780,487.5 782.6,486.8 785.3,487.4 788.4,485.8 791,484.7 791.5,487.9 792.4,489.9 793.3,493 792.5,496.5 793.3,500 793,503.6 794,507.3 794.1,510.4 792.2,513.4 789.1,512.9 786.4,514.7 783.7,514.1 781.1,514.8 778.4,514.1 775.4,513.8 772.3,514.5 769.3,513.5 766.2,514.2 763.1,513.9 760,513.3 756.7,513.7 753.4,513 750.1,513.4 747.4,513.3 744.7,513.7 742,513.3 739.3,512.8 736.6,513.1 734,514.1 731.4,513.5 728.8,513.4 725.8,513.6 722.9,512.5 720,513.6 716.6,513.2 713.2,513.2 710.6,512.9 707.9,512.1 703.6,511.2 699.9,510.5 697,509 694.9,507.8 693.3,506.5 692.1,504.9 691.3,503 690.2,501.4 689.4,499.7" fill="url(#bg66)" fill-opacity="1" />
<path d="M777.3,498 772.2,502.3 768.1,500.6ZM766.7,495.2 769.7,493.1 771.3,494.7ZM731.2,510.3 726,513.3 725,511.9ZM703.5,494.1 703.8,494.2 706.7,497.1ZM773.3,510.1 772,510.1 769.1,507.8ZM745.6,504.8 744.5,508.1 738.1,507.4ZM704.6,494.9 708.7,492.8 712.4,494ZM706.1,509.8 708.7,508.4 714.1,510.6ZM693.3,496.4 689.8,497.4 688.7,496.4ZM752,503.2 744,506.8 742.5,505.1ZM739,511 745.3,507.7 747.3,511.5Z" fill="rgb(200,120,140)" fill-opacity="0.35"/>
<path d="M731.6,509.9 727.7,509.8 726,508ZM788.3,496.9 786.7,499.7 783.3,500ZM777.1,501.1 778.8,500 781,502.1Z" fill="rgb(200,120,140)" fill-opacity="0.20"/>
<path d="M778.9,512.7 781.1,510.5 783.4,511.9ZM734.2,500.5 738.7,498.5 739.8,500.5ZM701.3,507.7 703.4,507 710.3,511.8ZM776,493.9 769.7,499.3 767.6,498.4ZM694.5,500.5 695.1,496.5 698.1,495.9ZM784.3,513.7 785.8,511.8 790.5,512.2ZM750.9,511.5 755.9,508.6 760.8,511.1ZM773.3,505.9 775.2,503.1 781.3,505.7ZM750.5,492.7 743.5,493.1 741,490.7ZM708.5,505.9 702.6,508.4 698.8,506.1ZM702.2,496.4 707.5,492.3 708.8,493.3Z" fill="rgb(200,120,140)" fill-opacity="0.40"/>
<path d="M737.8,513.1 734.9,514.9 730.6,513.5ZM745,490.2 740.8,491.7 738.1,488ZM783,488.8 786.5,487.3 787.6,488.4ZM742.8,506.2 741.7,504.7 749.4,512.3Z" fill="rgb(200,120,140)" fill-opacity="0.25"/>
<path d="M695.6,490.3 699.3,486.6 704,487.2ZM727.8,502.5 728.1,507.1 721.6,509.5ZM749.4,496.8 747.5,497.9 744.6,496.2ZM750.5,513.4 749.9,508.4 754.1,504.3ZM746.2,508.8 742.9,511.8 737,511Z" fill="rgb(200,120,140)" fill-opacity="0.45"/>
<path d="M751.7,509.6 748.2,512.1 743.5,509.7ZM741.4,491.4 737.3,487 736.6,485ZM723.4,499.6 725.8,497.4 728.3,497.9ZM724.7,511.1 719.6,513.1 715.4,510.4ZM774.1,507.1 778,507.2 780.3,511ZM793.5,505.5 790.4,502.1 790.6,501.6Z" fill="rgb(200,120,140)" fill-opacity="0.30"/>
<path d="M737.5,508.2 737.9,513 736.2,515.5ZM777.4,500.4 781.2,497.4 783.6,497ZM730.8,489.9 729,492.5 721,493.9ZM755.1,510.5 751.8,510.2 750.9,508.6ZM783.7,494.3 786.2,492.8 793.2,493Z" fill="rgb(70,70,150)" fill-opacity="0.45"/>
<path d="M735,504.2 730.8,505.2 723.9,503ZM734.5,512.8 734,510.8 736.3,505Z" fill="rgb(70,70,150)" fill-opacity="0.50"/>
<path d="M748.3,497.5 755.8,495.7 757.9,497.2ZM731.8,494.3 736.7,495 741.1,500.3ZM721.7,499.5 718.2,500.4 712.6,498.7ZM748.5,511.7 750.8,507.7 754.1,503.8ZM707.7,488.1 709.4,487.7 711.8,488.9Z" fill="rgb(70,70,150)" fill-opacity="0.40"/>
<path d="M765,508.4 767.1,510.5 767.8,511.3ZM761.2,513 759.1,512.5 756,509.8ZM765.2,508.5 758,509.8 755.7,507.6Z" fill="rgb(70,70,150)" fill-opacity="0.20"/>
<path d="M728.2,501.2 731.4,498.7 739.3,498.3ZM738.6,512.5 740.7,511.3 743.3,511.8ZM774.3,511.2 772.6,510.6 771,505.5ZM762.6,509.3 760.8,510.4 756.3,509.3Z" fill="rgb(70,70,150)" fill-opacity="0.30"/>
<path d="M772.2,493.3 767.8,492.8 765.2,490.6ZM746.2,512.9 742.2,513.2 740.8,512.4ZM717.1,506.4 721.2,505.7 726.6,509ZM752.1,510.6 761.4,508.9 763.8,512Z" fill="rgb(70,70,150)" fill-opacity="0.35"/>
<path d="M690.4,493.1 691.4,491.7 696.3,491.5ZM715.5,488.4 718.2,487.1 723.3,488.5ZM711.1,504.8 707.2,509.3 704.5,509.2ZM751.2,504.7 748.5,505.9 745.6,504.8ZM778,506.8 771.7,508.5 766.3,504.8ZM697.9,498 695.9,499.5 690.2,499.8ZM706.7,494.9 702,497 694.8,495.4Z" fill="rgb(70,70,150)" fill-opacity="0.25"/>
<polygon points="688.9,498 689.2,495.8 691.2,494.3 691.9,491.2 695.3,491.4 696.7,490 698.2,489.1 700.5,487.7 705,487.4 708.4,487.5 711.9,488.2 714.8,487.7 717.7,488 720.6,486.9 723.9,487 727.1,487.7 730.3,486.8 733.5,487.6 736.8,487.3 740,488.1 742.6,487.6 745.2,487.6 747.7,486.7 750.3,487.9 753.1,486.8 755.9,487.6 758.7,487.1 761.4,487.9 764,487.7 766.6,486.5 769.2,486.6 771.9,487.7 774.6,487.6 777.3,486.7 780,487.5 782.6,486.8 785.3,487.4 788.4,485.8 791,484.7 791.5,487.9 792.4,489.9 793.3,493 792.5,496.5 793.3,500 793,503.6 794,507.3 794.1,510.4 792.2,513.4 789.1,512.9 786.4,514.7 783.7,514.1 781.1,514.8 778.4,514.1 775.4,513.8 772.3,514.5 769.3,513.5 766.2,514.2 763.1,513.9 760,513.3 756.7,513.7 753.4,513 750.1,513.4 747.4,513.3 744.7,513.7 742,513.3 739.3,512.8 736.6,513.1 734,514.1 731.4,513.5 728.8,513.4 725.8,513.6 722.9,512.5 720,513.6 716.6,513.2 713.2,513.2 710.6,512.9 707.9,512.1 703.6,511.2 699.9,510.5 697,509 694.9,507.8 693.3,506.5 692.1,504.9 691.3,503 690.2,501.4 689.4,499.7" fill="url(#meshb)" fill-opacity="1" />
<defs><linearGradient id="bg67" x1="857" y1="0" x2="965" y2="0" gradientUnits="userSpaceOnUse"><stop offset="0" stop-color="rgb(175,165,225)" stop-opacity="0.85"/><stop offset="0.75" stop-color="rgb(182,166,222)" stop-opacity="0.75"/><stop offset="1" stop-color="rgb(200,170,210)" stop-opacity="0.25"/></linearGradient></defs>
<polygon points="858.9,487.8 861.6,487 864.5,487.8 867,486.5 869.5,487.2 872.1,487.7 875,486.4 877.9,487.7 881,485.5 884,486.9 887,487.2 890,486.4 893.3,487.6 896.6,488.3 899.8,486.3 902.6,487 905.3,487.2 908,485.9 910.7,487.5 913.3,488.2 915.9,487.4 918.6,487.9 921.2,485.5 924.1,488.1 927.1,487.3 930,488.6 933.3,488.1 936.6,488.2 939.2,488.1 941.8,488 946.1,488.1 950,488.8 953.7,490.2 957.2,490.2 959.8,491.5 962.2,492.8 964,495.8 963.3,500 964,503.9 963.2,507.1 960.7,508.4 958.3,509.9 954.9,511.6 950.1,512.7 947,513 943.9,512.8 940.4,514.7 936.7,512.9 934,512.6 931.3,512.4 928.6,512.4 925.7,512.3 922.9,512.2 920,513.4 916.8,513.8 913.5,513 910.3,513.7 907.6,513.9 904.8,513.4 902.1,512.6 899.5,514.5 896.8,514.9 894.2,514 891.5,512.7 888.9,513.1 885.9,514.2 883,514.4 880,513.4 876.5,513.4 872.9,513.3 870,514 867.1,514 862.5,513.4 858.9,513.2 857.5,510.5 857.1,507.2 857.1,503.4 857.4,500 857.8,496.6 856.4,493.2 856.5,490.1" fill="url(#bg67)" fill-opacity="1" />
<path d="M868.8,495.9 872.9,497.8 874.6,503.1ZM952.2,496 947.5,496.8 942.8,493.8ZM950.3,491.4 956.2,488.3 957.9,490.9ZM928.8,504.3 924.7,504.2 920.7,501.1ZM908.8,498.3 911.6,498.5 915.6,501.8ZM876.3,491.8 880.6,489.7 883.2,491.2Z" fill="rgb(200,120,140)" fill-opacity="0.40"/>
<path d="M892.5,512.7 888.9,509.9 890,505.2ZM962,500.5 959.5,499 958.9,493.2ZM898.5,495.5 895.1,491.9 895,491.5ZM868.2,509.9 870.1,508.4 873.5,511.1ZM885,497.6 883.8,502.4 878.8,503.3ZM933.7,492.7 938.6,489.4 942.3,489.9ZM901,490.9 903.6,497.1 899.9,500.8ZM921.2,490 923.3,492.7 922.7,496.4ZM946.2,492.9 947.8,491.2 950.9,493ZM924.5,503.9 926.1,501 931.5,503.7Z" fill="rgb(200,120,140)" fill-opacity="0.30"/>
<path d="M926.8,502.7 930.7,502 933,504.9ZM926.6,490.8 924.2,490.6 922.4,487.2ZM945.4,506.2 944.2,510.1 939.4,509.9ZM917.2,501 918.4,495.3 924.8,496.4ZM909.7,499.6 913.3,495 915.7,496.6Z" fill="rgb(200,120,140)" fill-opacity="0.35"/>
<path d="M868.4,508.5 875,502.8 878,506.8ZM922.5,495.4 919.6,496.7 917.4,495.4ZM886.2,490.7 883.2,491.9 879.5,489.9ZM956.5,506.4 954,508.2 952.1,507.6ZM889.3,490.4 887.9,493.8 880.8,495.4Z" fill="rgb(200,120,140)" fill-opacity="0.20"/>
<path d="M905.9,500.4 904.5,502.5 900,499.9ZM950.1,491.6 948.7,494.6 943,493.1ZM932.6,494.6 935.9,492.7 938.7,494.6ZM894.8,511.3 887.9,513.5 885.3,510.5ZM941.3,508 942.7,505.1 947.7,508.8ZM878,493.8 883.2,491.5 885.3,494.3Z" fill="rgb(200,120,140)" fill-opacity="0.45"/>
<path d="M918.6,494.2 922.3,496.4 922.1,498.1ZM895.5,506.1 901.2,502.6 902.9,503.8ZM893.2,493.1 896.2,492.3 897.5,495.1ZM928.6,496 932,494.8 935.6,498.5ZM876.9,500.2 876.8,502 875.3,503.9ZM921,501.3 928.7,499.6 929.2,504ZM891,514.5 894.8,511.1 900.4,514.4ZM878.3,486.3 874.2,490.7 870.3,487.9Z" fill="rgb(200,120,140)" fill-opacity="0.25"/>
<path d="M871,497.2 866.7,500 864,499.3ZM907.4,516.1 905.8,511.4 907.3,509Z" fill="rgb(70,70,150)" fill-opacity="0.20"/>
<path d="M865.2,503.8 863.8,501.7 866.6,493.5ZM878,498 882.7,495.9 885.4,496.4Z" fill="rgb(70,70,150)" fill-opacity="0.45"/>
<path d="M898.2,509.5 902.6,510.2 903.8,511.7ZM959.2,504.9 957.3,507.9 947.7,508.1ZM880.3,491.1 875.7,493.1 869.8,491.1Z" fill="rgb(70,70,150)" fill-opacity="0.40"/>
<path d="M896.8,505.7 901.8,504.3 907.7,506.1ZM924,511.3 929.5,509.7 934.2,512.3ZM912.7,495.2 913.1,498 912.3,500.3Z" fill="rgb(70,70,150)" fill-opacity="0.50"/>
<path d="M959.9,498.4 954.7,497.4 950.5,494ZM861.1,499.4 859.4,500.1 856.9,499.6ZM924.1,512.2 919.8,513.5 918.5,512.8ZM955.3,504.8 957.1,503.7 962.4,505.2ZM908.3,507.1 912.7,504.6 914.4,505ZM916.1,492.9 913,496.2 910.3,495.9Z" fill="rgb(70,70,150)" fill-opacity="0.35"/>
<path d="M950.2,492.7 948.4,495.3 940.7,493.9ZM913.5,497.7 911.6,499.9 908.5,500.3ZM853.7,494.5 858.1,495.1 863.8,498.8ZM872.7,501.9 874.4,501.2 878.4,502.1ZM892.5,501.1 887.5,503.2 883.9,502.5ZM916.7,492.1 922,491 925.8,492.9ZM863.1,509.1 861.3,505.2 862,502.2Z" fill="rgb(70,70,150)" fill-opacity="0.25"/>
<path d="M856.5,494.5 859.8,491.2 861.7,489.4ZM881.9,499.6 875,503.1 873.7,502.1ZM889.8,490.8 894.1,490.8 899.7,494.2ZM940.6,493.4 945.8,491.4 947.6,491.8ZM957.3,507.6 955.4,508.7 952,507.6ZM944.2,494.5 944.7,493.1 947.3,491.5ZM942.2,517.7 938.1,510.9 937.8,506.8Z" fill="rgb(70,70,150)" fill-opacity="0.30"/>
<polygon points="858.9,487.8 861.6,487 864.5,487.8 867,486.5 869.5,487.2 872.1,487.7 875,486.4 877.9,487.7 881,485.5 884,486.9 887,487.2 890,486.4 893.3,487.6 896.6,488.3 899.8,486.3 902.6,487 905.3,487.2 908,485.9 910.7,487.5 913.3,488.2 915.9,487.4 918.6,487.9 921.2,485.5 924.1,488.1 927.1,487.3 930,488.6 933.3,488.1 936.6,488.2 939.2,488.1 941.8,488 946.1,488.1 950,488.8 953.7,490.2 957.2,490.2 959.8,491.5 962.2,492.8 964,495.8 963.3,500 964,503.9 963.2,507.1 960.7,508.4 958.3,509.9 954.9,511.6 950.1,512.7 947,513 943.9,512.8 940.4,514.7 936.7,512.9 934,512.6 931.3,512.4 928.6,512.4 925.7,512.3 922.9,512.2 920,513.4 916.8,513.8 913.5,513 910.3,513.7 907.6,513.9 904.8,513.4 902.1,512.6 899.5,514.5 896.8,514.9 894.2,514 891.5,512.7 888.9,513.1 885.9,514.2 883,514.4 880,513.4 876.5,513.4 872.9,513.3 870,514 867.1,514 862.5,513.4 858.9,513.2 857.5,510.5 857.1,507.2 857.1,503.4 857.4,500 857.8,496.6 856.4,493.2 856.5,490.1" fill="url(#meshb)" fill-opacity="1" />
</g>
<line x1="49.4" y1="222.3" x2="49.4" y2="41.1" stroke="#383838" stroke-width="1.3"/>
<line x1="49.4" y1="222.3" x2="167.0" y2="280.4" stroke="#383838" stroke-width="1.3"/>
<line x1="167.0" y1="280.4" x2="487.6" y2="260.2" stroke="#383838" stroke-width="1.3"/>
<line x1="49.4" y1="220.5" x2="42.2" y2="217.5" stroke="#383838" stroke-width="1.2"/>
<text x="38.8" y="221.2" font-size="9" fill="#262626" stroke="#262626" stroke-width="0.25" text-anchor="end" >-300</text>
<line x1="49.4" y1="189.7" x2="42.2" y2="186.7" stroke="#383838" stroke-width="1.2"/>
<text x="38.8" y="190.4" font-size="9" fill="#262626" stroke="#262626" stroke-width="0.25" text-anchor="end" >-200</text>
<line x1="49.4" y1="158.9" x2="42.2" y2="155.9" stroke="#383838" stroke-width="1.2"/>
<text x="38.8" y="159.6" font-size="9" fill="#262626" stroke="#262626" stroke-width="0.25" text-anchor="end" >-100</text>
<line x1="49.4" y1="128.2" x2="42.2" y2="125.2" stroke="#383838" stroke-width="1.2"/>
<text x="38.8" y="128.9" font-size="9" fill="#262626" stroke="#262626" stroke-width="0.25" text-anchor="end" >0</text>
<line x1="49.4" y1="97.4" x2="42.2" y2="94.4" stroke="#383838" stroke-width="1.2"/>
<text x="38.8" y="98.1" font-size="9" fill="#262626" stroke="#262626" stroke-width="0.25" text-anchor="end" >100</text>
<line x1="49.4" y1="66.6" x2="42.2" y2="63.6" stroke="#383838" stroke-width="1.2"/>
<text x="38.8" y="67.3" font-size="9" fill="#262626" stroke="#262626" stroke-width="0.25" text-anchor="end" >200</text>
<line x1="51.6" y1="223.4" x2="45.1" y2="223.8" stroke="#383838" stroke-width="1.2"/>
<text x="40.8" y="233.9" font-size="9" fill="#262626" stroke="#262626" stroke-width="0.25" text-anchor="end" >400</text>
<line x1="73.2" y1="234.0" x2="66.7" y2="234.4" stroke="#383838" stroke-width="1.2"/>
<text x="62.4" y="244.5" font-size="9" fill="#262626" stroke="#262626" stroke-width="0.25" text-anchor="end" >400</text>
<line x1="94.8" y1="244.7" x2="88.3" y2="245.1" stroke="#383838" stroke-width="1.2"/>
<text x="84.0" y="255.2" font-size="9" fill="#262626" stroke="#262626" stroke-width="0.25" text-anchor="end" >200</text>
<line x1="116.4" y1="255.4" x2="109.9" y2="255.8" stroke="#383838" stroke-width="1.2"/>
<text x="105.6" y="265.9" font-size="9" fill="#262626" stroke="#262626" stroke-width="0.25" text-anchor="end" >0</text>
<line x1="138.0" y1="266.1" x2="131.5" y2="266.5" stroke="#383838" stroke-width="1.2"/>
<text x="127.2" y="276.6" font-size="9" fill="#262626" stroke="#262626" stroke-width="0.25" text-anchor="end" >-200</text>
<line x1="159.6" y1="276.8" x2="153.1" y2="277.2" stroke="#383838" stroke-width="1.2"/>
<text x="148.8" y="287.3" font-size="9" fill="#262626" stroke="#262626" stroke-width="0.25" text-anchor="end" >-400</text>
<line x1="175.9" y1="279.8" x2="182.9" y2="283.4" stroke="#383838" stroke-width="1.2"/>
<text x="186.4" y="294.8" font-size="9" fill="#262626" stroke="#262626" stroke-width="0.25" text-anchor="start" >-400</text>
<line x1="205.5" y1="278.0" x2="212.5" y2="281.6" stroke="#383838" stroke-width="1.2"/>
<text x="216.0" y="293.0" font-size="9" fill="#262626" stroke="#262626" stroke-width="0.25" text-anchor="start" >-200</text>
<line x1="235.1" y1="276.1" x2="242.1" y2="279.7" stroke="#383838" stroke-width="1.2"/>
<text x="245.6" y="291.1" font-size="9" fill="#262626" stroke="#262626" stroke-width="0.25" text-anchor="start" >-100</text>
<line x1="264.8" y1="274.2" x2="271.8" y2="277.8" stroke="#383838" stroke-width="1.2"/>
<text x="275.3" y="289.2" font-size="9" fill="#262626" stroke="#262626" stroke-width="0.25" text-anchor="start" >0</text>
<line x1="294.4" y1="272.4" x2="301.4" y2="276.0" stroke="#383838" stroke-width="1.2"/>
<text x="304.9" y="287.4" font-size="9" fill="#262626" stroke="#262626" stroke-width="0.25" text-anchor="start" >100</text>
<line x1="324.0" y1="270.5" x2="331.0" y2="274.1" stroke="#383838" stroke-width="1.2"/>
<text x="334.5" y="285.5" font-size="9" fill="#262626" stroke="#262626" stroke-width="0.25" text-anchor="start" >200</text>
<line x1="353.7" y1="268.6" x2="360.7" y2="272.2" stroke="#383838" stroke-width="1.2"/>
<text x="364.2" y="283.6" font-size="9" fill="#262626" stroke="#262626" stroke-width="0.25" text-anchor="start" >300</text>
<line x1="383.3" y1="266.8" x2="390.3" y2="270.4" stroke="#383838" stroke-width="1.2"/>
<text x="393.8" y="281.8" font-size="9" fill="#262626" stroke="#262626" stroke-width="0.25" text-anchor="start" >400</text>
<line x1="412.9" y1="264.9" x2="419.9" y2="268.5" stroke="#383838" stroke-width="1.2"/>
<text x="423.4" y="279.9" font-size="9" fill="#262626" stroke="#262626" stroke-width="0.25" text-anchor="start" >500</text>
<line x1="442.6" y1="263.0" x2="449.6" y2="266.6" stroke="#383838" stroke-width="1.2"/>
<text x="453.1" y="278.0" font-size="9" fill="#262626" stroke="#262626" stroke-width="0.25" text-anchor="start" >600</text>
<line x1="472.2" y1="261.2" x2="479.2" y2="264.8" stroke="#383838" stroke-width="1.2"/>
<text x="482.7" y="276.2" font-size="9" fill="#262626" stroke="#262626" stroke-width="0.25" text-anchor="start" >700</text>
<text x="300.5" y="306.8" font-size="14.5" fill="#262626" stroke="#262626" stroke-width="0.25" text-anchor="middle" >X / mm</text>
<text x="0" y="0" font-size="14.5" fill="#262626" text-anchor="middle" transform="translate(68.8,278.5) rotate(26.6)">Y / mm</text>
<text x="0" y="0" font-size="14.5" fill="#262626" text-anchor="middle" transform="translate(15.5,136) rotate(-90)">Z / mm</text>
<line x1="674.0" y1="5.2" x2="674.0" y2="293.1" stroke="#383838" stroke-width="1.3"/>
<line x1="673.5" y1="292.6" x2="983.0" y2="292.6" stroke="#383838" stroke-width="1.3"/>
<line x1="692.9" y1="292.6" x2="692.9" y2="300.6" stroke="#383838" stroke-width="1.3"/>
<text x="692.9" y="315.6" font-size="10" fill="#262626" stroke="#262626" stroke-width="0.25" text-anchor="middle" >-600</text>
<line x1="739.5" y1="292.6" x2="739.5" y2="300.6" stroke="#383838" stroke-width="1.3"/>
<text x="739.5" y="315.6" font-size="10" fill="#262626" stroke="#262626" stroke-width="0.25" text-anchor="middle" >-400</text>
<line x1="786.0" y1="292.6" x2="786.0" y2="300.6" stroke="#383838" stroke-width="1.3"/>
<text x="786.0" y="315.6" font-size="10" fill="#262626" stroke="#262626" stroke-width="0.25" text-anchor="middle" >-200</text>
<line x1="832.6" y1="292.6" x2="832.6" y2="300.6" stroke="#383838" stroke-width="1.3"/>
<text x="832.6" y="315.6" font-size="10" fill="#262626" stroke="#262626" stroke-width="0.25" text-anchor="middle" >0</text>
<line x1="879.2" y1="292.6" x2="879.2" y2="300.6" stroke="#383838" stroke-width="1.3"/>
<text x="879.2" y="315.6" font-size="10" fill="#262626" stroke="#262626" stroke-width="0.25" text-anchor="middle" >200</text>
<line x1="925.7" y1="292.6" x2="925.7" y2="300.6" stroke="#383838" stroke-width="1.3"/>
<text x="925.7" y="315.6" font-size="10" fill="#262626" stroke="#262626" stroke-width="0.25" text-anchor="middle" >400</text>
<line x1="972.3" y1="292.6" x2="972.3" y2="300.6" stroke="#383838" stroke-width="1.3"/>
<text x="972.3" y="315.6" font-size="10" fill="#262626" stroke="#262626" stroke-width="0.25" text-anchor="middle" >600</text>
<line x1="666.0" y1="18.5" x2="674.0" y2="18.5" stroke="#383838" stroke-width="1.3"/>
<text x="662.0" y="23.3" font-size="10" fill="#262626" stroke="#262626" stroke-width="0.25" text-anchor="end" >800</text>
<line x1="666.0" y1="60.5" x2="674.0" y2="60.5" stroke="#383838" stroke-width="1.3"/>
<text x="662.0" y="65.3" font-size="10" fill="#262626" stroke="#262626" stroke-width="0.25" text-anchor="end" >600</text>
<line x1="666.0" y1="102.5" x2="674.0" y2="102.5" stroke="#383838" stroke-width="1.3"/>
<text x="662.0" y="107.3" font-size="10" fill="#262626" stroke="#262626" stroke-width="0.25" text-anchor="end" >400</text>
<line x1="666.0" y1="144.5" x2="674.0" y2="144.5" stroke="#383838" stroke-width="1.3"/>
<text x="662.0" y="149.3" font-size="10" fill="#262626" stroke="#262626" stroke-width="0.25" text-anchor="end" >200</text>
<line x1="666.0" y1="186.5" x2="674.0" y2="186.5" stroke="#383838" stroke-width="1.3"/>
<text x="662.0" y="191.3" font-size="10" fill="#262626" stroke="#262626" stroke-width="0.25" text-anchor="end" >0</text>
<line x1="666.0" y1="228.5" x2="674.0" y2="228.5" stroke="#383838" stroke-width="1.3"/>
<text x="662.0" y="233.3" font-size="10" fill="#262626" stroke="#262626" stroke-width="0.25" text-anchor="end" >-200</text>
<line x1="666.0" y1="270.5" x2="674.0" y2="270.5" stroke="#383838" stroke-width="1.3"/>
<text x="662.0" y="275.3" font-size="10" fill="#262626" stroke="#262626" stroke-width="0.25" text-anchor="end" >-400</text>
<text x="832.7" y="334.0" font-size="14.5" fill="#262626" stroke="#262626" stroke-width="0.25" text-anchor="middle" >X / mm</text>
<text x="0" y="0" font-size="14.5" fill="#262626" text-anchor="middle" transform="translate(636.5,142.5) rotate(-90)">Y / mm</text>
<line x1="70.5" y1="369.4" x2="70.5" y2="618.6" stroke="#383838" stroke-width="1.3"/>
<line x1="70.0" y1="618.1" x2="488.8" y2="618.1" stroke="#383838" stroke-width="1.3"/>
<line x1="94.1" y1="618.1" x2="94.1" y2="629.6" stroke="#383838" stroke-width="1.3"/>
<text x="94.1" y="644.9" font-size="10" fill="#262626" stroke="#262626" stroke-width="0.25" text-anchor="middle" >-400</text>
<line x1="164.2" y1="618.1" x2="164.2" y2="629.6" stroke="#383838" stroke-width="1.3"/>
<text x="164.2" y="644.9" font-size="10" fill="#262626" stroke="#262626" stroke-width="0.25" text-anchor="middle" >-200</text>
<line x1="234.3" y1="618.1" x2="234.3" y2="629.6" stroke="#383838" stroke-width="1.3"/>
<text x="234.3" y="644.9" font-size="10" fill="#262626" stroke="#262626" stroke-width="0.25" text-anchor="middle" >0</text>
<line x1="304.4" y1="618.1" x2="304.4" y2="629.6" stroke="#383838" stroke-width="1.3"/>
<text x="304.4" y="644.9" font-size="10" fill="#262626" stroke="#262626" stroke-width="0.25" text-anchor="middle" >200</text>
<line x1="374.5" y1="618.1" x2="374.5" y2="629.6" stroke="#383838" stroke-width="1.3"/>
<text x="374.5" y="644.9" font-size="10" fill="#262626" stroke="#262626" stroke-width="0.25" text-anchor="middle" >400</text>
<line x1="444.6" y1="618.1" x2="444.6" y2="629.6" stroke="#383838" stroke-width="1.3"/>
<text x="444.6" y="644.9" font-size="10" fill="#262626" stroke="#262626" stroke-width="0.25" text-anchor="middle" >600</text>
<line x1="59.0" y1="382.5" x2="70.5" y2="382.5" stroke="#383838" stroke-width="1.3"/>
<text x="55.0" y="387.3" font-size="10" fill="#262626" stroke="#262626" stroke-width="0.25" text-anchor="end" >300</text>
<line x1="59.0" y1="417.6" x2="70.5" y2="417.6" stroke="#383838" stroke-width="1.3"/>
<text x="55.0" y="422.4" font-size="10" fill="#262626" stroke="#262626" stroke-width="0.25" text-anchor="end" >200</text>
<line x1="59.0" y1="452.6" x2="70.5" y2="452.6" stroke="#383838" stroke-width="1.3"/>
<text x="55.0" y="457.4" font-size="10" fill="#262626" stroke="#262626" stroke-width="0.25" text-anchor="end" >100</text>
<line x1="59.0" y1="487.7" x2="70.5" y2="487.7" stroke="#383838" stroke-width="1.3"/>
<text x="55.0" y="492.5" font-size="10" fill="#262626" stroke="#262626" stroke-width="0.25" text-anchor="end" >0</text>
<line x1="59.0" y1="522.8" x2="70.5" y2="522.8" stroke="#383838" stroke-width="1.3"/>
<text x="55.0" y="527.6" font-size="10" fill="#262626" stroke="#262626" stroke-width="0.25" text-anchor="end" >-100</text>
<line x1="59.0" y1="557.8" x2="70.5" y2="557.8" stroke="#383838" stroke-width="1.3"/>
<text x="55.0" y="562.6" font-size="10" fill="#262626" stroke="#262626" stroke-width="0.25" text-anchor="end" >-200</text>
<line x1="59.0" y1="592.9" x2="70.5" y2="592.9" stroke="#383838" stroke-width="1.3"/>
<text x="55.0" y="597.7" font-size="10" fill="#262626" stroke="#262626" stroke-width="0.25" text-anchor="end" >-300</text>
<text x="272.4" y="662.8" font-size="14.5" fill="#262626" stroke="#262626" stroke-width="0.25" text-anchor="middle" >X / mm</text>
<text x="0" y="0" font-size="14.5" fill="#262626" text-anchor="middle" transform="translate(28.8,494.5) rotate(-90)">Y / mm</text>
<line x1="617.7" y1="374.4" x2="617.7" y2="622.4" stroke="#383838" stroke-width="1.3"/>
<line x1="617.2" y1="621.9" x2="1049.6" y2="621.9" stroke="#383838" stroke-width="1.3"/>
<line x1="675.6" y1="621.9" x2="675.6" y2="633.9" stroke="#383838" stroke-width="1.3"/>
<text x="675.6" y="648.6" font-size="10" fill="#262626" stroke="#262626" stroke-width="0.25" text-anchor="middle" >-400</text>
<line x1="745.0" y1="621.9" x2="745.0" y2="633.9" stroke="#383838" stroke-width="1.3"/>
<text x="745.0" y="648.6" font-size="10" fill="#262626" stroke="#262626" stroke-width="0.25" text-anchor="middle" >-200</text>
<line x1="814.4" y1="621.9" x2="814.4" y2="633.9" stroke="#383838" stroke-width="1.3"/>
<text x="814.4" y="648.6" font-size="10" fill="#262626" stroke="#262626" stroke-width="0.25" text-anchor="middle" >0</text>
<line x1="883.8" y1="621.9" x2="883.8" y2="633.9" stroke="#383838" stroke-width="1.3"/>
<text x="883.8" y="648.6" font-size="10" fill="#262626" stroke="#262626" stroke-width="0.25" text-anchor="middle" >200</text>
<line x1="953.2" y1="621.9" x2="953.2" y2="633.9" stroke="#383838" stroke-width="1.3"/>
<text x="953.2" y="648.6" font-size="10" fill="#262626" stroke="#262626" stroke-width="0.25" text-anchor="middle" >400</text>
<line x1="1022.6" y1="621.9" x2="1022.6" y2="633.9" stroke="#383838" stroke-width="1.3"/>
<text x="1022.6" y="648.6" font-size="10" fill="#262626" stroke="#262626" stroke-width="0.25" text-anchor="middle" >600</text>
<line x1="605.7" y1="396.1" x2="617.7" y2="396.1" stroke="#383838" stroke-width="1.3"/>
<text x="601.0" y="400.9" font-size="10" fill="#262626" stroke="#262626" stroke-width="0.25" text-anchor="end" >300</text>
<line x1="605.7" y1="430.8" x2="617.7" y2="430.8" stroke="#383838" stroke-width="1.3"/>
<text x="601.0" y="435.6" font-size="10" fill="#262626" stroke="#262626" stroke-width="0.25" text-anchor="end" >200</text>
<line x1="605.7" y1="465.6" x2="617.7" y2="465.6" stroke="#383838" stroke-width="1.3"/>
<text x="601.0" y="470.4" font-size="10" fill="#262626" stroke="#262626" stroke-width="0.25" text-anchor="end" >100</text>
<line x1="605.7" y1="500.4" x2="617.7" y2="500.4" stroke="#383838" stroke-width="1.3"/>
<text x="601.0" y="505.2" font-size="10" fill="#262626" stroke="#262626" stroke-width="0.25" text-anchor="end" >0</text>
<line x1="605.7" y1="535.2" x2="617.7" y2="535.2" stroke="#383838" stroke-width="1.3"/>
<text x="601.0" y="540.0" font-size="10" fill="#262626" stroke="#262626" stroke-width="0.25" text-anchor="end" >-100</text>
<line x1="605.7" y1="570.0" x2="617.7" y2="570.0" stroke="#383838" stroke-width="1.3"/>
<text x="601.0" y="574.8" font-size="10" fill="#262626" stroke="#262626" stroke-width="0.25" text-anchor="end" >-200</text>
<line x1="605.7" y1="604.7" x2="617.7" y2="604.7" stroke="#383838" stroke-width="1.3"/>
<text x="601.0" y="609.5" font-size="10" fill="#262626" stroke="#262626" stroke-width="0.25" text-anchor="end" >-300</text>
<text x="825.7" y="666.5" font-size="14.5" fill="#262626" stroke="#262626" stroke-width="0.25" text-anchor="middle" >X / mm</text>
<text x="0" y="0" font-size="14.5" fill="#262626" text-anchor="middle" transform="translate(575.3,499.3) rotate(-90)">Y / mm</text>
<text x="43.9" y="21.0" font-family="Liberation Serif, Times New Roman, serif" font-size="27.5" fill="#111">(a)</text>
<text x="581.1" y="21.3" font-family="Liberation Serif, Times New Roman, serif" font-size="27.5" fill="#111">(b)</text>
<text x="41.7" y="350.8" font-family="Liberation Serif, Times New Roman, serif" font-size="27.5" fill="#111">(c)</text>
<text x="580.7" y="350.3" font-family="Liberation Serif, Times New Roman, serif" font-size="27.5" fill="#111">(d)</text>
</svg>
</body></html>
